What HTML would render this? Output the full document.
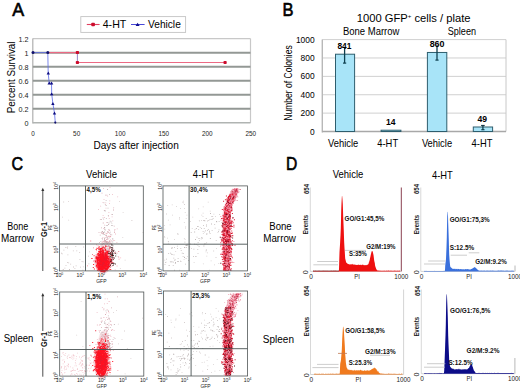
<!DOCTYPE html>
<html><head><meta charset="utf-8"><style>
html,body{margin:0;padding:0;background:#fff;}
svg{display:block;font-family:"Liberation Sans", sans-serif;}
</style></head><body>
<svg width="520" height="391" viewBox="0 0 520 391">
<rect width="520" height="391" fill="#fff"/>
<text x="12.2" y="15.8" font-size="17.8" textLength="11.9" lengthAdjust="spacingAndGlyphs" fill="#000" stroke="#000" stroke-width="0.6">A</text>
<line x1="32.8" y1="38.6" x2="250.5" y2="38.6" stroke="#c8c8c8" stroke-width="1.2"/>
<line x1="250.5" y1="38.6" x2="250.5" y2="122.8" stroke="#c8c8c8" stroke-width="1.2"/>
<line x1="32.8" y1="38.6" x2="32.8" y2="123.5" stroke="#b0b0b0" stroke-width="1.2"/>
<line x1="32.8" y1="52.63333333333334" x2="250.5" y2="52.63333333333334" stroke="#939895" stroke-width="2"/>
<line x1="32.8" y1="66.66666666666666" x2="250.5" y2="66.66666666666666" stroke="#939895" stroke-width="2"/>
<line x1="32.8" y1="80.7" x2="250.5" y2="80.7" stroke="#939895" stroke-width="2"/>
<line x1="32.8" y1="94.73333333333333" x2="250.5" y2="94.73333333333333" stroke="#939895" stroke-width="2"/>
<line x1="32.8" y1="108.76666666666667" x2="250.5" y2="108.76666666666667" stroke="#939895" stroke-width="2"/>
<line x1="32.8" y1="122.8" x2="250.5" y2="122.8" stroke="#b0b4b2" stroke-width="1.4"/>
<text x="28.6" y="41.60000000000001" font-size="7.2" text-anchor="end" fill="#222">1.2</text>
<text x="28.6" y="55.63333333333334" font-size="7.2" text-anchor="end" fill="#222">1</text>
<text x="28.6" y="69.66666666666666" font-size="7.2" text-anchor="end" fill="#222">0.8</text>
<text x="28.6" y="83.7" font-size="7.2" text-anchor="end" fill="#222">0.6</text>
<text x="28.6" y="97.73333333333333" font-size="7.2" text-anchor="end" fill="#222">0.4</text>
<text x="28.6" y="111.76666666666667" font-size="7.2" text-anchor="end" fill="#222">0.2</text>
<text x="28.6" y="125.8" font-size="7.2" text-anchor="end" fill="#222">0</text>
<text x="33.099999999999994" y="135.7" font-size="7.6" text-anchor="middle" textLength="3.55" lengthAdjust="spacingAndGlyphs" fill="#222">0</text>
<text x="76.64" y="135.7" font-size="7.6" text-anchor="middle" textLength="7.1" lengthAdjust="spacingAndGlyphs" fill="#222">50</text>
<text x="120.17999999999999" y="135.7" font-size="7.6" text-anchor="middle" textLength="10.649999999999999" lengthAdjust="spacingAndGlyphs" fill="#222">100</text>
<text x="163.72000000000003" y="135.7" font-size="7.6" text-anchor="middle" textLength="10.649999999999999" lengthAdjust="spacingAndGlyphs" fill="#222">150</text>
<text x="207.26" y="135.7" font-size="7.6" text-anchor="middle" textLength="10.649999999999999" lengthAdjust="spacingAndGlyphs" fill="#222">200</text>
<text x="250.8" y="135.7" font-size="7.6" text-anchor="middle" textLength="10.649999999999999" lengthAdjust="spacingAndGlyphs" fill="#222">250</text>
<text x="93.4" y="148.7" font-size="10.8" textLength="85.4" lengthAdjust="spacingAndGlyphs" fill="#000">Days after injection</text>
<text x="15.4" y="77.4" font-size="10.2" text-anchor="middle" textLength="71.8" lengthAdjust="spacingAndGlyphs" transform="rotate(-90 15.4 77.4)" fill="#000">Percent Survival</text>
<rect x="80.8" y="16.6" width="104.8" height="15.8" fill="#fff" stroke="#c4c4c4" stroke-width="0.9"/>
<line x1="86.8" y1="24.5" x2="99.6" y2="24.5" stroke="#e04060" stroke-width="1.1"/>
<rect x="91.3" y="22.7" width="3.6" height="3.5" rx="0.8" fill="#cc0c2c"/>
<text x="102.7" y="27.7" font-size="10.8" textLength="23.6" lengthAdjust="spacingAndGlyphs" fill="#000">4-HT</text>
<line x1="131.0" y1="24.5" x2="144.6" y2="24.5" stroke="#4848d8" stroke-width="1"/>
<path d="M135.6 26 L137.6 22.8 L139.6 26 Z" fill="#101090"/>
<text x="148" y="27.7" font-size="10.8" textLength="32.8" lengthAdjust="spacingAndGlyphs" fill="#000">Vehicle</text>
<polyline points="48,52.6 77.4,52.6" fill="none" stroke="#ec6a84" stroke-width="1.2"/>
<polyline points="77.4,62.5 225.1,62.5" fill="none" stroke="#ec6a84" stroke-width="1.2"/>
<line x1="77.4" y1="52.6" x2="77.4" y2="62.5" stroke="#8878c0" stroke-width="0.9"/>
<rect x="75.80000000000001" y="51.0" width="3.2" height="3" rx="0.8" fill="#cc0c2c"/>
<rect x="75.80000000000001" y="61.0" width="3.2" height="3" rx="0.8" fill="#cc0c2c"/>
<rect x="223.5" y="61.0" width="3.2" height="3" rx="0.8" fill="#cc0c2c"/>
<polyline points="33,52.6 47.8,52.6 48.2,73.2 49.2,83.1 51.5,83.1 51.7,94.0 52.9,103.6 54.5,113.2 55.3,122.8" fill="none" stroke="#5a6ae6" stroke-width="0.8"/>
<circle cx="33" cy="52.6" r="1.5" fill="#10106a"/>
<circle cx="47.8" cy="52.6" r="1.5" fill="#10106a"/>
<circle cx="55.3" cy="122.6" r="1.1" fill="#10106a"/>
<path d="M46.599999999999994 74.5 L48.3 71.60000000000001 L50.0 74.5 Z" fill="#0c0c80"/>
<path d="M47.5 84.39999999999999 L49.2 81.5 L50.900000000000006 84.39999999999999 Z" fill="#0c0c80"/>
<path d="M49.9 84.39999999999999 L51.6 81.5 L53.300000000000004 84.39999999999999 Z" fill="#0c0c80"/>
<path d="M50.0 95.3 L51.7 92.4 L53.400000000000006 95.3 Z" fill="#0c0c80"/>
<path d="M51.199999999999996 104.89999999999999 L52.9 102.0 L54.6 104.89999999999999 Z" fill="#0c0c80"/>
<path d="M52.8 114.5 L54.5 111.60000000000001 L56.2 114.5 Z" fill="#0c0c80"/>
<text x="282.6" y="15.7" font-size="17.8" textLength="11.0" lengthAdjust="spacingAndGlyphs" fill="#000" stroke="#000" stroke-width="0.6">B</text>
<text x="356.7" y="21.7" font-size="11" textLength="113.9" lengthAdjust="spacingAndGlyphs">1000 GFP<tspan font-size="6" dy="-4">+</tspan><tspan dy="4"> cells / plate</tspan></text>
<text x="342.9" y="34.5" font-size="10" textLength="56.5" lengthAdjust="spacingAndGlyphs" fill="#000">Bone Marrow</text>
<text x="447.7" y="34.5" font-size="10" textLength="28.3" lengthAdjust="spacingAndGlyphs" fill="#000">Spleen</text>
<line x1="322.3" y1="39.599999999999994" x2="506" y2="39.599999999999994" stroke="#d0d0d0" stroke-width="1"/>
<line x1="322.3" y1="57.980000000000004" x2="506" y2="57.980000000000004" stroke="#d0d0d0" stroke-width="1"/>
<line x1="322.3" y1="76.36" x2="506" y2="76.36" stroke="#d0d0d0" stroke-width="1"/>
<line x1="322.3" y1="94.74000000000001" x2="506" y2="94.74000000000001" stroke="#d0d0d0" stroke-width="1"/>
<line x1="322.3" y1="113.12" x2="506" y2="113.12" stroke="#d0d0d0" stroke-width="1"/>
<line x1="506" y1="39.599999999999994" x2="506" y2="131.5" stroke="#c8c8c8" stroke-width="1"/>
<line x1="322.3" y1="39.599999999999994" x2="322.3" y2="132.5" stroke="#b8b8b8" stroke-width="1.4"/>
<line x1="322.3" y1="131.5" x2="506" y2="131.5" stroke="#a8a8a8" stroke-width="1.4"/>
<text x="314.6" y="42.599999999999994" font-size="9.9" text-anchor="end" textLength="18.72" lengthAdjust="spacingAndGlyphs" fill="#000">1000</text>
<text x="314.6" y="60.980000000000004" font-size="9.9" text-anchor="end" textLength="14.04" lengthAdjust="spacingAndGlyphs" fill="#000">800</text>
<text x="314.6" y="79.36" font-size="9.9" text-anchor="end" textLength="14.04" lengthAdjust="spacingAndGlyphs" fill="#000">600</text>
<text x="314.6" y="97.74000000000001" font-size="9.9" text-anchor="end" textLength="14.04" lengthAdjust="spacingAndGlyphs" fill="#000">400</text>
<text x="314.6" y="116.12" font-size="9.9" text-anchor="end" textLength="14.04" lengthAdjust="spacingAndGlyphs" fill="#000">200</text>
<text x="314.6" y="134.5" font-size="9.9" text-anchor="end" textLength="4.68" lengthAdjust="spacingAndGlyphs" fill="#000">0</text>
<text x="291.6" y="83" font-size="10.0" text-anchor="middle" textLength="75.5" lengthAdjust="spacingAndGlyphs" transform="rotate(-90 291.6 83)" fill="#000">Number of Colonies</text>
<rect x="335.5" y="54.21209999999999" width="19.100000000000023" height="77.28790000000001" fill="#a8e4f8" stroke="#2e5e6e" stroke-width="1"/>
<line x1="344.6" y1="47.3" x2="344.6" y2="63.1" stroke="#0e4050" stroke-width="1.3"/>
<line x1="343.0" y1="63.1" x2="346.20000000000005" y2="63.1" stroke="#0e4050" stroke-width="1.2"/>
<rect x="381.1" y="130.2134" width="19.799999999999955" height="1.2865999999999929" fill="#a8e4f8" stroke="#2e5e6e" stroke-width="1"/>
<rect x="427.4" y="52.465999999999994" width="19.400000000000034" height="79.034" fill="#a8e4f8" stroke="#2e5e6e" stroke-width="1"/>
<line x1="437" y1="45.2" x2="437" y2="60.1" stroke="#0e4050" stroke-width="1.3"/>
<line x1="435.4" y1="60.1" x2="438.6" y2="60.1" stroke="#0e4050" stroke-width="1.2"/>
<rect x="473.3" y="126.9969" width="19.30000000000001" height="4.503100000000003" fill="#a8e4f8" stroke="#2e5e6e" stroke-width="1"/>
<line x1="482.9" y1="125.5" x2="482.9" y2="129.7" stroke="#0e4050" stroke-width="1.3"/>
<line x1="481.29999999999995" y1="129.7" x2="484.5" y2="129.7" stroke="#0e4050" stroke-width="1.2"/>
<line x1="481.09999999999997" y1="125.5" x2="484.7" y2="125.5" stroke="#163848" stroke-width="1.2"/>
<text x="344.4" y="48.9" font-size="9.8" text-anchor="middle" font-weight="bold" textLength="14" lengthAdjust="spacingAndGlyphs" fill="#000">841</text>
<text x="390.7" y="124.7" font-size="9.8" text-anchor="middle" font-weight="bold" textLength="9.5" lengthAdjust="spacingAndGlyphs" fill="#000">14</text>
<text x="437.1" y="46.8" font-size="9.8" text-anchor="middle" font-weight="bold" textLength="14.9" lengthAdjust="spacingAndGlyphs" fill="#000">860</text>
<text x="482.3" y="121.5" font-size="9.8" text-anchor="middle" font-weight="bold" textLength="9.6" lengthAdjust="spacingAndGlyphs" fill="#000">49</text>
<text x="343.1" y="146.6" font-size="10.4" text-anchor="middle" textLength="30.2" lengthAdjust="spacingAndGlyphs" fill="#000">Vehicle</text>
<text x="387.7" y="146.6" font-size="10.4" text-anchor="middle" textLength="20.8" lengthAdjust="spacingAndGlyphs" fill="#000">4-HT</text>
<text x="437" y="146.6" font-size="10.4" text-anchor="middle" textLength="30.2" lengthAdjust="spacingAndGlyphs" fill="#000">Vehicle</text>
<text x="482" y="146.6" font-size="10.4" text-anchor="middle" textLength="20.8" lengthAdjust="spacingAndGlyphs" fill="#000">4-HT</text>
<text x="11.4" y="169.8" font-size="17.8" textLength="11.6" lengthAdjust="spacingAndGlyphs" fill="#000" stroke="#000" stroke-width="0.6">C</text>
<text x="101.6" y="178.0" font-size="10.4" text-anchor="middle" textLength="31.0" lengthAdjust="spacingAndGlyphs" fill="#000">Vehicle</text>
<text x="203.5" y="178.0" font-size="10.4" text-anchor="middle" textLength="21.3" lengthAdjust="spacingAndGlyphs" fill="#000">4-HT</text>
<text x="17.8" y="230.2" font-size="10" text-anchor="middle" textLength="21" lengthAdjust="spacingAndGlyphs" fill="#000">Bone</text>
<text x="17.5" y="241.5" font-size="10" text-anchor="middle" textLength="33" lengthAdjust="spacingAndGlyphs" fill="#000">Marrow</text>
<text x="18.5" y="341.8" font-size="10" text-anchor="middle" textLength="29.7" lengthAdjust="spacingAndGlyphs" fill="#000">Spleen</text>
<ellipse cx="103.0" cy="262.0" rx="8.64" ry="11.6" fill="#f8b8c0" opacity="0.7"/>
<ellipse cx="105.0" cy="247.74" rx="5.4" ry="7.54" fill="#f4d0d6" opacity="0.6"/>
<ellipse cx="103.0" cy="262.5" rx="6.66" ry="9.86" fill="#ff1424"/>
<path fill="#d0c4c4" d="M68.1 200.9h0.8v0.8h-0.8zM89.0 251.5h0.8v0.8h-0.8zM131.5 220.1h0.8v0.8h-0.8zM117.7 256.1h0.8v0.8h-0.8zM119.0 201.3h0.8v0.8h-0.8zM142.6 231.9h0.8v0.8h-0.8zM63.3 201.6h0.8v0.8h-0.8zM115.8 254.0h0.8v0.8h-0.8zM122.4 237.0h0.8v0.8h-0.8zM122.7 212.0h0.8v0.8h-0.8zM119.9 268.0h0.8v0.8h-0.8zM67.3 246.4h0.8v0.8h-0.8zM68.3 219.8h0.8v0.8h-0.8zM124.7 259.8h0.8v0.8h-0.8zM111.5 223.2h0.8v0.8h-0.8zM82.9 266.5h0.8v0.8h-0.8zM62.2 216.8h0.8v0.8h-0.8zM105.1 269.7h0.8v0.8h-0.8z"/>
<path fill="#c4b4b4" d="M82.5 269.7h0.8v0.8h-0.8zM69.2 269.1h0.8v0.8h-0.8zM73.2 266.6h0.8v0.8h-0.8zM79.5 259.2h0.8v0.8h-0.8zM61.8 253.5h0.8v0.8h-0.8zM67.1 262.2h0.8v0.8h-0.8zM63.5 249.8h0.8v0.8h-0.8zM82.7 261.4h0.8v0.8h-0.8zM67.1 247.6h0.8v0.8h-0.8zM75.4 246.3h0.8v0.8h-0.8zM70.3 263.8h0.8v0.8h-0.8zM67.5 254.5h0.8v0.8h-0.8zM88.5 263.4h0.8v0.8h-0.8zM75.7 265.4h0.8v0.8h-0.8zM80.0 266.8h0.8v0.8h-0.8zM81.6 261.3h0.8v0.8h-0.8zM85.1 267.1h0.8v0.8h-0.8zM68.3 262.4h0.8v0.8h-0.8zM62.8 269.1h0.8v0.8h-0.8zM74.5 268.3h0.8v0.8h-0.8zM65.5 247.1h0.8v0.8h-0.8zM61.0 252.7h0.8v0.8h-0.8zM88.1 255.7h0.8v0.8h-0.8zM79.3 252.3h0.8v0.8h-0.8zM72.9 250.4h0.8v0.8h-0.8zM64.5 267.7h0.8v0.8h-0.8zM83.3 246.6h0.8v0.8h-0.8zM76.4 250.5h0.8v0.8h-0.8zM65.6 264.9h0.8v0.8h-0.8z"/>
<path fill="#e8a8b4" d="M104.0 240.7h0.8v0.8h-0.8zM112.9 250.8h0.8v0.8h-0.8zM102.5 252.7h0.8v0.8h-0.8zM104.6 237.3h0.8v0.8h-0.8zM105.1 240.2h0.8v0.8h-0.8zM102.1 231.4h0.8v0.8h-0.8zM110.5 242.6h0.8v0.8h-0.8zM106.7 251.7h0.8v0.8h-0.8zM109.4 236.1h0.8v0.8h-0.8zM105.7 241.1h0.8v0.8h-0.8zM107.2 236.5h0.8v0.8h-0.8zM107.0 252.8h0.8v0.8h-0.8zM109.7 235.5h0.8v0.8h-0.8zM112.2 193.9h0.8v0.8h-0.8zM107.9 235.7h0.8v0.8h-0.8zM117.3 196.4h0.8v0.8h-0.8zM104.4 240.1h0.8v0.8h-0.8zM107.4 238.6h0.8v0.8h-0.8zM106.4 251.6h0.8v0.8h-0.8zM103.6 199.2h0.8v0.8h-0.8zM104.0 217.2h0.8v0.8h-0.8zM105.6 207.8h0.8v0.8h-0.8zM107.9 252.2h0.8v0.8h-0.8zM107.9 248.8h0.8v0.8h-0.8zM100.3 205.7h0.8v0.8h-0.8zM103.0 249.8h0.8v0.8h-0.8zM111.7 216.4h0.8v0.8h-0.8zM106.3 222.2h0.8v0.8h-0.8zM107.0 241.5h0.8v0.8h-0.8zM101.2 247.0h0.8v0.8h-0.8zM110.6 240.8h0.8v0.8h-0.8zM112.0 250.7h0.8v0.8h-0.8zM102.6 202.2h0.8v0.8h-0.8zM108.3 246.1h0.8v0.8h-0.8zM98.0 209.3h0.8v0.8h-0.8zM110.1 236.4h0.8v0.8h-0.8zM105.2 235.3h0.8v0.8h-0.8zM115.0 233.6h0.8v0.8h-0.8zM108.5 212.3h0.8v0.8h-0.8zM110.1 239.4h0.8v0.8h-0.8zM114.1 231.5h0.8v0.8h-0.8zM109.0 251.3h0.8v0.8h-0.8zM105.6 237.5h0.8v0.8h-0.8zM102.5 236.9h0.8v0.8h-0.8zM107.4 240.9h0.8v0.8h-0.8zM103.2 233.1h0.8v0.8h-0.8zM101.9 242.5h0.8v0.8h-0.8zM112.9 240.0h0.8v0.8h-0.8zM105.6 245.8h0.8v0.8h-0.8zM111.0 250.5h0.8v0.8h-0.8zM103.5 228.1h0.8v0.8h-0.8zM114.6 229.0h0.8v0.8h-0.8zM104.8 240.7h0.8v0.8h-0.8zM106.5 241.8h0.8v0.8h-0.8zM114.3 239.9h0.8v0.8h-0.8zM109.3 230.1h0.8v0.8h-0.8zM113.0 248.6h0.8v0.8h-0.8zM111.0 252.2h0.8v0.8h-0.8zM109.0 246.3h0.8v0.8h-0.8zM105.9 251.1h0.8v0.8h-0.8zM110.6 250.0h0.8v0.8h-0.8zM106.6 233.0h0.8v0.8h-0.8zM108.8 218.3h0.8v0.8h-0.8zM109.8 243.6h0.8v0.8h-0.8zM107.6 242.9h0.8v0.8h-0.8zM105.4 202.4h0.8v0.8h-0.8zM109.6 187.0h0.8v0.8h-0.8zM107.2 245.9h0.8v0.8h-0.8zM116.5 242.2h0.8v0.8h-0.8zM108.3 236.2h0.8v0.8h-0.8zM109.4 200.4h0.8v0.8h-0.8zM108.1 224.2h0.8v0.8h-0.8zM104.3 238.5h0.8v0.8h-0.8zM106.8 253.2h0.8v0.8h-0.8zM109.3 243.5h0.8v0.8h-0.8zM109.1 202.9h0.8v0.8h-0.8zM108.8 244.7h0.8v0.8h-0.8zM108.9 248.5h0.8v0.8h-0.8zM110.3 236.1h0.8v0.8h-0.8zM109.1 240.2h0.8v0.8h-0.8zM105.5 232.8h0.8v0.8h-0.8zM108.9 251.3h0.8v0.8h-0.8zM112.4 220.5h0.8v0.8h-0.8zM106.1 239.1h0.8v0.8h-0.8zM104.3 224.8h0.8v0.8h-0.8zM104.0 251.9h0.8v0.8h-0.8zM106.3 233.5h0.8v0.8h-0.8zM101.6 238.3h0.8v0.8h-0.8zM105.8 242.8h0.8v0.8h-0.8zM101.6 251.3h0.8v0.8h-0.8zM107.3 195.8h0.8v0.8h-0.8zM102.7 215.2h0.8v0.8h-0.8zM101.7 240.7h0.8v0.8h-0.8zM116.8 228.5h0.8v0.8h-0.8zM103.2 188.2h0.8v0.8h-0.8zM110.6 252.2h0.8v0.8h-0.8zM108.0 215.7h0.8v0.8h-0.8zM102.8 252.1h0.8v0.8h-0.8zM105.9 235.1h0.8v0.8h-0.8zM104.4 244.0h0.8v0.8h-0.8zM110.3 246.9h0.8v0.8h-0.8zM107.6 245.8h0.8v0.8h-0.8z"/>
<path fill="#d09aa4" d="M102.4 250.1h0.8v0.8h-0.8zM104.4 252.7h0.8v0.8h-0.8zM109.5 253.0h0.8v0.8h-0.8zM102.8 222.6h0.8v0.8h-0.8zM107.6 250.4h0.8v0.8h-0.8zM107.4 242.0h0.8v0.8h-0.8zM99.0 242.0h0.8v0.8h-0.8zM105.6 242.4h0.8v0.8h-0.8zM104.9 249.7h0.8v0.8h-0.8zM101.8 233.1h0.8v0.8h-0.8zM109.5 241.0h0.8v0.8h-0.8zM108.6 229.2h0.8v0.8h-0.8zM101.8 249.2h0.8v0.8h-0.8zM107.6 251.8h0.8v0.8h-0.8zM107.5 238.5h0.8v0.8h-0.8zM104.1 238.9h0.8v0.8h-0.8zM105.3 194.8h0.8v0.8h-0.8zM113.3 207.5h0.8v0.8h-0.8zM109.0 249.3h0.8v0.8h-0.8zM108.8 241.2h0.8v0.8h-0.8zM106.0 244.7h0.8v0.8h-0.8zM101.8 252.3h0.8v0.8h-0.8zM104.2 249.5h0.8v0.8h-0.8zM107.1 231.6h0.8v0.8h-0.8zM104.5 248.4h0.8v0.8h-0.8zM114.1 232.2h0.8v0.8h-0.8zM102.6 217.5h0.8v0.8h-0.8zM113.6 252.9h0.8v0.8h-0.8zM111.0 252.2h0.8v0.8h-0.8zM108.3 229.4h0.8v0.8h-0.8zM115.0 251.5h0.8v0.8h-0.8zM98.6 232.0h0.8v0.8h-0.8zM106.5 194.8h0.8v0.8h-0.8zM107.0 248.4h0.8v0.8h-0.8zM106.8 253.3h0.8v0.8h-0.8zM107.1 231.8h0.8v0.8h-0.8zM111.6 247.8h0.8v0.8h-0.8zM101.7 246.1h0.8v0.8h-0.8zM111.5 214.2h0.8v0.8h-0.8zM104.9 251.3h0.8v0.8h-0.8zM101.0 227.5h0.8v0.8h-0.8zM111.4 234.4h0.8v0.8h-0.8zM96.3 249.9h0.8v0.8h-0.8zM101.5 232.9h0.8v0.8h-0.8zM107.3 238.6h0.8v0.8h-0.8zM111.9 249.8h0.8v0.8h-0.8zM113.0 209.6h0.8v0.8h-0.8zM103.4 241.2h0.8v0.8h-0.8zM105.2 250.1h0.8v0.8h-0.8zM111.4 249.4h0.8v0.8h-0.8zM102.1 231.3h0.8v0.8h-0.8zM108.8 246.0h0.8v0.8h-0.8zM113.8 225.8h0.8v0.8h-0.8zM99.8 234.7h0.8v0.8h-0.8zM99.9 219.3h0.8v0.8h-0.8zM101.4 248.7h0.8v0.8h-0.8zM104.9 204.2h0.8v0.8h-0.8zM107.0 252.2h0.8v0.8h-0.8zM107.6 231.2h0.8v0.8h-0.8zM109.4 233.0h0.8v0.8h-0.8zM100.8 232.1h0.8v0.8h-0.8zM100.6 251.4h0.8v0.8h-0.8zM109.8 248.2h0.8v0.8h-0.8zM104.1 252.1h0.8v0.8h-0.8zM103.9 210.2h0.8v0.8h-0.8zM103.1 232.4h0.8v0.8h-0.8zM101.6 192.7h0.8v0.8h-0.8zM106.1 252.1h0.8v0.8h-0.8zM114.3 229.7h0.8v0.8h-0.8zM108.4 232.1h0.8v0.8h-0.8zM109.6 248.2h0.8v0.8h-0.8z"/>
<path fill="#b8a8ac" d="M112.4 241.6h0.8v0.8h-0.8zM104.2 231.4h0.8v0.8h-0.8zM101.0 218.9h0.8v0.8h-0.8zM107.1 243.4h0.8v0.8h-0.8zM103.9 246.9h0.8v0.8h-0.8zM113.6 251.4h0.8v0.8h-0.8zM108.8 237.4h0.8v0.8h-0.8zM114.0 253.3h0.8v0.8h-0.8zM105.0 249.3h0.8v0.8h-0.8zM106.7 237.1h0.8v0.8h-0.8zM102.1 247.8h0.8v0.8h-0.8zM102.2 244.2h0.8v0.8h-0.8zM108.3 248.7h0.8v0.8h-0.8zM105.1 240.0h0.8v0.8h-0.8zM100.9 244.5h0.8v0.8h-0.8zM106.7 251.8h0.8v0.8h-0.8zM109.7 220.7h0.8v0.8h-0.8zM102.8 233.9h0.8v0.8h-0.8zM112.0 214.2h0.8v0.8h-0.8zM111.2 253.3h0.8v0.8h-0.8zM110.7 221.6h0.8v0.8h-0.8zM108.1 252.0h0.8v0.8h-0.8zM104.7 210.6h0.8v0.8h-0.8zM104.5 229.1h0.8v0.8h-0.8zM107.4 246.3h0.8v0.8h-0.8zM104.1 240.5h0.8v0.8h-0.8zM104.9 241.2h0.8v0.8h-0.8zM112.5 246.6h0.8v0.8h-0.8zM106.9 251.9h0.8v0.8h-0.8zM103.4 243.1h0.8v0.8h-0.8zM105.7 205.1h0.8v0.8h-0.8zM112.5 238.6h0.8v0.8h-0.8zM104.5 210.0h0.8v0.8h-0.8zM107.0 222.0h0.8v0.8h-0.8zM107.2 189.1h0.8v0.8h-0.8zM100.4 241.0h0.8v0.8h-0.8zM101.7 230.9h0.8v0.8h-0.8zM109.3 242.3h0.8v0.8h-0.8zM105.9 225.3h0.8v0.8h-0.8zM109.1 194.2h0.8v0.8h-0.8zM102.2 238.6h0.8v0.8h-0.8zM104.2 238.2h0.8v0.8h-0.8zM103.5 232.0h0.8v0.8h-0.8zM104.1 227.1h0.8v0.8h-0.8zM106.1 242.3h0.8v0.8h-0.8zM108.1 242.3h0.8v0.8h-0.8zM110.8 247.1h0.8v0.8h-0.8zM107.9 215.2h0.8v0.8h-0.8zM109.9 231.8h0.8v0.8h-0.8zM111.1 225.3h0.8v0.8h-0.8zM105.0 247.0h0.8v0.8h-0.8zM106.0 241.0h0.8v0.8h-0.8zM103.2 246.6h0.8v0.8h-0.8zM103.5 252.2h0.8v0.8h-0.8zM111.4 240.4h0.8v0.8h-0.8zM109.7 242.8h0.8v0.8h-0.8zM112.8 245.2h0.8v0.8h-0.8zM111.9 238.4h0.8v0.8h-0.8zM106.0 248.8h0.8v0.8h-0.8zM105.9 218.0h0.8v0.8h-0.8zM103.3 218.8h0.8v0.8h-0.8zM104.4 227.4h0.8v0.8h-0.8zM108.0 245.0h0.8v0.8h-0.8zM102.7 231.9h0.8v0.8h-0.8zM106.0 235.6h0.8v0.8h-0.8zM103.6 202.4h0.8v0.8h-0.8zM114.1 249.8h0.8v0.8h-0.8zM107.2 224.9h0.8v0.8h-0.8zM104.6 242.0h0.8v0.8h-0.8zM112.3 224.9h0.8v0.8h-0.8zM104.4 234.1h0.8v0.8h-0.8zM105.7 200.2h0.8v0.8h-0.8zM110.3 233.9h0.8v0.8h-0.8zM99.8 252.6h0.8v0.8h-0.8zM108.3 224.2h0.8v0.8h-0.8zM104.8 229.8h0.8v0.8h-0.8zM107.6 207.7h0.8v0.8h-0.8zM108.6 222.6h0.8v0.8h-0.8z"/>
<path fill="#f07080" d="M102.0 259.7h0.9v0.9h-0.9zM90.3 240.5h0.9v0.9h-0.9zM114.1 252.3h0.9v0.9h-0.9zM98.5 263.0h0.9v0.9h-0.9zM101.1 253.7h0.9v0.9h-0.9zM108.2 260.0h0.9v0.9h-0.9zM112.4 259.6h0.9v0.9h-0.9zM98.7 256.0h0.9v0.9h-0.9zM97.8 260.6h0.9v0.9h-0.9zM98.9 255.3h0.9v0.9h-0.9zM107.1 260.7h0.9v0.9h-0.9zM107.6 250.4h0.9v0.9h-0.9zM106.5 263.4h0.9v0.9h-0.9zM100.7 265.5h0.9v0.9h-0.9zM93.1 260.7h0.9v0.9h-0.9zM94.8 265.7h0.9v0.9h-0.9zM94.8 261.1h0.9v0.9h-0.9zM98.3 259.2h0.9v0.9h-0.9zM107.3 259.2h0.9v0.9h-0.9zM111.4 257.8h0.9v0.9h-0.9zM94.3 260.2h0.9v0.9h-0.9zM87.0 265.4h0.9v0.9h-0.9zM118.3 251.1h0.9v0.9h-0.9zM112.1 258.8h0.9v0.9h-0.9zM101.8 256.5h0.9v0.9h-0.9zM103.6 268.8h0.9v0.9h-0.9zM104.3 268.6h0.9v0.9h-0.9zM103.5 254.1h0.9v0.9h-0.9zM116.5 252.7h0.9v0.9h-0.9zM92.0 254.0h0.9v0.9h-0.9zM106.1 263.6h0.9v0.9h-0.9zM102.6 254.9h0.9v0.9h-0.9zM99.7 262.6h0.9v0.9h-0.9zM104.6 254.2h0.9v0.9h-0.9zM108.9 269.1h0.9v0.9h-0.9zM118.3 256.7h0.9v0.9h-0.9zM107.9 261.9h0.9v0.9h-0.9zM102.8 252.6h0.9v0.9h-0.9zM102.0 254.2h0.9v0.9h-0.9zM97.2 257.4h0.9v0.9h-0.9zM100.7 256.5h0.9v0.9h-0.9zM111.6 249.6h0.9v0.9h-0.9zM101.6 259.5h0.9v0.9h-0.9zM118.6 258.7h0.9v0.9h-0.9zM109.8 267.1h0.9v0.9h-0.9zM99.1 263.6h0.9v0.9h-0.9zM102.5 257.1h0.9v0.9h-0.9zM93.1 247.4h0.9v0.9h-0.9zM108.9 256.6h0.9v0.9h-0.9zM111.7 257.4h0.9v0.9h-0.9zM101.8 251.8h0.9v0.9h-0.9zM100.5 250.2h0.9v0.9h-0.9zM100.4 260.4h0.9v0.9h-0.9zM108.2 253.0h0.9v0.9h-0.9zM95.6 254.5h0.9v0.9h-0.9z"/>
<path fill="#f8a8b4" d="M96.1 265.7h0.9v0.9h-0.9zM93.2 260.5h0.9v0.9h-0.9zM103.5 252.2h0.9v0.9h-0.9zM97.3 257.1h0.9v0.9h-0.9zM102.4 251.8h0.9v0.9h-0.9zM102.7 261.4h0.9v0.9h-0.9zM101.4 267.8h0.9v0.9h-0.9zM95.4 260.5h0.9v0.9h-0.9zM103.7 260.9h0.9v0.9h-0.9zM96.4 251.7h0.9v0.9h-0.9zM95.9 256.8h0.9v0.9h-0.9zM111.4 266.1h0.9v0.9h-0.9zM116.6 265.5h0.9v0.9h-0.9zM105.8 259.4h0.9v0.9h-0.9zM101.1 247.5h0.9v0.9h-0.9zM104.7 266.7h0.9v0.9h-0.9zM104.6 256.8h0.9v0.9h-0.9zM102.2 257.8h0.9v0.9h-0.9zM97.5 266.2h0.9v0.9h-0.9zM103.6 263.7h0.9v0.9h-0.9zM105.6 253.9h0.9v0.9h-0.9zM97.6 245.3h0.9v0.9h-0.9zM112.8 258.3h0.9v0.9h-0.9zM107.9 257.1h0.9v0.9h-0.9zM101.0 247.7h0.9v0.9h-0.9zM111.6 261.3h0.9v0.9h-0.9zM99.2 251.7h0.9v0.9h-0.9zM104.0 255.1h0.9v0.9h-0.9zM94.5 257.5h0.9v0.9h-0.9zM99.1 258.2h0.9v0.9h-0.9zM105.7 262.2h0.9v0.9h-0.9zM109.9 243.4h0.9v0.9h-0.9zM98.9 252.1h0.9v0.9h-0.9zM104.5 253.9h0.9v0.9h-0.9zM95.8 262.8h0.9v0.9h-0.9zM110.7 253.6h0.9v0.9h-0.9zM97.6 261.4h0.9v0.9h-0.9zM97.0 261.5h0.9v0.9h-0.9zM100.0 263.0h0.9v0.9h-0.9zM100.2 255.6h0.9v0.9h-0.9zM107.3 260.0h0.9v0.9h-0.9zM106.8 253.4h0.9v0.9h-0.9zM97.8 267.2h0.9v0.9h-0.9zM102.4 258.9h0.9v0.9h-0.9zM98.1 256.6h0.9v0.9h-0.9zM100.5 256.3h0.9v0.9h-0.9zM107.3 259.3h0.9v0.9h-0.9zM100.7 265.4h0.9v0.9h-0.9zM101.9 261.9h0.9v0.9h-0.9zM112.5 262.1h0.9v0.9h-0.9zM113.3 262.6h0.9v0.9h-0.9zM107.6 265.1h0.9v0.9h-0.9zM107.1 260.0h0.9v0.9h-0.9zM96.0 244.3h0.9v0.9h-0.9zM112.8 257.6h0.9v0.9h-0.9zM105.4 257.2h0.9v0.9h-0.9zM107.4 258.6h0.9v0.9h-0.9zM110.4 258.8h0.9v0.9h-0.9zM105.4 250.9h0.9v0.9h-0.9zM97.9 253.5h0.9v0.9h-0.9zM99.0 262.7h0.9v0.9h-0.9zM99.4 261.6h0.9v0.9h-0.9zM102.2 257.7h0.9v0.9h-0.9zM103.9 256.2h0.9v0.9h-0.9zM105.7 254.2h0.9v0.9h-0.9zM94.6 260.1h0.9v0.9h-0.9zM114.7 269.4h0.9v0.9h-0.9zM109.8 252.5h0.9v0.9h-0.9zM100.9 266.9h0.9v0.9h-0.9zM106.2 266.4h0.9v0.9h-0.9zM105.4 249.4h0.9v0.9h-0.9zM107.4 250.8h0.9v0.9h-0.9zM120.2 257.4h0.9v0.9h-0.9zM92.1 258.0h0.9v0.9h-0.9zM105.2 261.2h0.9v0.9h-0.9zM102.3 244.4h0.9v0.9h-0.9zM111.1 264.2h0.9v0.9h-0.9zM96.0 249.8h0.9v0.9h-0.9zM104.0 255.5h0.9v0.9h-0.9zM103.7 252.9h0.9v0.9h-0.9zM112.2 264.9h0.9v0.9h-0.9zM97.6 264.8h0.9v0.9h-0.9z"/>
<path fill="#ff1020" d="M103.0 259.1h1.0v1.0h-1.0zM102.0 267.5h1.0v1.0h-1.0zM99.8 263.4h1.0v1.0h-1.0zM101.4 264.4h1.0v1.0h-1.0zM99.4 257.6h1.0v1.0h-1.0zM101.2 263.8h1.0v1.0h-1.0zM100.8 264.5h1.0v1.0h-1.0zM104.8 248.7h1.0v1.0h-1.0zM104.3 264.2h1.0v1.0h-1.0zM103.4 259.4h1.0v1.0h-1.0zM99.7 263.0h1.0v1.0h-1.0zM102.9 264.5h1.0v1.0h-1.0zM105.5 258.5h1.0v1.0h-1.0zM98.2 250.7h1.0v1.0h-1.0zM101.4 262.6h1.0v1.0h-1.0zM96.2 256.2h1.0v1.0h-1.0zM98.4 258.6h1.0v1.0h-1.0zM102.2 258.5h1.0v1.0h-1.0zM98.4 247.1h1.0v1.0h-1.0zM104.0 267.6h1.0v1.0h-1.0zM103.6 262.0h1.0v1.0h-1.0zM102.3 266.9h1.0v1.0h-1.0zM101.1 260.6h1.0v1.0h-1.0zM102.8 250.0h1.0v1.0h-1.0zM103.4 255.3h1.0v1.0h-1.0zM97.5 253.5h1.0v1.0h-1.0zM101.3 257.6h1.0v1.0h-1.0zM99.5 261.0h1.0v1.0h-1.0zM100.1 248.9h1.0v1.0h-1.0zM106.8 262.5h1.0v1.0h-1.0zM102.9 262.2h1.0v1.0h-1.0zM106.2 259.9h1.0v1.0h-1.0zM100.9 258.7h1.0v1.0h-1.0zM102.6 260.1h1.0v1.0h-1.0zM103.4 257.4h1.0v1.0h-1.0zM103.2 256.9h1.0v1.0h-1.0zM98.6 250.7h1.0v1.0h-1.0zM103.3 260.3h1.0v1.0h-1.0zM106.1 268.2h1.0v1.0h-1.0zM103.4 264.6h1.0v1.0h-1.0zM100.7 256.6h1.0v1.0h-1.0zM110.2 268.9h1.0v1.0h-1.0zM105.7 260.2h1.0v1.0h-1.0zM98.7 260.1h1.0v1.0h-1.0zM103.3 258.8h1.0v1.0h-1.0zM105.1 261.0h1.0v1.0h-1.0zM102.3 258.0h1.0v1.0h-1.0zM105.5 260.0h1.0v1.0h-1.0zM100.6 260.1h1.0v1.0h-1.0zM103.7 259.1h1.0v1.0h-1.0zM101.3 263.6h1.0v1.0h-1.0zM103.5 264.6h1.0v1.0h-1.0zM100.9 259.3h1.0v1.0h-1.0zM102.3 265.8h1.0v1.0h-1.0zM106.2 262.1h1.0v1.0h-1.0zM107.1 261.2h1.0v1.0h-1.0zM98.2 269.5h1.0v1.0h-1.0zM100.1 256.6h1.0v1.0h-1.0zM105.3 261.0h1.0v1.0h-1.0zM95.8 257.5h1.0v1.0h-1.0zM101.3 269.1h1.0v1.0h-1.0zM102.6 249.2h1.0v1.0h-1.0zM107.5 256.6h1.0v1.0h-1.0zM105.5 257.4h1.0v1.0h-1.0zM101.7 264.0h1.0v1.0h-1.0zM102.1 268.6h1.0v1.0h-1.0zM108.5 251.4h1.0v1.0h-1.0zM101.5 264.9h1.0v1.0h-1.0zM101.9 258.8h1.0v1.0h-1.0zM104.3 256.6h1.0v1.0h-1.0zM102.6 263.6h1.0v1.0h-1.0zM102.3 255.2h1.0v1.0h-1.0zM99.0 248.5h1.0v1.0h-1.0zM103.0 258.4h1.0v1.0h-1.0zM101.4 251.8h1.0v1.0h-1.0zM107.2 256.7h1.0v1.0h-1.0zM105.4 262.7h1.0v1.0h-1.0zM101.8 259.3h1.0v1.0h-1.0zM106.8 251.6h1.0v1.0h-1.0zM103.0 256.1h1.0v1.0h-1.0zM105.1 255.2h1.0v1.0h-1.0zM98.4 253.4h1.0v1.0h-1.0zM104.2 263.0h1.0v1.0h-1.0zM96.9 256.8h1.0v1.0h-1.0zM95.7 249.0h1.0v1.0h-1.0zM101.9 264.5h1.0v1.0h-1.0zM99.8 259.9h1.0v1.0h-1.0zM103.6 262.6h1.0v1.0h-1.0zM103.7 267.7h1.0v1.0h-1.0zM104.8 263.0h1.0v1.0h-1.0zM102.4 262.8h1.0v1.0h-1.0zM102.3 262.9h1.0v1.0h-1.0zM105.5 252.1h1.0v1.0h-1.0zM104.9 259.5h1.0v1.0h-1.0zM99.3 259.0h1.0v1.0h-1.0zM102.7 261.7h1.0v1.0h-1.0zM103.1 252.6h1.0v1.0h-1.0zM103.9 261.1h1.0v1.0h-1.0zM99.9 253.5h1.0v1.0h-1.0zM106.5 250.6h1.0v1.0h-1.0zM103.7 258.9h1.0v1.0h-1.0zM103.3 260.0h1.0v1.0h-1.0zM100.9 256.3h1.0v1.0h-1.0zM102.6 261.0h1.0v1.0h-1.0zM95.8 256.8h1.0v1.0h-1.0zM98.9 263.7h1.0v1.0h-1.0zM104.3 256.3h1.0v1.0h-1.0zM95.3 260.3h1.0v1.0h-1.0zM106.0 266.2h1.0v1.0h-1.0zM105.7 254.7h1.0v1.0h-1.0zM100.0 257.8h1.0v1.0h-1.0zM105.8 255.6h1.0v1.0h-1.0zM103.5 265.0h1.0v1.0h-1.0zM97.5 253.8h1.0v1.0h-1.0zM107.5 257.7h1.0v1.0h-1.0zM108.2 260.3h1.0v1.0h-1.0zM102.8 254.8h1.0v1.0h-1.0zM102.0 254.9h1.0v1.0h-1.0zM102.4 257.7h1.0v1.0h-1.0zM99.5 248.3h1.0v1.0h-1.0zM107.0 252.1h1.0v1.0h-1.0zM101.0 258.1h1.0v1.0h-1.0zM102.8 261.4h1.0v1.0h-1.0zM100.1 259.4h1.0v1.0h-1.0zM100.7 250.2h1.0v1.0h-1.0zM98.4 257.8h1.0v1.0h-1.0zM107.5 265.1h1.0v1.0h-1.0zM102.4 263.7h1.0v1.0h-1.0zM103.0 255.4h1.0v1.0h-1.0zM100.5 264.2h1.0v1.0h-1.0zM101.8 257.1h1.0v1.0h-1.0zM101.0 253.7h1.0v1.0h-1.0zM103.0 255.8h1.0v1.0h-1.0zM101.6 268.9h1.0v1.0h-1.0zM101.9 261.8h1.0v1.0h-1.0zM98.0 267.2h1.0v1.0h-1.0zM100.1 257.7h1.0v1.0h-1.0zM109.0 265.9h1.0v1.0h-1.0zM100.6 257.0h1.0v1.0h-1.0zM108.1 264.9h1.0v1.0h-1.0zM97.8 257.6h1.0v1.0h-1.0zM102.2 260.0h1.0v1.0h-1.0zM100.7 262.4h1.0v1.0h-1.0zM96.7 267.5h1.0v1.0h-1.0zM105.6 257.7h1.0v1.0h-1.0zM102.9 250.4h1.0v1.0h-1.0zM103.3 258.9h1.0v1.0h-1.0zM100.3 260.6h1.0v1.0h-1.0zM104.6 261.1h1.0v1.0h-1.0zM101.1 268.1h1.0v1.0h-1.0zM102.5 262.3h1.0v1.0h-1.0zM99.0 265.2h1.0v1.0h-1.0zM98.6 254.1h1.0v1.0h-1.0zM107.8 265.5h1.0v1.0h-1.0zM104.1 265.0h1.0v1.0h-1.0zM102.9 262.0h1.0v1.0h-1.0zM101.4 261.4h1.0v1.0h-1.0zM101.9 259.9h1.0v1.0h-1.0zM103.1 264.8h1.0v1.0h-1.0zM107.2 258.0h1.0v1.0h-1.0zM105.4 262.3h1.0v1.0h-1.0zM104.4 258.9h1.0v1.0h-1.0zM101.0 261.2h1.0v1.0h-1.0zM98.0 259.7h1.0v1.0h-1.0zM106.4 253.9h1.0v1.0h-1.0zM106.5 260.4h1.0v1.0h-1.0zM102.5 265.6h1.0v1.0h-1.0zM105.0 254.9h1.0v1.0h-1.0zM105.8 259.1h1.0v1.0h-1.0zM106.0 264.4h1.0v1.0h-1.0zM106.3 254.3h1.0v1.0h-1.0zM101.4 261.6h1.0v1.0h-1.0zM98.5 267.1h1.0v1.0h-1.0zM106.1 259.2h1.0v1.0h-1.0zM109.8 264.8h1.0v1.0h-1.0zM108.3 261.2h1.0v1.0h-1.0zM98.9 261.1h1.0v1.0h-1.0zM96.9 269.5h1.0v1.0h-1.0zM105.9 252.8h1.0v1.0h-1.0zM99.3 266.6h1.0v1.0h-1.0zM103.0 260.2h1.0v1.0h-1.0zM106.0 268.7h1.0v1.0h-1.0zM97.1 261.6h1.0v1.0h-1.0zM103.9 262.1h1.0v1.0h-1.0zM103.2 264.8h1.0v1.0h-1.0zM102.1 260.7h1.0v1.0h-1.0zM103.1 263.3h1.0v1.0h-1.0zM99.9 257.5h1.0v1.0h-1.0zM97.6 248.1h1.0v1.0h-1.0zM99.5 264.6h1.0v1.0h-1.0zM104.8 260.9h1.0v1.0h-1.0zM102.8 266.5h1.0v1.0h-1.0zM104.5 257.8h1.0v1.0h-1.0zM99.4 256.4h1.0v1.0h-1.0zM100.6 259.4h1.0v1.0h-1.0zM99.4 267.4h1.0v1.0h-1.0zM99.8 252.5h1.0v1.0h-1.0zM103.7 267.4h1.0v1.0h-1.0zM100.2 256.8h1.0v1.0h-1.0zM104.3 254.1h1.0v1.0h-1.0zM104.2 267.8h1.0v1.0h-1.0zM110.3 259.9h1.0v1.0h-1.0zM98.0 253.0h1.0v1.0h-1.0zM106.2 258.4h1.0v1.0h-1.0zM102.7 265.9h1.0v1.0h-1.0zM102.9 267.4h1.0v1.0h-1.0zM97.8 258.0h1.0v1.0h-1.0zM101.3 262.9h1.0v1.0h-1.0zM105.7 264.6h1.0v1.0h-1.0zM102.7 256.8h1.0v1.0h-1.0zM103.3 262.6h1.0v1.0h-1.0zM102.0 260.3h1.0v1.0h-1.0zM107.2 257.4h1.0v1.0h-1.0zM102.9 257.6h1.0v1.0h-1.0zM100.5 260.7h1.0v1.0h-1.0zM95.9 257.2h1.0v1.0h-1.0zM91.3 258.0h1.0v1.0h-1.0zM101.1 267.0h1.0v1.0h-1.0zM107.8 261.7h1.0v1.0h-1.0zM103.2 265.6h1.0v1.0h-1.0zM98.8 267.5h1.0v1.0h-1.0zM99.6 263.9h1.0v1.0h-1.0zM103.6 255.7h1.0v1.0h-1.0zM103.2 265.2h1.0v1.0h-1.0zM102.8 258.7h1.0v1.0h-1.0zM105.0 249.2h1.0v1.0h-1.0zM103.8 254.9h1.0v1.0h-1.0zM99.2 264.4h1.0v1.0h-1.0zM104.8 265.1h1.0v1.0h-1.0zM106.9 260.1h1.0v1.0h-1.0zM98.4 263.1h1.0v1.0h-1.0zM102.5 264.3h1.0v1.0h-1.0zM103.0 260.0h1.0v1.0h-1.0zM109.2 247.4h1.0v1.0h-1.0zM101.3 254.5h1.0v1.0h-1.0zM105.8 266.1h1.0v1.0h-1.0zM93.6 255.3h1.0v1.0h-1.0zM103.9 262.7h1.0v1.0h-1.0zM102.8 255.2h1.0v1.0h-1.0zM103.3 255.2h1.0v1.0h-1.0zM99.1 251.4h1.0v1.0h-1.0zM102.0 260.3h1.0v1.0h-1.0zM102.4 263.4h1.0v1.0h-1.0zM104.2 259.7h1.0v1.0h-1.0zM103.0 266.6h1.0v1.0h-1.0zM108.5 260.6h1.0v1.0h-1.0zM101.0 260.0h1.0v1.0h-1.0zM101.6 263.8h1.0v1.0h-1.0zM96.5 266.6h1.0v1.0h-1.0zM106.5 259.1h1.0v1.0h-1.0zM106.3 259.6h1.0v1.0h-1.0zM105.4 261.0h1.0v1.0h-1.0zM103.4 255.3h1.0v1.0h-1.0zM103.8 266.5h1.0v1.0h-1.0zM102.1 258.2h1.0v1.0h-1.0zM102.3 263.2h1.0v1.0h-1.0zM103.2 255.7h1.0v1.0h-1.0zM108.4 262.6h1.0v1.0h-1.0zM105.0 262.8h1.0v1.0h-1.0zM102.8 258.1h1.0v1.0h-1.0zM100.7 262.7h1.0v1.0h-1.0zM104.8 266.1h1.0v1.0h-1.0zM103.2 256.7h1.0v1.0h-1.0zM101.8 258.3h1.0v1.0h-1.0zM99.0 263.0h1.0v1.0h-1.0zM102.8 260.9h1.0v1.0h-1.0zM106.1 260.8h1.0v1.0h-1.0zM101.6 258.8h1.0v1.0h-1.0zM102.2 250.0h1.0v1.0h-1.0zM102.2 259.2h1.0v1.0h-1.0zM103.4 247.6h1.0v1.0h-1.0zM97.3 262.7h1.0v1.0h-1.0zM102.2 256.3h1.0v1.0h-1.0zM99.9 256.4h1.0v1.0h-1.0zM100.2 262.1h1.0v1.0h-1.0zM105.1 252.2h1.0v1.0h-1.0zM108.5 250.4h1.0v1.0h-1.0zM101.9 254.3h1.0v1.0h-1.0zM100.8 248.7h1.0v1.0h-1.0zM103.7 254.9h1.0v1.0h-1.0zM103.0 269.7h1.0v1.0h-1.0zM104.7 264.3h1.0v1.0h-1.0zM110.3 252.5h1.0v1.0h-1.0zM102.3 258.6h1.0v1.0h-1.0zM99.2 260.2h1.0v1.0h-1.0zM104.1 263.8h1.0v1.0h-1.0zM99.0 261.6h1.0v1.0h-1.0zM107.6 261.2h1.0v1.0h-1.0zM99.7 254.9h1.0v1.0h-1.0zM106.9 263.9h1.0v1.0h-1.0zM103.9 265.3h1.0v1.0h-1.0zM102.3 249.0h1.0v1.0h-1.0zM100.9 258.8h1.0v1.0h-1.0zM98.1 265.6h1.0v1.0h-1.0zM103.2 258.5h1.0v1.0h-1.0zM108.3 255.9h1.0v1.0h-1.0zM106.5 259.0h1.0v1.0h-1.0zM99.6 252.5h1.0v1.0h-1.0zM99.9 261.2h1.0v1.0h-1.0zM104.1 267.1h1.0v1.0h-1.0zM102.3 254.1h1.0v1.0h-1.0zM104.1 258.2h1.0v1.0h-1.0zM101.9 266.3h1.0v1.0h-1.0zM103.7 256.5h1.0v1.0h-1.0zM102.7 265.6h1.0v1.0h-1.0zM104.8 265.5h1.0v1.0h-1.0zM109.7 258.3h1.0v1.0h-1.0zM105.1 254.0h1.0v1.0h-1.0zM103.2 251.5h1.0v1.0h-1.0zM96.9 256.4h1.0v1.0h-1.0zM104.4 247.6h1.0v1.0h-1.0zM96.0 264.8h1.0v1.0h-1.0zM106.1 263.3h1.0v1.0h-1.0zM102.5 267.3h1.0v1.0h-1.0zM96.8 253.8h1.0v1.0h-1.0zM100.6 267.2h1.0v1.0h-1.0zM105.3 256.2h1.0v1.0h-1.0zM111.1 255.0h1.0v1.0h-1.0zM103.8 259.9h1.0v1.0h-1.0zM100.2 251.2h1.0v1.0h-1.0zM98.8 269.0h1.0v1.0h-1.0zM102.8 246.5h1.0v1.0h-1.0zM102.4 254.1h1.0v1.0h-1.0zM98.9 258.9h1.0v1.0h-1.0zM103.4 259.2h1.0v1.0h-1.0zM98.9 261.5h1.0v1.0h-1.0zM107.0 262.1h1.0v1.0h-1.0zM106.8 259.3h1.0v1.0h-1.0zM106.9 267.1h1.0v1.0h-1.0zM101.3 248.1h1.0v1.0h-1.0zM104.9 260.5h1.0v1.0h-1.0zM102.5 256.4h1.0v1.0h-1.0zM101.6 261.3h1.0v1.0h-1.0zM101.8 261.8h1.0v1.0h-1.0zM98.3 255.2h1.0v1.0h-1.0zM97.8 256.8h1.0v1.0h-1.0zM105.9 265.1h1.0v1.0h-1.0zM102.3 262.5h1.0v1.0h-1.0zM103.8 256.6h1.0v1.0h-1.0zM100.2 252.0h1.0v1.0h-1.0zM101.6 265.0h1.0v1.0h-1.0zM106.7 261.8h1.0v1.0h-1.0zM98.6 257.4h1.0v1.0h-1.0zM99.6 259.3h1.0v1.0h-1.0zM104.7 264.8h1.0v1.0h-1.0zM96.2 258.2h1.0v1.0h-1.0zM107.9 257.9h1.0v1.0h-1.0zM105.2 253.5h1.0v1.0h-1.0zM107.8 260.2h1.0v1.0h-1.0zM101.6 255.3h1.0v1.0h-1.0zM101.9 259.5h1.0v1.0h-1.0zM98.9 266.5h1.0v1.0h-1.0zM112.1 262.6h1.0v1.0h-1.0zM102.4 263.4h1.0v1.0h-1.0zM108.7 262.6h1.0v1.0h-1.0zM100.7 260.8h1.0v1.0h-1.0zM103.6 259.8h1.0v1.0h-1.0zM97.0 258.7h1.0v1.0h-1.0zM101.6 264.9h1.0v1.0h-1.0zM106.5 254.2h1.0v1.0h-1.0zM98.5 268.3h1.0v1.0h-1.0zM106.9 260.7h1.0v1.0h-1.0zM104.2 256.2h1.0v1.0h-1.0zM99.2 257.7h1.0v1.0h-1.0zM101.2 256.6h1.0v1.0h-1.0zM101.3 261.4h1.0v1.0h-1.0zM102.8 256.3h1.0v1.0h-1.0zM101.1 267.1h1.0v1.0h-1.0zM100.0 256.0h1.0v1.0h-1.0zM101.9 247.3h1.0v1.0h-1.0zM99.3 256.3h1.0v1.0h-1.0zM98.4 248.9h1.0v1.0h-1.0zM106.2 266.6h1.0v1.0h-1.0zM97.5 264.3h1.0v1.0h-1.0zM103.0 252.7h1.0v1.0h-1.0zM100.7 256.1h1.0v1.0h-1.0zM106.1 262.3h1.0v1.0h-1.0zM101.1 260.5h1.0v1.0h-1.0zM108.4 266.6h1.0v1.0h-1.0zM102.2 261.3h1.0v1.0h-1.0zM100.3 262.6h1.0v1.0h-1.0zM105.1 264.1h1.0v1.0h-1.0zM102.4 256.9h1.0v1.0h-1.0zM105.2 254.4h1.0v1.0h-1.0zM102.8 260.8h1.0v1.0h-1.0zM99.1 255.0h1.0v1.0h-1.0zM102.6 260.1h1.0v1.0h-1.0zM103.2 261.1h1.0v1.0h-1.0zM99.7 255.6h1.0v1.0h-1.0zM102.9 259.8h1.0v1.0h-1.0zM96.8 259.5h1.0v1.0h-1.0zM105.3 263.0h1.0v1.0h-1.0zM99.1 266.6h1.0v1.0h-1.0zM96.5 257.7h1.0v1.0h-1.0zM102.8 255.7h1.0v1.0h-1.0zM107.0 251.0h1.0v1.0h-1.0zM97.5 255.1h1.0v1.0h-1.0zM100.3 260.8h1.0v1.0h-1.0zM98.9 254.6h1.0v1.0h-1.0zM104.4 258.3h1.0v1.0h-1.0zM100.4 263.4h1.0v1.0h-1.0zM105.1 257.1h1.0v1.0h-1.0zM100.3 259.0h1.0v1.0h-1.0zM104.6 250.0h1.0v1.0h-1.0zM99.5 253.8h1.0v1.0h-1.0zM98.6 269.9h1.0v1.0h-1.0zM96.4 247.8h1.0v1.0h-1.0zM109.7 258.5h1.0v1.0h-1.0zM101.8 261.8h1.0v1.0h-1.0zM103.9 258.3h1.0v1.0h-1.0zM102.9 255.8h1.0v1.0h-1.0zM103.6 260.1h1.0v1.0h-1.0zM103.2 260.5h1.0v1.0h-1.0zM109.9 260.0h1.0v1.0h-1.0zM97.4 259.6h1.0v1.0h-1.0zM99.4 255.5h1.0v1.0h-1.0zM98.2 257.3h1.0v1.0h-1.0zM105.7 261.8h1.0v1.0h-1.0zM106.0 264.2h1.0v1.0h-1.0zM99.5 265.7h1.0v1.0h-1.0zM98.0 257.6h1.0v1.0h-1.0zM101.7 265.9h1.0v1.0h-1.0zM108.0 267.3h1.0v1.0h-1.0zM104.9 268.6h1.0v1.0h-1.0zM99.1 259.7h1.0v1.0h-1.0zM106.7 259.5h1.0v1.0h-1.0zM99.1 265.3h1.0v1.0h-1.0zM102.0 252.6h1.0v1.0h-1.0zM97.6 261.7h1.0v1.0h-1.0zM99.5 257.4h1.0v1.0h-1.0zM108.0 258.4h1.0v1.0h-1.0zM106.0 250.4h1.0v1.0h-1.0zM101.6 255.3h1.0v1.0h-1.0zM99.9 260.4h1.0v1.0h-1.0zM96.2 265.7h1.0v1.0h-1.0zM101.6 266.2h1.0v1.0h-1.0zM102.9 260.0h1.0v1.0h-1.0zM102.7 259.4h1.0v1.0h-1.0zM102.7 255.7h1.0v1.0h-1.0zM99.0 262.8h1.0v1.0h-1.0zM102.8 259.1h1.0v1.0h-1.0zM102.9 264.0h1.0v1.0h-1.0zM102.5 251.8h1.0v1.0h-1.0zM100.2 255.5h1.0v1.0h-1.0zM102.8 252.0h1.0v1.0h-1.0zM100.8 253.6h1.0v1.0h-1.0zM100.3 268.1h1.0v1.0h-1.0zM102.8 261.8h1.0v1.0h-1.0zM99.2 251.7h1.0v1.0h-1.0zM105.2 264.3h1.0v1.0h-1.0zM102.6 267.8h1.0v1.0h-1.0zM103.9 258.4h1.0v1.0h-1.0zM102.3 256.6h1.0v1.0h-1.0zM100.4 258.5h1.0v1.0h-1.0zM99.6 262.2h1.0v1.0h-1.0zM101.0 267.4h1.0v1.0h-1.0zM103.8 267.5h1.0v1.0h-1.0zM103.0 267.4h1.0v1.0h-1.0zM98.1 268.4h1.0v1.0h-1.0zM103.2 264.3h1.0v1.0h-1.0zM98.2 251.6h1.0v1.0h-1.0zM100.8 259.7h1.0v1.0h-1.0zM101.9 262.3h1.0v1.0h-1.0zM95.5 258.3h1.0v1.0h-1.0zM103.3 265.8h1.0v1.0h-1.0zM103.5 258.4h1.0v1.0h-1.0zM102.4 255.1h1.0v1.0h-1.0zM101.5 268.9h1.0v1.0h-1.0zM101.7 264.4h1.0v1.0h-1.0zM102.0 265.9h1.0v1.0h-1.0zM101.0 266.7h1.0v1.0h-1.0zM103.3 262.5h1.0v1.0h-1.0zM98.7 246.2h1.0v1.0h-1.0zM103.8 256.6h1.0v1.0h-1.0zM103.5 257.9h1.0v1.0h-1.0zM102.5 254.8h1.0v1.0h-1.0zM101.4 261.7h1.0v1.0h-1.0zM97.0 257.7h1.0v1.0h-1.0zM104.7 253.9h1.0v1.0h-1.0zM104.0 257.9h1.0v1.0h-1.0zM104.4 253.3h1.0v1.0h-1.0zM100.6 261.9h1.0v1.0h-1.0zM102.1 263.0h1.0v1.0h-1.0zM105.3 256.4h1.0v1.0h-1.0zM97.5 255.1h1.0v1.0h-1.0zM104.9 261.5h1.0v1.0h-1.0zM107.2 265.0h1.0v1.0h-1.0zM106.6 256.8h1.0v1.0h-1.0zM103.8 262.4h1.0v1.0h-1.0zM97.4 260.0h1.0v1.0h-1.0zM102.5 256.4h1.0v1.0h-1.0zM93.9 268.5h1.0v1.0h-1.0zM104.4 260.2h1.0v1.0h-1.0zM97.6 259.8h1.0v1.0h-1.0zM98.3 264.7h1.0v1.0h-1.0zM100.7 265.7h1.0v1.0h-1.0zM107.6 267.8h1.0v1.0h-1.0zM101.7 262.4h1.0v1.0h-1.0zM104.0 257.0h1.0v1.0h-1.0zM109.3 257.4h1.0v1.0h-1.0zM108.7 263.5h1.0v1.0h-1.0zM102.6 263.9h1.0v1.0h-1.0zM102.1 268.6h1.0v1.0h-1.0zM98.5 262.9h1.0v1.0h-1.0zM100.5 266.6h1.0v1.0h-1.0zM104.4 261.5h1.0v1.0h-1.0zM103.4 251.9h1.0v1.0h-1.0zM100.2 252.2h1.0v1.0h-1.0zM102.8 269.7h1.0v1.0h-1.0zM105.6 255.6h1.0v1.0h-1.0zM105.1 267.6h1.0v1.0h-1.0zM106.9 263.9h1.0v1.0h-1.0zM101.9 266.3h1.0v1.0h-1.0zM104.3 259.9h1.0v1.0h-1.0zM99.4 259.3h1.0v1.0h-1.0zM97.1 261.0h1.0v1.0h-1.0zM105.1 261.5h1.0v1.0h-1.0zM102.8 257.4h1.0v1.0h-1.0zM104.1 260.3h1.0v1.0h-1.0zM96.9 269.8h1.0v1.0h-1.0zM101.7 250.6h1.0v1.0h-1.0zM100.8 262.0h1.0v1.0h-1.0zM99.9 255.2h1.0v1.0h-1.0zM94.9 261.6h1.0v1.0h-1.0zM101.8 265.4h1.0v1.0h-1.0zM106.2 260.2h1.0v1.0h-1.0zM104.4 265.0h1.0v1.0h-1.0zM100.8 251.3h1.0v1.0h-1.0zM102.9 266.9h1.0v1.0h-1.0zM105.7 257.0h1.0v1.0h-1.0zM93.1 264.1h1.0v1.0h-1.0zM102.6 261.6h1.0v1.0h-1.0zM105.5 256.1h1.0v1.0h-1.0zM109.1 261.8h1.0v1.0h-1.0zM107.1 269.5h1.0v1.0h-1.0zM104.1 262.2h1.0v1.0h-1.0zM104.1 262.0h1.0v1.0h-1.0zM105.8 252.3h1.0v1.0h-1.0zM101.1 268.8h1.0v1.0h-1.0zM106.3 260.7h1.0v1.0h-1.0zM110.0 259.2h1.0v1.0h-1.0zM102.4 251.1h1.0v1.0h-1.0zM102.8 265.6h1.0v1.0h-1.0zM102.9 267.8h1.0v1.0h-1.0zM99.5 254.8h1.0v1.0h-1.0zM102.3 268.3h1.0v1.0h-1.0zM105.8 259.3h1.0v1.0h-1.0zM106.8 262.1h1.0v1.0h-1.0zM97.6 265.6h1.0v1.0h-1.0zM99.7 262.9h1.0v1.0h-1.0zM104.2 262.7h1.0v1.0h-1.0zM100.6 256.1h1.0v1.0h-1.0zM97.5 253.0h1.0v1.0h-1.0zM106.7 260.9h1.0v1.0h-1.0zM104.8 256.4h1.0v1.0h-1.0zM101.3 253.2h1.0v1.0h-1.0zM106.7 257.7h1.0v1.0h-1.0zM102.1 249.8h1.0v1.0h-1.0zM106.9 252.7h1.0v1.0h-1.0zM99.7 251.0h1.0v1.0h-1.0zM99.9 261.6h1.0v1.0h-1.0zM105.4 251.8h1.0v1.0h-1.0zM103.9 256.6h1.0v1.0h-1.0zM99.7 265.8h1.0v1.0h-1.0zM103.3 259.2h1.0v1.0h-1.0zM101.7 258.6h1.0v1.0h-1.0zM100.7 258.5h1.0v1.0h-1.0zM101.4 253.8h1.0v1.0h-1.0zM107.4 252.9h1.0v1.0h-1.0zM110.2 262.3h1.0v1.0h-1.0zM103.2 252.5h1.0v1.0h-1.0zM103.8 254.8h1.0v1.0h-1.0zM99.5 256.8h1.0v1.0h-1.0zM103.4 264.1h1.0v1.0h-1.0zM104.6 263.8h1.0v1.0h-1.0zM97.1 258.7h1.0v1.0h-1.0zM97.8 262.9h1.0v1.0h-1.0zM105.4 257.2h1.0v1.0h-1.0zM100.3 248.1h1.0v1.0h-1.0zM102.5 258.9h1.0v1.0h-1.0zM103.8 264.9h1.0v1.0h-1.0zM105.2 269.7h1.0v1.0h-1.0zM101.8 247.8h1.0v1.0h-1.0zM99.8 254.0h1.0v1.0h-1.0zM101.7 266.1h1.0v1.0h-1.0zM99.3 267.7h1.0v1.0h-1.0zM107.1 266.2h1.0v1.0h-1.0zM102.9 261.4h1.0v1.0h-1.0zM100.3 253.8h1.0v1.0h-1.0zM101.7 264.1h1.0v1.0h-1.0zM102.2 256.4h1.0v1.0h-1.0zM105.5 245.9h1.0v1.0h-1.0zM99.3 264.6h1.0v1.0h-1.0zM112.1 255.2h1.0v1.0h-1.0zM106.4 269.0h1.0v1.0h-1.0z"/>
<path fill="#e8182c" d="M104.1 258.4h1.0v1.0h-1.0zM96.4 257.0h1.0v1.0h-1.0zM100.1 251.7h1.0v1.0h-1.0zM102.8 254.2h1.0v1.0h-1.0zM105.4 258.3h1.0v1.0h-1.0zM98.7 254.0h1.0v1.0h-1.0zM101.8 264.3h1.0v1.0h-1.0zM102.9 262.3h1.0v1.0h-1.0zM105.4 269.7h1.0v1.0h-1.0zM111.1 261.1h1.0v1.0h-1.0zM100.0 264.2h1.0v1.0h-1.0zM100.8 260.7h1.0v1.0h-1.0zM106.5 260.0h1.0v1.0h-1.0zM99.2 259.6h1.0v1.0h-1.0zM105.3 255.1h1.0v1.0h-1.0zM102.5 263.2h1.0v1.0h-1.0zM108.5 254.4h1.0v1.0h-1.0zM95.4 256.6h1.0v1.0h-1.0zM102.4 265.7h1.0v1.0h-1.0zM97.1 261.4h1.0v1.0h-1.0zM95.1 260.9h1.0v1.0h-1.0zM100.5 264.8h1.0v1.0h-1.0zM98.2 266.5h1.0v1.0h-1.0zM108.3 264.2h1.0v1.0h-1.0zM104.4 259.2h1.0v1.0h-1.0zM107.3 266.4h1.0v1.0h-1.0zM108.6 258.5h1.0v1.0h-1.0zM106.2 259.2h1.0v1.0h-1.0zM99.4 254.4h1.0v1.0h-1.0zM102.1 262.2h1.0v1.0h-1.0zM108.5 259.1h1.0v1.0h-1.0zM105.0 260.2h1.0v1.0h-1.0zM103.8 255.4h1.0v1.0h-1.0zM102.9 255.7h1.0v1.0h-1.0zM97.9 256.8h1.0v1.0h-1.0zM101.7 265.5h1.0v1.0h-1.0zM103.6 262.3h1.0v1.0h-1.0zM103.8 259.3h1.0v1.0h-1.0zM105.9 257.3h1.0v1.0h-1.0zM102.8 260.3h1.0v1.0h-1.0zM104.4 268.0h1.0v1.0h-1.0zM99.1 263.6h1.0v1.0h-1.0zM100.1 260.7h1.0v1.0h-1.0zM99.3 249.6h1.0v1.0h-1.0zM92.8 267.1h1.0v1.0h-1.0zM109.7 260.3h1.0v1.0h-1.0zM102.1 264.2h1.0v1.0h-1.0zM99.5 261.8h1.0v1.0h-1.0zM105.0 267.4h1.0v1.0h-1.0zM104.6 265.1h1.0v1.0h-1.0zM103.7 257.7h1.0v1.0h-1.0zM104.5 269.3h1.0v1.0h-1.0zM106.6 253.7h1.0v1.0h-1.0zM105.0 245.5h1.0v1.0h-1.0zM107.8 264.7h1.0v1.0h-1.0zM108.3 263.6h1.0v1.0h-1.0zM102.3 253.3h1.0v1.0h-1.0zM104.8 252.9h1.0v1.0h-1.0zM103.7 262.9h1.0v1.0h-1.0zM111.1 262.4h1.0v1.0h-1.0zM108.5 263.6h1.0v1.0h-1.0zM102.6 263.8h1.0v1.0h-1.0zM100.0 250.2h1.0v1.0h-1.0zM102.6 269.7h1.0v1.0h-1.0zM105.6 269.5h1.0v1.0h-1.0zM110.4 260.4h1.0v1.0h-1.0z"/>
<path fill="#3a1414" d="M111.6 250.5h0.9v0.9h-0.9zM111.3 247.1h0.9v0.9h-0.9zM113.2 263.7h0.9v0.9h-0.9zM111.6 249.1h0.9v0.9h-0.9zM110.5 256.1h0.9v0.9h-0.9zM115.0 252.8h0.9v0.9h-0.9zM109.8 246.5h0.9v0.9h-0.9zM111.3 253.8h0.9v0.9h-0.9zM112.9 258.8h0.9v0.9h-0.9zM109.8 254.6h0.9v0.9h-0.9zM111.3 260.2h0.9v0.9h-0.9zM112.1 253.7h0.9v0.9h-0.9zM115.3 255.5h0.9v0.9h-0.9zM110.1 253.6h0.9v0.9h-0.9zM111.4 257.2h0.9v0.9h-0.9zM112.6 265.0h0.9v0.9h-0.9zM111.6 257.3h0.9v0.9h-0.9zM109.6 256.5h0.9v0.9h-0.9zM112.2 252.4h0.9v0.9h-0.9zM111.7 251.7h0.9v0.9h-0.9zM112.2 262.8h0.9v0.9h-0.9zM113.3 249.9h0.9v0.9h-0.9zM113.1 250.9h0.9v0.9h-0.9zM112.2 255.0h0.9v0.9h-0.9zM112.0 253.4h0.9v0.9h-0.9zM109.7 265.3h0.9v0.9h-0.9zM111.3 243.7h0.9v0.9h-0.9zM111.9 257.3h0.9v0.9h-0.9zM110.9 259.1h0.9v0.9h-0.9zM111.7 249.9h0.9v0.9h-0.9zM110.2 252.3h0.9v0.9h-0.9zM114.0 257.7h0.9v0.9h-0.9zM114.9 263.6h0.9v0.9h-0.9zM110.9 250.9h0.9v0.9h-0.9zM112.1 247.6h0.9v0.9h-0.9zM111.1 260.4h0.9v0.9h-0.9zM113.5 263.1h0.9v0.9h-0.9zM112.2 253.8h0.9v0.9h-0.9zM111.6 244.4h0.9v0.9h-0.9zM111.1 262.8h0.9v0.9h-0.9zM111.7 254.5h0.9v0.9h-0.9zM109.9 261.1h0.9v0.9h-0.9zM112.6 255.3h0.9v0.9h-0.9zM110.4 253.6h0.9v0.9h-0.9zM112.4 253.2h0.9v0.9h-0.9zM111.7 262.9h0.9v0.9h-0.9zM113.3 262.7h0.9v0.9h-0.9zM111.5 244.8h0.9v0.9h-0.9zM113.1 250.8h0.9v0.9h-0.9zM110.0 264.4h0.9v0.9h-0.9zM112.5 253.7h0.9v0.9h-0.9zM111.1 248.7h0.9v0.9h-0.9zM111.8 255.5h0.9v0.9h-0.9zM111.6 255.0h0.9v0.9h-0.9zM113.0 255.0h0.9v0.9h-0.9zM108.3 253.1h0.9v0.9h-0.9zM112.0 253.9h0.9v0.9h-0.9zM109.1 253.2h0.9v0.9h-0.9zM113.4 257.2h0.9v0.9h-0.9zM108.3 251.4h0.9v0.9h-0.9z"/>
<ellipse cx="101.5" cy="362.0" rx="8.16" ry="17.2" fill="#f8b8c0" opacity="0.7"/>
<ellipse cx="103.5" cy="341.58" rx="5.1" ry="11.18" fill="#f4d0d6" opacity="0.6"/>
<ellipse cx="101.5" cy="362.5" rx="6.29" ry="14.62" fill="#ff1424"/>
<path fill="#d0c4c4" d="M124.0 330.6h0.8v0.8h-0.8zM126.9 348.2h0.8v0.8h-0.8zM116.1 310.0h0.8v0.8h-0.8zM118.2 343.5h0.8v0.8h-0.8zM82.5 346.3h0.8v0.8h-0.8zM130.5 358.0h0.8v0.8h-0.8zM109.7 373.7h0.8v0.8h-0.8zM76.3 334.7h0.8v0.8h-0.8zM117.9 323.8h0.8v0.8h-0.8zM113.2 312.2h0.8v0.8h-0.8zM108.4 325.4h0.8v0.8h-0.8zM100.4 333.7h0.8v0.8h-0.8zM124.7 373.4h0.8v0.8h-0.8zM121.6 338.9h0.8v0.8h-0.8zM110.1 351.4h0.8v0.8h-0.8zM67.2 355.8h0.8v0.8h-0.8zM80.7 301.0h0.8v0.8h-0.8zM142.1 317.7h0.8v0.8h-0.8z"/>
<path fill="#f0c0c8" d="M77.1 352.8h0.8v0.8h-0.8zM62.4 352.7h0.8v0.8h-0.8zM65.3 353.2h0.8v0.8h-0.8zM83.5 355.5h0.8v0.8h-0.8zM81.1 370.5h0.8v0.8h-0.8zM64.9 366.2h0.8v0.8h-0.8zM64.3 369.5h0.8v0.8h-0.8zM86.3 365.2h0.8v0.8h-0.8zM75.0 360.2h0.8v0.8h-0.8zM70.3 370.8h0.8v0.8h-0.8zM82.5 355.7h0.8v0.8h-0.8zM81.0 360.4h0.8v0.8h-0.8zM90.8 361.7h0.8v0.8h-0.8zM63.8 368.2h0.8v0.8h-0.8zM84.0 370.2h0.8v0.8h-0.8zM74.6 365.4h0.8v0.8h-0.8zM68.2 366.5h0.8v0.8h-0.8zM75.8 358.4h0.8v0.8h-0.8zM61.3 366.1h0.8v0.8h-0.8zM64.5 372.2h0.8v0.8h-0.8zM64.0 362.3h0.8v0.8h-0.8zM81.7 370.0h0.8v0.8h-0.8zM82.2 364.0h0.8v0.8h-0.8zM68.1 364.1h0.8v0.8h-0.8zM70.0 366.5h0.8v0.8h-0.8zM84.1 354.9h0.8v0.8h-0.8zM72.4 356.8h0.8v0.8h-0.8zM71.3 355.8h0.8v0.8h-0.8zM89.3 364.7h0.8v0.8h-0.8zM77.2 368.0h0.8v0.8h-0.8zM77.0 368.9h0.8v0.8h-0.8zM79.2 356.6h0.8v0.8h-0.8zM61.9 359.7h0.8v0.8h-0.8zM72.8 355.1h0.8v0.8h-0.8zM84.6 367.6h0.8v0.8h-0.8zM80.4 361.8h0.8v0.8h-0.8zM87.7 358.2h0.8v0.8h-0.8zM70.1 357.0h0.8v0.8h-0.8zM75.1 374.8h0.8v0.8h-0.8zM67.8 363.4h0.8v0.8h-0.8zM63.5 359.4h0.8v0.8h-0.8zM66.7 356.8h0.8v0.8h-0.8zM65.7 369.1h0.8v0.8h-0.8zM74.0 373.9h0.8v0.8h-0.8zM73.2 355.5h0.8v0.8h-0.8zM83.9 372.7h0.8v0.8h-0.8zM84.3 366.0h0.8v0.8h-0.8zM77.1 373.7h0.8v0.8h-0.8zM80.6 374.8h0.8v0.8h-0.8zM74.9 362.0h0.8v0.8h-0.8zM70.1 374.7h0.8v0.8h-0.8zM76.0 355.9h0.8v0.8h-0.8zM79.8 362.4h0.8v0.8h-0.8zM89.6 362.4h0.8v0.8h-0.8zM85.4 357.5h0.8v0.8h-0.8zM62.7 363.4h0.8v0.8h-0.8zM80.1 370.0h0.8v0.8h-0.8zM63.5 354.2h0.8v0.8h-0.8zM79.6 363.3h0.8v0.8h-0.8zM86.4 364.4h0.8v0.8h-0.8zM81.9 356.3h0.8v0.8h-0.8zM64.3 367.3h0.8v0.8h-0.8zM73.5 357.7h0.8v0.8h-0.8zM66.6 365.5h0.8v0.8h-0.8zM80.7 365.6h0.8v0.8h-0.8zM82.2 369.9h0.8v0.8h-0.8zM83.0 374.5h0.8v0.8h-0.8zM71.5 374.3h0.8v0.8h-0.8zM78.8 363.9h0.8v0.8h-0.8zM67.0 358.0h0.8v0.8h-0.8zM88.9 357.5h0.8v0.8h-0.8zM89.1 370.8h0.8v0.8h-0.8zM61.6 370.2h0.8v0.8h-0.8zM77.8 371.0h0.8v0.8h-0.8zM82.5 372.0h0.8v0.8h-0.8zM67.7 365.4h0.8v0.8h-0.8zM61.7 373.6h0.8v0.8h-0.8zM60.8 367.7h0.8v0.8h-0.8zM82.1 367.0h0.8v0.8h-0.8zM61.1 372.1h0.8v0.8h-0.8zM72.4 367.5h0.8v0.8h-0.8zM84.9 370.4h0.8v0.8h-0.8zM62.3 374.4h0.8v0.8h-0.8zM82.1 361.2h0.8v0.8h-0.8zM73.8 370.0h0.8v0.8h-0.8zM72.5 358.8h0.8v0.8h-0.8zM75.4 363.5h0.8v0.8h-0.8zM71.4 373.0h0.8v0.8h-0.8zM81.0 374.8h0.8v0.8h-0.8zM72.4 370.1h0.8v0.8h-0.8zM64.3 372.4h0.8v0.8h-0.8zM76.0 373.3h0.8v0.8h-0.8zM91.0 366.5h0.8v0.8h-0.8zM87.7 357.5h0.8v0.8h-0.8zM62.8 351.9h0.8v0.8h-0.8zM71.5 370.2h0.8v0.8h-0.8zM74.9 370.2h0.8v0.8h-0.8zM73.0 369.5h0.8v0.8h-0.8zM64.1 365.8h0.8v0.8h-0.8zM66.3 367.7h0.8v0.8h-0.8zM76.9 369.2h0.8v0.8h-0.8zM82.5 364.6h0.8v0.8h-0.8zM82.4 367.7h0.8v0.8h-0.8zM81.1 357.0h0.8v0.8h-0.8zM81.1 364.6h0.8v0.8h-0.8zM61.0 367.0h0.8v0.8h-0.8zM67.3 365.5h0.8v0.8h-0.8zM70.9 357.8h0.8v0.8h-0.8zM68.5 354.6h0.8v0.8h-0.8zM72.5 367.6h0.8v0.8h-0.8zM72.8 354.3h0.8v0.8h-0.8zM71.0 371.0h0.8v0.8h-0.8zM61.0 356.0h0.8v0.8h-0.8zM86.9 370.5h0.8v0.8h-0.8zM89.7 360.2h0.8v0.8h-0.8zM79.4 373.7h0.8v0.8h-0.8zM69.0 357.1h0.8v0.8h-0.8zM74.3 355.4h0.8v0.8h-0.8zM88.3 368.1h0.8v0.8h-0.8zM78.9 370.5h0.8v0.8h-0.8zM81.8 360.1h0.8v0.8h-0.8zM81.9 363.1h0.8v0.8h-0.8zM90.4 367.8h0.8v0.8h-0.8zM80.5 358.8h0.8v0.8h-0.8zM64.0 361.1h0.8v0.8h-0.8zM76.0 365.4h0.8v0.8h-0.8zM88.6 359.0h0.8v0.8h-0.8zM64.6 355.1h0.8v0.8h-0.8z"/>
<path fill="#e8a8b4" d="M106.3 317.2h0.8v0.8h-0.8zM107.8 347.6h0.8v0.8h-0.8zM110.2 324.2h0.8v0.8h-0.8zM102.2 344.0h0.8v0.8h-0.8zM110.4 321.2h0.8v0.8h-0.8zM107.6 345.7h0.8v0.8h-0.8zM96.9 339.0h0.8v0.8h-0.8zM100.4 343.4h0.8v0.8h-0.8zM106.7 335.6h0.8v0.8h-0.8zM107.1 344.6h0.8v0.8h-0.8zM108.9 343.6h0.8v0.8h-0.8zM104.1 303.5h0.8v0.8h-0.8zM108.7 301.1h0.8v0.8h-0.8zM108.1 311.1h0.8v0.8h-0.8zM99.0 331.6h0.8v0.8h-0.8zM101.1 335.9h0.8v0.8h-0.8zM106.7 338.1h0.8v0.8h-0.8zM104.9 337.1h0.8v0.8h-0.8zM100.2 336.7h0.8v0.8h-0.8zM105.5 330.5h0.8v0.8h-0.8zM107.7 337.3h0.8v0.8h-0.8zM105.2 319.7h0.8v0.8h-0.8zM108.3 335.2h0.8v0.8h-0.8zM96.7 312.3h0.8v0.8h-0.8zM101.6 344.0h0.8v0.8h-0.8zM99.8 342.3h0.8v0.8h-0.8zM102.0 339.0h0.8v0.8h-0.8zM106.2 330.8h0.8v0.8h-0.8zM105.1 337.9h0.8v0.8h-0.8zM104.1 336.7h0.8v0.8h-0.8zM113.7 329.9h0.8v0.8h-0.8zM101.8 337.4h0.8v0.8h-0.8zM112.3 329.3h0.8v0.8h-0.8zM101.9 307.3h0.8v0.8h-0.8zM106.4 341.0h0.8v0.8h-0.8zM94.1 347.4h0.8v0.8h-0.8zM98.7 330.0h0.8v0.8h-0.8zM106.6 336.8h0.8v0.8h-0.8zM105.7 335.6h0.8v0.8h-0.8zM110.5 336.3h0.8v0.8h-0.8zM104.3 338.1h0.8v0.8h-0.8zM104.7 298.5h0.8v0.8h-0.8zM101.8 336.6h0.8v0.8h-0.8zM106.4 347.3h0.8v0.8h-0.8zM104.3 329.6h0.8v0.8h-0.8zM105.2 337.5h0.8v0.8h-0.8zM108.4 337.8h0.8v0.8h-0.8zM100.9 317.7h0.8v0.8h-0.8zM105.0 349.8h0.8v0.8h-0.8zM103.7 341.8h0.8v0.8h-0.8zM106.7 331.3h0.8v0.8h-0.8zM113.0 350.0h0.8v0.8h-0.8zM107.6 346.9h0.8v0.8h-0.8zM107.5 339.9h0.8v0.8h-0.8zM105.4 340.6h0.8v0.8h-0.8zM103.6 338.7h0.8v0.8h-0.8zM105.3 326.9h0.8v0.8h-0.8zM98.8 338.7h0.8v0.8h-0.8zM111.0 330.2h0.8v0.8h-0.8zM106.9 298.4h0.8v0.8h-0.8zM107.6 337.4h0.8v0.8h-0.8zM107.4 346.7h0.8v0.8h-0.8zM107.6 335.7h0.8v0.8h-0.8zM110.6 349.2h0.8v0.8h-0.8zM109.9 334.8h0.8v0.8h-0.8zM103.0 343.3h0.8v0.8h-0.8zM101.7 348.2h0.8v0.8h-0.8zM106.7 309.2h0.8v0.8h-0.8zM96.9 324.6h0.8v0.8h-0.8zM101.4 338.3h0.8v0.8h-0.8zM101.3 345.3h0.8v0.8h-0.8zM103.8 347.3h0.8v0.8h-0.8zM100.8 321.0h0.8v0.8h-0.8zM111.5 343.8h0.8v0.8h-0.8zM100.5 339.5h0.8v0.8h-0.8zM104.3 340.5h0.8v0.8h-0.8zM105.5 333.2h0.8v0.8h-0.8zM108.5 342.4h0.8v0.8h-0.8zM108.6 324.8h0.8v0.8h-0.8zM104.3 342.7h0.8v0.8h-0.8zM104.0 344.4h0.8v0.8h-0.8zM108.6 312.5h0.8v0.8h-0.8zM103.5 317.1h0.8v0.8h-0.8zM97.7 342.8h0.8v0.8h-0.8zM113.6 337.0h0.8v0.8h-0.8zM106.8 302.9h0.8v0.8h-0.8zM103.5 342.8h0.8v0.8h-0.8zM104.2 337.6h0.8v0.8h-0.8zM104.7 343.7h0.8v0.8h-0.8zM103.1 347.9h0.8v0.8h-0.8zM104.3 349.9h0.8v0.8h-0.8zM103.6 347.9h0.8v0.8h-0.8zM100.8 345.6h0.8v0.8h-0.8zM98.9 324.7h0.8v0.8h-0.8zM102.4 345.4h0.8v0.8h-0.8zM104.2 342.9h0.8v0.8h-0.8zM99.8 324.1h0.8v0.8h-0.8zM108.4 349.4h0.8v0.8h-0.8zM107.2 349.8h0.8v0.8h-0.8zM108.8 347.4h0.8v0.8h-0.8zM106.0 332.2h0.8v0.8h-0.8zM104.6 293.7h0.8v0.8h-0.8zM98.0 342.9h0.8v0.8h-0.8zM106.6 334.8h0.8v0.8h-0.8zM106.0 339.5h0.8v0.8h-0.8zM111.8 349.5h0.8v0.8h-0.8zM103.4 309.5h0.8v0.8h-0.8zM105.7 350.0h0.8v0.8h-0.8zM105.5 349.4h0.8v0.8h-0.8zM105.9 349.6h0.8v0.8h-0.8zM102.7 344.6h0.8v0.8h-0.8zM103.7 349.2h0.8v0.8h-0.8zM111.4 329.6h0.8v0.8h-0.8zM106.9 336.0h0.8v0.8h-0.8zM102.6 348.9h0.8v0.8h-0.8zM106.2 312.5h0.8v0.8h-0.8z"/>
<path fill="#d09aa4" d="M103.6 345.5h0.8v0.8h-0.8zM107.6 333.4h0.8v0.8h-0.8zM109.6 339.2h0.8v0.8h-0.8zM105.9 347.6h0.8v0.8h-0.8zM100.9 340.5h0.8v0.8h-0.8zM107.6 335.4h0.8v0.8h-0.8zM104.0 344.9h0.8v0.8h-0.8zM103.2 345.5h0.8v0.8h-0.8zM108.2 317.7h0.8v0.8h-0.8zM108.3 345.7h0.8v0.8h-0.8zM111.0 324.6h0.8v0.8h-0.8zM107.4 341.2h0.8v0.8h-0.8zM103.8 342.7h0.8v0.8h-0.8zM105.5 329.0h0.8v0.8h-0.8zM109.0 318.6h0.8v0.8h-0.8zM110.1 348.1h0.8v0.8h-0.8zM109.5 343.4h0.8v0.8h-0.8zM109.8 320.6h0.8v0.8h-0.8zM112.3 346.5h0.8v0.8h-0.8zM103.5 308.5h0.8v0.8h-0.8zM107.7 327.6h0.8v0.8h-0.8zM111.7 341.3h0.8v0.8h-0.8zM98.8 342.0h0.8v0.8h-0.8zM95.6 343.9h0.8v0.8h-0.8zM105.0 340.5h0.8v0.8h-0.8zM107.0 324.1h0.8v0.8h-0.8zM117.2 296.5h0.8v0.8h-0.8zM107.3 341.5h0.8v0.8h-0.8zM109.9 349.9h0.8v0.8h-0.8zM101.7 320.6h0.8v0.8h-0.8zM111.4 341.3h0.8v0.8h-0.8zM108.9 346.1h0.8v0.8h-0.8zM102.9 344.4h0.8v0.8h-0.8zM100.0 348.2h0.8v0.8h-0.8zM106.4 326.7h0.8v0.8h-0.8zM107.3 347.6h0.8v0.8h-0.8zM108.7 342.2h0.8v0.8h-0.8zM112.2 343.6h0.8v0.8h-0.8zM100.7 348.9h0.8v0.8h-0.8zM108.5 322.8h0.8v0.8h-0.8zM99.9 343.9h0.8v0.8h-0.8zM101.2 327.3h0.8v0.8h-0.8zM99.8 337.9h0.8v0.8h-0.8zM111.2 307.4h0.8v0.8h-0.8zM101.1 346.9h0.8v0.8h-0.8zM109.3 348.0h0.8v0.8h-0.8zM106.8 330.1h0.8v0.8h-0.8zM101.8 339.3h0.8v0.8h-0.8zM102.6 346.2h0.8v0.8h-0.8zM105.6 336.0h0.8v0.8h-0.8zM108.2 329.2h0.8v0.8h-0.8zM105.6 333.4h0.8v0.8h-0.8zM104.7 326.9h0.8v0.8h-0.8zM105.0 314.1h0.8v0.8h-0.8zM107.4 319.1h0.8v0.8h-0.8zM103.9 348.0h0.8v0.8h-0.8zM104.3 347.7h0.8v0.8h-0.8zM108.0 345.9h0.8v0.8h-0.8zM103.8 347.0h0.8v0.8h-0.8zM109.9 347.4h0.8v0.8h-0.8zM105.7 344.7h0.8v0.8h-0.8zM105.6 324.5h0.8v0.8h-0.8zM105.4 333.7h0.8v0.8h-0.8zM106.4 344.9h0.8v0.8h-0.8zM101.0 342.4h0.8v0.8h-0.8zM102.5 348.1h0.8v0.8h-0.8zM97.6 347.0h0.8v0.8h-0.8zM105.8 349.2h0.8v0.8h-0.8zM106.0 326.9h0.8v0.8h-0.8zM101.8 333.9h0.8v0.8h-0.8zM105.9 332.9h0.8v0.8h-0.8zM109.4 345.7h0.8v0.8h-0.8zM107.2 346.5h0.8v0.8h-0.8z"/>
<path fill="#b8a8ac" d="M107.2 348.1h0.8v0.8h-0.8zM103.9 329.7h0.8v0.8h-0.8zM104.0 321.6h0.8v0.8h-0.8zM102.8 335.7h0.8v0.8h-0.8zM105.0 347.9h0.8v0.8h-0.8zM103.9 329.9h0.8v0.8h-0.8zM99.6 345.2h0.8v0.8h-0.8zM98.4 346.4h0.8v0.8h-0.8zM99.9 346.1h0.8v0.8h-0.8zM103.7 348.7h0.8v0.8h-0.8zM102.5 332.1h0.8v0.8h-0.8zM103.1 348.5h0.8v0.8h-0.8zM98.2 342.6h0.8v0.8h-0.8zM103.5 336.4h0.8v0.8h-0.8zM103.9 342.3h0.8v0.8h-0.8zM100.9 332.5h0.8v0.8h-0.8zM105.9 327.4h0.8v0.8h-0.8zM108.6 334.9h0.8v0.8h-0.8zM105.5 344.5h0.8v0.8h-0.8zM103.3 350.2h0.8v0.8h-0.8zM108.8 345.7h0.8v0.8h-0.8zM100.5 317.8h0.8v0.8h-0.8zM105.3 350.0h0.8v0.8h-0.8zM112.7 338.9h0.8v0.8h-0.8zM107.6 337.7h0.8v0.8h-0.8zM105.3 322.8h0.8v0.8h-0.8zM104.3 343.6h0.8v0.8h-0.8zM106.4 347.9h0.8v0.8h-0.8zM108.5 346.0h0.8v0.8h-0.8zM105.3 335.0h0.8v0.8h-0.8zM106.7 346.3h0.8v0.8h-0.8zM108.6 347.3h0.8v0.8h-0.8zM102.5 350.0h0.8v0.8h-0.8zM106.5 331.4h0.8v0.8h-0.8zM105.1 347.9h0.8v0.8h-0.8zM107.2 339.9h0.8v0.8h-0.8zM106.0 342.9h0.8v0.8h-0.8zM113.9 324.1h0.8v0.8h-0.8zM110.0 342.9h0.8v0.8h-0.8zM105.3 344.9h0.8v0.8h-0.8zM105.4 347.1h0.8v0.8h-0.8zM109.1 341.7h0.8v0.8h-0.8zM101.7 335.0h0.8v0.8h-0.8zM100.0 330.3h0.8v0.8h-0.8zM107.7 310.2h0.8v0.8h-0.8zM97.6 349.6h0.8v0.8h-0.8zM107.1 344.2h0.8v0.8h-0.8zM107.9 315.4h0.8v0.8h-0.8zM105.2 338.0h0.8v0.8h-0.8zM104.0 333.6h0.8v0.8h-0.8zM108.8 317.7h0.8v0.8h-0.8zM109.4 345.1h0.8v0.8h-0.8zM108.4 334.9h0.8v0.8h-0.8zM107.0 326.9h0.8v0.8h-0.8zM114.6 338.3h0.8v0.8h-0.8zM104.1 322.9h0.8v0.8h-0.8zM101.2 321.9h0.8v0.8h-0.8zM99.4 343.0h0.8v0.8h-0.8zM109.9 327.3h0.8v0.8h-0.8zM106.9 348.6h0.8v0.8h-0.8zM107.9 341.3h0.8v0.8h-0.8zM104.2 341.5h0.8v0.8h-0.8zM98.8 343.8h0.8v0.8h-0.8zM106.1 346.1h0.8v0.8h-0.8zM110.9 346.9h0.8v0.8h-0.8zM105.6 310.5h0.8v0.8h-0.8z"/>
<path fill="#f07080" d="M104.9 361.3h0.9v0.9h-0.9zM107.6 342.5h0.9v0.9h-0.9zM108.4 352.0h0.9v0.9h-0.9zM109.2 358.4h0.9v0.9h-0.9zM111.0 357.6h0.9v0.9h-0.9zM104.0 357.8h0.9v0.9h-0.9zM100.6 363.8h0.9v0.9h-0.9zM102.1 360.8h0.9v0.9h-0.9zM105.7 355.6h0.9v0.9h-0.9zM97.2 358.4h0.9v0.9h-0.9zM100.2 373.3h0.9v0.9h-0.9zM106.0 365.3h0.9v0.9h-0.9zM84.7 370.9h0.9v0.9h-0.9zM96.7 373.3h0.9v0.9h-0.9zM97.3 367.2h0.9v0.9h-0.9zM101.6 361.8h0.9v0.9h-0.9zM98.2 368.0h0.9v0.9h-0.9zM110.0 357.4h0.9v0.9h-0.9zM103.4 372.2h0.9v0.9h-0.9zM90.4 354.8h0.9v0.9h-0.9zM103.5 359.6h0.9v0.9h-0.9zM100.1 367.1h0.9v0.9h-0.9zM99.7 362.2h0.9v0.9h-0.9zM96.3 352.7h0.9v0.9h-0.9zM94.7 353.4h0.9v0.9h-0.9zM101.9 361.6h0.9v0.9h-0.9zM97.1 351.1h0.9v0.9h-0.9zM91.1 355.7h0.9v0.9h-0.9zM95.7 358.4h0.9v0.9h-0.9zM103.5 334.5h0.9v0.9h-0.9zM101.9 367.0h0.9v0.9h-0.9zM89.4 345.1h0.9v0.9h-0.9zM110.3 366.4h0.9v0.9h-0.9zM98.3 361.7h0.9v0.9h-0.9zM98.0 367.8h0.9v0.9h-0.9zM97.4 347.3h0.9v0.9h-0.9zM100.4 361.5h0.9v0.9h-0.9zM100.2 364.1h0.9v0.9h-0.9zM107.8 337.0h0.9v0.9h-0.9zM104.3 336.3h0.9v0.9h-0.9zM101.8 350.5h0.9v0.9h-0.9zM99.2 342.9h0.9v0.9h-0.9zM97.6 343.9h0.9v0.9h-0.9zM109.8 349.9h0.9v0.9h-0.9zM107.6 360.7h0.9v0.9h-0.9zM104.9 358.1h0.9v0.9h-0.9zM98.8 370.1h0.9v0.9h-0.9zM101.9 358.3h0.9v0.9h-0.9z"/>
<path fill="#f8a8b4" d="M101.6 357.2h0.9v0.9h-0.9zM98.3 365.0h0.9v0.9h-0.9zM99.2 351.7h0.9v0.9h-0.9zM96.1 350.9h0.9v0.9h-0.9zM109.5 368.2h0.9v0.9h-0.9zM99.4 342.3h0.9v0.9h-0.9zM98.6 348.1h0.9v0.9h-0.9zM108.1 356.3h0.9v0.9h-0.9zM104.7 361.6h0.9v0.9h-0.9zM100.6 360.0h0.9v0.9h-0.9zM99.3 363.2h0.9v0.9h-0.9zM117.4 370.0h0.9v0.9h-0.9zM98.3 349.8h0.9v0.9h-0.9zM105.6 368.4h0.9v0.9h-0.9zM101.3 371.4h0.9v0.9h-0.9zM100.2 351.0h0.9v0.9h-0.9zM103.8 369.8h0.9v0.9h-0.9zM105.6 354.7h0.9v0.9h-0.9zM103.8 367.0h0.9v0.9h-0.9zM106.1 358.0h0.9v0.9h-0.9zM105.7 362.9h0.9v0.9h-0.9zM100.2 374.3h0.9v0.9h-0.9zM106.5 346.9h0.9v0.9h-0.9zM104.9 355.3h0.9v0.9h-0.9zM100.8 350.2h0.9v0.9h-0.9zM103.2 349.0h0.9v0.9h-0.9zM99.4 364.1h0.9v0.9h-0.9zM100.9 340.4h0.9v0.9h-0.9zM107.2 369.4h0.9v0.9h-0.9zM104.1 364.6h0.9v0.9h-0.9zM106.4 349.8h0.9v0.9h-0.9zM103.9 352.1h0.9v0.9h-0.9zM102.1 354.1h0.9v0.9h-0.9zM103.1 363.5h0.9v0.9h-0.9zM102.9 361.5h0.9v0.9h-0.9zM100.2 357.2h0.9v0.9h-0.9zM101.6 354.7h0.9v0.9h-0.9zM101.6 357.7h0.9v0.9h-0.9zM106.6 349.8h0.9v0.9h-0.9zM97.7 356.2h0.9v0.9h-0.9zM107.1 370.3h0.9v0.9h-0.9zM106.9 355.5h0.9v0.9h-0.9zM100.7 345.5h0.9v0.9h-0.9zM95.8 353.4h0.9v0.9h-0.9zM99.0 367.5h0.9v0.9h-0.9zM98.0 374.7h0.9v0.9h-0.9zM104.4 351.1h0.9v0.9h-0.9zM106.3 363.1h0.9v0.9h-0.9zM96.9 348.3h0.9v0.9h-0.9zM90.3 363.1h0.9v0.9h-0.9zM109.9 366.0h0.9v0.9h-0.9zM95.6 363.6h0.9v0.9h-0.9zM108.9 366.2h0.9v0.9h-0.9zM101.0 344.6h0.9v0.9h-0.9zM88.7 364.8h0.9v0.9h-0.9zM106.1 350.7h0.9v0.9h-0.9zM99.5 361.5h0.9v0.9h-0.9zM110.0 357.1h0.9v0.9h-0.9zM100.1 361.6h0.9v0.9h-0.9zM97.4 348.3h0.9v0.9h-0.9zM98.2 350.0h0.9v0.9h-0.9zM108.2 351.4h0.9v0.9h-0.9zM106.7 366.8h0.9v0.9h-0.9zM104.8 363.9h0.9v0.9h-0.9zM104.6 350.0h0.9v0.9h-0.9zM106.4 366.8h0.9v0.9h-0.9zM104.9 349.4h0.9v0.9h-0.9zM96.3 368.1h0.9v0.9h-0.9zM102.1 350.0h0.9v0.9h-0.9zM103.8 367.2h0.9v0.9h-0.9zM97.2 368.3h0.9v0.9h-0.9zM98.6 348.0h0.9v0.9h-0.9zM105.5 347.7h0.9v0.9h-0.9zM103.9 352.5h0.9v0.9h-0.9zM103.5 344.5h0.9v0.9h-0.9zM92.8 361.8h0.9v0.9h-0.9zM102.2 366.8h0.9v0.9h-0.9zM107.2 346.0h0.9v0.9h-0.9zM100.0 354.4h0.9v0.9h-0.9zM103.8 352.8h0.9v0.9h-0.9zM100.1 369.7h0.9v0.9h-0.9zM100.2 368.2h0.9v0.9h-0.9z"/>
<path fill="#ff1020" d="M100.5 356.3h1.0v1.0h-1.0zM101.0 360.7h1.0v1.0h-1.0zM105.9 359.8h1.0v1.0h-1.0zM102.8 359.9h1.0v1.0h-1.0zM101.1 366.7h1.0v1.0h-1.0zM103.3 356.4h1.0v1.0h-1.0zM102.9 349.6h1.0v1.0h-1.0zM105.2 349.8h1.0v1.0h-1.0zM107.6 340.3h1.0v1.0h-1.0zM101.4 373.0h1.0v1.0h-1.0zM104.5 353.4h1.0v1.0h-1.0zM103.3 360.5h1.0v1.0h-1.0zM101.2 367.9h1.0v1.0h-1.0zM96.5 370.9h1.0v1.0h-1.0zM95.3 352.8h1.0v1.0h-1.0zM102.7 367.0h1.0v1.0h-1.0zM104.1 362.7h1.0v1.0h-1.0zM104.2 370.0h1.0v1.0h-1.0zM97.1 372.5h1.0v1.0h-1.0zM105.0 357.5h1.0v1.0h-1.0zM99.7 348.0h1.0v1.0h-1.0zM102.8 363.9h1.0v1.0h-1.0zM98.8 366.4h1.0v1.0h-1.0zM99.5 362.5h1.0v1.0h-1.0zM98.4 351.6h1.0v1.0h-1.0zM103.0 355.6h1.0v1.0h-1.0zM101.7 360.9h1.0v1.0h-1.0zM102.7 373.5h1.0v1.0h-1.0zM99.3 352.5h1.0v1.0h-1.0zM102.7 355.9h1.0v1.0h-1.0zM100.2 346.8h1.0v1.0h-1.0zM103.6 364.7h1.0v1.0h-1.0zM102.6 356.6h1.0v1.0h-1.0zM98.1 364.1h1.0v1.0h-1.0zM101.5 351.3h1.0v1.0h-1.0zM101.7 357.4h1.0v1.0h-1.0zM100.5 369.4h1.0v1.0h-1.0zM104.5 359.0h1.0v1.0h-1.0zM107.3 365.9h1.0v1.0h-1.0zM100.2 365.0h1.0v1.0h-1.0zM100.3 357.5h1.0v1.0h-1.0zM93.9 347.1h1.0v1.0h-1.0zM101.1 369.0h1.0v1.0h-1.0zM100.0 362.0h1.0v1.0h-1.0zM94.2 369.0h1.0v1.0h-1.0zM102.5 343.2h1.0v1.0h-1.0zM103.5 346.3h1.0v1.0h-1.0zM98.2 369.5h1.0v1.0h-1.0zM104.1 365.4h1.0v1.0h-1.0zM100.4 361.6h1.0v1.0h-1.0zM108.1 367.0h1.0v1.0h-1.0zM101.7 357.9h1.0v1.0h-1.0zM103.1 363.9h1.0v1.0h-1.0zM101.0 361.7h1.0v1.0h-1.0zM97.5 341.7h1.0v1.0h-1.0zM101.4 357.2h1.0v1.0h-1.0zM102.7 359.3h1.0v1.0h-1.0zM105.1 356.3h1.0v1.0h-1.0zM96.1 370.2h1.0v1.0h-1.0zM98.2 358.2h1.0v1.0h-1.0zM96.0 351.7h1.0v1.0h-1.0zM103.9 343.6h1.0v1.0h-1.0zM98.5 344.8h1.0v1.0h-1.0zM97.5 367.3h1.0v1.0h-1.0zM101.8 366.6h1.0v1.0h-1.0zM101.8 344.0h1.0v1.0h-1.0zM98.6 367.8h1.0v1.0h-1.0zM102.0 364.5h1.0v1.0h-1.0zM103.7 353.8h1.0v1.0h-1.0zM102.3 366.8h1.0v1.0h-1.0zM98.0 346.5h1.0v1.0h-1.0zM94.3 350.1h1.0v1.0h-1.0zM100.6 348.1h1.0v1.0h-1.0zM102.1 350.9h1.0v1.0h-1.0zM100.0 349.0h1.0v1.0h-1.0zM103.9 352.3h1.0v1.0h-1.0zM101.3 362.2h1.0v1.0h-1.0zM101.9 357.6h1.0v1.0h-1.0zM98.2 367.9h1.0v1.0h-1.0zM99.4 354.4h1.0v1.0h-1.0zM102.1 349.4h1.0v1.0h-1.0zM98.1 356.2h1.0v1.0h-1.0zM97.2 360.8h1.0v1.0h-1.0zM100.4 352.5h1.0v1.0h-1.0zM105.6 362.9h1.0v1.0h-1.0zM106.5 355.4h1.0v1.0h-1.0zM101.1 360.8h1.0v1.0h-1.0zM100.4 372.1h1.0v1.0h-1.0zM99.5 353.1h1.0v1.0h-1.0zM106.4 351.0h1.0v1.0h-1.0zM102.6 363.8h1.0v1.0h-1.0zM103.9 359.1h1.0v1.0h-1.0zM101.5 360.7h1.0v1.0h-1.0zM100.8 371.3h1.0v1.0h-1.0zM101.9 367.8h1.0v1.0h-1.0zM103.8 348.3h1.0v1.0h-1.0zM103.1 360.2h1.0v1.0h-1.0zM103.2 361.2h1.0v1.0h-1.0zM98.9 358.4h1.0v1.0h-1.0zM100.6 354.7h1.0v1.0h-1.0zM98.3 356.3h1.0v1.0h-1.0zM104.9 345.0h1.0v1.0h-1.0zM100.8 355.1h1.0v1.0h-1.0zM109.6 364.3h1.0v1.0h-1.0zM100.3 351.4h1.0v1.0h-1.0zM97.6 356.5h1.0v1.0h-1.0zM101.4 351.8h1.0v1.0h-1.0zM105.9 351.1h1.0v1.0h-1.0zM101.0 366.2h1.0v1.0h-1.0zM103.6 356.2h1.0v1.0h-1.0zM101.8 364.0h1.0v1.0h-1.0zM100.2 350.6h1.0v1.0h-1.0zM112.2 361.0h1.0v1.0h-1.0zM101.7 345.7h1.0v1.0h-1.0zM99.7 356.1h1.0v1.0h-1.0zM102.9 361.7h1.0v1.0h-1.0zM102.0 367.4h1.0v1.0h-1.0zM103.3 364.8h1.0v1.0h-1.0zM100.4 366.7h1.0v1.0h-1.0zM100.5 359.6h1.0v1.0h-1.0zM96.5 357.6h1.0v1.0h-1.0zM99.0 356.5h1.0v1.0h-1.0zM101.4 363.5h1.0v1.0h-1.0zM96.6 369.6h1.0v1.0h-1.0zM101.7 367.5h1.0v1.0h-1.0zM101.9 356.8h1.0v1.0h-1.0zM97.7 349.1h1.0v1.0h-1.0zM99.4 359.6h1.0v1.0h-1.0zM98.6 359.0h1.0v1.0h-1.0zM92.9 356.8h1.0v1.0h-1.0zM100.3 358.3h1.0v1.0h-1.0zM95.9 366.4h1.0v1.0h-1.0zM100.0 356.0h1.0v1.0h-1.0zM104.4 358.7h1.0v1.0h-1.0zM99.4 374.8h1.0v1.0h-1.0zM102.0 372.9h1.0v1.0h-1.0zM98.6 365.5h1.0v1.0h-1.0zM108.1 362.4h1.0v1.0h-1.0zM105.3 364.9h1.0v1.0h-1.0zM97.0 360.6h1.0v1.0h-1.0zM97.8 362.0h1.0v1.0h-1.0zM100.6 358.5h1.0v1.0h-1.0zM102.6 362.8h1.0v1.0h-1.0zM97.2 372.4h1.0v1.0h-1.0zM104.1 363.2h1.0v1.0h-1.0zM101.6 345.9h1.0v1.0h-1.0zM103.1 351.8h1.0v1.0h-1.0zM103.2 353.3h1.0v1.0h-1.0zM99.1 364.9h1.0v1.0h-1.0zM105.3 354.9h1.0v1.0h-1.0zM104.6 362.4h1.0v1.0h-1.0zM103.3 353.6h1.0v1.0h-1.0zM103.7 347.9h1.0v1.0h-1.0zM92.3 348.0h1.0v1.0h-1.0zM104.3 352.7h1.0v1.0h-1.0zM100.6 372.3h1.0v1.0h-1.0zM101.8 348.6h1.0v1.0h-1.0zM100.5 370.8h1.0v1.0h-1.0zM96.8 371.5h1.0v1.0h-1.0zM103.7 359.7h1.0v1.0h-1.0zM106.3 354.8h1.0v1.0h-1.0zM99.4 359.9h1.0v1.0h-1.0zM98.4 365.7h1.0v1.0h-1.0zM106.4 360.1h1.0v1.0h-1.0zM98.5 368.6h1.0v1.0h-1.0zM108.6 370.3h1.0v1.0h-1.0zM101.7 363.0h1.0v1.0h-1.0zM98.5 362.9h1.0v1.0h-1.0zM107.3 363.0h1.0v1.0h-1.0zM96.6 350.5h1.0v1.0h-1.0zM106.8 363.5h1.0v1.0h-1.0zM100.5 361.8h1.0v1.0h-1.0zM106.6 352.7h1.0v1.0h-1.0zM96.1 351.7h1.0v1.0h-1.0zM103.2 352.6h1.0v1.0h-1.0zM108.6 343.4h1.0v1.0h-1.0zM107.4 353.3h1.0v1.0h-1.0zM103.9 347.0h1.0v1.0h-1.0zM100.7 351.8h1.0v1.0h-1.0zM99.7 358.9h1.0v1.0h-1.0zM100.5 362.8h1.0v1.0h-1.0zM98.7 369.5h1.0v1.0h-1.0zM92.8 370.2h1.0v1.0h-1.0zM101.4 356.0h1.0v1.0h-1.0zM110.2 369.6h1.0v1.0h-1.0zM104.1 355.8h1.0v1.0h-1.0zM99.9 354.8h1.0v1.0h-1.0zM103.4 373.2h1.0v1.0h-1.0zM97.3 366.8h1.0v1.0h-1.0zM99.5 361.9h1.0v1.0h-1.0zM95.2 366.5h1.0v1.0h-1.0zM106.4 367.6h1.0v1.0h-1.0zM103.5 348.3h1.0v1.0h-1.0zM97.5 359.2h1.0v1.0h-1.0zM101.3 349.9h1.0v1.0h-1.0zM104.7 361.1h1.0v1.0h-1.0zM103.2 354.3h1.0v1.0h-1.0zM102.8 371.7h1.0v1.0h-1.0zM98.6 364.5h1.0v1.0h-1.0zM99.3 353.1h1.0v1.0h-1.0zM104.6 349.6h1.0v1.0h-1.0zM97.7 364.7h1.0v1.0h-1.0zM105.4 362.3h1.0v1.0h-1.0zM98.3 343.4h1.0v1.0h-1.0zM105.2 357.1h1.0v1.0h-1.0zM102.3 364.4h1.0v1.0h-1.0zM104.5 362.6h1.0v1.0h-1.0zM107.4 370.0h1.0v1.0h-1.0zM103.8 349.0h1.0v1.0h-1.0zM98.4 354.4h1.0v1.0h-1.0zM99.1 361.7h1.0v1.0h-1.0zM103.7 363.5h1.0v1.0h-1.0zM106.7 365.9h1.0v1.0h-1.0zM106.2 355.1h1.0v1.0h-1.0zM109.4 361.6h1.0v1.0h-1.0zM102.6 350.0h1.0v1.0h-1.0zM102.2 347.9h1.0v1.0h-1.0zM104.9 364.8h1.0v1.0h-1.0zM101.6 359.5h1.0v1.0h-1.0zM101.3 346.1h1.0v1.0h-1.0zM97.9 352.7h1.0v1.0h-1.0zM104.9 360.2h1.0v1.0h-1.0zM97.9 373.4h1.0v1.0h-1.0zM103.2 369.0h1.0v1.0h-1.0zM96.7 366.9h1.0v1.0h-1.0zM105.2 344.7h1.0v1.0h-1.0zM98.0 359.2h1.0v1.0h-1.0zM104.4 364.1h1.0v1.0h-1.0zM96.1 363.4h1.0v1.0h-1.0zM100.0 363.6h1.0v1.0h-1.0zM105.5 358.0h1.0v1.0h-1.0zM101.7 372.7h1.0v1.0h-1.0zM99.9 359.2h1.0v1.0h-1.0zM93.6 351.6h1.0v1.0h-1.0zM103.0 355.2h1.0v1.0h-1.0zM97.7 370.3h1.0v1.0h-1.0zM98.8 351.9h1.0v1.0h-1.0zM98.1 362.5h1.0v1.0h-1.0zM101.5 357.0h1.0v1.0h-1.0zM99.2 364.4h1.0v1.0h-1.0zM109.3 362.8h1.0v1.0h-1.0zM104.0 365.1h1.0v1.0h-1.0zM104.9 359.9h1.0v1.0h-1.0zM94.8 369.7h1.0v1.0h-1.0zM95.6 357.7h1.0v1.0h-1.0zM103.4 356.9h1.0v1.0h-1.0zM102.8 352.9h1.0v1.0h-1.0zM105.4 355.8h1.0v1.0h-1.0zM100.2 360.4h1.0v1.0h-1.0zM97.9 350.9h1.0v1.0h-1.0zM92.2 341.9h1.0v1.0h-1.0zM102.2 369.1h1.0v1.0h-1.0zM98.3 353.2h1.0v1.0h-1.0zM102.6 355.3h1.0v1.0h-1.0zM102.3 356.8h1.0v1.0h-1.0zM96.8 351.6h1.0v1.0h-1.0zM107.4 350.8h1.0v1.0h-1.0zM105.2 361.4h1.0v1.0h-1.0zM97.5 366.3h1.0v1.0h-1.0zM100.1 366.4h1.0v1.0h-1.0zM99.6 347.0h1.0v1.0h-1.0zM100.1 359.8h1.0v1.0h-1.0zM97.7 349.8h1.0v1.0h-1.0zM103.0 366.6h1.0v1.0h-1.0zM102.3 358.0h1.0v1.0h-1.0zM102.7 360.3h1.0v1.0h-1.0zM105.9 355.0h1.0v1.0h-1.0zM102.1 346.9h1.0v1.0h-1.0zM92.2 365.0h1.0v1.0h-1.0zM99.3 348.1h1.0v1.0h-1.0zM101.3 349.8h1.0v1.0h-1.0zM104.8 357.4h1.0v1.0h-1.0zM100.5 353.9h1.0v1.0h-1.0zM100.6 362.2h1.0v1.0h-1.0zM99.2 368.7h1.0v1.0h-1.0zM103.8 362.1h1.0v1.0h-1.0zM100.0 361.7h1.0v1.0h-1.0zM99.0 367.4h1.0v1.0h-1.0zM103.4 344.1h1.0v1.0h-1.0zM99.7 363.2h1.0v1.0h-1.0zM99.1 360.0h1.0v1.0h-1.0zM102.7 356.7h1.0v1.0h-1.0zM102.8 365.0h1.0v1.0h-1.0zM105.6 369.5h1.0v1.0h-1.0zM105.1 340.0h1.0v1.0h-1.0zM99.5 359.4h1.0v1.0h-1.0zM97.1 367.5h1.0v1.0h-1.0zM103.0 360.9h1.0v1.0h-1.0zM100.4 350.3h1.0v1.0h-1.0zM94.5 366.1h1.0v1.0h-1.0zM106.7 368.2h1.0v1.0h-1.0zM101.8 353.7h1.0v1.0h-1.0zM102.0 357.7h1.0v1.0h-1.0zM101.7 362.2h1.0v1.0h-1.0zM103.7 344.9h1.0v1.0h-1.0zM103.3 357.0h1.0v1.0h-1.0zM96.1 373.9h1.0v1.0h-1.0zM99.7 359.1h1.0v1.0h-1.0zM107.4 355.5h1.0v1.0h-1.0zM100.4 340.7h1.0v1.0h-1.0zM95.2 368.2h1.0v1.0h-1.0zM102.0 356.8h1.0v1.0h-1.0zM101.2 362.8h1.0v1.0h-1.0zM97.3 361.6h1.0v1.0h-1.0zM98.8 344.5h1.0v1.0h-1.0zM97.2 372.9h1.0v1.0h-1.0zM102.2 356.9h1.0v1.0h-1.0zM104.3 358.6h1.0v1.0h-1.0zM105.0 341.0h1.0v1.0h-1.0zM102.3 368.5h1.0v1.0h-1.0zM103.4 354.8h1.0v1.0h-1.0zM99.8 360.8h1.0v1.0h-1.0zM101.0 363.4h1.0v1.0h-1.0zM108.7 368.3h1.0v1.0h-1.0zM102.2 360.9h1.0v1.0h-1.0zM100.0 357.9h1.0v1.0h-1.0zM101.6 354.8h1.0v1.0h-1.0zM95.7 356.0h1.0v1.0h-1.0zM101.4 338.2h1.0v1.0h-1.0zM105.6 353.1h1.0v1.0h-1.0zM108.6 368.7h1.0v1.0h-1.0zM105.6 362.3h1.0v1.0h-1.0zM103.8 353.0h1.0v1.0h-1.0zM101.7 363.0h1.0v1.0h-1.0zM99.5 342.7h1.0v1.0h-1.0zM103.6 364.5h1.0v1.0h-1.0zM98.8 366.0h1.0v1.0h-1.0zM104.7 353.4h1.0v1.0h-1.0zM98.2 367.9h1.0v1.0h-1.0zM98.1 356.4h1.0v1.0h-1.0zM95.8 366.4h1.0v1.0h-1.0zM96.8 346.6h1.0v1.0h-1.0zM105.3 343.2h1.0v1.0h-1.0zM100.8 365.3h1.0v1.0h-1.0zM102.2 360.4h1.0v1.0h-1.0zM105.4 361.8h1.0v1.0h-1.0zM105.8 355.0h1.0v1.0h-1.0zM99.8 357.5h1.0v1.0h-1.0zM106.0 367.0h1.0v1.0h-1.0zM102.8 374.8h1.0v1.0h-1.0zM101.5 358.2h1.0v1.0h-1.0zM96.7 371.0h1.0v1.0h-1.0zM98.8 365.2h1.0v1.0h-1.0zM101.1 365.9h1.0v1.0h-1.0zM101.1 360.7h1.0v1.0h-1.0zM104.8 364.5h1.0v1.0h-1.0zM106.3 344.1h1.0v1.0h-1.0zM104.1 355.1h1.0v1.0h-1.0zM105.8 354.1h1.0v1.0h-1.0zM100.1 359.8h1.0v1.0h-1.0zM100.5 363.1h1.0v1.0h-1.0zM102.6 353.6h1.0v1.0h-1.0zM100.5 375.0h1.0v1.0h-1.0zM99.8 350.9h1.0v1.0h-1.0zM107.1 356.2h1.0v1.0h-1.0zM100.8 362.1h1.0v1.0h-1.0zM98.2 349.3h1.0v1.0h-1.0zM103.2 365.0h1.0v1.0h-1.0zM107.7 365.5h1.0v1.0h-1.0zM101.8 357.5h1.0v1.0h-1.0zM100.0 360.8h1.0v1.0h-1.0zM99.2 351.8h1.0v1.0h-1.0zM101.0 345.7h1.0v1.0h-1.0zM107.7 354.6h1.0v1.0h-1.0zM97.6 357.3h1.0v1.0h-1.0zM100.7 339.5h1.0v1.0h-1.0zM104.3 350.3h1.0v1.0h-1.0zM103.6 344.3h1.0v1.0h-1.0zM102.5 371.6h1.0v1.0h-1.0zM95.9 355.2h1.0v1.0h-1.0zM102.7 355.6h1.0v1.0h-1.0zM98.0 350.6h1.0v1.0h-1.0zM110.2 367.8h1.0v1.0h-1.0zM102.1 362.0h1.0v1.0h-1.0zM97.6 342.6h1.0v1.0h-1.0zM99.9 370.1h1.0v1.0h-1.0zM97.1 363.5h1.0v1.0h-1.0zM104.8 364.8h1.0v1.0h-1.0zM100.6 370.7h1.0v1.0h-1.0zM99.2 358.6h1.0v1.0h-1.0zM99.8 366.3h1.0v1.0h-1.0zM105.9 363.7h1.0v1.0h-1.0zM98.2 358.0h1.0v1.0h-1.0zM95.4 360.5h1.0v1.0h-1.0zM102.9 355.7h1.0v1.0h-1.0zM97.6 366.2h1.0v1.0h-1.0zM100.0 368.1h1.0v1.0h-1.0zM104.6 360.1h1.0v1.0h-1.0zM104.5 346.8h1.0v1.0h-1.0zM99.2 358.1h1.0v1.0h-1.0zM106.6 374.8h1.0v1.0h-1.0zM106.0 356.5h1.0v1.0h-1.0zM100.8 372.1h1.0v1.0h-1.0zM98.7 364.8h1.0v1.0h-1.0zM102.2 349.8h1.0v1.0h-1.0zM105.4 366.8h1.0v1.0h-1.0zM96.6 351.3h1.0v1.0h-1.0zM104.6 348.5h1.0v1.0h-1.0zM97.0 358.8h1.0v1.0h-1.0zM98.6 355.9h1.0v1.0h-1.0zM95.4 350.6h1.0v1.0h-1.0zM108.7 356.9h1.0v1.0h-1.0zM101.7 351.4h1.0v1.0h-1.0zM102.3 360.6h1.0v1.0h-1.0zM99.2 359.9h1.0v1.0h-1.0zM105.1 366.5h1.0v1.0h-1.0zM94.3 356.2h1.0v1.0h-1.0zM101.6 348.6h1.0v1.0h-1.0zM100.2 358.0h1.0v1.0h-1.0zM101.6 373.3h1.0v1.0h-1.0zM103.8 367.4h1.0v1.0h-1.0zM98.7 354.6h1.0v1.0h-1.0zM101.6 368.2h1.0v1.0h-1.0zM104.8 350.1h1.0v1.0h-1.0zM102.2 368.8h1.0v1.0h-1.0zM102.8 356.8h1.0v1.0h-1.0zM100.3 366.7h1.0v1.0h-1.0zM102.6 365.5h1.0v1.0h-1.0zM101.7 357.7h1.0v1.0h-1.0zM104.0 350.9h1.0v1.0h-1.0zM93.2 369.4h1.0v1.0h-1.0zM98.4 360.9h1.0v1.0h-1.0zM97.6 369.2h1.0v1.0h-1.0zM104.6 345.8h1.0v1.0h-1.0zM97.9 353.2h1.0v1.0h-1.0zM99.9 363.2h1.0v1.0h-1.0zM102.2 349.7h1.0v1.0h-1.0zM105.7 373.4h1.0v1.0h-1.0zM101.2 355.2h1.0v1.0h-1.0zM99.6 355.3h1.0v1.0h-1.0zM107.0 348.7h1.0v1.0h-1.0zM105.1 348.0h1.0v1.0h-1.0zM101.2 363.9h1.0v1.0h-1.0zM96.8 365.5h1.0v1.0h-1.0zM98.8 363.1h1.0v1.0h-1.0zM103.5 362.4h1.0v1.0h-1.0zM99.0 355.3h1.0v1.0h-1.0zM104.5 363.2h1.0v1.0h-1.0zM102.7 347.4h1.0v1.0h-1.0zM102.5 360.2h1.0v1.0h-1.0zM103.7 372.8h1.0v1.0h-1.0zM103.2 371.5h1.0v1.0h-1.0zM98.6 356.1h1.0v1.0h-1.0zM100.4 357.2h1.0v1.0h-1.0zM109.5 372.0h1.0v1.0h-1.0zM99.9 347.2h1.0v1.0h-1.0zM105.1 356.4h1.0v1.0h-1.0zM101.0 362.1h1.0v1.0h-1.0zM98.7 370.6h1.0v1.0h-1.0zM97.0 352.9h1.0v1.0h-1.0zM103.3 365.7h1.0v1.0h-1.0zM105.0 357.5h1.0v1.0h-1.0zM101.7 363.8h1.0v1.0h-1.0zM105.1 358.9h1.0v1.0h-1.0zM98.0 357.2h1.0v1.0h-1.0zM102.1 369.2h1.0v1.0h-1.0zM99.2 366.0h1.0v1.0h-1.0zM102.1 350.8h1.0v1.0h-1.0zM104.1 362.0h1.0v1.0h-1.0zM105.1 348.6h1.0v1.0h-1.0zM98.1 353.6h1.0v1.0h-1.0zM105.8 348.9h1.0v1.0h-1.0zM99.9 348.7h1.0v1.0h-1.0zM98.0 354.2h1.0v1.0h-1.0zM100.9 351.6h1.0v1.0h-1.0zM96.5 364.7h1.0v1.0h-1.0zM101.5 367.0h1.0v1.0h-1.0zM100.8 350.4h1.0v1.0h-1.0zM103.3 367.1h1.0v1.0h-1.0zM100.4 342.6h1.0v1.0h-1.0zM101.5 343.4h1.0v1.0h-1.0zM101.6 365.8h1.0v1.0h-1.0zM98.6 368.5h1.0v1.0h-1.0zM100.0 358.3h1.0v1.0h-1.0zM101.2 349.2h1.0v1.0h-1.0zM102.1 355.7h1.0v1.0h-1.0zM95.9 365.0h1.0v1.0h-1.0zM100.5 354.1h1.0v1.0h-1.0zM103.1 348.1h1.0v1.0h-1.0zM102.7 350.1h1.0v1.0h-1.0zM104.5 367.4h1.0v1.0h-1.0zM105.9 364.0h1.0v1.0h-1.0zM103.2 350.1h1.0v1.0h-1.0zM101.4 350.8h1.0v1.0h-1.0zM98.0 355.3h1.0v1.0h-1.0zM99.9 350.0h1.0v1.0h-1.0zM102.4 358.7h1.0v1.0h-1.0zM102.3 341.6h1.0v1.0h-1.0zM101.5 349.3h1.0v1.0h-1.0zM101.0 363.7h1.0v1.0h-1.0zM103.6 367.9h1.0v1.0h-1.0zM102.2 350.1h1.0v1.0h-1.0zM102.5 353.4h1.0v1.0h-1.0zM102.5 367.0h1.0v1.0h-1.0zM99.6 356.7h1.0v1.0h-1.0zM98.0 355.4h1.0v1.0h-1.0zM103.2 364.6h1.0v1.0h-1.0zM102.9 361.8h1.0v1.0h-1.0zM100.8 369.7h1.0v1.0h-1.0zM100.1 367.0h1.0v1.0h-1.0zM109.2 355.1h1.0v1.0h-1.0zM98.9 359.1h1.0v1.0h-1.0zM100.8 359.6h1.0v1.0h-1.0zM102.4 348.4h1.0v1.0h-1.0zM97.6 351.7h1.0v1.0h-1.0zM101.9 368.5h1.0v1.0h-1.0zM104.7 368.7h1.0v1.0h-1.0zM103.6 362.6h1.0v1.0h-1.0zM103.5 358.9h1.0v1.0h-1.0zM101.9 364.8h1.0v1.0h-1.0zM101.0 370.6h1.0v1.0h-1.0zM100.1 356.7h1.0v1.0h-1.0zM101.8 358.2h1.0v1.0h-1.0zM104.6 358.0h1.0v1.0h-1.0zM103.8 368.3h1.0v1.0h-1.0zM94.6 352.2h1.0v1.0h-1.0zM105.6 357.3h1.0v1.0h-1.0zM109.5 354.0h1.0v1.0h-1.0zM106.0 360.3h1.0v1.0h-1.0zM102.4 344.4h1.0v1.0h-1.0zM98.1 369.0h1.0v1.0h-1.0zM104.0 363.9h1.0v1.0h-1.0zM99.7 354.1h1.0v1.0h-1.0zM104.8 358.9h1.0v1.0h-1.0zM106.1 355.9h1.0v1.0h-1.0zM94.6 360.6h1.0v1.0h-1.0zM102.5 368.8h1.0v1.0h-1.0zM99.1 347.1h1.0v1.0h-1.0zM96.7 371.5h1.0v1.0h-1.0zM99.4 356.9h1.0v1.0h-1.0zM100.8 373.1h1.0v1.0h-1.0zM105.0 363.7h1.0v1.0h-1.0zM105.1 365.1h1.0v1.0h-1.0zM108.4 369.5h1.0v1.0h-1.0zM103.5 360.7h1.0v1.0h-1.0zM103.4 353.0h1.0v1.0h-1.0zM101.5 366.0h1.0v1.0h-1.0zM102.8 342.9h1.0v1.0h-1.0zM104.0 358.5h1.0v1.0h-1.0zM110.2 369.4h1.0v1.0h-1.0zM102.9 358.2h1.0v1.0h-1.0zM96.9 372.4h1.0v1.0h-1.0zM97.6 352.6h1.0v1.0h-1.0zM100.2 372.5h1.0v1.0h-1.0zM103.9 366.9h1.0v1.0h-1.0zM100.4 363.5h1.0v1.0h-1.0zM106.7 352.7h1.0v1.0h-1.0zM104.1 355.8h1.0v1.0h-1.0zM103.6 361.4h1.0v1.0h-1.0zM97.9 357.4h1.0v1.0h-1.0zM102.7 339.6h1.0v1.0h-1.0zM103.9 357.4h1.0v1.0h-1.0zM102.2 362.6h1.0v1.0h-1.0zM106.8 363.5h1.0v1.0h-1.0zM105.6 360.8h1.0v1.0h-1.0zM98.7 353.2h1.0v1.0h-1.0zM101.9 373.1h1.0v1.0h-1.0zM98.7 354.5h1.0v1.0h-1.0zM103.5 366.4h1.0v1.0h-1.0zM98.6 357.8h1.0v1.0h-1.0zM104.6 349.9h1.0v1.0h-1.0zM102.8 372.4h1.0v1.0h-1.0zM104.8 338.7h1.0v1.0h-1.0zM101.0 352.9h1.0v1.0h-1.0zM96.5 364.0h1.0v1.0h-1.0zM107.5 357.2h1.0v1.0h-1.0zM100.9 366.7h1.0v1.0h-1.0zM106.2 359.4h1.0v1.0h-1.0zM103.0 356.4h1.0v1.0h-1.0zM107.7 358.4h1.0v1.0h-1.0zM102.7 358.9h1.0v1.0h-1.0zM96.5 353.9h1.0v1.0h-1.0zM104.5 365.9h1.0v1.0h-1.0zM100.7 365.2h1.0v1.0h-1.0zM101.0 360.3h1.0v1.0h-1.0zM101.5 354.3h1.0v1.0h-1.0zM102.7 366.2h1.0v1.0h-1.0zM107.1 345.7h1.0v1.0h-1.0zM95.2 357.4h1.0v1.0h-1.0zM101.6 358.2h1.0v1.0h-1.0zM99.1 353.1h1.0v1.0h-1.0zM105.5 361.6h1.0v1.0h-1.0zM100.1 354.6h1.0v1.0h-1.0zM103.1 353.4h1.0v1.0h-1.0zM103.8 366.7h1.0v1.0h-1.0zM105.0 370.7h1.0v1.0h-1.0zM96.7 367.1h1.0v1.0h-1.0zM102.5 370.8h1.0v1.0h-1.0zM99.6 358.4h1.0v1.0h-1.0zM105.3 362.6h1.0v1.0h-1.0zM94.5 360.0h1.0v1.0h-1.0zM96.8 348.4h1.0v1.0h-1.0z"/>
<path fill="#e8182c" d="M106.1 359.0h1.0v1.0h-1.0zM100.1 364.7h1.0v1.0h-1.0zM95.4 368.3h1.0v1.0h-1.0zM104.6 361.3h1.0v1.0h-1.0zM99.0 342.1h1.0v1.0h-1.0zM100.2 353.0h1.0v1.0h-1.0zM96.3 360.2h1.0v1.0h-1.0zM102.9 372.2h1.0v1.0h-1.0zM98.0 357.1h1.0v1.0h-1.0zM105.7 355.3h1.0v1.0h-1.0zM105.1 333.7h1.0v1.0h-1.0zM103.6 355.6h1.0v1.0h-1.0zM100.6 368.1h1.0v1.0h-1.0zM99.1 350.6h1.0v1.0h-1.0zM96.8 354.8h1.0v1.0h-1.0zM104.0 364.8h1.0v1.0h-1.0zM102.0 366.5h1.0v1.0h-1.0zM94.4 360.1h1.0v1.0h-1.0zM99.8 355.9h1.0v1.0h-1.0zM102.8 365.2h1.0v1.0h-1.0zM104.1 358.7h1.0v1.0h-1.0zM96.6 361.8h1.0v1.0h-1.0zM99.6 362.9h1.0v1.0h-1.0zM104.6 369.6h1.0v1.0h-1.0zM104.6 351.8h1.0v1.0h-1.0zM105.2 355.6h1.0v1.0h-1.0zM100.8 360.0h1.0v1.0h-1.0zM99.2 346.5h1.0v1.0h-1.0zM104.7 363.5h1.0v1.0h-1.0zM99.7 358.5h1.0v1.0h-1.0zM104.8 359.5h1.0v1.0h-1.0zM104.7 362.4h1.0v1.0h-1.0zM100.6 367.0h1.0v1.0h-1.0zM102.1 365.1h1.0v1.0h-1.0zM101.8 359.9h1.0v1.0h-1.0zM98.7 360.4h1.0v1.0h-1.0zM104.1 364.5h1.0v1.0h-1.0zM99.8 359.2h1.0v1.0h-1.0zM99.4 360.2h1.0v1.0h-1.0zM95.8 352.0h1.0v1.0h-1.0zM103.6 349.4h1.0v1.0h-1.0zM107.2 372.4h1.0v1.0h-1.0zM106.2 347.6h1.0v1.0h-1.0zM104.6 353.0h1.0v1.0h-1.0zM99.0 368.0h1.0v1.0h-1.0zM104.5 374.8h1.0v1.0h-1.0zM101.0 357.6h1.0v1.0h-1.0zM103.0 345.9h1.0v1.0h-1.0zM103.6 361.6h1.0v1.0h-1.0zM99.8 362.5h1.0v1.0h-1.0zM107.1 356.1h1.0v1.0h-1.0zM98.1 366.7h1.0v1.0h-1.0zM100.8 356.5h1.0v1.0h-1.0zM103.4 358.4h1.0v1.0h-1.0zM99.9 346.3h1.0v1.0h-1.0zM109.0 348.7h1.0v1.0h-1.0zM106.4 362.9h1.0v1.0h-1.0zM100.7 359.5h1.0v1.0h-1.0zM104.1 366.2h1.0v1.0h-1.0zM94.7 351.4h1.0v1.0h-1.0zM101.4 369.5h1.0v1.0h-1.0zM102.5 358.1h1.0v1.0h-1.0zM96.6 366.4h1.0v1.0h-1.0zM96.2 353.5h1.0v1.0h-1.0zM98.3 364.8h1.0v1.0h-1.0zM107.6 346.4h1.0v1.0h-1.0zM104.8 364.2h1.0v1.0h-1.0zM100.4 362.0h1.0v1.0h-1.0zM96.3 370.8h1.0v1.0h-1.0zM97.5 366.3h1.0v1.0h-1.0zM104.0 349.4h1.0v1.0h-1.0zM99.3 370.4h1.0v1.0h-1.0zM107.4 362.3h1.0v1.0h-1.0zM100.2 366.5h1.0v1.0h-1.0zM106.3 351.0h1.0v1.0h-1.0zM100.1 360.8h1.0v1.0h-1.0zM101.7 368.7h1.0v1.0h-1.0zM95.2 330.2h1.0v1.0h-1.0z"/>
<polygon points="232.1,188.5 230.9,190.6 229.8,192.7 228.7,194.8 227.7,196.9 226.8,199.0 225.9,201.1 225.1,203.2 224.4,205.3 223.8,207.4 223.3,209.5 222.9,211.6 222.6,213.7 222.3,215.8 222.2,217.9 222.1,220.0 222.0,222.1 222.0,224.2 222.0,226.3 222.0,228.4 221.9,230.5 221.9,232.6 222.0,234.7 222.0,236.8 222.0,238.9 222.0,241.0 222.1,243.1 222.2,245.2 222.2,247.3 222.3,249.4 222.4,251.5 222.5,253.6 222.6,255.7 222.7,257.8 222.8,259.9 222.9,262.0 223.1,264.1 223.2,266.2 223.3,268.3 223.4,270.4 229.6,270.4 229.7,268.3 229.8,266.2 229.9,264.1 230.1,262.0 230.2,259.9 230.3,257.8 230.4,255.7 230.5,253.6 230.6,251.5 230.7,249.4 230.8,247.3 230.8,245.2 230.9,243.1 231.0,241.0 231.0,238.9 231.0,236.8 231.0,234.7 231.1,232.6 231.1,230.5 231.0,228.4 231.0,226.3 231.0,224.2 231.0,222.1 230.9,220.0 230.8,217.9 230.9,215.8 230.9,213.7 231.1,211.6 231.3,209.5 231.6,207.4 232.0,205.3 232.5,203.2 233.0,201.1 233.6,199.0 234.3,196.9 235.1,194.8 237.2,192.7 238.2,190.6 239.4,188.5" fill="#f6bcc6" opacity="0.6"/>
<polygon points="230.3,193.7 229.0,196.4 227.8,199.0 226.8,201.6 225.9,204.3 225.2,206.9 224.6,209.6 224.1,212.2 223.8,214.9 223.6,217.5 223.5,220.2 223.4,222.8 223.4,225.4 223.4,228.1 223.4,230.7 223.4,233.4 223.4,236.0 223.4,238.7 223.5,241.3 223.5,244.0 223.6,246.6 223.6,249.2 223.7,251.9 223.8,254.5 223.9,257.2 224.0,259.8 224.1,262.5 224.2,265.1 224.3,267.8 224.4,270.4 228.6,270.4 228.7,267.8 228.8,265.1 228.9,262.5 229.0,259.8 229.1,257.2 229.2,254.5 229.3,251.9 229.4,249.2 229.4,246.6 229.5,244.0 229.5,241.3 229.6,238.7 229.6,236.0 229.6,233.4 229.6,230.7 229.6,228.1 229.6,225.4 229.6,222.8 229.5,220.2 229.5,217.5 229.5,214.9 229.7,212.2 230.0,209.6 230.5,206.9 231.0,204.3 231.7,201.6 232.5,199.0 233.5,196.4 234.6,193.7" fill="#d8202e" opacity="0.92"/>
<path fill="#f4a0b4" d="M231.9 201.4h0.8v0.8h-0.8zM233.4 193.5h0.8v0.8h-0.8zM233.5 194.4h0.8v0.8h-0.8zM234.4 189.9h0.8v0.8h-0.8zM229.9 198.7h0.8v0.8h-0.8zM234.0 191.6h0.8v0.8h-0.8zM232.3 198.9h0.8v0.8h-0.8zM231.6 195.2h0.8v0.8h-0.8zM234.0 194.1h0.8v0.8h-0.8zM230.1 202.4h0.8v0.8h-0.8zM232.3 194.1h0.8v0.8h-0.8zM231.7 197.5h0.8v0.8h-0.8zM227.7 203.2h0.8v0.8h-0.8zM230.1 202.7h0.8v0.8h-0.8zM233.5 193.4h0.8v0.8h-0.8zM230.6 200.1h0.8v0.8h-0.8zM234.2 198.2h0.8v0.8h-0.8zM235.1 191.2h0.8v0.8h-0.8zM228.6 203.8h0.8v0.8h-0.8zM236.8 195.8h0.8v0.8h-0.8zM232.7 189.2h0.8v0.8h-0.8zM231.1 199.3h0.8v0.8h-0.8zM234.5 191.2h0.8v0.8h-0.8zM233.8 190.1h0.8v0.8h-0.8zM232.5 202.5h0.8v0.8h-0.8zM233.9 193.1h0.8v0.8h-0.8zM233.7 189.5h0.8v0.8h-0.8zM233.3 199.5h0.8v0.8h-0.8zM230.4 199.5h0.8v0.8h-0.8zM228.6 201.5h0.8v0.8h-0.8zM232.1 199.2h0.8v0.8h-0.8zM233.4 200.2h0.8v0.8h-0.8zM229.0 203.7h0.8v0.8h-0.8zM232.2 193.9h0.8v0.8h-0.8zM233.2 190.5h0.8v0.8h-0.8zM231.7 199.7h0.8v0.8h-0.8zM230.3 202.4h0.8v0.8h-0.8zM233.4 193.0h0.8v0.8h-0.8zM233.0 193.7h0.8v0.8h-0.8zM236.2 191.3h0.8v0.8h-0.8zM231.7 191.2h0.8v0.8h-0.8zM234.9 192.5h0.8v0.8h-0.8zM230.3 202.5h0.8v0.8h-0.8zM234.4 188.1h0.8v0.8h-0.8zM230.3 200.5h0.8v0.8h-0.8zM230.5 201.3h0.8v0.8h-0.8zM230.2 198.0h0.8v0.8h-0.8zM237.6 191.3h0.8v0.8h-0.8zM236.6 188.4h0.8v0.8h-0.8zM229.5 203.0h0.8v0.8h-0.8zM233.0 194.1h0.8v0.8h-0.8zM237.0 189.7h0.8v0.8h-0.8zM234.9 199.9h0.8v0.8h-0.8zM236.9 191.2h0.8v0.8h-0.8zM229.8 199.7h0.8v0.8h-0.8zM234.7 189.9h0.8v0.8h-0.8zM232.1 200.2h0.8v0.8h-0.8zM228.9 200.3h0.8v0.8h-0.8zM230.8 197.0h0.8v0.8h-0.8zM236.3 192.8h0.8v0.8h-0.8zM232.2 200.4h0.8v0.8h-0.8zM234.3 198.0h0.8v0.8h-0.8zM236.9 191.0h0.8v0.8h-0.8zM227.8 203.4h0.8v0.8h-0.8zM233.0 198.7h0.8v0.8h-0.8zM235.5 197.1h0.8v0.8h-0.8zM229.0 199.1h0.8v0.8h-0.8zM228.7 203.6h0.8v0.8h-0.8zM231.8 202.5h0.8v0.8h-0.8zM229.0 199.6h0.8v0.8h-0.8zM231.3 197.2h0.8v0.8h-0.8zM235.3 195.7h0.8v0.8h-0.8zM229.3 203.7h0.8v0.8h-0.8zM233.0 199.0h0.8v0.8h-0.8zM234.1 188.3h0.8v0.8h-0.8zM236.9 190.2h0.8v0.8h-0.8zM233.5 196.1h0.8v0.8h-0.8zM233.6 193.8h0.8v0.8h-0.8zM234.7 193.0h0.8v0.8h-0.8zM236.3 188.4h0.8v0.8h-0.8zM229.2 202.6h0.8v0.8h-0.8zM234.6 194.2h0.8v0.8h-0.8zM232.9 193.6h0.8v0.8h-0.8zM233.5 191.5h0.8v0.8h-0.8zM234.3 188.8h0.8v0.8h-0.8zM232.7 199.6h0.8v0.8h-0.8zM233.1 195.3h0.8v0.8h-0.8zM233.9 197.3h0.8v0.8h-0.8zM238.6 191.0h0.8v0.8h-0.8zM236.1 192.5h0.8v0.8h-0.8zM230.8 192.7h0.8v0.8h-0.8zM229.2 203.1h0.8v0.8h-0.8zM235.0 192.7h0.8v0.8h-0.8zM233.7 192.0h0.8v0.8h-0.8zM233.5 193.0h0.8v0.8h-0.8zM234.9 189.7h0.8v0.8h-0.8zM233.5 195.6h0.8v0.8h-0.8zM238.3 189.4h0.8v0.8h-0.8zM229.9 203.8h0.8v0.8h-0.8zM232.1 194.3h0.8v0.8h-0.8zM230.1 202.5h0.8v0.8h-0.8zM231.3 203.4h0.8v0.8h-0.8zM230.6 198.8h0.8v0.8h-0.8zM233.1 192.2h0.8v0.8h-0.8zM232.0 191.5h0.8v0.8h-0.8zM236.8 190.3h0.8v0.8h-0.8zM230.0 202.0h0.8v0.8h-0.8zM228.5 203.0h0.8v0.8h-0.8zM231.0 198.3h0.8v0.8h-0.8zM232.0 196.1h0.8v0.8h-0.8zM232.0 200.8h0.8v0.8h-0.8zM228.6 202.1h0.8v0.8h-0.8zM233.2 196.4h0.8v0.8h-0.8zM237.2 190.7h0.8v0.8h-0.8zM230.7 196.4h0.8v0.8h-0.8zM233.6 193.9h0.8v0.8h-0.8zM231.5 194.2h0.8v0.8h-0.8zM233.1 201.9h0.8v0.8h-0.8zM227.3 199.4h0.8v0.8h-0.8zM236.9 193.6h0.8v0.8h-0.8zM236.1 196.7h0.8v0.8h-0.8zM228.5 203.1h0.8v0.8h-0.8zM237.9 189.4h0.8v0.8h-0.8zM232.9 197.7h0.8v0.8h-0.8zM230.2 193.2h0.8v0.8h-0.8zM230.4 198.5h0.8v0.8h-0.8zM234.9 192.0h0.8v0.8h-0.8zM232.1 195.8h0.8v0.8h-0.8zM229.3 201.3h0.8v0.8h-0.8zM232.5 195.5h0.8v0.8h-0.8zM228.5 202.1h0.8v0.8h-0.8zM230.6 193.6h0.8v0.8h-0.8zM234.8 195.7h0.8v0.8h-0.8zM234.8 191.8h0.8v0.8h-0.8zM230.5 201.0h0.8v0.8h-0.8zM230.8 195.9h0.8v0.8h-0.8zM235.3 192.4h0.8v0.8h-0.8zM234.9 191.7h0.8v0.8h-0.8zM230.3 198.8h0.8v0.8h-0.8zM231.4 202.2h0.8v0.8h-0.8zM233.2 190.8h0.8v0.8h-0.8zM231.5 198.3h0.8v0.8h-0.8zM236.4 190.3h0.8v0.8h-0.8zM233.9 191.3h0.8v0.8h-0.8zM233.2 197.0h0.8v0.8h-0.8zM229.0 203.3h0.8v0.8h-0.8zM233.5 193.9h0.8v0.8h-0.8zM230.4 200.4h0.8v0.8h-0.8zM237.1 189.8h0.8v0.8h-0.8zM232.5 200.0h0.8v0.8h-0.8zM229.7 193.7h0.8v0.8h-0.8zM234.5 188.8h0.8v0.8h-0.8zM232.1 196.3h0.8v0.8h-0.8zM231.5 197.5h0.8v0.8h-0.8zM234.5 190.7h0.8v0.8h-0.8zM232.5 189.2h0.8v0.8h-0.8zM229.5 199.3h0.8v0.8h-0.8zM233.4 199.4h0.8v0.8h-0.8zM236.8 189.1h0.8v0.8h-0.8zM231.1 199.6h0.8v0.8h-0.8zM237.2 190.6h0.8v0.8h-0.8zM231.1 194.7h0.8v0.8h-0.8zM233.2 200.3h0.8v0.8h-0.8zM231.1 202.6h0.8v0.8h-0.8zM227.8 202.4h0.8v0.8h-0.8zM235.9 194.0h0.8v0.8h-0.8zM229.4 199.6h0.8v0.8h-0.8zM237.2 191.5h0.8v0.8h-0.8zM232.6 197.5h0.8v0.8h-0.8zM227.9 196.1h0.8v0.8h-0.8zM229.6 202.7h0.8v0.8h-0.8zM234.4 197.5h0.8v0.8h-0.8zM235.4 197.1h0.8v0.8h-0.8zM233.4 196.0h0.8v0.8h-0.8zM230.9 202.1h0.8v0.8h-0.8zM232.1 198.3h0.8v0.8h-0.8zM229.0 198.7h0.8v0.8h-0.8zM235.7 188.2h0.8v0.8h-0.8zM227.8 202.7h0.8v0.8h-0.8zM233.1 194.5h0.8v0.8h-0.8zM230.1 195.6h0.8v0.8h-0.8zM232.7 192.4h0.8v0.8h-0.8zM230.3 200.2h0.8v0.8h-0.8zM237.0 188.3h0.8v0.8h-0.8zM230.0 198.4h0.8v0.8h-0.8zM234.0 194.4h0.8v0.8h-0.8zM234.9 191.9h0.8v0.8h-0.8zM230.3 202.2h0.8v0.8h-0.8zM235.6 189.2h0.8v0.8h-0.8zM235.4 192.2h0.8v0.8h-0.8zM230.8 199.3h0.8v0.8h-0.8zM234.2 194.6h0.8v0.8h-0.8zM232.5 201.1h0.8v0.8h-0.8zM231.5 198.7h0.8v0.8h-0.8zM232.4 194.9h0.8v0.8h-0.8zM237.4 193.2h0.8v0.8h-0.8zM234.9 192.9h0.8v0.8h-0.8zM235.0 192.1h0.8v0.8h-0.8zM237.5 196.6h0.8v0.8h-0.8zM231.2 193.2h0.8v0.8h-0.8zM233.6 190.4h0.8v0.8h-0.8z"/>
<path fill="#e86880" d="M231.8 201.8h0.8v0.8h-0.8zM234.9 190.3h0.8v0.8h-0.8zM228.5 199.5h0.8v0.8h-0.8zM234.5 193.6h0.8v0.8h-0.8zM237.4 188.4h0.8v0.8h-0.8zM233.6 192.1h0.8v0.8h-0.8zM235.7 190.5h0.8v0.8h-0.8zM232.1 195.1h0.8v0.8h-0.8zM233.4 191.0h0.8v0.8h-0.8zM230.4 203.0h0.8v0.8h-0.8zM234.9 195.1h0.8v0.8h-0.8zM235.9 193.2h0.8v0.8h-0.8zM232.9 200.3h0.8v0.8h-0.8zM237.0 189.8h0.8v0.8h-0.8zM232.9 192.2h0.8v0.8h-0.8zM233.2 194.2h0.8v0.8h-0.8zM234.8 188.7h0.8v0.8h-0.8zM233.1 192.3h0.8v0.8h-0.8zM230.1 194.9h0.8v0.8h-0.8zM230.2 201.7h0.8v0.8h-0.8zM231.8 200.6h0.8v0.8h-0.8zM232.8 192.7h0.8v0.8h-0.8zM234.2 194.1h0.8v0.8h-0.8zM231.5 197.6h0.8v0.8h-0.8zM234.1 188.6h0.8v0.8h-0.8zM235.9 188.4h0.8v0.8h-0.8zM234.6 190.2h0.8v0.8h-0.8zM240.0 189.0h0.8v0.8h-0.8zM231.8 199.0h0.8v0.8h-0.8zM232.6 196.9h0.8v0.8h-0.8zM232.0 194.2h0.8v0.8h-0.8zM233.6 191.8h0.8v0.8h-0.8zM231.9 197.2h0.8v0.8h-0.8zM235.7 190.2h0.8v0.8h-0.8zM227.2 203.6h0.8v0.8h-0.8zM233.7 195.8h0.8v0.8h-0.8zM238.5 191.7h0.8v0.8h-0.8zM233.9 188.9h0.8v0.8h-0.8zM234.7 188.7h0.8v0.8h-0.8zM237.5 190.5h0.8v0.8h-0.8zM234.7 193.0h0.8v0.8h-0.8zM231.4 197.5h0.8v0.8h-0.8zM234.1 193.4h0.8v0.8h-0.8zM229.4 203.4h0.8v0.8h-0.8zM235.1 190.6h0.8v0.8h-0.8zM231.8 198.4h0.8v0.8h-0.8zM232.1 194.1h0.8v0.8h-0.8zM233.1 193.0h0.8v0.8h-0.8zM230.1 198.3h0.8v0.8h-0.8zM230.3 200.8h0.8v0.8h-0.8zM232.2 194.0h0.8v0.8h-0.8zM236.8 188.6h0.8v0.8h-0.8zM230.3 197.3h0.8v0.8h-0.8zM234.5 189.3h0.8v0.8h-0.8zM234.1 189.6h0.8v0.8h-0.8zM235.7 190.6h0.8v0.8h-0.8zM232.7 197.8h0.8v0.8h-0.8zM231.9 194.5h0.8v0.8h-0.8zM237.6 192.1h0.8v0.8h-0.8zM236.0 192.7h0.8v0.8h-0.8zM234.3 194.2h0.8v0.8h-0.8zM229.8 201.7h0.8v0.8h-0.8zM231.4 195.9h0.8v0.8h-0.8zM236.2 191.3h0.8v0.8h-0.8zM234.3 195.2h0.8v0.8h-0.8zM231.4 199.6h0.8v0.8h-0.8zM231.9 202.8h0.8v0.8h-0.8zM237.1 191.2h0.8v0.8h-0.8zM233.1 197.8h0.8v0.8h-0.8zM229.3 197.7h0.8v0.8h-0.8zM235.6 195.0h0.8v0.8h-0.8zM231.0 200.7h0.8v0.8h-0.8zM235.2 193.2h0.8v0.8h-0.8zM235.5 193.4h0.8v0.8h-0.8zM233.5 195.0h0.8v0.8h-0.8zM235.0 190.0h0.8v0.8h-0.8zM234.1 190.3h0.8v0.8h-0.8zM233.6 196.7h0.8v0.8h-0.8zM235.8 189.8h0.8v0.8h-0.8zM234.8 195.2h0.8v0.8h-0.8zM228.6 202.7h0.8v0.8h-0.8zM234.5 188.7h0.8v0.8h-0.8zM231.5 193.5h0.8v0.8h-0.8zM231.1 195.1h0.8v0.8h-0.8zM233.1 189.2h0.8v0.8h-0.8zM233.9 193.5h0.8v0.8h-0.8zM231.5 194.2h0.8v0.8h-0.8zM230.2 201.7h0.8v0.8h-0.8zM234.0 192.7h0.8v0.8h-0.8zM228.8 202.4h0.8v0.8h-0.8zM236.0 194.6h0.8v0.8h-0.8zM230.8 195.8h0.8v0.8h-0.8zM236.6 191.2h0.8v0.8h-0.8zM232.8 193.7h0.8v0.8h-0.8zM230.4 200.1h0.8v0.8h-0.8zM234.6 189.2h0.8v0.8h-0.8zM229.4 198.1h0.8v0.8h-0.8zM233.4 196.9h0.8v0.8h-0.8zM236.3 190.1h0.8v0.8h-0.8zM232.4 189.6h0.8v0.8h-0.8zM230.2 201.1h0.8v0.8h-0.8zM230.2 200.7h0.8v0.8h-0.8zM232.8 188.9h0.8v0.8h-0.8zM229.7 201.2h0.8v0.8h-0.8zM235.6 190.0h0.8v0.8h-0.8zM231.8 203.6h0.8v0.8h-0.8zM230.2 195.3h0.8v0.8h-0.8zM231.3 198.6h0.8v0.8h-0.8zM231.5 192.8h0.8v0.8h-0.8zM236.0 194.0h0.8v0.8h-0.8zM231.1 198.8h0.8v0.8h-0.8zM234.2 192.4h0.8v0.8h-0.8zM231.2 201.7h0.8v0.8h-0.8zM232.0 195.2h0.8v0.8h-0.8zM230.4 196.2h0.8v0.8h-0.8zM232.2 192.8h0.8v0.8h-0.8zM228.8 203.6h0.8v0.8h-0.8zM233.3 195.9h0.8v0.8h-0.8zM234.4 189.2h0.8v0.8h-0.8zM233.2 203.3h0.8v0.8h-0.8zM235.0 191.1h0.8v0.8h-0.8zM229.3 199.5h0.8v0.8h-0.8zM228.8 198.4h0.8v0.8h-0.8zM232.2 194.4h0.8v0.8h-0.8zM230.9 192.4h0.8v0.8h-0.8zM232.2 191.1h0.8v0.8h-0.8zM234.8 193.5h0.8v0.8h-0.8zM232.0 198.7h0.8v0.8h-0.8zM231.8 200.2h0.8v0.8h-0.8zM233.0 194.6h0.8v0.8h-0.8zM231.1 200.5h0.8v0.8h-0.8zM233.2 194.6h0.8v0.8h-0.8zM236.0 193.6h0.8v0.8h-0.8zM229.7 202.7h0.8v0.8h-0.8zM233.5 191.2h0.8v0.8h-0.8zM227.1 203.5h0.8v0.8h-0.8zM237.0 191.2h0.8v0.8h-0.8zM236.0 189.4h0.8v0.8h-0.8zM229.3 203.1h0.8v0.8h-0.8zM234.3 192.6h0.8v0.8h-0.8zM230.8 202.2h0.8v0.8h-0.8zM229.4 200.7h0.8v0.8h-0.8zM232.1 191.0h0.8v0.8h-0.8zM229.2 201.9h0.8v0.8h-0.8zM235.1 198.8h0.8v0.8h-0.8zM230.5 201.9h0.8v0.8h-0.8zM236.2 188.2h0.8v0.8h-0.8zM233.1 193.1h0.8v0.8h-0.8z"/>
<path fill="#c03048" d="M229.7 203.0h0.8v0.8h-0.8zM232.1 198.1h0.8v0.8h-0.8zM232.2 192.4h0.8v0.8h-0.8zM239.5 189.2h0.8v0.8h-0.8zM231.0 198.8h0.8v0.8h-0.8zM232.6 198.2h0.8v0.8h-0.8zM232.8 198.4h0.8v0.8h-0.8zM232.2 199.8h0.8v0.8h-0.8zM229.7 197.9h0.8v0.8h-0.8zM228.4 201.2h0.8v0.8h-0.8zM232.9 195.7h0.8v0.8h-0.8zM230.6 191.5h0.8v0.8h-0.8zM229.5 200.6h0.8v0.8h-0.8zM230.1 199.9h0.8v0.8h-0.8zM236.3 189.9h0.8v0.8h-0.8zM230.2 201.9h0.8v0.8h-0.8zM234.6 190.9h0.8v0.8h-0.8zM230.6 201.5h0.8v0.8h-0.8zM236.1 188.9h0.8v0.8h-0.8zM231.6 196.4h0.8v0.8h-0.8zM230.9 201.0h0.8v0.8h-0.8zM232.1 198.2h0.8v0.8h-0.8zM234.3 200.4h0.8v0.8h-0.8zM230.4 203.0h0.8v0.8h-0.8zM235.8 190.5h0.8v0.8h-0.8zM236.6 190.7h0.8v0.8h-0.8zM226.9 202.5h0.8v0.8h-0.8zM231.6 196.8h0.8v0.8h-0.8zM232.6 201.4h0.8v0.8h-0.8zM231.5 190.5h0.8v0.8h-0.8zM230.2 201.3h0.8v0.8h-0.8zM231.0 196.4h0.8v0.8h-0.8zM234.2 195.9h0.8v0.8h-0.8zM229.4 201.1h0.8v0.8h-0.8zM229.4 203.5h0.8v0.8h-0.8zM229.1 201.0h0.8v0.8h-0.8zM229.5 202.9h0.8v0.8h-0.8zM231.9 195.3h0.8v0.8h-0.8zM231.8 200.4h0.8v0.8h-0.8zM228.3 202.9h0.8v0.8h-0.8zM229.8 203.0h0.8v0.8h-0.8zM229.4 194.8h0.8v0.8h-0.8zM231.9 190.9h0.8v0.8h-0.8zM231.3 195.2h0.8v0.8h-0.8zM237.0 191.7h0.8v0.8h-0.8zM229.6 200.0h0.8v0.8h-0.8zM236.3 189.4h0.8v0.8h-0.8zM234.7 192.0h0.8v0.8h-0.8zM233.9 194.9h0.8v0.8h-0.8zM234.6 192.0h0.8v0.8h-0.8zM232.5 195.5h0.8v0.8h-0.8zM234.8 196.9h0.8v0.8h-0.8zM234.8 190.3h0.8v0.8h-0.8zM230.6 201.3h0.8v0.8h-0.8zM234.9 191.3h0.8v0.8h-0.8zM236.5 195.6h0.8v0.8h-0.8zM232.7 197.2h0.8v0.8h-0.8zM230.9 197.9h0.8v0.8h-0.8zM235.6 192.6h0.8v0.8h-0.8zM230.6 201.6h0.8v0.8h-0.8zM235.2 191.2h0.8v0.8h-0.8zM236.7 200.3h0.8v0.8h-0.8zM235.8 189.1h0.8v0.8h-0.8zM227.5 198.7h0.8v0.8h-0.8zM231.5 199.4h0.8v0.8h-0.8zM232.9 198.2h0.8v0.8h-0.8zM230.0 199.8h0.8v0.8h-0.8zM232.4 193.7h0.8v0.8h-0.8zM232.0 199.0h0.8v0.8h-0.8zM235.8 190.8h0.8v0.8h-0.8zM235.7 189.2h0.8v0.8h-0.8z"/>
<path fill="#ccc4c4" d="M201.1 220.3h0.8v0.8h-0.8zM167.3 204.9h0.8v0.8h-0.8zM195.2 255.9h0.8v0.8h-0.8zM199.2 240.0h0.8v0.8h-0.8zM179.1 218.6h0.8v0.8h-0.8zM199.8 226.9h0.8v0.8h-0.8zM180.7 261.3h0.8v0.8h-0.8zM205.8 250.1h0.8v0.8h-0.8zM167.9 219.7h0.8v0.8h-0.8zM192.4 216.7h0.8v0.8h-0.8zM215.8 240.1h0.8v0.8h-0.8zM198.3 208.5h0.8v0.8h-0.8zM215.2 216.2h0.8v0.8h-0.8zM215.6 257.1h0.8v0.8h-0.8zM205.6 251.4h0.8v0.8h-0.8zM207.8 201.7h0.8v0.8h-0.8zM204.0 231.7h0.8v0.8h-0.8zM191.8 228.2h0.8v0.8h-0.8zM207.0 252.4h0.8v0.8h-0.8zM207.0 230.1h0.8v0.8h-0.8zM211.0 216.0h0.8v0.8h-0.8zM164.4 259.7h0.8v0.8h-0.8zM166.0 213.6h0.8v0.8h-0.8zM189.3 245.9h0.8v0.8h-0.8zM203.1 220.0h0.8v0.8h-0.8zM186.8 243.8h0.8v0.8h-0.8zM184.8 212.2h0.8v0.8h-0.8zM165.1 262.1h0.8v0.8h-0.8zM197.1 226.1h0.8v0.8h-0.8zM216.1 248.2h0.8v0.8h-0.8zM197.6 253.1h0.8v0.8h-0.8zM177.4 233.1h0.8v0.8h-0.8zM198.6 238.2h0.8v0.8h-0.8zM184.2 208.3h0.8v0.8h-0.8zM183.9 238.3h0.8v0.8h-0.8zM167.1 237.7h0.8v0.8h-0.8zM202.9 263.5h0.8v0.8h-0.8zM164.0 224.9h0.8v0.8h-0.8zM209.8 210.8h0.8v0.8h-0.8zM164.4 228.7h0.8v0.8h-0.8zM206.4 255.7h0.8v0.8h-0.8zM183.1 200.7h0.8v0.8h-0.8zM183.0 202.5h0.8v0.8h-0.8zM174.1 239.3h0.8v0.8h-0.8zM175.3 250.9h0.8v0.8h-0.8zM202.9 233.0h0.8v0.8h-0.8zM213.5 213.8h0.8v0.8h-0.8zM171.7 247.3h0.8v0.8h-0.8zM179.0 217.0h0.8v0.8h-0.8zM217.5 232.0h0.8v0.8h-0.8zM201.4 214.8h0.8v0.8h-0.8zM214.0 264.4h0.8v0.8h-0.8zM185.0 227.8h0.8v0.8h-0.8zM205.9 249.2h0.8v0.8h-0.8zM202.7 212.8h0.8v0.8h-0.8zM204.6 243.1h0.8v0.8h-0.8zM190.0 220.9h0.8v0.8h-0.8zM180.0 208.3h0.8v0.8h-0.8zM183.9 222.3h0.8v0.8h-0.8zM171.8 204.4h0.8v0.8h-0.8zM168.3 242.7h0.8v0.8h-0.8zM184.7 239.3h0.8v0.8h-0.8zM210.7 260.5h0.8v0.8h-0.8zM182.0 201.8h0.8v0.8h-0.8zM194.6 228.9h0.8v0.8h-0.8zM208.9 269.8h0.8v0.8h-0.8zM169.7 224.5h0.8v0.8h-0.8zM184.2 204.1h0.8v0.8h-0.8zM184.2 256.7h0.8v0.8h-0.8zM202.8 206.5h0.8v0.8h-0.8zM213.3 250.6h0.8v0.8h-0.8zM164.4 237.2h0.8v0.8h-0.8zM193.7 262.2h0.8v0.8h-0.8zM164.2 236.3h0.8v0.8h-0.8zM180.4 248.1h0.8v0.8h-0.8zM185.8 218.2h0.8v0.8h-0.8zM179.3 269.7h0.8v0.8h-0.8zM186.5 214.7h0.8v0.8h-0.8zM183.7 259.3h0.8v0.8h-0.8zM191.2 248.3h0.8v0.8h-0.8zM177.6 234.1h0.8v0.8h-0.8zM185.3 226.4h0.8v0.8h-0.8zM176.0 206.0h0.8v0.8h-0.8zM186.9 256.2h0.8v0.8h-0.8zM202.6 216.0h0.8v0.8h-0.8zM165.7 261.8h0.8v0.8h-0.8zM218.4 262.9h0.8v0.8h-0.8zM172.1 214.8h0.8v0.8h-0.8zM207.2 220.6h0.8v0.8h-0.8z"/>
<path fill="#b4aaaa" d="M206.3 242.5h0.8v0.8h-0.8zM218.2 231.3h0.8v0.8h-0.8zM168.3 253.2h0.8v0.8h-0.8zM208.4 219.9h0.8v0.8h-0.8zM209.6 218.9h0.8v0.8h-0.8zM198.6 238.2h0.8v0.8h-0.8zM211.7 229.9h0.8v0.8h-0.8zM210.0 213.1h0.8v0.8h-0.8zM169.9 261.4h0.8v0.8h-0.8zM211.6 219.1h0.8v0.8h-0.8zM209.0 231.8h0.8v0.8h-0.8zM189.3 246.8h0.8v0.8h-0.8zM164.6 264.3h0.8v0.8h-0.8zM214.3 224.2h0.8v0.8h-0.8zM209.2 230.7h0.8v0.8h-0.8zM184.1 247.1h0.8v0.8h-0.8zM186.9 244.7h0.8v0.8h-0.8zM221.4 222.3h0.8v0.8h-0.8zM182.7 255.9h0.8v0.8h-0.8zM206.1 224.5h0.8v0.8h-0.8zM186.6 245.3h0.8v0.8h-0.8zM190.8 231.9h0.8v0.8h-0.8zM204.5 220.5h0.8v0.8h-0.8zM174.0 259.7h0.8v0.8h-0.8zM172.9 261.8h0.8v0.8h-0.8zM180.2 260.8h0.8v0.8h-0.8zM195.7 256.3h0.8v0.8h-0.8zM171.1 253.8h0.8v0.8h-0.8zM219.3 213.9h0.8v0.8h-0.8zM198.3 229.3h0.8v0.8h-0.8zM189.8 243.6h0.8v0.8h-0.8zM173.6 254.4h0.8v0.8h-0.8zM177.0 261.2h0.8v0.8h-0.8zM195.7 244.0h0.8v0.8h-0.8zM207.9 229.0h0.8v0.8h-0.8zM226.5 220.6h0.8v0.8h-0.8zM216.1 221.1h0.8v0.8h-0.8zM184.5 241.7h0.8v0.8h-0.8zM206.5 233.2h0.8v0.8h-0.8zM194.0 243.7h0.8v0.8h-0.8zM193.5 248.7h0.8v0.8h-0.8zM197.8 226.3h0.8v0.8h-0.8zM171.3 248.0h0.8v0.8h-0.8zM189.1 248.4h0.8v0.8h-0.8zM181.8 252.7h0.8v0.8h-0.8zM167.9 240.9h0.8v0.8h-0.8zM205.8 218.3h0.8v0.8h-0.8zM175.2 262.1h0.8v0.8h-0.8zM201.2 228.2h0.8v0.8h-0.8zM225.9 218.2h0.8v0.8h-0.8zM203.5 245.6h0.8v0.8h-0.8zM184.2 257.1h0.8v0.8h-0.8zM216.4 221.4h0.8v0.8h-0.8zM194.3 231.6h0.8v0.8h-0.8zM197.7 242.0h0.8v0.8h-0.8zM186.2 244.8h0.8v0.8h-0.8zM206.4 234.2h0.8v0.8h-0.8zM196.6 236.8h0.8v0.8h-0.8zM202.2 237.8h0.8v0.8h-0.8zM188.1 259.9h0.8v0.8h-0.8zM206.1 225.7h0.8v0.8h-0.8zM203.1 225.0h0.8v0.8h-0.8zM174.9 259.5h0.8v0.8h-0.8zM172.8 265.2h0.8v0.8h-0.8zM170.8 261.4h0.8v0.8h-0.8zM203.7 220.2h0.8v0.8h-0.8zM200.8 238.5h0.8v0.8h-0.8zM193.1 256.0h0.8v0.8h-0.8zM205.0 230.4h0.8v0.8h-0.8zM218.6 229.4h0.8v0.8h-0.8zM176.9 245.7h0.8v0.8h-0.8zM185.7 258.2h0.8v0.8h-0.8zM204.4 243.8h0.8v0.8h-0.8zM197.4 249.2h0.8v0.8h-0.8zM212.7 218.2h0.8v0.8h-0.8zM209.7 233.0h0.8v0.8h-0.8zM180.8 250.0h0.8v0.8h-0.8zM224.8 232.2h0.8v0.8h-0.8zM178.2 261.2h0.8v0.8h-0.8zM174.9 263.0h0.8v0.8h-0.8zM185.5 245.2h0.8v0.8h-0.8zM170.1 252.7h0.8v0.8h-0.8zM197.5 244.7h0.8v0.8h-0.8zM168.7 265.1h0.8v0.8h-0.8zM214.7 227.8h0.8v0.8h-0.8zM198.9 220.5h0.8v0.8h-0.8zM171.7 247.6h0.8v0.8h-0.8zM201.3 237.3h0.8v0.8h-0.8zM185.8 247.1h0.8v0.8h-0.8zM203.8 228.3h0.8v0.8h-0.8zM177.0 248.2h0.8v0.8h-0.8zM174.2 246.9h0.8v0.8h-0.8zM202.7 230.9h0.8v0.8h-0.8zM195.9 228.1h0.8v0.8h-0.8zM209.9 238.1h0.8v0.8h-0.8zM171.7 261.5h0.8v0.8h-0.8zM174.1 269.7h0.8v0.8h-0.8zM212.3 216.0h0.8v0.8h-0.8zM218.7 220.9h0.8v0.8h-0.8zM177.7 258.2h0.8v0.8h-0.8zM198.7 246.0h0.8v0.8h-0.8zM195.1 239.1h0.8v0.8h-0.8zM182.9 253.0h0.8v0.8h-0.8zM166.1 258.8h0.8v0.8h-0.8zM171.8 254.3h0.8v0.8h-0.8zM211.1 223.6h0.8v0.8h-0.8zM185.2 263.8h0.8v0.8h-0.8zM173.4 257.8h0.8v0.8h-0.8z"/>
<path fill="#d81028" d="M226.2 254.3h1.0v1.0h-1.0zM226.6 267.6h1.0v1.0h-1.0zM225.4 226.3h1.0v1.0h-1.0zM226.6 268.2h1.0v1.0h-1.0zM223.6 223.7h1.0v1.0h-1.0zM232.2 202.0h1.0v1.0h-1.0zM224.6 268.4h1.0v1.0h-1.0zM221.5 237.4h1.0v1.0h-1.0zM224.9 199.2h1.0v1.0h-1.0zM231.5 198.6h1.0v1.0h-1.0zM226.5 260.3h1.0v1.0h-1.0zM231.3 193.9h1.0v1.0h-1.0zM221.8 248.6h1.0v1.0h-1.0zM226.0 242.2h1.0v1.0h-1.0zM229.5 210.4h1.0v1.0h-1.0zM224.9 225.4h1.0v1.0h-1.0zM225.9 267.2h1.0v1.0h-1.0zM229.2 210.0h1.0v1.0h-1.0zM223.7 243.6h1.0v1.0h-1.0zM227.9 213.4h1.0v1.0h-1.0zM228.3 196.2h1.0v1.0h-1.0zM228.7 244.5h1.0v1.0h-1.0zM226.6 218.0h1.0v1.0h-1.0zM229.0 212.6h1.0v1.0h-1.0zM229.2 212.7h1.0v1.0h-1.0zM229.5 222.0h1.0v1.0h-1.0zM226.7 212.2h1.0v1.0h-1.0zM227.0 212.7h1.0v1.0h-1.0zM225.7 258.1h1.0v1.0h-1.0zM229.1 235.0h1.0v1.0h-1.0zM231.7 196.4h1.0v1.0h-1.0zM230.4 205.4h1.0v1.0h-1.0zM228.1 236.9h1.0v1.0h-1.0zM225.6 216.2h1.0v1.0h-1.0zM226.0 244.8h1.0v1.0h-1.0zM227.9 265.0h1.0v1.0h-1.0zM224.2 211.6h1.0v1.0h-1.0zM233.9 219.2h1.0v1.0h-1.0zM229.4 227.7h1.0v1.0h-1.0zM228.9 228.2h1.0v1.0h-1.0zM221.3 256.2h1.0v1.0h-1.0zM224.4 248.2h1.0v1.0h-1.0zM226.0 211.1h1.0v1.0h-1.0zM227.2 213.3h1.0v1.0h-1.0zM223.3 209.5h1.0v1.0h-1.0zM226.9 246.3h1.0v1.0h-1.0zM234.5 244.7h1.0v1.0h-1.0zM227.2 220.8h1.0v1.0h-1.0zM226.3 231.2h1.0v1.0h-1.0zM225.2 213.0h1.0v1.0h-1.0zM232.5 200.3h1.0v1.0h-1.0zM228.5 219.9h1.0v1.0h-1.0zM223.5 265.4h1.0v1.0h-1.0zM227.6 256.8h1.0v1.0h-1.0zM227.1 221.6h1.0v1.0h-1.0zM225.5 206.9h1.0v1.0h-1.0zM229.8 198.6h1.0v1.0h-1.0zM230.8 197.8h1.0v1.0h-1.0zM228.8 245.4h1.0v1.0h-1.0zM225.2 266.0h1.0v1.0h-1.0zM227.1 203.9h1.0v1.0h-1.0zM232.1 217.6h1.0v1.0h-1.0zM231.8 240.2h1.0v1.0h-1.0zM228.5 264.7h1.0v1.0h-1.0zM226.2 248.1h1.0v1.0h-1.0zM225.5 247.0h1.0v1.0h-1.0zM225.6 221.5h1.0v1.0h-1.0zM223.5 235.1h1.0v1.0h-1.0zM225.7 265.9h1.0v1.0h-1.0zM223.8 229.8h1.0v1.0h-1.0zM226.5 237.3h1.0v1.0h-1.0zM228.8 196.2h1.0v1.0h-1.0zM222.9 256.2h1.0v1.0h-1.0zM226.3 256.9h1.0v1.0h-1.0zM225.6 240.3h1.0v1.0h-1.0zM223.6 246.1h1.0v1.0h-1.0zM225.0 253.5h1.0v1.0h-1.0zM226.2 261.4h1.0v1.0h-1.0zM226.8 253.2h1.0v1.0h-1.0zM229.6 198.5h1.0v1.0h-1.0zM226.4 253.2h1.0v1.0h-1.0zM228.3 248.0h1.0v1.0h-1.0zM229.6 214.1h1.0v1.0h-1.0zM223.3 264.9h1.0v1.0h-1.0zM224.9 248.1h1.0v1.0h-1.0zM226.3 218.6h1.0v1.0h-1.0zM225.4 210.3h1.0v1.0h-1.0zM228.7 200.3h1.0v1.0h-1.0zM227.3 215.0h1.0v1.0h-1.0zM226.4 215.8h1.0v1.0h-1.0zM228.6 204.4h1.0v1.0h-1.0zM229.3 195.7h1.0v1.0h-1.0zM226.2 218.1h1.0v1.0h-1.0zM228.5 263.1h1.0v1.0h-1.0zM227.2 251.4h1.0v1.0h-1.0zM226.7 231.5h1.0v1.0h-1.0zM222.9 229.5h1.0v1.0h-1.0zM225.6 239.7h1.0v1.0h-1.0zM223.5 255.0h1.0v1.0h-1.0zM226.9 246.3h1.0v1.0h-1.0zM224.8 211.9h1.0v1.0h-1.0zM228.6 210.3h1.0v1.0h-1.0zM224.5 269.4h1.0v1.0h-1.0zM224.7 251.5h1.0v1.0h-1.0zM229.5 254.3h1.0v1.0h-1.0zM227.0 247.0h1.0v1.0h-1.0zM230.1 199.9h1.0v1.0h-1.0zM227.5 224.2h1.0v1.0h-1.0zM226.0 266.5h1.0v1.0h-1.0zM228.8 209.2h1.0v1.0h-1.0zM225.8 228.4h1.0v1.0h-1.0zM226.3 211.9h1.0v1.0h-1.0zM231.5 197.5h1.0v1.0h-1.0zM230.0 240.8h1.0v1.0h-1.0zM225.8 207.9h1.0v1.0h-1.0zM227.9 238.7h1.0v1.0h-1.0zM223.9 237.0h1.0v1.0h-1.0zM228.0 225.7h1.0v1.0h-1.0zM226.2 260.6h1.0v1.0h-1.0zM228.4 209.0h1.0v1.0h-1.0zM225.6 246.2h1.0v1.0h-1.0zM227.4 233.8h1.0v1.0h-1.0zM230.0 236.2h1.0v1.0h-1.0zM227.4 209.9h1.0v1.0h-1.0zM226.0 209.7h1.0v1.0h-1.0zM226.1 266.5h1.0v1.0h-1.0zM229.6 214.6h1.0v1.0h-1.0zM223.4 248.4h1.0v1.0h-1.0zM225.7 260.0h1.0v1.0h-1.0zM230.5 194.2h1.0v1.0h-1.0zM228.5 197.5h1.0v1.0h-1.0zM229.5 228.9h1.0v1.0h-1.0zM233.4 194.1h1.0v1.0h-1.0zM222.9 253.4h1.0v1.0h-1.0zM231.7 198.2h1.0v1.0h-1.0zM223.8 229.7h1.0v1.0h-1.0zM226.0 218.5h1.0v1.0h-1.0zM225.3 217.6h1.0v1.0h-1.0zM224.2 246.1h1.0v1.0h-1.0zM227.5 234.2h1.0v1.0h-1.0zM227.2 217.8h1.0v1.0h-1.0zM226.1 257.3h1.0v1.0h-1.0zM230.8 251.8h1.0v1.0h-1.0zM229.5 211.5h1.0v1.0h-1.0zM227.2 248.2h1.0v1.0h-1.0zM227.3 204.7h1.0v1.0h-1.0zM225.9 232.6h1.0v1.0h-1.0zM225.3 207.0h1.0v1.0h-1.0zM226.2 239.4h1.0v1.0h-1.0zM232.0 198.0h1.0v1.0h-1.0zM223.1 200.7h1.0v1.0h-1.0zM222.7 235.3h1.0v1.0h-1.0zM227.1 238.1h1.0v1.0h-1.0zM231.2 196.7h1.0v1.0h-1.0zM227.4 247.8h1.0v1.0h-1.0zM228.5 238.0h1.0v1.0h-1.0zM230.5 245.3h1.0v1.0h-1.0zM226.5 263.6h1.0v1.0h-1.0zM228.5 227.3h1.0v1.0h-1.0zM227.4 207.3h1.0v1.0h-1.0zM223.5 228.7h1.0v1.0h-1.0zM230.5 207.4h1.0v1.0h-1.0zM227.4 263.4h1.0v1.0h-1.0zM226.2 230.2h1.0v1.0h-1.0zM226.6 215.1h1.0v1.0h-1.0zM228.5 263.3h1.0v1.0h-1.0zM228.7 227.6h1.0v1.0h-1.0zM221.8 209.0h1.0v1.0h-1.0zM229.1 263.4h1.0v1.0h-1.0zM225.9 251.3h1.0v1.0h-1.0zM224.2 268.3h1.0v1.0h-1.0zM226.6 228.8h1.0v1.0h-1.0zM229.2 264.0h1.0v1.0h-1.0zM225.4 246.6h1.0v1.0h-1.0zM226.5 208.7h1.0v1.0h-1.0zM232.2 195.1h1.0v1.0h-1.0zM225.7 269.3h1.0v1.0h-1.0zM226.1 223.0h1.0v1.0h-1.0zM225.1 255.4h1.0v1.0h-1.0zM227.1 255.0h1.0v1.0h-1.0zM226.6 247.8h1.0v1.0h-1.0zM226.3 211.9h1.0v1.0h-1.0zM229.1 200.9h1.0v1.0h-1.0zM226.0 259.8h1.0v1.0h-1.0zM229.7 262.3h1.0v1.0h-1.0zM226.4 220.4h1.0v1.0h-1.0zM228.1 215.1h1.0v1.0h-1.0zM226.1 266.1h1.0v1.0h-1.0zM226.1 234.7h1.0v1.0h-1.0zM225.9 248.5h1.0v1.0h-1.0zM226.8 240.4h1.0v1.0h-1.0zM230.3 200.6h1.0v1.0h-1.0zM226.8 223.3h1.0v1.0h-1.0zM229.1 220.3h1.0v1.0h-1.0zM226.4 247.5h1.0v1.0h-1.0zM226.2 220.4h1.0v1.0h-1.0zM227.7 203.0h1.0v1.0h-1.0zM228.3 255.8h1.0v1.0h-1.0zM232.6 200.9h1.0v1.0h-1.0zM227.1 244.0h1.0v1.0h-1.0zM223.5 255.1h1.0v1.0h-1.0zM225.7 222.4h1.0v1.0h-1.0zM230.0 198.7h1.0v1.0h-1.0zM228.8 202.0h1.0v1.0h-1.0zM228.3 203.5h1.0v1.0h-1.0zM224.3 243.2h1.0v1.0h-1.0zM228.2 259.1h1.0v1.0h-1.0zM226.6 252.6h1.0v1.0h-1.0zM227.5 214.3h1.0v1.0h-1.0zM222.8 244.3h1.0v1.0h-1.0zM227.9 224.0h1.0v1.0h-1.0zM228.5 212.0h1.0v1.0h-1.0zM226.4 261.6h1.0v1.0h-1.0zM229.9 206.3h1.0v1.0h-1.0zM224.2 233.1h1.0v1.0h-1.0zM227.7 222.3h1.0v1.0h-1.0zM226.9 253.2h1.0v1.0h-1.0zM226.8 253.0h1.0v1.0h-1.0zM226.2 217.1h1.0v1.0h-1.0zM223.2 246.6h1.0v1.0h-1.0zM230.7 203.9h1.0v1.0h-1.0zM225.4 269.8h1.0v1.0h-1.0zM229.3 202.7h1.0v1.0h-1.0zM222.9 234.5h1.0v1.0h-1.0zM225.0 266.9h1.0v1.0h-1.0zM224.1 234.7h1.0v1.0h-1.0zM229.1 210.8h1.0v1.0h-1.0zM229.1 226.2h1.0v1.0h-1.0zM227.0 234.7h1.0v1.0h-1.0zM223.5 235.4h1.0v1.0h-1.0zM228.0 223.3h1.0v1.0h-1.0zM224.1 233.8h1.0v1.0h-1.0zM231.4 194.5h1.0v1.0h-1.0zM225.4 219.0h1.0v1.0h-1.0zM223.2 237.9h1.0v1.0h-1.0zM231.4 248.7h1.0v1.0h-1.0zM227.1 264.9h1.0v1.0h-1.0zM227.4 210.7h1.0v1.0h-1.0zM226.0 248.2h1.0v1.0h-1.0zM226.2 232.7h1.0v1.0h-1.0zM225.3 253.4h1.0v1.0h-1.0zM227.4 240.5h1.0v1.0h-1.0zM233.6 194.3h1.0v1.0h-1.0zM223.4 247.1h1.0v1.0h-1.0zM226.5 212.2h1.0v1.0h-1.0zM228.2 203.1h1.0v1.0h-1.0zM221.8 237.0h1.0v1.0h-1.0zM227.1 230.6h1.0v1.0h-1.0zM232.0 195.0h1.0v1.0h-1.0zM225.4 205.1h1.0v1.0h-1.0zM226.2 246.3h1.0v1.0h-1.0zM225.6 251.0h1.0v1.0h-1.0zM226.2 213.5h1.0v1.0h-1.0zM224.8 255.3h1.0v1.0h-1.0zM229.7 198.4h1.0v1.0h-1.0zM229.5 222.2h1.0v1.0h-1.0zM228.4 228.5h1.0v1.0h-1.0zM226.7 211.6h1.0v1.0h-1.0zM227.4 244.8h1.0v1.0h-1.0zM223.1 215.3h1.0v1.0h-1.0zM222.6 214.9h1.0v1.0h-1.0zM225.4 204.5h1.0v1.0h-1.0zM226.4 243.4h1.0v1.0h-1.0zM228.5 202.7h1.0v1.0h-1.0zM222.9 269.3h1.0v1.0h-1.0zM226.4 266.8h1.0v1.0h-1.0zM228.7 222.3h1.0v1.0h-1.0zM223.8 245.0h1.0v1.0h-1.0zM232.1 220.8h1.0v1.0h-1.0zM228.5 218.6h1.0v1.0h-1.0zM229.8 235.4h1.0v1.0h-1.0zM224.8 267.2h1.0v1.0h-1.0zM229.0 235.4h1.0v1.0h-1.0zM225.0 233.9h1.0v1.0h-1.0zM231.7 200.1h1.0v1.0h-1.0zM227.0 239.0h1.0v1.0h-1.0zM225.8 219.1h1.0v1.0h-1.0zM228.1 196.1h1.0v1.0h-1.0zM227.0 215.9h1.0v1.0h-1.0zM224.1 233.3h1.0v1.0h-1.0zM226.2 249.0h1.0v1.0h-1.0zM231.6 197.4h1.0v1.0h-1.0zM226.5 246.7h1.0v1.0h-1.0zM227.0 248.2h1.0v1.0h-1.0zM228.1 244.3h1.0v1.0h-1.0zM228.3 254.0h1.0v1.0h-1.0zM224.1 257.7h1.0v1.0h-1.0zM226.4 239.5h1.0v1.0h-1.0zM225.0 241.0h1.0v1.0h-1.0zM223.6 240.0h1.0v1.0h-1.0zM227.5 267.8h1.0v1.0h-1.0zM226.8 240.0h1.0v1.0h-1.0zM229.7 196.6h1.0v1.0h-1.0zM226.0 242.0h1.0v1.0h-1.0zM229.0 223.4h1.0v1.0h-1.0zM228.4 226.9h1.0v1.0h-1.0zM225.8 239.6h1.0v1.0h-1.0zM227.1 262.6h1.0v1.0h-1.0zM228.2 269.4h1.0v1.0h-1.0zM229.8 269.0h1.0v1.0h-1.0zM228.7 215.4h1.0v1.0h-1.0zM223.9 235.4h1.0v1.0h-1.0zM228.1 235.1h1.0v1.0h-1.0zM225.3 261.3h1.0v1.0h-1.0zM225.5 210.6h1.0v1.0h-1.0zM229.1 196.7h1.0v1.0h-1.0zM227.5 230.7h1.0v1.0h-1.0zM227.0 213.9h1.0v1.0h-1.0zM231.0 199.9h1.0v1.0h-1.0zM227.8 257.3h1.0v1.0h-1.0zM225.2 212.7h1.0v1.0h-1.0zM229.1 240.7h1.0v1.0h-1.0zM225.7 221.1h1.0v1.0h-1.0zM229.9 198.4h1.0v1.0h-1.0zM224.4 259.7h1.0v1.0h-1.0zM230.7 202.1h1.0v1.0h-1.0zM230.5 253.6h1.0v1.0h-1.0zM223.3 234.5h1.0v1.0h-1.0zM228.3 228.9h1.0v1.0h-1.0zM225.2 226.2h1.0v1.0h-1.0zM224.4 252.6h1.0v1.0h-1.0zM228.9 204.2h1.0v1.0h-1.0zM228.0 207.5h1.0v1.0h-1.0zM228.4 248.7h1.0v1.0h-1.0zM228.0 208.3h1.0v1.0h-1.0zM225.5 207.0h1.0v1.0h-1.0zM229.8 215.7h1.0v1.0h-1.0zM226.8 221.6h1.0v1.0h-1.0zM228.5 196.5h1.0v1.0h-1.0zM228.0 254.9h1.0v1.0h-1.0zM228.1 200.2h1.0v1.0h-1.0zM227.5 253.9h1.0v1.0h-1.0zM225.0 228.0h1.0v1.0h-1.0zM228.6 213.8h1.0v1.0h-1.0zM226.3 216.1h1.0v1.0h-1.0zM223.0 243.8h1.0v1.0h-1.0zM230.0 251.6h1.0v1.0h-1.0zM228.0 262.7h1.0v1.0h-1.0zM224.1 249.8h1.0v1.0h-1.0zM225.7 237.1h1.0v1.0h-1.0zM224.9 233.2h1.0v1.0h-1.0zM224.7 224.2h1.0v1.0h-1.0zM232.9 194.9h1.0v1.0h-1.0zM225.4 267.9h1.0v1.0h-1.0zM233.4 226.4h1.0v1.0h-1.0zM233.4 224.7h1.0v1.0h-1.0zM228.9 252.3h1.0v1.0h-1.0zM229.3 203.9h1.0v1.0h-1.0zM227.2 228.9h1.0v1.0h-1.0zM227.2 221.4h1.0v1.0h-1.0zM231.8 195.1h1.0v1.0h-1.0zM229.3 199.2h1.0v1.0h-1.0zM226.6 243.4h1.0v1.0h-1.0zM227.2 217.9h1.0v1.0h-1.0zM221.1 238.9h1.0v1.0h-1.0zM231.3 206.7h1.0v1.0h-1.0zM223.5 264.5h1.0v1.0h-1.0zM224.6 232.4h1.0v1.0h-1.0zM228.0 247.7h1.0v1.0h-1.0zM226.5 207.8h1.0v1.0h-1.0zM225.6 230.3h1.0v1.0h-1.0zM221.7 248.8h1.0v1.0h-1.0zM230.7 198.7h1.0v1.0h-1.0zM228.2 229.9h1.0v1.0h-1.0zM226.0 257.3h1.0v1.0h-1.0zM227.1 229.4h1.0v1.0h-1.0zM227.3 269.3h1.0v1.0h-1.0zM225.0 236.9h1.0v1.0h-1.0zM225.2 261.8h1.0v1.0h-1.0zM224.7 242.4h1.0v1.0h-1.0zM229.2 263.3h1.0v1.0h-1.0zM227.8 231.2h1.0v1.0h-1.0zM227.4 217.4h1.0v1.0h-1.0zM227.2 254.0h1.0v1.0h-1.0zM229.3 207.6h1.0v1.0h-1.0zM226.4 265.4h1.0v1.0h-1.0zM224.0 261.1h1.0v1.0h-1.0zM224.5 230.9h1.0v1.0h-1.0zM227.4 256.3h1.0v1.0h-1.0zM226.2 207.7h1.0v1.0h-1.0zM225.7 238.6h1.0v1.0h-1.0zM231.6 197.2h1.0v1.0h-1.0zM226.2 210.3h1.0v1.0h-1.0zM227.8 208.7h1.0v1.0h-1.0zM223.6 230.5h1.0v1.0h-1.0zM225.3 262.4h1.0v1.0h-1.0zM223.2 269.7h1.0v1.0h-1.0zM224.8 230.3h1.0v1.0h-1.0zM225.9 195.4h1.0v1.0h-1.0zM226.5 223.3h1.0v1.0h-1.0zM229.5 203.3h1.0v1.0h-1.0zM229.9 203.8h1.0v1.0h-1.0zM227.2 202.6h1.0v1.0h-1.0zM229.8 252.0h1.0v1.0h-1.0zM227.0 234.1h1.0v1.0h-1.0zM225.0 247.0h1.0v1.0h-1.0zM227.2 265.4h1.0v1.0h-1.0zM225.4 207.9h1.0v1.0h-1.0zM226.8 266.6h1.0v1.0h-1.0zM231.8 257.3h1.0v1.0h-1.0zM227.1 219.2h1.0v1.0h-1.0zM228.5 250.7h1.0v1.0h-1.0zM227.0 261.5h1.0v1.0h-1.0zM222.2 254.0h1.0v1.0h-1.0zM227.5 209.8h1.0v1.0h-1.0zM228.1 203.0h1.0v1.0h-1.0zM229.4 265.1h1.0v1.0h-1.0zM226.2 269.5h1.0v1.0h-1.0zM228.2 196.6h1.0v1.0h-1.0zM229.0 260.3h1.0v1.0h-1.0zM227.7 201.7h1.0v1.0h-1.0zM235.4 194.1h1.0v1.0h-1.0zM230.7 209.6h1.0v1.0h-1.0zM224.9 249.3h1.0v1.0h-1.0zM228.3 267.0h1.0v1.0h-1.0zM226.4 249.4h1.0v1.0h-1.0zM227.7 259.9h1.0v1.0h-1.0zM227.1 256.3h1.0v1.0h-1.0zM225.6 239.8h1.0v1.0h-1.0zM228.2 256.1h1.0v1.0h-1.0zM225.4 229.8h1.0v1.0h-1.0zM227.3 229.6h1.0v1.0h-1.0zM224.9 217.7h1.0v1.0h-1.0zM226.1 214.1h1.0v1.0h-1.0zM224.2 254.2h1.0v1.0h-1.0zM226.9 258.9h1.0v1.0h-1.0zM227.9 221.7h1.0v1.0h-1.0zM226.0 258.4h1.0v1.0h-1.0zM223.7 207.6h1.0v1.0h-1.0zM226.3 247.9h1.0v1.0h-1.0zM227.9 245.3h1.0v1.0h-1.0zM225.7 211.9h1.0v1.0h-1.0zM230.6 195.5h1.0v1.0h-1.0zM223.4 263.0h1.0v1.0h-1.0zM227.8 232.7h1.0v1.0h-1.0zM233.1 200.7h1.0v1.0h-1.0zM224.1 229.1h1.0v1.0h-1.0zM229.0 239.1h1.0v1.0h-1.0zM225.1 247.7h1.0v1.0h-1.0zM229.4 210.6h1.0v1.0h-1.0zM227.8 200.9h1.0v1.0h-1.0zM227.8 267.9h1.0v1.0h-1.0zM226.3 257.2h1.0v1.0h-1.0zM227.6 256.4h1.0v1.0h-1.0zM229.8 255.8h1.0v1.0h-1.0zM228.6 223.2h1.0v1.0h-1.0zM227.3 206.1h1.0v1.0h-1.0zM221.9 239.4h1.0v1.0h-1.0zM225.7 241.0h1.0v1.0h-1.0zM227.0 218.2h1.0v1.0h-1.0zM228.4 208.0h1.0v1.0h-1.0zM227.6 264.0h1.0v1.0h-1.0zM225.6 254.6h1.0v1.0h-1.0zM226.6 220.0h1.0v1.0h-1.0zM224.3 226.8h1.0v1.0h-1.0zM227.5 213.1h1.0v1.0h-1.0zM229.9 225.7h1.0v1.0h-1.0zM226.5 254.5h1.0v1.0h-1.0zM225.1 258.0h1.0v1.0h-1.0zM226.6 198.6h1.0v1.0h-1.0zM223.0 245.7h1.0v1.0h-1.0zM227.9 269.4h1.0v1.0h-1.0zM228.8 212.1h1.0v1.0h-1.0zM228.5 243.9h1.0v1.0h-1.0zM230.9 241.4h1.0v1.0h-1.0zM228.5 267.5h1.0v1.0h-1.0zM224.8 217.8h1.0v1.0h-1.0zM226.1 251.4h1.0v1.0h-1.0zM226.1 228.4h1.0v1.0h-1.0zM225.2 230.6h1.0v1.0h-1.0zM227.6 215.1h1.0v1.0h-1.0zM228.1 240.9h1.0v1.0h-1.0zM224.1 251.2h1.0v1.0h-1.0zM230.1 250.7h1.0v1.0h-1.0zM227.3 263.6h1.0v1.0h-1.0zM227.5 258.0h1.0v1.0h-1.0zM228.1 243.5h1.0v1.0h-1.0zM226.2 219.7h1.0v1.0h-1.0zM226.0 216.1h1.0v1.0h-1.0zM226.0 217.2h1.0v1.0h-1.0zM230.5 206.9h1.0v1.0h-1.0zM223.8 248.3h1.0v1.0h-1.0zM224.6 215.3h1.0v1.0h-1.0zM226.1 257.1h1.0v1.0h-1.0zM226.0 236.9h1.0v1.0h-1.0zM225.5 269.1h1.0v1.0h-1.0zM225.8 264.2h1.0v1.0h-1.0zM223.7 252.7h1.0v1.0h-1.0zM227.2 235.1h1.0v1.0h-1.0zM224.4 225.6h1.0v1.0h-1.0zM227.2 208.6h1.0v1.0h-1.0zM225.9 206.9h1.0v1.0h-1.0zM224.0 268.6h1.0v1.0h-1.0zM230.8 226.0h1.0v1.0h-1.0zM224.9 249.6h1.0v1.0h-1.0zM227.6 247.6h1.0v1.0h-1.0zM226.1 231.8h1.0v1.0h-1.0zM225.8 230.8h1.0v1.0h-1.0zM226.1 251.3h1.0v1.0h-1.0zM231.7 232.7h1.0v1.0h-1.0zM230.7 207.7h1.0v1.0h-1.0zM226.9 269.0h1.0v1.0h-1.0zM227.3 249.0h1.0v1.0h-1.0zM225.0 269.1h1.0v1.0h-1.0zM231.4 196.5h1.0v1.0h-1.0zM225.1 214.8h1.0v1.0h-1.0zM230.9 243.3h1.0v1.0h-1.0zM229.4 260.1h1.0v1.0h-1.0zM224.5 237.0h1.0v1.0h-1.0zM227.8 246.9h1.0v1.0h-1.0zM226.2 234.4h1.0v1.0h-1.0zM232.7 194.2h1.0v1.0h-1.0zM222.7 217.7h1.0v1.0h-1.0zM227.5 228.1h1.0v1.0h-1.0zM226.7 244.0h1.0v1.0h-1.0zM227.3 221.6h1.0v1.0h-1.0zM223.4 227.3h1.0v1.0h-1.0zM227.0 227.2h1.0v1.0h-1.0zM226.1 263.4h1.0v1.0h-1.0zM230.0 240.4h1.0v1.0h-1.0zM230.7 268.2h1.0v1.0h-1.0zM230.6 194.1h1.0v1.0h-1.0zM225.0 267.5h1.0v1.0h-1.0zM225.9 208.8h1.0v1.0h-1.0zM225.5 263.0h1.0v1.0h-1.0zM229.9 197.1h1.0v1.0h-1.0zM230.5 205.8h1.0v1.0h-1.0zM223.1 241.9h1.0v1.0h-1.0zM222.9 220.1h1.0v1.0h-1.0zM231.8 195.9h1.0v1.0h-1.0zM230.1 206.8h1.0v1.0h-1.0zM225.4 238.6h1.0v1.0h-1.0zM224.2 247.2h1.0v1.0h-1.0zM229.3 240.6h1.0v1.0h-1.0zM224.5 268.0h1.0v1.0h-1.0zM227.5 249.2h1.0v1.0h-1.0zM224.7 221.1h1.0v1.0h-1.0zM229.4 199.9h1.0v1.0h-1.0zM226.0 204.6h1.0v1.0h-1.0zM226.1 217.8h1.0v1.0h-1.0zM226.4 267.0h1.0v1.0h-1.0zM230.2 203.1h1.0v1.0h-1.0zM229.2 216.4h1.0v1.0h-1.0zM225.2 221.0h1.0v1.0h-1.0zM230.8 222.1h1.0v1.0h-1.0zM231.2 210.6h1.0v1.0h-1.0zM228.4 268.7h1.0v1.0h-1.0zM224.6 226.2h1.0v1.0h-1.0zM225.7 241.8h1.0v1.0h-1.0zM230.9 247.9h1.0v1.0h-1.0zM229.0 219.3h1.0v1.0h-1.0zM227.2 216.4h1.0v1.0h-1.0zM229.7 197.1h1.0v1.0h-1.0zM226.5 214.0h1.0v1.0h-1.0zM225.7 242.2h1.0v1.0h-1.0zM227.8 238.1h1.0v1.0h-1.0zM227.9 267.0h1.0v1.0h-1.0zM228.5 236.2h1.0v1.0h-1.0zM229.7 234.6h1.0v1.0h-1.0zM231.6 198.3h1.0v1.0h-1.0zM224.6 232.6h1.0v1.0h-1.0zM228.1 263.5h1.0v1.0h-1.0zM225.3 209.6h1.0v1.0h-1.0zM229.9 243.2h1.0v1.0h-1.0zM230.8 197.8h1.0v1.0h-1.0zM229.0 231.0h1.0v1.0h-1.0zM227.8 205.1h1.0v1.0h-1.0zM224.6 265.9h1.0v1.0h-1.0zM228.0 237.0h1.0v1.0h-1.0zM221.4 231.2h1.0v1.0h-1.0zM228.5 198.0h1.0v1.0h-1.0zM228.0 210.4h1.0v1.0h-1.0zM229.6 242.1h1.0v1.0h-1.0zM227.4 247.3h1.0v1.0h-1.0zM227.5 241.2h1.0v1.0h-1.0zM227.6 269.3h1.0v1.0h-1.0zM228.2 229.7h1.0v1.0h-1.0zM226.0 212.9h1.0v1.0h-1.0zM227.1 260.5h1.0v1.0h-1.0zM225.3 212.5h1.0v1.0h-1.0zM231.2 194.8h1.0v1.0h-1.0zM225.3 258.0h1.0v1.0h-1.0zM231.6 243.0h1.0v1.0h-1.0zM227.1 267.1h1.0v1.0h-1.0zM221.6 234.0h1.0v1.0h-1.0zM227.6 248.3h1.0v1.0h-1.0zM223.5 224.0h1.0v1.0h-1.0zM224.1 234.4h1.0v1.0h-1.0zM222.8 246.9h1.0v1.0h-1.0zM226.5 224.2h1.0v1.0h-1.0zM226.3 254.9h1.0v1.0h-1.0zM228.3 251.8h1.0v1.0h-1.0zM229.6 258.5h1.0v1.0h-1.0zM222.8 253.6h1.0v1.0h-1.0zM225.9 258.1h1.0v1.0h-1.0zM225.2 241.9h1.0v1.0h-1.0zM227.1 223.8h1.0v1.0h-1.0zM225.2 225.4h1.0v1.0h-1.0zM228.5 245.7h1.0v1.0h-1.0zM225.8 222.0h1.0v1.0h-1.0zM227.2 244.4h1.0v1.0h-1.0zM228.4 251.3h1.0v1.0h-1.0zM225.3 206.6h1.0v1.0h-1.0zM228.7 244.1h1.0v1.0h-1.0zM231.8 226.0h1.0v1.0h-1.0zM227.8 261.6h1.0v1.0h-1.0zM223.3 241.4h1.0v1.0h-1.0zM226.8 256.3h1.0v1.0h-1.0zM227.9 210.1h1.0v1.0h-1.0zM229.7 199.7h1.0v1.0h-1.0zM226.9 226.4h1.0v1.0h-1.0zM229.0 245.4h1.0v1.0h-1.0zM227.8 203.9h1.0v1.0h-1.0zM228.3 243.0h1.0v1.0h-1.0zM225.1 264.7h1.0v1.0h-1.0zM231.9 193.7h1.0v1.0h-1.0zM229.6 217.7h1.0v1.0h-1.0zM224.9 224.4h1.0v1.0h-1.0zM228.8 266.2h1.0v1.0h-1.0zM223.6 255.2h1.0v1.0h-1.0zM228.2 269.3h1.0v1.0h-1.0zM224.4 244.7h1.0v1.0h-1.0zM228.0 218.5h1.0v1.0h-1.0zM230.2 199.4h1.0v1.0h-1.0zM228.2 263.7h1.0v1.0h-1.0zM225.8 204.8h1.0v1.0h-1.0zM227.5 232.8h1.0v1.0h-1.0zM226.7 269.7h1.0v1.0h-1.0zM222.9 215.8h1.0v1.0h-1.0zM227.2 263.8h1.0v1.0h-1.0zM227.0 240.7h1.0v1.0h-1.0zM225.2 262.9h1.0v1.0h-1.0zM223.7 240.5h1.0v1.0h-1.0zM226.8 226.1h1.0v1.0h-1.0zM221.4 225.3h1.0v1.0h-1.0zM224.4 238.6h1.0v1.0h-1.0zM228.6 239.6h1.0v1.0h-1.0zM228.9 215.3h1.0v1.0h-1.0zM228.1 233.0h1.0v1.0h-1.0zM227.3 228.2h1.0v1.0h-1.0zM222.6 264.0h1.0v1.0h-1.0zM227.1 261.5h1.0v1.0h-1.0zM225.5 227.5h1.0v1.0h-1.0zM229.5 232.6h1.0v1.0h-1.0zM229.8 216.3h1.0v1.0h-1.0zM228.0 268.3h1.0v1.0h-1.0zM224.2 225.7h1.0v1.0h-1.0zM228.2 267.0h1.0v1.0h-1.0zM223.9 217.7h1.0v1.0h-1.0zM226.2 223.5h1.0v1.0h-1.0zM224.3 222.5h1.0v1.0h-1.0zM225.1 235.3h1.0v1.0h-1.0zM228.5 265.1h1.0v1.0h-1.0zM224.3 225.1h1.0v1.0h-1.0zM229.5 236.0h1.0v1.0h-1.0zM227.4 259.2h1.0v1.0h-1.0zM225.2 256.8h1.0v1.0h-1.0zM224.0 250.5h1.0v1.0h-1.0zM228.7 222.7h1.0v1.0h-1.0zM220.3 253.7h1.0v1.0h-1.0zM228.9 194.7h1.0v1.0h-1.0zM230.3 259.2h1.0v1.0h-1.0zM226.6 205.0h1.0v1.0h-1.0zM231.9 213.0h1.0v1.0h-1.0zM229.1 217.7h1.0v1.0h-1.0zM229.4 233.4h1.0v1.0h-1.0zM225.8 263.6h1.0v1.0h-1.0zM227.7 268.6h1.0v1.0h-1.0zM227.9 240.2h1.0v1.0h-1.0zM227.6 269.2h1.0v1.0h-1.0zM226.3 267.9h1.0v1.0h-1.0zM232.2 200.5h1.0v1.0h-1.0zM233.5 194.1h1.0v1.0h-1.0zM228.1 243.8h1.0v1.0h-1.0zM230.4 201.1h1.0v1.0h-1.0zM229.4 215.0h1.0v1.0h-1.0zM222.4 230.2h1.0v1.0h-1.0zM225.9 230.9h1.0v1.0h-1.0zM226.1 202.3h1.0v1.0h-1.0zM227.4 205.9h1.0v1.0h-1.0zM224.5 222.9h1.0v1.0h-1.0zM226.2 245.8h1.0v1.0h-1.0zM232.3 194.9h1.0v1.0h-1.0zM232.6 222.3h1.0v1.0h-1.0zM232.0 199.4h1.0v1.0h-1.0zM230.6 195.8h1.0v1.0h-1.0zM224.1 225.3h1.0v1.0h-1.0zM221.5 239.8h1.0v1.0h-1.0zM225.4 261.4h1.0v1.0h-1.0zM229.8 200.8h1.0v1.0h-1.0zM225.4 228.6h1.0v1.0h-1.0zM226.7 261.9h1.0v1.0h-1.0zM226.8 223.5h1.0v1.0h-1.0zM226.3 203.5h1.0v1.0h-1.0zM226.9 260.4h1.0v1.0h-1.0zM229.6 260.0h1.0v1.0h-1.0zM226.8 265.0h1.0v1.0h-1.0zM229.4 213.4h1.0v1.0h-1.0zM227.9 208.7h1.0v1.0h-1.0zM226.6 265.6h1.0v1.0h-1.0zM231.6 209.6h1.0v1.0h-1.0zM223.8 242.3h1.0v1.0h-1.0zM225.2 235.4h1.0v1.0h-1.0zM226.8 209.2h1.0v1.0h-1.0zM228.1 218.8h1.0v1.0h-1.0zM223.1 258.1h1.0v1.0h-1.0zM226.2 268.1h1.0v1.0h-1.0zM231.9 194.9h1.0v1.0h-1.0zM221.9 258.9h1.0v1.0h-1.0zM230.8 199.8h1.0v1.0h-1.0zM227.8 235.4h1.0v1.0h-1.0zM224.9 269.7h1.0v1.0h-1.0zM230.3 232.7h1.0v1.0h-1.0zM229.5 203.8h1.0v1.0h-1.0zM221.3 240.5h1.0v1.0h-1.0zM225.5 256.9h1.0v1.0h-1.0zM223.4 268.1h1.0v1.0h-1.0zM227.1 243.4h1.0v1.0h-1.0zM225.3 208.8h1.0v1.0h-1.0zM229.0 268.1h1.0v1.0h-1.0zM229.5 250.4h1.0v1.0h-1.0zM229.5 196.1h1.0v1.0h-1.0zM228.6 214.7h1.0v1.0h-1.0zM228.4 238.8h1.0v1.0h-1.0zM233.2 195.1h1.0v1.0h-1.0zM227.5 226.7h1.0v1.0h-1.0zM230.0 203.1h1.0v1.0h-1.0zM226.4 223.7h1.0v1.0h-1.0zM221.9 226.5h1.0v1.0h-1.0zM221.1 218.1h1.0v1.0h-1.0zM221.6 254.0h1.0v1.0h-1.0zM226.0 221.1h1.0v1.0h-1.0zM224.6 261.0h1.0v1.0h-1.0zM222.6 257.1h1.0v1.0h-1.0zM229.4 247.2h1.0v1.0h-1.0zM228.6 202.4h1.0v1.0h-1.0zM227.7 228.4h1.0v1.0h-1.0zM230.3 247.3h1.0v1.0h-1.0zM225.2 216.4h1.0v1.0h-1.0zM226.9 267.4h1.0v1.0h-1.0zM222.8 254.3h1.0v1.0h-1.0zM230.5 264.8h1.0v1.0h-1.0zM228.7 224.7h1.0v1.0h-1.0zM225.6 265.9h1.0v1.0h-1.0zM227.1 199.9h1.0v1.0h-1.0zM226.4 237.1h1.0v1.0h-1.0zM231.3 201.7h1.0v1.0h-1.0zM227.7 242.6h1.0v1.0h-1.0zM224.9 256.0h1.0v1.0h-1.0zM227.7 253.3h1.0v1.0h-1.0zM228.6 237.5h1.0v1.0h-1.0zM228.3 233.3h1.0v1.0h-1.0zM227.6 237.3h1.0v1.0h-1.0zM229.8 262.5h1.0v1.0h-1.0zM224.9 227.7h1.0v1.0h-1.0zM227.4 227.5h1.0v1.0h-1.0zM225.8 227.6h1.0v1.0h-1.0zM226.8 224.0h1.0v1.0h-1.0zM228.7 259.7h1.0v1.0h-1.0zM232.3 235.2h1.0v1.0h-1.0zM224.5 222.0h1.0v1.0h-1.0zM229.3 205.0h1.0v1.0h-1.0zM226.9 221.8h1.0v1.0h-1.0zM227.7 257.7h1.0v1.0h-1.0zM226.7 263.0h1.0v1.0h-1.0zM226.0 252.8h1.0v1.0h-1.0zM225.0 263.0h1.0v1.0h-1.0zM225.3 235.4h1.0v1.0h-1.0zM231.5 235.2h1.0v1.0h-1.0zM228.7 239.0h1.0v1.0h-1.0zM223.9 236.4h1.0v1.0h-1.0zM230.7 198.9h1.0v1.0h-1.0zM226.5 209.3h1.0v1.0h-1.0zM225.8 217.9h1.0v1.0h-1.0zM227.2 224.2h1.0v1.0h-1.0zM233.4 199.4h1.0v1.0h-1.0zM224.2 223.9h1.0v1.0h-1.0zM227.7 209.3h1.0v1.0h-1.0zM230.5 195.5h1.0v1.0h-1.0zM229.0 262.1h1.0v1.0h-1.0zM226.4 220.2h1.0v1.0h-1.0zM231.3 194.6h1.0v1.0h-1.0zM228.5 246.9h1.0v1.0h-1.0zM225.9 224.5h1.0v1.0h-1.0zM226.8 218.9h1.0v1.0h-1.0zM226.4 208.1h1.0v1.0h-1.0zM225.4 213.5h1.0v1.0h-1.0zM227.4 268.5h1.0v1.0h-1.0zM227.8 219.6h1.0v1.0h-1.0zM228.1 231.0h1.0v1.0h-1.0zM226.8 267.8h1.0v1.0h-1.0zM225.9 266.8h1.0v1.0h-1.0zM224.1 235.3h1.0v1.0h-1.0zM227.3 218.2h1.0v1.0h-1.0zM225.7 246.6h1.0v1.0h-1.0zM231.4 196.9h1.0v1.0h-1.0zM228.4 202.0h1.0v1.0h-1.0zM226.8 257.2h1.0v1.0h-1.0zM228.4 268.9h1.0v1.0h-1.0zM225.0 216.9h1.0v1.0h-1.0zM234.3 198.2h1.0v1.0h-1.0zM222.8 260.9h1.0v1.0h-1.0zM228.9 209.0h1.0v1.0h-1.0zM229.6 236.2h1.0v1.0h-1.0zM230.3 222.9h1.0v1.0h-1.0zM230.9 233.0h1.0v1.0h-1.0zM225.4 212.5h1.0v1.0h-1.0zM225.3 229.8h1.0v1.0h-1.0zM223.6 217.8h1.0v1.0h-1.0zM232.4 196.3h1.0v1.0h-1.0zM222.8 248.4h1.0v1.0h-1.0zM223.6 265.4h1.0v1.0h-1.0zM226.1 219.8h1.0v1.0h-1.0zM228.4 208.9h1.0v1.0h-1.0zM231.5 198.8h1.0v1.0h-1.0zM225.7 210.4h1.0v1.0h-1.0zM226.5 263.0h1.0v1.0h-1.0zM227.9 228.9h1.0v1.0h-1.0zM226.0 265.7h1.0v1.0h-1.0zM229.8 200.4h1.0v1.0h-1.0zM230.5 194.9h1.0v1.0h-1.0zM225.4 239.4h1.0v1.0h-1.0zM223.7 224.9h1.0v1.0h-1.0zM229.6 200.3h1.0v1.0h-1.0zM227.5 231.8h1.0v1.0h-1.0zM231.5 261.7h1.0v1.0h-1.0zM229.5 243.0h1.0v1.0h-1.0zM227.9 215.0h1.0v1.0h-1.0zM232.7 194.7h1.0v1.0h-1.0zM226.5 227.9h1.0v1.0h-1.0zM224.0 269.6h1.0v1.0h-1.0zM224.8 208.8h1.0v1.0h-1.0zM224.2 243.2h1.0v1.0h-1.0zM229.2 213.8h1.0v1.0h-1.0zM231.8 232.4h1.0v1.0h-1.0zM229.5 252.1h1.0v1.0h-1.0zM224.2 260.4h1.0v1.0h-1.0zM226.7 218.2h1.0v1.0h-1.0zM228.9 262.5h1.0v1.0h-1.0zM227.9 245.6h1.0v1.0h-1.0zM226.9 210.0h1.0v1.0h-1.0zM227.7 258.6h1.0v1.0h-1.0zM229.4 248.3h1.0v1.0h-1.0zM228.1 206.3h1.0v1.0h-1.0zM228.1 205.3h1.0v1.0h-1.0zM228.7 259.9h1.0v1.0h-1.0zM227.5 224.5h1.0v1.0h-1.0zM226.5 246.6h1.0v1.0h-1.0zM225.9 243.9h1.0v1.0h-1.0zM225.7 262.7h1.0v1.0h-1.0zM226.5 215.6h1.0v1.0h-1.0zM230.8 221.0h1.0v1.0h-1.0zM225.1 222.5h1.0v1.0h-1.0zM228.3 221.4h1.0v1.0h-1.0zM223.8 214.5h1.0v1.0h-1.0zM226.8 254.9h1.0v1.0h-1.0zM225.9 215.6h1.0v1.0h-1.0zM226.0 225.9h1.0v1.0h-1.0zM227.9 230.2h1.0v1.0h-1.0zM226.8 219.1h1.0v1.0h-1.0zM224.6 247.0h1.0v1.0h-1.0zM226.8 219.0h1.0v1.0h-1.0zM231.0 195.4h1.0v1.0h-1.0zM223.7 234.1h1.0v1.0h-1.0zM225.2 214.1h1.0v1.0h-1.0zM229.9 193.9h1.0v1.0h-1.0zM224.0 236.0h1.0v1.0h-1.0zM229.3 242.8h1.0v1.0h-1.0zM225.4 237.7h1.0v1.0h-1.0zM227.8 223.1h1.0v1.0h-1.0zM226.1 229.1h1.0v1.0h-1.0zM230.5 219.7h1.0v1.0h-1.0zM229.7 238.7h1.0v1.0h-1.0zM223.0 244.6h1.0v1.0h-1.0zM228.1 202.4h1.0v1.0h-1.0zM226.6 239.1h1.0v1.0h-1.0zM227.5 197.0h1.0v1.0h-1.0zM227.7 234.6h1.0v1.0h-1.0zM230.6 236.8h1.0v1.0h-1.0zM230.3 198.8h1.0v1.0h-1.0zM222.6 233.5h1.0v1.0h-1.0zM227.7 209.7h1.0v1.0h-1.0zM225.8 224.9h1.0v1.0h-1.0zM224.3 265.4h1.0v1.0h-1.0zM225.2 263.5h1.0v1.0h-1.0zM228.9 199.3h1.0v1.0h-1.0zM226.4 253.6h1.0v1.0h-1.0zM223.5 221.4h1.0v1.0h-1.0zM225.6 260.5h1.0v1.0h-1.0zM231.2 196.0h1.0v1.0h-1.0zM229.7 199.1h1.0v1.0h-1.0zM229.4 216.5h1.0v1.0h-1.0zM227.6 237.3h1.0v1.0h-1.0zM225.7 204.4h1.0v1.0h-1.0zM228.3 233.3h1.0v1.0h-1.0zM226.7 235.2h1.0v1.0h-1.0zM226.4 228.1h1.0v1.0h-1.0zM232.2 196.3h1.0v1.0h-1.0zM226.1 248.5h1.0v1.0h-1.0zM226.2 248.9h1.0v1.0h-1.0zM226.7 226.5h1.0v1.0h-1.0zM226.4 241.6h1.0v1.0h-1.0zM224.5 215.3h1.0v1.0h-1.0zM225.1 261.1h1.0v1.0h-1.0zM231.7 201.0h1.0v1.0h-1.0zM225.0 240.2h1.0v1.0h-1.0zM225.7 265.1h1.0v1.0h-1.0zM227.8 266.0h1.0v1.0h-1.0zM231.0 248.8h1.0v1.0h-1.0zM227.7 252.9h1.0v1.0h-1.0zM225.8 251.4h1.0v1.0h-1.0zM227.4 264.0h1.0v1.0h-1.0zM228.4 250.0h1.0v1.0h-1.0zM224.1 229.3h1.0v1.0h-1.0zM230.3 219.9h1.0v1.0h-1.0zM229.3 243.0h1.0v1.0h-1.0zM229.3 198.7h1.0v1.0h-1.0zM229.1 207.1h1.0v1.0h-1.0zM222.2 248.5h1.0v1.0h-1.0zM226.5 220.4h1.0v1.0h-1.0zM226.3 269.0h1.0v1.0h-1.0zM226.4 267.5h1.0v1.0h-1.0zM223.7 252.1h1.0v1.0h-1.0zM224.0 240.6h1.0v1.0h-1.0zM227.0 261.7h1.0v1.0h-1.0zM222.9 240.5h1.0v1.0h-1.0zM231.9 244.8h1.0v1.0h-1.0zM228.3 231.6h1.0v1.0h-1.0zM223.4 239.0h1.0v1.0h-1.0zM229.6 221.9h1.0v1.0h-1.0zM229.4 239.3h1.0v1.0h-1.0zM229.2 249.6h1.0v1.0h-1.0z"/>
<path fill="#e83850" d="M224.5 219.8h1.0v1.0h-1.0zM226.5 237.2h1.0v1.0h-1.0zM226.5 245.1h1.0v1.0h-1.0zM230.4 201.4h1.0v1.0h-1.0zM224.4 225.0h1.0v1.0h-1.0zM227.7 214.4h1.0v1.0h-1.0zM228.9 205.4h1.0v1.0h-1.0zM222.3 247.5h1.0v1.0h-1.0zM228.2 208.1h1.0v1.0h-1.0zM231.2 201.2h1.0v1.0h-1.0zM222.9 251.7h1.0v1.0h-1.0zM225.9 269.1h1.0v1.0h-1.0zM226.9 265.1h1.0v1.0h-1.0zM230.9 200.0h1.0v1.0h-1.0zM227.5 244.3h1.0v1.0h-1.0zM225.2 212.4h1.0v1.0h-1.0zM224.2 265.3h1.0v1.0h-1.0zM225.8 250.6h1.0v1.0h-1.0zM226.2 258.4h1.0v1.0h-1.0zM225.3 266.9h1.0v1.0h-1.0zM224.8 252.0h1.0v1.0h-1.0zM227.6 257.3h1.0v1.0h-1.0zM227.7 238.0h1.0v1.0h-1.0zM223.7 239.3h1.0v1.0h-1.0zM226.3 268.2h1.0v1.0h-1.0zM227.5 204.6h1.0v1.0h-1.0zM228.1 233.3h1.0v1.0h-1.0zM226.4 215.5h1.0v1.0h-1.0zM226.9 247.7h1.0v1.0h-1.0zM227.2 261.9h1.0v1.0h-1.0zM228.7 253.5h1.0v1.0h-1.0zM226.1 209.2h1.0v1.0h-1.0zM233.2 194.7h1.0v1.0h-1.0zM229.4 250.6h1.0v1.0h-1.0zM226.4 198.8h1.0v1.0h-1.0zM233.0 197.6h1.0v1.0h-1.0zM225.6 268.1h1.0v1.0h-1.0zM227.3 207.9h1.0v1.0h-1.0zM223.8 251.7h1.0v1.0h-1.0zM230.6 198.0h1.0v1.0h-1.0zM224.3 250.8h1.0v1.0h-1.0zM230.1 202.1h1.0v1.0h-1.0zM223.3 266.9h1.0v1.0h-1.0zM224.3 229.1h1.0v1.0h-1.0zM226.4 261.4h1.0v1.0h-1.0zM224.1 227.5h1.0v1.0h-1.0zM228.9 246.3h1.0v1.0h-1.0zM223.1 258.8h1.0v1.0h-1.0zM229.8 246.3h1.0v1.0h-1.0zM228.1 200.7h1.0v1.0h-1.0zM225.8 224.2h1.0v1.0h-1.0zM228.3 214.4h1.0v1.0h-1.0zM232.3 199.2h1.0v1.0h-1.0zM227.7 229.9h1.0v1.0h-1.0zM227.3 242.9h1.0v1.0h-1.0zM222.2 244.7h1.0v1.0h-1.0zM227.9 207.2h1.0v1.0h-1.0zM225.9 203.5h1.0v1.0h-1.0zM223.7 269.0h1.0v1.0h-1.0zM229.1 228.0h1.0v1.0h-1.0zM224.3 269.0h1.0v1.0h-1.0zM225.1 226.7h1.0v1.0h-1.0zM229.6 194.8h1.0v1.0h-1.0zM227.0 237.2h1.0v1.0h-1.0zM225.9 235.1h1.0v1.0h-1.0zM225.0 223.5h1.0v1.0h-1.0zM230.9 199.3h1.0v1.0h-1.0zM225.0 205.1h1.0v1.0h-1.0zM220.3 242.2h1.0v1.0h-1.0zM223.2 252.8h1.0v1.0h-1.0zM225.4 218.2h1.0v1.0h-1.0zM225.0 259.8h1.0v1.0h-1.0zM223.4 265.2h1.0v1.0h-1.0zM225.0 214.1h1.0v1.0h-1.0zM228.2 218.1h1.0v1.0h-1.0zM226.4 261.1h1.0v1.0h-1.0zM224.6 214.4h1.0v1.0h-1.0zM226.8 248.0h1.0v1.0h-1.0zM224.5 259.7h1.0v1.0h-1.0zM221.5 240.6h1.0v1.0h-1.0zM228.3 254.1h1.0v1.0h-1.0zM225.4 226.7h1.0v1.0h-1.0zM224.8 251.3h1.0v1.0h-1.0zM228.5 232.6h1.0v1.0h-1.0zM226.3 222.2h1.0v1.0h-1.0zM229.7 212.4h1.0v1.0h-1.0zM225.9 255.3h1.0v1.0h-1.0zM226.6 250.0h1.0v1.0h-1.0zM229.4 265.1h1.0v1.0h-1.0zM231.0 194.2h1.0v1.0h-1.0zM225.6 229.7h1.0v1.0h-1.0zM227.5 259.8h1.0v1.0h-1.0zM225.1 210.6h1.0v1.0h-1.0zM225.7 209.9h1.0v1.0h-1.0zM226.5 204.8h1.0v1.0h-1.0zM225.4 238.5h1.0v1.0h-1.0zM224.9 253.6h1.0v1.0h-1.0zM227.3 218.6h1.0v1.0h-1.0zM227.6 264.5h1.0v1.0h-1.0zM227.6 214.7h1.0v1.0h-1.0zM229.5 239.6h1.0v1.0h-1.0zM223.1 239.7h1.0v1.0h-1.0zM227.1 216.8h1.0v1.0h-1.0zM224.5 247.8h1.0v1.0h-1.0zM225.7 228.0h1.0v1.0h-1.0zM230.9 197.3h1.0v1.0h-1.0zM225.9 214.6h1.0v1.0h-1.0zM228.6 217.1h1.0v1.0h-1.0zM225.4 261.4h1.0v1.0h-1.0zM225.9 238.9h1.0v1.0h-1.0zM227.9 208.0h1.0v1.0h-1.0zM227.3 247.8h1.0v1.0h-1.0zM228.5 237.4h1.0v1.0h-1.0zM229.6 217.3h1.0v1.0h-1.0zM233.0 198.4h1.0v1.0h-1.0zM229.0 231.5h1.0v1.0h-1.0zM231.5 199.9h1.0v1.0h-1.0zM231.2 195.0h1.0v1.0h-1.0zM228.1 233.0h1.0v1.0h-1.0zM228.5 268.7h1.0v1.0h-1.0zM231.5 208.2h1.0v1.0h-1.0zM226.1 267.8h1.0v1.0h-1.0zM228.8 197.0h1.0v1.0h-1.0zM230.7 223.4h1.0v1.0h-1.0zM227.1 224.2h1.0v1.0h-1.0zM231.5 194.5h1.0v1.0h-1.0zM227.7 242.9h1.0v1.0h-1.0zM227.4 217.9h1.0v1.0h-1.0zM229.7 206.3h1.0v1.0h-1.0zM230.0 217.6h1.0v1.0h-1.0zM225.4 256.0h1.0v1.0h-1.0zM227.7 254.2h1.0v1.0h-1.0zM228.4 220.3h1.0v1.0h-1.0zM231.5 200.7h1.0v1.0h-1.0zM226.7 255.9h1.0v1.0h-1.0zM227.9 268.5h1.0v1.0h-1.0zM234.7 196.2h1.0v1.0h-1.0zM228.5 200.8h1.0v1.0h-1.0zM225.9 209.2h1.0v1.0h-1.0zM231.0 195.5h1.0v1.0h-1.0zM226.4 224.6h1.0v1.0h-1.0zM224.6 269.3h1.0v1.0h-1.0zM229.1 263.0h1.0v1.0h-1.0zM228.7 221.0h1.0v1.0h-1.0zM227.8 234.8h1.0v1.0h-1.0zM230.1 261.8h1.0v1.0h-1.0zM224.8 255.9h1.0v1.0h-1.0zM231.2 198.8h1.0v1.0h-1.0zM229.7 246.4h1.0v1.0h-1.0zM231.5 204.8h1.0v1.0h-1.0zM232.4 196.1h1.0v1.0h-1.0zM228.7 218.7h1.0v1.0h-1.0zM223.1 230.0h1.0v1.0h-1.0zM226.7 262.1h1.0v1.0h-1.0zM231.8 194.4h1.0v1.0h-1.0zM227.5 264.1h1.0v1.0h-1.0zM226.5 252.3h1.0v1.0h-1.0zM230.5 225.2h1.0v1.0h-1.0zM226.6 248.0h1.0v1.0h-1.0zM227.0 227.5h1.0v1.0h-1.0zM226.7 223.2h1.0v1.0h-1.0zM226.7 255.3h1.0v1.0h-1.0zM229.5 222.2h1.0v1.0h-1.0zM222.2 234.2h1.0v1.0h-1.0zM228.9 247.5h1.0v1.0h-1.0zM225.8 259.2h1.0v1.0h-1.0zM228.6 207.7h1.0v1.0h-1.0zM226.9 201.4h1.0v1.0h-1.0zM230.3 243.2h1.0v1.0h-1.0zM229.2 213.1h1.0v1.0h-1.0zM226.5 202.3h1.0v1.0h-1.0zM233.6 196.5h1.0v1.0h-1.0zM222.3 264.2h1.0v1.0h-1.0zM230.0 235.5h1.0v1.0h-1.0zM228.1 209.5h1.0v1.0h-1.0zM224.5 269.4h1.0v1.0h-1.0zM228.9 204.5h1.0v1.0h-1.0zM226.8 233.4h1.0v1.0h-1.0zM228.0 240.4h1.0v1.0h-1.0zM225.2 253.0h1.0v1.0h-1.0zM226.6 257.1h1.0v1.0h-1.0zM229.1 218.9h1.0v1.0h-1.0zM228.4 231.8h1.0v1.0h-1.0zM227.2 226.4h1.0v1.0h-1.0zM223.8 208.5h1.0v1.0h-1.0zM226.8 238.7h1.0v1.0h-1.0zM231.9 200.9h1.0v1.0h-1.0zM230.7 201.4h1.0v1.0h-1.0zM227.1 218.5h1.0v1.0h-1.0zM227.7 220.5h1.0v1.0h-1.0zM228.7 204.0h1.0v1.0h-1.0zM227.5 262.6h1.0v1.0h-1.0zM228.9 236.4h1.0v1.0h-1.0zM228.6 220.5h1.0v1.0h-1.0zM229.5 220.3h1.0v1.0h-1.0zM229.7 219.8h1.0v1.0h-1.0zM227.9 248.6h1.0v1.0h-1.0zM230.1 220.6h1.0v1.0h-1.0zM231.1 223.0h1.0v1.0h-1.0zM226.2 219.6h1.0v1.0h-1.0zM227.5 259.4h1.0v1.0h-1.0zM229.2 242.5h1.0v1.0h-1.0zM223.8 246.6h1.0v1.0h-1.0zM223.1 223.9h1.0v1.0h-1.0zM222.4 223.7h1.0v1.0h-1.0zM231.2 204.6h1.0v1.0h-1.0zM230.9 250.9h1.0v1.0h-1.0zM229.4 201.9h1.0v1.0h-1.0zM225.8 260.5h1.0v1.0h-1.0zM231.0 203.7h1.0v1.0h-1.0zM224.3 256.6h1.0v1.0h-1.0zM231.2 230.6h1.0v1.0h-1.0zM228.9 213.4h1.0v1.0h-1.0zM226.4 265.9h1.0v1.0h-1.0zM229.4 198.5h1.0v1.0h-1.0zM230.2 195.5h1.0v1.0h-1.0zM228.2 266.6h1.0v1.0h-1.0zM226.4 267.4h1.0v1.0h-1.0zM226.7 211.2h1.0v1.0h-1.0zM229.5 201.1h1.0v1.0h-1.0zM228.2 203.4h1.0v1.0h-1.0zM227.5 269.7h1.0v1.0h-1.0zM230.0 258.1h1.0v1.0h-1.0zM224.0 252.2h1.0v1.0h-1.0zM224.1 233.9h1.0v1.0h-1.0zM227.6 265.2h1.0v1.0h-1.0zM222.9 231.4h1.0v1.0h-1.0zM229.1 200.0h1.0v1.0h-1.0zM225.4 223.1h1.0v1.0h-1.0zM224.2 214.0h1.0v1.0h-1.0zM227.3 242.2h1.0v1.0h-1.0zM227.8 252.3h1.0v1.0h-1.0zM229.9 198.0h1.0v1.0h-1.0zM227.1 266.9h1.0v1.0h-1.0zM226.2 266.1h1.0v1.0h-1.0zM226.3 223.4h1.0v1.0h-1.0zM232.7 196.2h1.0v1.0h-1.0zM223.7 233.0h1.0v1.0h-1.0zM229.8 195.2h1.0v1.0h-1.0zM225.4 230.6h1.0v1.0h-1.0zM232.1 243.5h1.0v1.0h-1.0zM229.7 259.1h1.0v1.0h-1.0zM229.7 248.1h1.0v1.0h-1.0zM230.2 203.8h1.0v1.0h-1.0zM232.4 194.4h1.0v1.0h-1.0zM223.9 216.6h1.0v1.0h-1.0zM225.2 269.0h1.0v1.0h-1.0zM225.7 254.3h1.0v1.0h-1.0zM227.8 221.5h1.0v1.0h-1.0zM226.2 223.9h1.0v1.0h-1.0zM229.7 245.1h1.0v1.0h-1.0zM225.2 245.2h1.0v1.0h-1.0zM225.3 244.7h1.0v1.0h-1.0zM227.1 249.7h1.0v1.0h-1.0zM225.7 217.5h1.0v1.0h-1.0zM226.4 219.8h1.0v1.0h-1.0zM228.4 207.2h1.0v1.0h-1.0zM229.2 209.5h1.0v1.0h-1.0zM226.7 209.6h1.0v1.0h-1.0zM225.8 253.2h1.0v1.0h-1.0zM220.6 244.5h1.0v1.0h-1.0zM231.1 223.2h1.0v1.0h-1.0zM227.8 228.8h1.0v1.0h-1.0zM229.6 206.5h1.0v1.0h-1.0zM226.0 224.7h1.0v1.0h-1.0zM224.2 254.6h1.0v1.0h-1.0zM227.4 245.9h1.0v1.0h-1.0zM227.2 202.3h1.0v1.0h-1.0zM227.9 212.4h1.0v1.0h-1.0zM231.4 195.1h1.0v1.0h-1.0zM230.8 249.4h1.0v1.0h-1.0zM229.8 204.4h1.0v1.0h-1.0zM228.1 250.4h1.0v1.0h-1.0zM228.6 206.1h1.0v1.0h-1.0zM224.5 260.5h1.0v1.0h-1.0zM225.4 263.8h1.0v1.0h-1.0zM230.8 228.1h1.0v1.0h-1.0zM226.8 263.1h1.0v1.0h-1.0zM225.8 245.3h1.0v1.0h-1.0zM233.8 196.8h1.0v1.0h-1.0zM222.9 217.7h1.0v1.0h-1.0zM227.8 223.6h1.0v1.0h-1.0zM226.5 229.5h1.0v1.0h-1.0zM226.1 263.8h1.0v1.0h-1.0zM224.7 208.5h1.0v1.0h-1.0zM226.4 206.8h1.0v1.0h-1.0zM228.0 201.3h1.0v1.0h-1.0zM227.1 215.8h1.0v1.0h-1.0zM230.6 206.0h1.0v1.0h-1.0zM228.8 264.5h1.0v1.0h-1.0zM230.5 206.1h1.0v1.0h-1.0zM226.8 254.8h1.0v1.0h-1.0zM226.6 265.6h1.0v1.0h-1.0zM229.0 242.8h1.0v1.0h-1.0zM225.4 238.6h1.0v1.0h-1.0zM225.2 267.5h1.0v1.0h-1.0zM233.6 194.2h1.0v1.0h-1.0zM229.0 208.6h1.0v1.0h-1.0zM225.9 210.2h1.0v1.0h-1.0zM225.9 230.6h1.0v1.0h-1.0zM224.5 261.4h1.0v1.0h-1.0zM222.4 222.4h1.0v1.0h-1.0zM226.2 209.5h1.0v1.0h-1.0zM228.7 266.3h1.0v1.0h-1.0zM229.3 254.0h1.0v1.0h-1.0zM226.7 208.2h1.0v1.0h-1.0zM227.6 204.5h1.0v1.0h-1.0zM226.1 259.1h1.0v1.0h-1.0zM226.2 260.9h1.0v1.0h-1.0zM229.6 206.0h1.0v1.0h-1.0zM223.3 218.9h1.0v1.0h-1.0zM225.9 259.7h1.0v1.0h-1.0zM225.6 269.3h1.0v1.0h-1.0zM226.6 248.6h1.0v1.0h-1.0zM224.2 268.6h1.0v1.0h-1.0zM226.7 206.7h1.0v1.0h-1.0zM227.2 233.1h1.0v1.0h-1.0zM228.6 220.2h1.0v1.0h-1.0zM226.0 238.4h1.0v1.0h-1.0zM223.8 244.5h1.0v1.0h-1.0zM228.1 263.4h1.0v1.0h-1.0zM221.6 232.0h1.0v1.0h-1.0zM225.8 254.5h1.0v1.0h-1.0zM227.1 253.7h1.0v1.0h-1.0zM229.1 237.5h1.0v1.0h-1.0zM225.0 204.2h1.0v1.0h-1.0zM223.8 206.2h1.0v1.0h-1.0zM227.8 245.6h1.0v1.0h-1.0zM229.1 266.7h1.0v1.0h-1.0zM227.8 219.8h1.0v1.0h-1.0zM229.5 220.6h1.0v1.0h-1.0zM229.6 205.5h1.0v1.0h-1.0zM231.1 200.2h1.0v1.0h-1.0zM230.7 200.1h1.0v1.0h-1.0zM226.0 223.8h1.0v1.0h-1.0zM230.6 222.3h1.0v1.0h-1.0zM226.9 202.9h1.0v1.0h-1.0zM228.2 245.2h1.0v1.0h-1.0zM226.2 264.5h1.0v1.0h-1.0zM224.6 259.6h1.0v1.0h-1.0zM230.8 225.4h1.0v1.0h-1.0zM227.1 266.4h1.0v1.0h-1.0zM226.5 214.7h1.0v1.0h-1.0zM224.7 232.6h1.0v1.0h-1.0zM226.1 252.5h1.0v1.0h-1.0zM225.0 262.0h1.0v1.0h-1.0zM227.1 211.8h1.0v1.0h-1.0zM229.8 211.4h1.0v1.0h-1.0zM221.5 218.1h1.0v1.0h-1.0zM229.4 197.0h1.0v1.0h-1.0zM226.1 267.0h1.0v1.0h-1.0zM231.2 255.9h1.0v1.0h-1.0zM225.2 234.8h1.0v1.0h-1.0zM228.1 201.5h1.0v1.0h-1.0zM223.7 238.6h1.0v1.0h-1.0zM226.3 265.5h1.0v1.0h-1.0zM228.6 257.3h1.0v1.0h-1.0z"/>
<path fill="#6a1020" d="M225.0 219.6h1.0v1.0h-1.0zM222.6 237.7h1.0v1.0h-1.0zM225.4 254.9h1.0v1.0h-1.0zM229.7 198.9h1.0v1.0h-1.0zM227.8 202.0h1.0v1.0h-1.0zM228.3 228.2h1.0v1.0h-1.0zM232.2 244.5h1.0v1.0h-1.0zM225.7 206.4h1.0v1.0h-1.0zM227.5 259.2h1.0v1.0h-1.0zM227.6 232.9h1.0v1.0h-1.0zM229.8 197.7h1.0v1.0h-1.0zM227.5 269.3h1.0v1.0h-1.0zM220.3 262.8h1.0v1.0h-1.0zM225.2 241.2h1.0v1.0h-1.0zM232.6 217.2h1.0v1.0h-1.0zM226.2 214.3h1.0v1.0h-1.0zM227.1 247.1h1.0v1.0h-1.0zM227.2 217.3h1.0v1.0h-1.0zM231.7 202.3h1.0v1.0h-1.0zM231.9 200.1h1.0v1.0h-1.0zM222.2 230.7h1.0v1.0h-1.0zM219.8 236.7h1.0v1.0h-1.0zM228.0 262.3h1.0v1.0h-1.0zM228.1 205.4h1.0v1.0h-1.0zM228.2 256.1h1.0v1.0h-1.0zM225.6 251.5h1.0v1.0h-1.0zM226.9 231.6h1.0v1.0h-1.0zM226.9 218.6h1.0v1.0h-1.0zM229.2 258.2h1.0v1.0h-1.0zM226.0 226.1h1.0v1.0h-1.0zM228.5 263.2h1.0v1.0h-1.0zM226.8 224.5h1.0v1.0h-1.0zM230.1 235.8h1.0v1.0h-1.0zM229.5 225.6h1.0v1.0h-1.0zM226.2 254.5h1.0v1.0h-1.0zM225.5 214.3h1.0v1.0h-1.0zM227.1 259.5h1.0v1.0h-1.0zM226.7 239.1h1.0v1.0h-1.0zM227.5 251.6h1.0v1.0h-1.0zM227.1 266.1h1.0v1.0h-1.0zM225.1 256.9h1.0v1.0h-1.0zM230.6 224.8h1.0v1.0h-1.0zM222.0 223.2h1.0v1.0h-1.0zM232.8 196.8h1.0v1.0h-1.0zM225.8 266.6h1.0v1.0h-1.0zM229.7 215.5h1.0v1.0h-1.0zM228.5 222.7h1.0v1.0h-1.0zM226.1 202.5h1.0v1.0h-1.0zM225.6 223.6h1.0v1.0h-1.0zM228.6 203.6h1.0v1.0h-1.0zM230.0 258.0h1.0v1.0h-1.0zM222.0 225.6h1.0v1.0h-1.0zM223.6 222.9h1.0v1.0h-1.0zM224.7 260.0h1.0v1.0h-1.0zM228.2 229.7h1.0v1.0h-1.0zM228.5 244.8h1.0v1.0h-1.0zM225.8 244.8h1.0v1.0h-1.0zM226.1 207.5h1.0v1.0h-1.0zM228.1 233.2h1.0v1.0h-1.0zM226.2 214.1h1.0v1.0h-1.0zM226.7 264.5h1.0v1.0h-1.0zM230.5 199.1h1.0v1.0h-1.0zM227.3 244.6h1.0v1.0h-1.0zM230.3 206.8h1.0v1.0h-1.0zM226.7 248.7h1.0v1.0h-1.0zM228.1 208.5h1.0v1.0h-1.0zM225.2 255.2h1.0v1.0h-1.0zM226.8 248.4h1.0v1.0h-1.0zM223.5 229.7h1.0v1.0h-1.0zM226.8 230.2h1.0v1.0h-1.0zM223.5 251.0h1.0v1.0h-1.0zM232.1 237.5h1.0v1.0h-1.0zM230.2 269.8h1.0v1.0h-1.0zM229.4 197.4h1.0v1.0h-1.0zM226.0 254.8h1.0v1.0h-1.0zM224.9 247.6h1.0v1.0h-1.0zM224.9 264.9h1.0v1.0h-1.0zM227.3 265.5h1.0v1.0h-1.0zM231.5 195.7h1.0v1.0h-1.0zM226.7 215.7h1.0v1.0h-1.0zM229.6 202.3h1.0v1.0h-1.0zM225.3 260.9h1.0v1.0h-1.0zM228.9 204.8h1.0v1.0h-1.0zM228.9 213.7h1.0v1.0h-1.0zM232.9 196.2h1.0v1.0h-1.0zM228.0 241.3h1.0v1.0h-1.0zM228.6 234.4h1.0v1.0h-1.0zM226.9 220.6h1.0v1.0h-1.0zM228.7 251.7h1.0v1.0h-1.0zM225.3 214.7h1.0v1.0h-1.0zM228.8 211.8h1.0v1.0h-1.0zM223.4 222.3h1.0v1.0h-1.0zM225.8 210.9h1.0v1.0h-1.0zM228.8 266.8h1.0v1.0h-1.0zM228.3 221.4h1.0v1.0h-1.0zM228.0 220.8h1.0v1.0h-1.0zM224.2 263.2h1.0v1.0h-1.0zM226.9 200.8h1.0v1.0h-1.0zM231.4 195.7h1.0v1.0h-1.0zM225.6 223.6h1.0v1.0h-1.0zM227.6 216.3h1.0v1.0h-1.0zM225.5 247.3h1.0v1.0h-1.0zM224.3 222.3h1.0v1.0h-1.0zM230.6 243.4h1.0v1.0h-1.0zM226.5 240.6h1.0v1.0h-1.0zM230.3 197.8h1.0v1.0h-1.0zM223.8 263.4h1.0v1.0h-1.0zM233.3 197.2h1.0v1.0h-1.0z"/>
<path fill="#f490a4" d="M227.2 227.9h1.0v1.0h-1.0zM229.2 208.2h1.0v1.0h-1.0zM224.4 220.6h1.0v1.0h-1.0zM225.8 261.9h1.0v1.0h-1.0zM231.0 201.9h1.0v1.0h-1.0zM223.3 236.7h1.0v1.0h-1.0zM225.1 205.9h1.0v1.0h-1.0zM229.2 262.2h1.0v1.0h-1.0zM221.3 253.2h1.0v1.0h-1.0zM228.2 214.3h1.0v1.0h-1.0zM227.1 216.1h1.0v1.0h-1.0zM226.9 221.6h1.0v1.0h-1.0zM225.9 229.1h1.0v1.0h-1.0zM223.6 243.3h1.0v1.0h-1.0zM225.1 234.2h1.0v1.0h-1.0zM231.7 199.8h1.0v1.0h-1.0zM225.4 204.9h1.0v1.0h-1.0zM227.2 228.9h1.0v1.0h-1.0zM227.3 268.6h1.0v1.0h-1.0zM224.7 217.3h1.0v1.0h-1.0zM228.3 265.1h1.0v1.0h-1.0zM224.1 223.0h1.0v1.0h-1.0zM228.9 253.1h1.0v1.0h-1.0zM227.9 237.8h1.0v1.0h-1.0zM229.3 242.6h1.0v1.0h-1.0zM223.4 253.7h1.0v1.0h-1.0zM226.0 237.0h1.0v1.0h-1.0zM225.8 226.9h1.0v1.0h-1.0zM225.6 225.0h1.0v1.0h-1.0zM225.9 222.9h1.0v1.0h-1.0zM231.1 269.8h1.0v1.0h-1.0zM229.1 197.8h1.0v1.0h-1.0zM225.2 219.5h1.0v1.0h-1.0zM226.6 215.8h1.0v1.0h-1.0zM226.5 269.6h1.0v1.0h-1.0zM227.2 261.4h1.0v1.0h-1.0zM224.8 231.4h1.0v1.0h-1.0zM224.5 215.0h1.0v1.0h-1.0zM228.2 232.9h1.0v1.0h-1.0zM223.5 264.2h1.0v1.0h-1.0zM231.9 222.5h1.0v1.0h-1.0zM225.2 233.1h1.0v1.0h-1.0zM229.5 207.6h1.0v1.0h-1.0zM229.9 251.7h1.0v1.0h-1.0zM228.9 269.6h1.0v1.0h-1.0zM230.9 198.1h1.0v1.0h-1.0zM224.9 245.1h1.0v1.0h-1.0zM225.7 224.8h1.0v1.0h-1.0zM223.9 232.1h1.0v1.0h-1.0zM229.3 250.8h1.0v1.0h-1.0zM224.7 249.9h1.0v1.0h-1.0zM227.1 269.0h1.0v1.0h-1.0zM227.6 242.4h1.0v1.0h-1.0zM222.7 216.5h1.0v1.0h-1.0zM224.6 217.9h1.0v1.0h-1.0zM227.3 219.8h1.0v1.0h-1.0zM230.5 198.8h1.0v1.0h-1.0zM227.9 205.2h1.0v1.0h-1.0zM233.4 241.1h1.0v1.0h-1.0zM225.2 233.5h1.0v1.0h-1.0zM227.0 234.9h1.0v1.0h-1.0zM227.8 225.7h1.0v1.0h-1.0zM228.1 267.5h1.0v1.0h-1.0zM227.4 203.1h1.0v1.0h-1.0zM227.7 244.2h1.0v1.0h-1.0zM224.3 235.9h1.0v1.0h-1.0zM227.9 205.9h1.0v1.0h-1.0zM229.0 203.9h1.0v1.0h-1.0zM225.3 250.9h1.0v1.0h-1.0zM229.8 206.2h1.0v1.0h-1.0zM224.1 264.1h1.0v1.0h-1.0zM229.8 233.5h1.0v1.0h-1.0zM229.3 209.8h1.0v1.0h-1.0zM222.9 245.7h1.0v1.0h-1.0zM227.4 258.7h1.0v1.0h-1.0zM232.0 200.2h1.0v1.0h-1.0zM232.2 196.6h1.0v1.0h-1.0zM224.8 248.3h1.0v1.0h-1.0zM227.5 255.0h1.0v1.0h-1.0zM222.0 263.0h1.0v1.0h-1.0zM229.4 260.0h1.0v1.0h-1.0zM222.9 214.6h1.0v1.0h-1.0zM225.4 247.4h1.0v1.0h-1.0zM228.0 236.6h1.0v1.0h-1.0zM229.3 240.4h1.0v1.0h-1.0zM230.4 199.9h1.0v1.0h-1.0zM230.7 200.9h1.0v1.0h-1.0zM231.6 196.1h1.0v1.0h-1.0zM224.9 234.2h1.0v1.0h-1.0zM225.5 261.0h1.0v1.0h-1.0zM229.5 233.1h1.0v1.0h-1.0zM226.8 221.3h1.0v1.0h-1.0zM226.2 267.8h1.0v1.0h-1.0zM225.8 255.5h1.0v1.0h-1.0zM229.7 238.1h1.0v1.0h-1.0zM233.7 194.0h1.0v1.0h-1.0zM230.4 204.6h1.0v1.0h-1.0zM224.1 266.1h1.0v1.0h-1.0zM226.7 268.9h1.0v1.0h-1.0zM224.1 226.5h1.0v1.0h-1.0zM227.1 242.9h1.0v1.0h-1.0zM228.8 221.5h1.0v1.0h-1.0zM226.4 215.3h1.0v1.0h-1.0zM231.9 195.6h1.0v1.0h-1.0zM226.0 268.1h1.0v1.0h-1.0zM228.4 230.4h1.0v1.0h-1.0zM227.6 267.3h1.0v1.0h-1.0zM228.7 251.1h1.0v1.0h-1.0zM222.7 258.4h1.0v1.0h-1.0zM233.4 199.7h1.0v1.0h-1.0zM223.8 236.2h1.0v1.0h-1.0zM228.8 230.0h1.0v1.0h-1.0zM225.0 217.9h1.0v1.0h-1.0zM227.6 248.8h1.0v1.0h-1.0zM226.5 216.7h1.0v1.0h-1.0zM231.1 197.2h1.0v1.0h-1.0zM225.3 251.9h1.0v1.0h-1.0zM223.7 245.2h1.0v1.0h-1.0zM226.4 267.2h1.0v1.0h-1.0zM220.6 219.5h1.0v1.0h-1.0zM224.2 255.1h1.0v1.0h-1.0zM230.7 243.7h1.0v1.0h-1.0zM224.9 232.5h1.0v1.0h-1.0zM227.0 216.0h1.0v1.0h-1.0zM226.7 269.0h1.0v1.0h-1.0zM233.2 194.6h1.0v1.0h-1.0zM227.3 215.2h1.0v1.0h-1.0zM222.7 229.3h1.0v1.0h-1.0zM232.2 217.8h1.0v1.0h-1.0zM229.1 212.9h1.0v1.0h-1.0zM230.8 227.5h1.0v1.0h-1.0zM227.1 255.8h1.0v1.0h-1.0zM224.3 209.9h1.0v1.0h-1.0zM230.6 260.3h1.0v1.0h-1.0zM224.5 226.0h1.0v1.0h-1.0zM229.6 199.7h1.0v1.0h-1.0zM226.9 244.7h1.0v1.0h-1.0zM226.5 239.3h1.0v1.0h-1.0zM231.4 195.2h1.0v1.0h-1.0zM229.2 224.7h1.0v1.0h-1.0zM226.6 219.7h1.0v1.0h-1.0zM226.8 259.8h1.0v1.0h-1.0zM228.1 208.6h1.0v1.0h-1.0zM228.4 228.8h1.0v1.0h-1.0zM227.3 264.0h1.0v1.0h-1.0zM231.0 254.9h1.0v1.0h-1.0zM224.2 249.8h1.0v1.0h-1.0zM223.9 246.0h1.0v1.0h-1.0zM226.5 211.2h1.0v1.0h-1.0zM227.0 250.0h1.0v1.0h-1.0zM229.2 207.3h1.0v1.0h-1.0zM228.2 253.9h1.0v1.0h-1.0zM227.6 256.0h1.0v1.0h-1.0zM225.4 247.1h1.0v1.0h-1.0zM227.6 252.4h1.0v1.0h-1.0zM227.0 203.5h1.0v1.0h-1.0zM224.4 206.2h1.0v1.0h-1.0zM230.2 213.3h1.0v1.0h-1.0zM228.4 232.4h1.0v1.0h-1.0zM225.9 256.7h1.0v1.0h-1.0zM232.0 202.8h1.0v1.0h-1.0zM224.8 245.3h1.0v1.0h-1.0zM229.7 268.8h1.0v1.0h-1.0zM225.5 264.5h1.0v1.0h-1.0zM234.2 194.4h1.0v1.0h-1.0zM228.3 238.0h1.0v1.0h-1.0zM229.0 201.2h1.0v1.0h-1.0zM227.6 256.9h1.0v1.0h-1.0zM226.8 242.3h1.0v1.0h-1.0zM223.8 225.1h1.0v1.0h-1.0zM229.2 243.6h1.0v1.0h-1.0zM226.6 256.3h1.0v1.0h-1.0zM225.1 247.0h1.0v1.0h-1.0zM228.3 262.2h1.0v1.0h-1.0zM230.1 199.2h1.0v1.0h-1.0zM234.0 197.6h1.0v1.0h-1.0zM229.5 202.0h1.0v1.0h-1.0zM226.9 206.4h1.0v1.0h-1.0zM227.2 223.9h1.0v1.0h-1.0zM229.3 262.8h1.0v1.0h-1.0zM221.9 260.8h1.0v1.0h-1.0zM225.6 246.1h1.0v1.0h-1.0zM228.0 217.9h1.0v1.0h-1.0zM227.1 247.6h1.0v1.0h-1.0zM226.0 202.1h1.0v1.0h-1.0zM229.2 200.9h1.0v1.0h-1.0zM225.9 258.9h1.0v1.0h-1.0zM231.4 196.5h1.0v1.0h-1.0zM222.4 253.0h1.0v1.0h-1.0zM228.8 212.6h1.0v1.0h-1.0zM233.3 262.0h1.0v1.0h-1.0zM226.5 261.9h1.0v1.0h-1.0zM223.6 226.2h1.0v1.0h-1.0zM229.1 254.2h1.0v1.0h-1.0zM225.3 211.4h1.0v1.0h-1.0zM229.9 219.7h1.0v1.0h-1.0zM227.2 266.4h1.0v1.0h-1.0zM228.7 253.5h1.0v1.0h-1.0zM229.0 227.3h1.0v1.0h-1.0zM220.3 216.0h1.0v1.0h-1.0zM226.0 208.7h1.0v1.0h-1.0zM230.5 199.2h1.0v1.0h-1.0zM220.6 238.7h1.0v1.0h-1.0zM224.4 247.3h1.0v1.0h-1.0zM228.5 258.7h1.0v1.0h-1.0zM226.5 220.2h1.0v1.0h-1.0zM221.3 231.7h1.0v1.0h-1.0zM225.0 242.0h1.0v1.0h-1.0zM226.3 220.3h1.0v1.0h-1.0zM222.9 221.4h1.0v1.0h-1.0zM234.0 194.8h1.0v1.0h-1.0zM229.3 196.9h1.0v1.0h-1.0zM229.1 210.6h1.0v1.0h-1.0zM228.1 223.3h1.0v1.0h-1.0zM225.8 268.4h1.0v1.0h-1.0zM225.4 263.2h1.0v1.0h-1.0zM225.7 263.5h1.0v1.0h-1.0zM226.8 237.8h1.0v1.0h-1.0zM225.3 225.6h1.0v1.0h-1.0zM224.1 260.6h1.0v1.0h-1.0zM227.4 212.6h1.0v1.0h-1.0zM229.0 201.3h1.0v1.0h-1.0zM226.3 227.6h1.0v1.0h-1.0zM225.1 219.9h1.0v1.0h-1.0zM221.7 252.0h1.0v1.0h-1.0zM227.2 262.6h1.0v1.0h-1.0zM226.6 207.2h1.0v1.0h-1.0zM229.4 204.8h1.0v1.0h-1.0zM227.8 268.2h1.0v1.0h-1.0zM230.6 193.7h1.0v1.0h-1.0zM225.7 265.1h1.0v1.0h-1.0zM226.0 246.2h1.0v1.0h-1.0zM226.2 200.1h1.0v1.0h-1.0zM226.9 263.3h1.0v1.0h-1.0zM228.1 218.0h1.0v1.0h-1.0zM224.0 240.1h1.0v1.0h-1.0zM223.7 241.3h1.0v1.0h-1.0zM228.2 221.5h1.0v1.0h-1.0zM225.7 204.5h1.0v1.0h-1.0zM230.3 243.1h1.0v1.0h-1.0zM226.8 212.1h1.0v1.0h-1.0zM225.3 234.0h1.0v1.0h-1.0zM220.1 245.8h1.0v1.0h-1.0zM228.1 249.4h1.0v1.0h-1.0zM227.6 257.3h1.0v1.0h-1.0zM226.2 207.0h1.0v1.0h-1.0zM223.0 236.1h1.0v1.0h-1.0zM226.5 263.2h1.0v1.0h-1.0zM226.3 204.0h1.0v1.0h-1.0zM223.2 255.6h1.0v1.0h-1.0zM228.3 209.9h1.0v1.0h-1.0zM232.6 200.4h1.0v1.0h-1.0zM230.4 203.7h1.0v1.0h-1.0zM226.9 247.1h1.0v1.0h-1.0zM230.2 208.0h1.0v1.0h-1.0zM230.9 195.2h1.0v1.0h-1.0zM226.9 204.1h1.0v1.0h-1.0zM232.4 195.5h1.0v1.0h-1.0zM222.1 251.1h1.0v1.0h-1.0zM226.4 203.9h1.0v1.0h-1.0zM227.5 214.7h1.0v1.0h-1.0zM223.4 222.1h1.0v1.0h-1.0zM227.3 255.5h1.0v1.0h-1.0zM229.6 250.1h1.0v1.0h-1.0zM228.2 230.5h1.0v1.0h-1.0zM226.5 264.5h1.0v1.0h-1.0zM224.8 237.9h1.0v1.0h-1.0zM226.7 249.9h1.0v1.0h-1.0zM227.0 253.5h1.0v1.0h-1.0zM229.5 253.6h1.0v1.0h-1.0zM227.3 212.3h1.0v1.0h-1.0zM225.3 238.1h1.0v1.0h-1.0zM225.7 211.0h1.0v1.0h-1.0zM224.9 264.0h1.0v1.0h-1.0zM228.3 249.6h1.0v1.0h-1.0zM226.8 208.0h1.0v1.0h-1.0zM224.7 262.0h1.0v1.0h-1.0zM226.8 244.2h1.0v1.0h-1.0zM224.4 210.5h1.0v1.0h-1.0zM228.2 207.6h1.0v1.0h-1.0zM228.5 242.6h1.0v1.0h-1.0zM225.9 258.5h1.0v1.0h-1.0zM229.4 210.3h1.0v1.0h-1.0zM225.6 260.8h1.0v1.0h-1.0zM228.6 267.7h1.0v1.0h-1.0zM226.5 236.8h1.0v1.0h-1.0zM227.2 255.7h1.0v1.0h-1.0z"/>
<polygon points="232.0,293.5 230.8,295.6 229.7,297.7 228.6,299.8 227.7,301.9 226.8,304.0 225.9,306.1 225.2,308.2 224.5,310.3 224.0,312.4 223.8,314.5 223.7,316.6 223.6,318.7 223.4,320.8 223.3,322.9 223.3,325.0 223.2,327.1 223.1,329.2 223.0,331.3 223.0,333.4 223.0,335.6 222.9,337.7 222.9,339.8 222.9,341.9 223.0,344.0 223.0,346.1 223.0,348.2 223.1,350.3 223.2,352.4 223.2,354.5 223.3,356.6 223.4,358.7 223.5,360.8 223.6,362.9 223.8,365.0 223.9,367.1 224.0,369.2 224.1,371.3 224.3,373.4 224.4,375.5 230.6,375.5 230.7,373.4 230.9,371.3 231.0,369.2 231.1,367.1 231.2,365.0 231.4,362.9 231.5,360.8 231.6,358.7 231.7,356.6 231.8,354.5 231.8,352.4 231.9,350.3 232.0,348.2 232.0,346.1 232.0,344.0 232.1,341.9 232.1,339.8 232.1,337.7 232.0,335.6 232.0,333.4 232.0,331.3 231.9,329.2 231.8,327.1 231.7,325.0 231.7,322.9 231.6,320.8 231.4,318.7 231.3,316.6 231.2,314.5 231.2,312.4 231.4,310.3 231.8,308.2 234.3,306.1 234.9,304.0 235.8,301.9 236.7,299.8 237.8,297.7 238.9,295.6 240.1,293.5" fill="#f6bcc6" opacity="0.6"/>
<polygon points="226.6,307.1 225.8,309.5 225.3,311.8 225.0,314.2 224.9,316.6 224.8,318.9 224.7,321.3 224.6,323.6 224.6,326.0 224.5,328.3 224.5,330.7 224.4,333.1 224.4,335.4 224.4,337.8 224.4,340.1 224.4,342.5 224.4,344.8 224.4,347.2 224.5,349.6 224.5,351.9 224.6,354.3 224.6,356.6 224.7,359.0 224.8,361.4 224.9,363.7 225.0,366.1 225.1,368.4 225.2,370.8 225.3,373.1 225.4,375.5 229.6,375.5 229.7,373.1 229.8,370.8 229.9,368.4 230.0,366.1 230.1,363.7 230.2,361.4 230.3,359.0 230.4,356.6 230.4,354.3 230.5,351.9 230.5,349.6 230.6,347.2 230.6,344.8 230.6,342.5 230.6,340.1 230.6,337.8 230.6,335.4 230.6,333.1 230.5,330.7 230.5,328.3 230.4,326.0 230.4,323.6 230.3,321.3 230.2,318.9 230.1,316.6 230.0,314.2 230.1,311.8 230.5,309.5 231.0,307.1" fill="#d8202e" opacity="0.92"/>
<path fill="#f4a0b4" d="M234.4 307.0h0.8v0.8h-0.8zM235.6 297.2h0.8v0.8h-0.8zM231.6 305.3h0.8v0.8h-0.8zM240.3 293.3h0.8v0.8h-0.8zM231.8 309.3h0.8v0.8h-0.8zM233.2 294.5h0.8v0.8h-0.8zM227.6 317.2h0.8v0.8h-0.8zM230.4 304.6h0.8v0.8h-0.8zM229.5 312.1h0.8v0.8h-0.8zM226.8 313.2h0.8v0.8h-0.8zM239.2 300.8h0.8v0.8h-0.8zM229.2 312.0h0.8v0.8h-0.8zM229.2 313.2h0.8v0.8h-0.8zM233.0 299.4h0.8v0.8h-0.8zM233.4 297.4h0.8v0.8h-0.8zM236.2 294.7h0.8v0.8h-0.8zM236.3 294.9h0.8v0.8h-0.8zM235.7 296.4h0.8v0.8h-0.8zM227.9 311.5h0.8v0.8h-0.8zM229.2 301.9h0.8v0.8h-0.8zM230.8 294.0h0.8v0.8h-0.8zM227.7 304.5h0.8v0.8h-0.8zM230.3 307.7h0.8v0.8h-0.8zM229.4 315.9h0.8v0.8h-0.8zM225.6 315.9h0.8v0.8h-0.8zM229.6 309.6h0.8v0.8h-0.8zM232.8 301.9h0.8v0.8h-0.8zM235.8 293.4h0.8v0.8h-0.8zM235.8 303.6h0.8v0.8h-0.8zM231.3 308.0h0.8v0.8h-0.8zM240.2 299.4h0.8v0.8h-0.8zM237.2 297.1h0.8v0.8h-0.8zM230.0 304.6h0.8v0.8h-0.8zM231.6 296.0h0.8v0.8h-0.8zM235.1 297.7h0.8v0.8h-0.8zM230.0 299.6h0.8v0.8h-0.8zM238.8 296.0h0.8v0.8h-0.8zM230.4 303.2h0.8v0.8h-0.8zM232.3 307.6h0.8v0.8h-0.8zM228.0 313.5h0.8v0.8h-0.8zM238.6 300.6h0.8v0.8h-0.8zM237.3 293.1h0.8v0.8h-0.8zM233.6 303.9h0.8v0.8h-0.8zM229.9 313.7h0.8v0.8h-0.8zM230.7 307.8h0.8v0.8h-0.8zM231.0 309.2h0.8v0.8h-0.8zM228.1 316.1h0.8v0.8h-0.8zM237.5 296.8h0.8v0.8h-0.8zM228.5 315.4h0.8v0.8h-0.8zM226.6 309.7h0.8v0.8h-0.8zM235.4 296.3h0.8v0.8h-0.8zM228.8 309.7h0.8v0.8h-0.8zM230.7 316.0h0.8v0.8h-0.8zM230.6 303.6h0.8v0.8h-0.8zM232.1 298.2h0.8v0.8h-0.8zM229.3 300.4h0.8v0.8h-0.8zM234.1 296.5h0.8v0.8h-0.8zM226.9 315.9h0.8v0.8h-0.8zM228.7 316.1h0.8v0.8h-0.8zM233.9 296.4h0.8v0.8h-0.8zM231.7 308.2h0.8v0.8h-0.8zM230.5 303.8h0.8v0.8h-0.8zM236.7 293.4h0.8v0.8h-0.8zM235.3 307.7h0.8v0.8h-0.8zM230.8 304.5h0.8v0.8h-0.8zM233.9 300.1h0.8v0.8h-0.8zM228.5 313.0h0.8v0.8h-0.8zM234.4 297.7h0.8v0.8h-0.8zM240.0 296.4h0.8v0.8h-0.8zM233.5 304.7h0.8v0.8h-0.8zM235.0 296.4h0.8v0.8h-0.8zM231.0 306.8h0.8v0.8h-0.8zM229.6 313.6h0.8v0.8h-0.8zM226.4 306.4h0.8v0.8h-0.8zM227.7 303.2h0.8v0.8h-0.8zM232.5 302.9h0.8v0.8h-0.8zM229.9 311.6h0.8v0.8h-0.8zM224.8 317.0h0.8v0.8h-0.8zM233.1 300.9h0.8v0.8h-0.8zM226.6 312.7h0.8v0.8h-0.8zM234.2 300.0h0.8v0.8h-0.8zM239.0 296.8h0.8v0.8h-0.8zM230.9 306.6h0.8v0.8h-0.8zM229.6 302.5h0.8v0.8h-0.8zM238.0 295.5h0.8v0.8h-0.8zM235.4 296.5h0.8v0.8h-0.8zM229.9 315.2h0.8v0.8h-0.8zM234.5 296.0h0.8v0.8h-0.8zM241.4 294.9h0.8v0.8h-0.8zM235.8 304.6h0.8v0.8h-0.8zM229.0 312.1h0.8v0.8h-0.8zM237.5 310.2h0.8v0.8h-0.8zM227.9 316.6h0.8v0.8h-0.8zM232.8 297.5h0.8v0.8h-0.8zM225.1 316.6h0.8v0.8h-0.8zM228.7 314.8h0.8v0.8h-0.8zM230.9 309.3h0.8v0.8h-0.8zM229.9 307.2h0.8v0.8h-0.8zM232.9 311.3h0.8v0.8h-0.8zM234.8 298.7h0.8v0.8h-0.8zM228.7 316.0h0.8v0.8h-0.8zM234.8 298.0h0.8v0.8h-0.8zM231.7 304.3h0.8v0.8h-0.8zM226.6 307.8h0.8v0.8h-0.8zM235.5 295.6h0.8v0.8h-0.8zM235.9 307.7h0.8v0.8h-0.8zM227.3 305.1h0.8v0.8h-0.8zM239.6 294.6h0.8v0.8h-0.8zM231.9 307.9h0.8v0.8h-0.8zM234.0 308.4h0.8v0.8h-0.8zM228.1 310.3h0.8v0.8h-0.8zM232.2 304.7h0.8v0.8h-0.8zM234.0 299.1h0.8v0.8h-0.8zM230.4 312.5h0.8v0.8h-0.8zM228.4 316.1h0.8v0.8h-0.8zM232.1 301.1h0.8v0.8h-0.8zM228.9 299.9h0.8v0.8h-0.8zM232.1 307.9h0.8v0.8h-0.8zM232.7 295.5h0.8v0.8h-0.8zM238.0 295.8h0.8v0.8h-0.8zM228.2 306.1h0.8v0.8h-0.8zM223.3 315.1h0.8v0.8h-0.8zM232.4 303.6h0.8v0.8h-0.8zM230.7 310.2h0.8v0.8h-0.8zM235.5 297.9h0.8v0.8h-0.8zM229.9 306.9h0.8v0.8h-0.8zM234.2 296.0h0.8v0.8h-0.8zM230.9 307.3h0.8v0.8h-0.8zM224.3 301.9h0.8v0.8h-0.8zM234.7 302.3h0.8v0.8h-0.8zM229.3 316.8h0.8v0.8h-0.8zM225.0 317.1h0.8v0.8h-0.8zM228.9 302.7h0.8v0.8h-0.8zM232.2 302.8h0.8v0.8h-0.8zM233.5 309.1h0.8v0.8h-0.8zM232.2 300.5h0.8v0.8h-0.8zM227.3 312.2h0.8v0.8h-0.8zM235.8 300.8h0.8v0.8h-0.8zM235.3 301.2h0.8v0.8h-0.8zM233.4 306.1h0.8v0.8h-0.8zM228.4 312.0h0.8v0.8h-0.8zM231.2 307.7h0.8v0.8h-0.8zM230.9 308.9h0.8v0.8h-0.8zM227.6 305.5h0.8v0.8h-0.8zM230.6 308.9h0.8v0.8h-0.8zM230.0 303.7h0.8v0.8h-0.8zM233.8 314.2h0.8v0.8h-0.8zM234.2 297.7h0.8v0.8h-0.8zM226.7 315.6h0.8v0.8h-0.8zM231.1 304.4h0.8v0.8h-0.8zM233.6 313.9h0.8v0.8h-0.8zM234.0 316.6h0.8v0.8h-0.8zM233.1 316.6h0.8v0.8h-0.8zM235.1 296.9h0.8v0.8h-0.8zM227.9 314.4h0.8v0.8h-0.8zM233.1 293.0h0.8v0.8h-0.8zM226.6 305.2h0.8v0.8h-0.8zM237.1 304.5h0.8v0.8h-0.8zM227.3 310.3h0.8v0.8h-0.8zM230.0 296.9h0.8v0.8h-0.8zM230.5 310.4h0.8v0.8h-0.8zM227.6 312.6h0.8v0.8h-0.8zM227.2 309.3h0.8v0.8h-0.8zM235.5 298.7h0.8v0.8h-0.8zM232.3 302.5h0.8v0.8h-0.8zM236.2 298.1h0.8v0.8h-0.8zM228.2 312.5h0.8v0.8h-0.8zM235.5 297.3h0.8v0.8h-0.8zM230.2 301.0h0.8v0.8h-0.8zM231.4 307.1h0.8v0.8h-0.8zM237.9 295.6h0.8v0.8h-0.8zM229.4 311.8h0.8v0.8h-0.8zM233.8 303.1h0.8v0.8h-0.8zM229.0 317.2h0.8v0.8h-0.8zM231.3 305.3h0.8v0.8h-0.8zM229.3 313.9h0.8v0.8h-0.8zM229.8 305.0h0.8v0.8h-0.8zM232.8 303.6h0.8v0.8h-0.8zM227.1 310.0h0.8v0.8h-0.8zM229.3 308.3h0.8v0.8h-0.8zM228.2 304.7h0.8v0.8h-0.8zM230.6 309.8h0.8v0.8h-0.8zM230.8 300.3h0.8v0.8h-0.8zM231.0 306.5h0.8v0.8h-0.8zM229.8 313.5h0.8v0.8h-0.8zM234.9 298.6h0.8v0.8h-0.8zM231.2 313.9h0.8v0.8h-0.8zM228.9 302.0h0.8v0.8h-0.8zM228.7 306.2h0.8v0.8h-0.8zM239.7 293.7h0.8v0.8h-0.8zM238.6 296.7h0.8v0.8h-0.8zM231.2 305.0h0.8v0.8h-0.8zM227.6 314.6h0.8v0.8h-0.8zM233.1 306.9h0.8v0.8h-0.8zM232.4 298.4h0.8v0.8h-0.8zM227.9 311.0h0.8v0.8h-0.8zM234.7 294.5h0.8v0.8h-0.8zM237.9 297.4h0.8v0.8h-0.8zM226.6 311.8h0.8v0.8h-0.8zM230.9 309.4h0.8v0.8h-0.8zM230.0 314.3h0.8v0.8h-0.8zM231.3 316.6h0.8v0.8h-0.8zM228.2 301.5h0.8v0.8h-0.8zM234.3 293.9h0.8v0.8h-0.8zM229.7 311.3h0.8v0.8h-0.8zM239.7 293.5h0.8v0.8h-0.8zM226.7 316.5h0.8v0.8h-0.8zM225.0 313.2h0.8v0.8h-0.8zM229.5 308.0h0.8v0.8h-0.8zM231.2 303.3h0.8v0.8h-0.8zM239.0 293.5h0.8v0.8h-0.8zM234.9 302.1h0.8v0.8h-0.8zM230.8 315.4h0.8v0.8h-0.8z"/>
<path fill="#e86880" d="M230.7 314.3h0.8v0.8h-0.8zM240.5 295.8h0.8v0.8h-0.8zM227.2 313.8h0.8v0.8h-0.8zM232.3 302.5h0.8v0.8h-0.8zM230.6 300.6h0.8v0.8h-0.8zM232.5 305.5h0.8v0.8h-0.8zM232.9 303.0h0.8v0.8h-0.8zM236.2 302.1h0.8v0.8h-0.8zM229.1 303.2h0.8v0.8h-0.8zM228.6 299.0h0.8v0.8h-0.8zM232.6 301.2h0.8v0.8h-0.8zM232.1 299.7h0.8v0.8h-0.8zM237.4 294.3h0.8v0.8h-0.8zM236.5 293.3h0.8v0.8h-0.8zM232.6 309.3h0.8v0.8h-0.8zM227.1 309.8h0.8v0.8h-0.8zM230.4 306.8h0.8v0.8h-0.8zM237.4 294.9h0.8v0.8h-0.8zM227.6 314.0h0.8v0.8h-0.8zM231.8 305.6h0.8v0.8h-0.8zM238.7 294.1h0.8v0.8h-0.8zM236.5 295.1h0.8v0.8h-0.8zM235.1 300.2h0.8v0.8h-0.8zM231.1 313.5h0.8v0.8h-0.8zM234.7 315.5h0.8v0.8h-0.8zM230.1 302.4h0.8v0.8h-0.8zM233.7 308.1h0.8v0.8h-0.8zM225.3 315.1h0.8v0.8h-0.8zM232.5 300.0h0.8v0.8h-0.8zM228.4 294.0h0.8v0.8h-0.8zM235.4 314.2h0.8v0.8h-0.8zM231.0 316.3h0.8v0.8h-0.8zM235.8 299.3h0.8v0.8h-0.8zM228.1 310.8h0.8v0.8h-0.8zM232.2 316.9h0.8v0.8h-0.8zM231.7 295.6h0.8v0.8h-0.8zM227.0 308.0h0.8v0.8h-0.8zM234.8 300.5h0.8v0.8h-0.8zM231.9 303.1h0.8v0.8h-0.8zM230.3 303.2h0.8v0.8h-0.8zM231.2 300.6h0.8v0.8h-0.8zM231.6 300.9h0.8v0.8h-0.8zM229.5 316.2h0.8v0.8h-0.8zM227.0 314.1h0.8v0.8h-0.8zM237.3 294.0h0.8v0.8h-0.8zM229.3 315.6h0.8v0.8h-0.8zM228.4 305.4h0.8v0.8h-0.8zM232.5 307.0h0.8v0.8h-0.8zM236.5 293.6h0.8v0.8h-0.8zM228.0 311.1h0.8v0.8h-0.8zM229.4 304.6h0.8v0.8h-0.8zM236.1 294.9h0.8v0.8h-0.8zM233.2 299.5h0.8v0.8h-0.8zM227.2 307.7h0.8v0.8h-0.8zM226.3 306.8h0.8v0.8h-0.8zM237.7 294.3h0.8v0.8h-0.8zM228.5 309.9h0.8v0.8h-0.8zM234.5 316.3h0.8v0.8h-0.8zM228.2 309.5h0.8v0.8h-0.8zM230.1 309.6h0.8v0.8h-0.8zM233.3 305.1h0.8v0.8h-0.8zM228.8 306.0h0.8v0.8h-0.8zM235.0 299.8h0.8v0.8h-0.8zM227.1 313.2h0.8v0.8h-0.8zM231.2 314.0h0.8v0.8h-0.8zM239.9 293.1h0.8v0.8h-0.8zM229.2 315.0h0.8v0.8h-0.8zM239.8 293.5h0.8v0.8h-0.8zM232.2 299.1h0.8v0.8h-0.8zM236.5 294.4h0.8v0.8h-0.8zM230.3 299.2h0.8v0.8h-0.8zM235.7 312.8h0.8v0.8h-0.8zM232.1 295.3h0.8v0.8h-0.8zM235.7 293.7h0.8v0.8h-0.8zM225.7 315.7h0.8v0.8h-0.8zM229.4 313.1h0.8v0.8h-0.8zM237.7 293.8h0.8v0.8h-0.8zM229.9 308.0h0.8v0.8h-0.8zM226.9 300.2h0.8v0.8h-0.8zM228.9 309.5h0.8v0.8h-0.8zM237.9 293.0h0.8v0.8h-0.8zM227.0 303.7h0.8v0.8h-0.8zM233.3 313.0h0.8v0.8h-0.8zM240.0 299.5h0.8v0.8h-0.8zM230.7 299.6h0.8v0.8h-0.8zM233.4 306.3h0.8v0.8h-0.8zM233.2 306.8h0.8v0.8h-0.8zM238.0 295.5h0.8v0.8h-0.8zM235.8 295.2h0.8v0.8h-0.8zM237.6 295.9h0.8v0.8h-0.8zM231.8 303.9h0.8v0.8h-0.8zM233.4 300.6h0.8v0.8h-0.8zM232.6 315.4h0.8v0.8h-0.8zM229.0 315.6h0.8v0.8h-0.8zM234.1 311.9h0.8v0.8h-0.8zM231.6 309.5h0.8v0.8h-0.8zM230.2 302.8h0.8v0.8h-0.8zM231.7 311.1h0.8v0.8h-0.8zM225.5 310.0h0.8v0.8h-0.8zM236.0 297.0h0.8v0.8h-0.8zM233.3 299.4h0.8v0.8h-0.8zM227.9 299.7h0.8v0.8h-0.8zM235.3 305.7h0.8v0.8h-0.8zM235.3 296.7h0.8v0.8h-0.8zM225.0 312.8h0.8v0.8h-0.8zM228.6 314.7h0.8v0.8h-0.8zM237.5 295.6h0.8v0.8h-0.8zM231.6 308.9h0.8v0.8h-0.8zM231.5 309.1h0.8v0.8h-0.8zM233.2 313.8h0.8v0.8h-0.8zM231.8 297.3h0.8v0.8h-0.8zM229.1 301.4h0.8v0.8h-0.8zM225.9 310.6h0.8v0.8h-0.8zM232.6 304.2h0.8v0.8h-0.8zM228.1 312.4h0.8v0.8h-0.8zM229.3 313.5h0.8v0.8h-0.8zM225.8 316.1h0.8v0.8h-0.8zM233.1 309.6h0.8v0.8h-0.8zM234.7 302.9h0.8v0.8h-0.8zM240.1 295.0h0.8v0.8h-0.8zM234.4 298.3h0.8v0.8h-0.8zM232.4 305.1h0.8v0.8h-0.8zM228.7 307.8h0.8v0.8h-0.8zM235.1 306.1h0.8v0.8h-0.8zM234.9 314.7h0.8v0.8h-0.8zM231.2 314.7h0.8v0.8h-0.8zM224.9 315.1h0.8v0.8h-0.8zM229.2 305.5h0.8v0.8h-0.8zM234.1 302.7h0.8v0.8h-0.8zM233.0 309.6h0.8v0.8h-0.8zM232.7 305.5h0.8v0.8h-0.8zM234.1 295.8h0.8v0.8h-0.8zM241.7 293.7h0.8v0.8h-0.8zM233.2 294.5h0.8v0.8h-0.8zM236.3 300.5h0.8v0.8h-0.8zM234.9 316.3h0.8v0.8h-0.8zM237.7 296.1h0.8v0.8h-0.8zM226.9 312.7h0.8v0.8h-0.8zM229.7 302.8h0.8v0.8h-0.8zM227.4 312.4h0.8v0.8h-0.8z"/>
<path fill="#c03048" d="M231.6 312.7h0.8v0.8h-0.8zM231.1 314.7h0.8v0.8h-0.8zM230.5 303.7h0.8v0.8h-0.8zM234.1 307.5h0.8v0.8h-0.8zM229.9 313.1h0.8v0.8h-0.8zM229.4 303.0h0.8v0.8h-0.8zM232.3 303.3h0.8v0.8h-0.8zM232.7 305.5h0.8v0.8h-0.8zM236.2 298.1h0.8v0.8h-0.8zM228.7 307.6h0.8v0.8h-0.8zM237.4 296.8h0.8v0.8h-0.8zM229.4 310.6h0.8v0.8h-0.8zM231.3 313.8h0.8v0.8h-0.8zM232.5 311.9h0.8v0.8h-0.8zM231.8 300.9h0.8v0.8h-0.8zM230.7 305.7h0.8v0.8h-0.8zM238.0 294.3h0.8v0.8h-0.8zM229.4 315.0h0.8v0.8h-0.8zM230.3 313.8h0.8v0.8h-0.8zM234.9 299.0h0.8v0.8h-0.8zM229.3 300.1h0.8v0.8h-0.8zM229.4 309.8h0.8v0.8h-0.8zM235.5 294.2h0.8v0.8h-0.8zM235.0 295.7h0.8v0.8h-0.8zM227.1 312.9h0.8v0.8h-0.8zM230.2 304.3h0.8v0.8h-0.8zM232.5 304.2h0.8v0.8h-0.8zM236.2 302.0h0.8v0.8h-0.8zM229.5 306.3h0.8v0.8h-0.8zM232.0 303.6h0.8v0.8h-0.8zM231.7 301.3h0.8v0.8h-0.8zM236.2 294.0h0.8v0.8h-0.8zM233.8 295.9h0.8v0.8h-0.8zM225.9 312.2h0.8v0.8h-0.8zM225.0 316.8h0.8v0.8h-0.8zM238.3 299.5h0.8v0.8h-0.8zM232.0 314.6h0.8v0.8h-0.8zM230.2 293.8h0.8v0.8h-0.8zM234.2 299.8h0.8v0.8h-0.8zM230.7 312.6h0.8v0.8h-0.8zM233.7 297.2h0.8v0.8h-0.8zM229.0 313.8h0.8v0.8h-0.8zM236.3 296.1h0.8v0.8h-0.8zM229.2 310.3h0.8v0.8h-0.8zM231.5 311.8h0.8v0.8h-0.8zM232.7 302.0h0.8v0.8h-0.8zM230.6 312.6h0.8v0.8h-0.8zM235.5 297.5h0.8v0.8h-0.8zM229.8 305.5h0.8v0.8h-0.8zM237.5 298.0h0.8v0.8h-0.8zM230.3 313.3h0.8v0.8h-0.8zM232.0 295.9h0.8v0.8h-0.8zM232.8 295.5h0.8v0.8h-0.8zM228.0 306.2h0.8v0.8h-0.8zM236.5 300.0h0.8v0.8h-0.8zM231.1 298.3h0.8v0.8h-0.8zM232.1 313.5h0.8v0.8h-0.8zM237.2 296.1h0.8v0.8h-0.8zM230.6 307.2h0.8v0.8h-0.8zM234.1 297.3h0.8v0.8h-0.8zM230.7 300.0h0.8v0.8h-0.8zM227.4 301.6h0.8v0.8h-0.8zM232.3 307.1h0.8v0.8h-0.8zM231.6 310.6h0.8v0.8h-0.8zM230.8 305.9h0.8v0.8h-0.8zM229.6 312.2h0.8v0.8h-0.8zM227.9 313.4h0.8v0.8h-0.8z"/>
<path fill="#ccc4c4" d="M171.0 337.6h0.8v0.8h-0.8zM191.1 312.2h0.8v0.8h-0.8zM201.3 336.7h0.8v0.8h-0.8zM219.1 342.3h0.8v0.8h-0.8zM216.8 358.9h0.8v0.8h-0.8zM213.2 364.0h0.8v0.8h-0.8zM215.7 308.2h0.8v0.8h-0.8zM170.9 321.9h0.8v0.8h-0.8zM167.2 316.1h0.8v0.8h-0.8zM170.6 369.5h0.8v0.8h-0.8zM202.0 312.2h0.8v0.8h-0.8zM166.9 366.6h0.8v0.8h-0.8zM175.6 318.6h0.8v0.8h-0.8zM167.2 366.6h0.8v0.8h-0.8zM199.0 341.1h0.8v0.8h-0.8zM201.7 361.9h0.8v0.8h-0.8zM177.2 372.6h0.8v0.8h-0.8zM218.2 310.8h0.8v0.8h-0.8zM188.3 367.7h0.8v0.8h-0.8zM179.3 357.9h0.8v0.8h-0.8zM201.6 330.2h0.8v0.8h-0.8zM204.1 319.8h0.8v0.8h-0.8zM193.2 351.2h0.8v0.8h-0.8zM169.3 354.5h0.8v0.8h-0.8zM178.8 314.7h0.8v0.8h-0.8zM208.5 356.8h0.8v0.8h-0.8zM179.8 344.2h0.8v0.8h-0.8zM173.3 353.4h0.8v0.8h-0.8zM179.9 364.0h0.8v0.8h-0.8zM205.7 337.8h0.8v0.8h-0.8zM214.5 370.7h0.8v0.8h-0.8zM212.6 345.7h0.8v0.8h-0.8zM213.4 324.2h0.8v0.8h-0.8zM213.7 331.3h0.8v0.8h-0.8zM217.8 326.0h0.8v0.8h-0.8zM211.2 371.9h0.8v0.8h-0.8zM199.0 351.6h0.8v0.8h-0.8zM181.0 343.4h0.8v0.8h-0.8zM219.4 370.0h0.8v0.8h-0.8zM176.6 348.0h0.8v0.8h-0.8zM182.0 341.1h0.8v0.8h-0.8zM206.6 336.7h0.8v0.8h-0.8zM188.7 366.6h0.8v0.8h-0.8zM166.8 341.7h0.8v0.8h-0.8zM194.7 331.2h0.8v0.8h-0.8zM212.8 319.3h0.8v0.8h-0.8zM193.3 325.9h0.8v0.8h-0.8zM206.7 360.2h0.8v0.8h-0.8zM175.4 319.7h0.8v0.8h-0.8zM207.5 365.5h0.8v0.8h-0.8zM182.6 362.4h0.8v0.8h-0.8zM184.1 322.1h0.8v0.8h-0.8zM205.2 313.1h0.8v0.8h-0.8zM195.3 365.0h0.8v0.8h-0.8zM188.3 346.4h0.8v0.8h-0.8zM184.0 365.1h0.8v0.8h-0.8zM181.6 371.9h0.8v0.8h-0.8zM212.8 317.9h0.8v0.8h-0.8zM196.3 351.3h0.8v0.8h-0.8zM206.9 323.0h0.8v0.8h-0.8zM217.0 340.2h0.8v0.8h-0.8zM189.5 313.6h0.8v0.8h-0.8zM203.9 361.7h0.8v0.8h-0.8zM168.5 332.7h0.8v0.8h-0.8zM191.8 315.4h0.8v0.8h-0.8zM201.9 313.5h0.8v0.8h-0.8zM206.2 334.6h0.8v0.8h-0.8zM198.5 326.7h0.8v0.8h-0.8zM190.6 355.0h0.8v0.8h-0.8zM215.7 317.3h0.8v0.8h-0.8zM174.3 326.8h0.8v0.8h-0.8zM202.4 370.8h0.8v0.8h-0.8zM186.0 329.7h0.8v0.8h-0.8zM165.3 314.0h0.8v0.8h-0.8zM219.3 318.5h0.8v0.8h-0.8zM207.0 369.1h0.8v0.8h-0.8zM211.2 316.4h0.8v0.8h-0.8zM170.6 319.8h0.8v0.8h-0.8zM209.7 346.2h0.8v0.8h-0.8zM189.0 331.0h0.8v0.8h-0.8zM180.0 308.2h0.8v0.8h-0.8zM195.1 334.5h0.8v0.8h-0.8zM211.2 320.2h0.8v0.8h-0.8zM216.3 334.1h0.8v0.8h-0.8zM192.4 345.7h0.8v0.8h-0.8zM205.9 340.0h0.8v0.8h-0.8zM210.3 313.8h0.8v0.8h-0.8zM200.0 352.7h0.8v0.8h-0.8z"/>
<path fill="#b4aaaa" d="M184.2 358.8h0.8v0.8h-0.8zM210.8 338.2h0.8v0.8h-0.8zM196.6 347.7h0.8v0.8h-0.8zM175.8 371.9h0.8v0.8h-0.8zM219.2 329.0h0.8v0.8h-0.8zM183.7 346.0h0.8v0.8h-0.8zM175.7 374.3h0.8v0.8h-0.8zM214.0 338.2h0.8v0.8h-0.8zM185.1 362.3h0.8v0.8h-0.8zM190.5 358.6h0.8v0.8h-0.8zM218.3 330.8h0.8v0.8h-0.8zM216.6 328.9h0.8v0.8h-0.8zM210.5 329.6h0.8v0.8h-0.8zM222.9 319.8h0.8v0.8h-0.8zM212.8 325.5h0.8v0.8h-0.8zM182.4 355.4h0.8v0.8h-0.8zM180.9 358.6h0.8v0.8h-0.8zM197.1 333.9h0.8v0.8h-0.8zM195.1 334.4h0.8v0.8h-0.8zM183.6 357.6h0.8v0.8h-0.8zM198.0 345.9h0.8v0.8h-0.8zM177.4 368.5h0.8v0.8h-0.8zM201.6 331.3h0.8v0.8h-0.8zM185.6 363.5h0.8v0.8h-0.8zM173.1 364.8h0.8v0.8h-0.8zM208.5 322.8h0.8v0.8h-0.8zM179.4 369.4h0.8v0.8h-0.8zM180.2 360.3h0.8v0.8h-0.8zM182.4 358.2h0.8v0.8h-0.8zM191.0 357.1h0.8v0.8h-0.8zM168.0 368.4h0.8v0.8h-0.8zM173.4 354.1h0.8v0.8h-0.8zM218.2 326.7h0.8v0.8h-0.8zM194.0 344.7h0.8v0.8h-0.8zM180.3 366.6h0.8v0.8h-0.8zM217.2 336.6h0.8v0.8h-0.8zM189.5 359.6h0.8v0.8h-0.8zM197.0 343.6h0.8v0.8h-0.8zM202.2 338.4h0.8v0.8h-0.8zM224.5 319.9h0.8v0.8h-0.8zM204.6 330.8h0.8v0.8h-0.8zM201.0 322.7h0.8v0.8h-0.8zM183.6 349.7h0.8v0.8h-0.8zM190.9 358.5h0.8v0.8h-0.8zM212.4 330.6h0.8v0.8h-0.8zM196.9 342.8h0.8v0.8h-0.8zM180.1 349.4h0.8v0.8h-0.8zM167.7 366.6h0.8v0.8h-0.8zM202.4 348.0h0.8v0.8h-0.8zM177.7 371.0h0.8v0.8h-0.8zM211.7 336.8h0.8v0.8h-0.8zM168.9 346.1h0.8v0.8h-0.8zM186.0 348.3h0.8v0.8h-0.8zM187.8 350.0h0.8v0.8h-0.8zM217.4 325.9h0.8v0.8h-0.8zM170.6 359.0h0.8v0.8h-0.8zM207.7 337.0h0.8v0.8h-0.8zM213.3 321.7h0.8v0.8h-0.8zM188.0 353.4h0.8v0.8h-0.8zM187.4 358.8h0.8v0.8h-0.8zM173.6 360.4h0.8v0.8h-0.8zM182.9 354.0h0.8v0.8h-0.8zM188.1 354.5h0.8v0.8h-0.8zM187.0 355.6h0.8v0.8h-0.8zM166.5 363.0h0.8v0.8h-0.8zM187.0 335.6h0.8v0.8h-0.8zM203.0 330.2h0.8v0.8h-0.8zM187.9 354.4h0.8v0.8h-0.8zM189.1 363.2h0.8v0.8h-0.8zM184.5 358.1h0.8v0.8h-0.8zM171.0 358.3h0.8v0.8h-0.8zM213.7 323.7h0.8v0.8h-0.8zM204.0 327.0h0.8v0.8h-0.8zM170.4 362.3h0.8v0.8h-0.8zM172.5 360.4h0.8v0.8h-0.8zM209.1 327.3h0.8v0.8h-0.8zM193.4 340.0h0.8v0.8h-0.8zM189.2 360.0h0.8v0.8h-0.8zM218.8 331.2h0.8v0.8h-0.8zM180.9 358.0h0.8v0.8h-0.8zM193.8 347.1h0.8v0.8h-0.8zM205.7 325.2h0.8v0.8h-0.8zM207.2 337.6h0.8v0.8h-0.8zM195.2 343.4h0.8v0.8h-0.8zM177.7 370.0h0.8v0.8h-0.8zM192.5 345.7h0.8v0.8h-0.8zM209.1 322.2h0.8v0.8h-0.8zM192.4 354.1h0.8v0.8h-0.8zM180.4 356.3h0.8v0.8h-0.8zM200.6 332.8h0.8v0.8h-0.8zM205.3 339.0h0.8v0.8h-0.8zM198.4 340.7h0.8v0.8h-0.8zM204.8 354.6h0.8v0.8h-0.8zM217.4 335.5h0.8v0.8h-0.8zM192.9 358.3h0.8v0.8h-0.8zM178.5 356.3h0.8v0.8h-0.8zM187.1 344.5h0.8v0.8h-0.8zM185.6 348.7h0.8v0.8h-0.8zM191.2 340.3h0.8v0.8h-0.8zM216.3 334.4h0.8v0.8h-0.8zM184.8 340.3h0.8v0.8h-0.8zM217.1 320.0h0.8v0.8h-0.8zM204.2 324.8h0.8v0.8h-0.8zM211.8 329.9h0.8v0.8h-0.8zM209.6 339.0h0.8v0.8h-0.8zM219.0 330.9h0.8v0.8h-0.8zM176.6 356.4h0.8v0.8h-0.8z"/>
<path fill="#c80c24" d="M229.8 316.6h1.0v1.0h-1.0zM229.4 374.8h1.0v1.0h-1.0zM227.5 369.2h1.0v1.0h-1.0zM225.9 337.7h1.0v1.0h-1.0zM227.0 317.2h1.0v1.0h-1.0zM228.8 341.6h1.0v1.0h-1.0zM227.5 355.2h1.0v1.0h-1.0zM223.9 341.1h1.0v1.0h-1.0zM225.0 357.4h1.0v1.0h-1.0zM230.2 326.6h1.0v1.0h-1.0zM229.2 373.1h1.0v1.0h-1.0zM228.6 341.2h1.0v1.0h-1.0zM226.9 351.1h1.0v1.0h-1.0zM228.5 352.9h1.0v1.0h-1.0zM226.3 347.2h1.0v1.0h-1.0zM225.5 365.0h1.0v1.0h-1.0zM228.6 311.0h1.0v1.0h-1.0zM226.6 369.2h1.0v1.0h-1.0zM223.9 359.1h1.0v1.0h-1.0zM230.7 315.8h1.0v1.0h-1.0zM228.6 367.0h1.0v1.0h-1.0zM224.2 348.9h1.0v1.0h-1.0zM227.2 359.0h1.0v1.0h-1.0zM228.0 371.1h1.0v1.0h-1.0zM225.8 327.9h1.0v1.0h-1.0zM230.8 311.0h1.0v1.0h-1.0zM222.9 353.8h1.0v1.0h-1.0zM223.9 354.2h1.0v1.0h-1.0zM224.6 353.6h1.0v1.0h-1.0zM228.6 363.1h1.0v1.0h-1.0zM226.0 318.0h1.0v1.0h-1.0zM225.3 342.9h1.0v1.0h-1.0zM224.4 318.6h1.0v1.0h-1.0zM222.4 361.5h1.0v1.0h-1.0zM226.2 366.9h1.0v1.0h-1.0zM230.1 324.0h1.0v1.0h-1.0zM227.2 349.5h1.0v1.0h-1.0zM227.1 369.5h1.0v1.0h-1.0zM228.1 341.6h1.0v1.0h-1.0zM228.6 365.9h1.0v1.0h-1.0zM223.8 322.4h1.0v1.0h-1.0zM226.5 318.5h1.0v1.0h-1.0zM229.8 360.6h1.0v1.0h-1.0zM226.0 332.4h1.0v1.0h-1.0zM226.6 347.9h1.0v1.0h-1.0zM226.6 331.0h1.0v1.0h-1.0zM222.6 342.6h1.0v1.0h-1.0zM227.5 372.1h1.0v1.0h-1.0zM226.3 363.2h1.0v1.0h-1.0zM226.0 361.6h1.0v1.0h-1.0zM223.1 323.0h1.0v1.0h-1.0zM225.9 337.9h1.0v1.0h-1.0zM226.9 316.0h1.0v1.0h-1.0zM226.2 337.6h1.0v1.0h-1.0zM232.1 319.2h1.0v1.0h-1.0zM223.7 317.3h1.0v1.0h-1.0zM225.8 354.8h1.0v1.0h-1.0zM229.3 336.9h1.0v1.0h-1.0zM227.9 344.6h1.0v1.0h-1.0zM229.1 340.7h1.0v1.0h-1.0zM231.7 359.4h1.0v1.0h-1.0zM225.8 338.6h1.0v1.0h-1.0zM229.2 339.1h1.0v1.0h-1.0zM227.7 363.8h1.0v1.0h-1.0zM228.8 371.4h1.0v1.0h-1.0zM228.6 364.9h1.0v1.0h-1.0zM227.1 330.5h1.0v1.0h-1.0zM226.4 319.2h1.0v1.0h-1.0zM227.9 358.9h1.0v1.0h-1.0zM222.3 330.6h1.0v1.0h-1.0zM230.4 365.1h1.0v1.0h-1.0zM227.9 359.1h1.0v1.0h-1.0zM226.4 309.4h1.0v1.0h-1.0zM227.4 355.6h1.0v1.0h-1.0zM225.5 356.0h1.0v1.0h-1.0zM225.4 317.5h1.0v1.0h-1.0zM226.0 359.9h1.0v1.0h-1.0zM227.1 338.1h1.0v1.0h-1.0zM226.7 308.5h1.0v1.0h-1.0zM227.0 317.6h1.0v1.0h-1.0zM226.7 326.8h1.0v1.0h-1.0zM225.2 361.7h1.0v1.0h-1.0zM226.9 341.4h1.0v1.0h-1.0zM229.6 359.8h1.0v1.0h-1.0zM230.8 340.1h1.0v1.0h-1.0zM228.6 374.1h1.0v1.0h-1.0zM228.6 339.4h1.0v1.0h-1.0zM230.0 312.0h1.0v1.0h-1.0zM228.1 315.0h1.0v1.0h-1.0zM226.7 315.3h1.0v1.0h-1.0zM226.0 346.1h1.0v1.0h-1.0zM225.8 320.0h1.0v1.0h-1.0zM226.0 327.1h1.0v1.0h-1.0zM228.5 315.8h1.0v1.0h-1.0zM224.7 317.9h1.0v1.0h-1.0zM227.1 312.2h1.0v1.0h-1.0zM232.4 342.0h1.0v1.0h-1.0zM225.3 345.7h1.0v1.0h-1.0zM228.1 358.8h1.0v1.0h-1.0zM226.1 328.2h1.0v1.0h-1.0zM222.7 317.0h1.0v1.0h-1.0zM229.0 367.6h1.0v1.0h-1.0zM226.8 333.4h1.0v1.0h-1.0zM225.4 365.6h1.0v1.0h-1.0zM230.5 365.8h1.0v1.0h-1.0zM225.8 348.2h1.0v1.0h-1.0zM225.7 369.0h1.0v1.0h-1.0zM228.0 324.3h1.0v1.0h-1.0zM227.2 321.4h1.0v1.0h-1.0zM225.1 307.3h1.0v1.0h-1.0zM225.2 347.5h1.0v1.0h-1.0zM226.4 368.1h1.0v1.0h-1.0zM224.5 320.5h1.0v1.0h-1.0zM228.6 341.1h1.0v1.0h-1.0zM225.0 329.0h1.0v1.0h-1.0zM224.1 345.3h1.0v1.0h-1.0zM227.0 337.8h1.0v1.0h-1.0zM229.6 334.6h1.0v1.0h-1.0zM227.9 371.5h1.0v1.0h-1.0zM226.8 334.8h1.0v1.0h-1.0zM228.1 341.5h1.0v1.0h-1.0zM226.0 324.1h1.0v1.0h-1.0zM227.2 368.2h1.0v1.0h-1.0zM230.7 310.9h1.0v1.0h-1.0zM225.9 333.4h1.0v1.0h-1.0zM228.9 313.3h1.0v1.0h-1.0zM227.2 348.4h1.0v1.0h-1.0zM226.6 371.1h1.0v1.0h-1.0zM228.9 327.9h1.0v1.0h-1.0zM227.7 338.3h1.0v1.0h-1.0zM230.4 348.4h1.0v1.0h-1.0zM230.2 335.6h1.0v1.0h-1.0zM226.1 317.5h1.0v1.0h-1.0zM226.2 324.1h1.0v1.0h-1.0zM226.9 375.0h1.0v1.0h-1.0zM228.7 358.8h1.0v1.0h-1.0zM227.5 344.5h1.0v1.0h-1.0zM226.2 368.0h1.0v1.0h-1.0zM227.0 347.1h1.0v1.0h-1.0zM224.0 364.1h1.0v1.0h-1.0zM231.8 350.4h1.0v1.0h-1.0zM226.7 362.2h1.0v1.0h-1.0zM228.8 366.7h1.0v1.0h-1.0zM225.2 340.9h1.0v1.0h-1.0zM228.8 337.7h1.0v1.0h-1.0zM223.3 363.9h1.0v1.0h-1.0zM230.0 312.6h1.0v1.0h-1.0zM228.0 308.0h1.0v1.0h-1.0zM227.2 316.3h1.0v1.0h-1.0zM226.7 323.1h1.0v1.0h-1.0zM227.2 316.6h1.0v1.0h-1.0zM228.8 308.4h1.0v1.0h-1.0zM229.2 325.7h1.0v1.0h-1.0zM224.9 358.3h1.0v1.0h-1.0zM225.5 367.7h1.0v1.0h-1.0zM227.6 348.4h1.0v1.0h-1.0zM226.7 363.2h1.0v1.0h-1.0zM229.1 327.4h1.0v1.0h-1.0zM232.8 354.4h1.0v1.0h-1.0zM224.3 336.9h1.0v1.0h-1.0zM226.9 341.7h1.0v1.0h-1.0zM228.9 372.9h1.0v1.0h-1.0zM231.9 366.2h1.0v1.0h-1.0zM229.1 314.1h1.0v1.0h-1.0zM231.7 358.3h1.0v1.0h-1.0zM225.8 324.2h1.0v1.0h-1.0zM230.8 330.8h1.0v1.0h-1.0zM225.6 336.6h1.0v1.0h-1.0zM228.5 369.7h1.0v1.0h-1.0zM225.9 371.1h1.0v1.0h-1.0zM225.7 332.4h1.0v1.0h-1.0zM228.3 341.3h1.0v1.0h-1.0zM231.5 357.9h1.0v1.0h-1.0zM226.1 338.3h1.0v1.0h-1.0zM225.8 368.8h1.0v1.0h-1.0zM225.0 371.4h1.0v1.0h-1.0zM223.1 343.9h1.0v1.0h-1.0zM227.6 350.5h1.0v1.0h-1.0zM227.4 329.3h1.0v1.0h-1.0zM231.7 319.8h1.0v1.0h-1.0zM224.9 331.1h1.0v1.0h-1.0zM226.9 360.9h1.0v1.0h-1.0zM227.4 362.4h1.0v1.0h-1.0zM225.5 371.9h1.0v1.0h-1.0zM232.2 360.2h1.0v1.0h-1.0zM225.3 338.0h1.0v1.0h-1.0zM227.4 321.3h1.0v1.0h-1.0zM228.7 324.1h1.0v1.0h-1.0zM224.5 353.9h1.0v1.0h-1.0zM228.4 365.7h1.0v1.0h-1.0zM229.1 328.0h1.0v1.0h-1.0zM223.0 315.5h1.0v1.0h-1.0zM225.8 343.6h1.0v1.0h-1.0zM224.7 342.8h1.0v1.0h-1.0zM228.2 359.0h1.0v1.0h-1.0zM227.6 358.0h1.0v1.0h-1.0zM228.7 340.7h1.0v1.0h-1.0zM227.9 322.5h1.0v1.0h-1.0zM228.9 369.1h1.0v1.0h-1.0zM229.9 374.2h1.0v1.0h-1.0zM224.9 361.0h1.0v1.0h-1.0zM227.5 347.5h1.0v1.0h-1.0zM228.4 356.7h1.0v1.0h-1.0zM224.9 361.0h1.0v1.0h-1.0zM225.6 360.2h1.0v1.0h-1.0zM229.3 338.9h1.0v1.0h-1.0zM223.9 358.9h1.0v1.0h-1.0zM228.1 326.5h1.0v1.0h-1.0zM228.8 315.3h1.0v1.0h-1.0zM230.2 310.1h1.0v1.0h-1.0zM226.5 327.3h1.0v1.0h-1.0zM225.9 316.1h1.0v1.0h-1.0zM224.5 318.8h1.0v1.0h-1.0zM229.6 334.9h1.0v1.0h-1.0zM228.1 349.2h1.0v1.0h-1.0zM227.3 333.5h1.0v1.0h-1.0zM226.8 321.4h1.0v1.0h-1.0zM227.3 357.1h1.0v1.0h-1.0zM227.9 369.8h1.0v1.0h-1.0zM227.4 312.6h1.0v1.0h-1.0zM229.2 307.9h1.0v1.0h-1.0zM227.3 361.2h1.0v1.0h-1.0zM229.5 366.5h1.0v1.0h-1.0zM226.1 345.2h1.0v1.0h-1.0zM229.6 374.2h1.0v1.0h-1.0zM230.7 355.9h1.0v1.0h-1.0zM227.6 345.9h1.0v1.0h-1.0zM230.8 362.1h1.0v1.0h-1.0zM226.4 357.9h1.0v1.0h-1.0zM223.5 339.4h1.0v1.0h-1.0zM226.1 362.1h1.0v1.0h-1.0zM226.5 314.6h1.0v1.0h-1.0zM225.2 329.0h1.0v1.0h-1.0zM222.9 340.4h1.0v1.0h-1.0zM231.1 360.1h1.0v1.0h-1.0zM227.2 364.9h1.0v1.0h-1.0zM224.4 358.4h1.0v1.0h-1.0zM227.6 359.3h1.0v1.0h-1.0zM231.3 351.7h1.0v1.0h-1.0zM229.1 342.0h1.0v1.0h-1.0zM229.3 312.1h1.0v1.0h-1.0zM227.0 321.3h1.0v1.0h-1.0zM231.1 338.4h1.0v1.0h-1.0zM226.2 359.7h1.0v1.0h-1.0zM225.9 371.0h1.0v1.0h-1.0zM226.8 349.6h1.0v1.0h-1.0zM227.7 312.3h1.0v1.0h-1.0zM228.4 319.1h1.0v1.0h-1.0zM227.6 342.6h1.0v1.0h-1.0zM228.4 317.9h1.0v1.0h-1.0zM228.2 355.7h1.0v1.0h-1.0zM229.5 371.6h1.0v1.0h-1.0zM230.7 368.2h1.0v1.0h-1.0zM225.4 332.3h1.0v1.0h-1.0zM226.6 363.4h1.0v1.0h-1.0zM226.5 356.0h1.0v1.0h-1.0zM228.1 336.0h1.0v1.0h-1.0zM228.7 321.1h1.0v1.0h-1.0zM226.4 353.4h1.0v1.0h-1.0zM228.7 349.7h1.0v1.0h-1.0zM229.3 320.9h1.0v1.0h-1.0zM227.0 310.2h1.0v1.0h-1.0zM224.4 327.1h1.0v1.0h-1.0zM228.9 345.1h1.0v1.0h-1.0zM230.6 332.4h1.0v1.0h-1.0zM228.4 370.1h1.0v1.0h-1.0zM225.9 337.2h1.0v1.0h-1.0zM233.2 333.7h1.0v1.0h-1.0zM223.3 319.5h1.0v1.0h-1.0zM231.5 346.6h1.0v1.0h-1.0zM227.5 327.7h1.0v1.0h-1.0zM226.6 315.2h1.0v1.0h-1.0zM225.5 330.5h1.0v1.0h-1.0zM224.4 318.7h1.0v1.0h-1.0zM229.4 309.9h1.0v1.0h-1.0zM223.5 357.0h1.0v1.0h-1.0zM230.5 335.7h1.0v1.0h-1.0zM225.4 346.3h1.0v1.0h-1.0zM225.9 331.5h1.0v1.0h-1.0zM228.3 372.8h1.0v1.0h-1.0zM227.9 331.8h1.0v1.0h-1.0zM223.3 335.3h1.0v1.0h-1.0zM230.6 349.0h1.0v1.0h-1.0zM232.7 307.2h1.0v1.0h-1.0zM230.4 352.4h1.0v1.0h-1.0zM226.5 351.6h1.0v1.0h-1.0zM231.8 353.0h1.0v1.0h-1.0zM231.4 337.7h1.0v1.0h-1.0zM228.4 321.6h1.0v1.0h-1.0zM231.2 333.8h1.0v1.0h-1.0zM229.3 328.0h1.0v1.0h-1.0zM229.9 353.9h1.0v1.0h-1.0zM226.5 328.9h1.0v1.0h-1.0zM229.8 336.7h1.0v1.0h-1.0zM226.1 334.1h1.0v1.0h-1.0zM226.0 370.7h1.0v1.0h-1.0zM225.6 367.0h1.0v1.0h-1.0zM224.7 341.0h1.0v1.0h-1.0zM226.4 329.0h1.0v1.0h-1.0zM225.0 356.7h1.0v1.0h-1.0zM226.0 354.4h1.0v1.0h-1.0zM227.3 344.4h1.0v1.0h-1.0zM230.5 352.5h1.0v1.0h-1.0zM227.3 331.0h1.0v1.0h-1.0zM228.3 367.8h1.0v1.0h-1.0zM225.8 372.5h1.0v1.0h-1.0zM228.3 326.9h1.0v1.0h-1.0zM226.0 314.1h1.0v1.0h-1.0zM228.6 309.1h1.0v1.0h-1.0zM229.1 317.7h1.0v1.0h-1.0zM225.7 356.5h1.0v1.0h-1.0zM227.4 359.9h1.0v1.0h-1.0zM225.7 335.2h1.0v1.0h-1.0zM227.1 348.1h1.0v1.0h-1.0zM229.4 359.1h1.0v1.0h-1.0zM230.0 313.7h1.0v1.0h-1.0zM227.1 336.7h1.0v1.0h-1.0zM227.5 371.7h1.0v1.0h-1.0zM224.1 334.9h1.0v1.0h-1.0zM227.8 336.2h1.0v1.0h-1.0zM225.2 364.7h1.0v1.0h-1.0zM228.0 357.9h1.0v1.0h-1.0zM222.5 354.0h1.0v1.0h-1.0zM230.7 362.5h1.0v1.0h-1.0zM225.8 346.3h1.0v1.0h-1.0zM227.1 325.3h1.0v1.0h-1.0zM229.7 308.6h1.0v1.0h-1.0zM226.1 334.7h1.0v1.0h-1.0zM229.2 312.6h1.0v1.0h-1.0zM229.0 330.0h1.0v1.0h-1.0zM226.3 360.0h1.0v1.0h-1.0zM228.2 331.4h1.0v1.0h-1.0zM228.5 359.0h1.0v1.0h-1.0zM225.3 372.6h1.0v1.0h-1.0zM226.7 313.5h1.0v1.0h-1.0zM226.5 361.7h1.0v1.0h-1.0zM228.1 360.1h1.0v1.0h-1.0zM226.4 313.9h1.0v1.0h-1.0zM228.4 316.7h1.0v1.0h-1.0zM227.4 316.1h1.0v1.0h-1.0zM229.3 346.7h1.0v1.0h-1.0zM230.9 350.8h1.0v1.0h-1.0zM227.6 323.6h1.0v1.0h-1.0zM222.9 353.9h1.0v1.0h-1.0zM228.1 349.8h1.0v1.0h-1.0zM227.4 373.3h1.0v1.0h-1.0zM228.3 314.6h1.0v1.0h-1.0zM224.2 343.4h1.0v1.0h-1.0zM227.3 310.7h1.0v1.0h-1.0zM225.8 366.9h1.0v1.0h-1.0zM226.6 365.2h1.0v1.0h-1.0zM226.4 358.2h1.0v1.0h-1.0zM223.2 325.4h1.0v1.0h-1.0zM228.6 358.4h1.0v1.0h-1.0zM228.7 340.6h1.0v1.0h-1.0zM228.2 344.5h1.0v1.0h-1.0zM228.3 335.2h1.0v1.0h-1.0zM225.6 349.2h1.0v1.0h-1.0zM227.5 369.9h1.0v1.0h-1.0zM225.7 337.0h1.0v1.0h-1.0zM226.9 321.5h1.0v1.0h-1.0zM227.1 350.3h1.0v1.0h-1.0zM225.9 359.7h1.0v1.0h-1.0zM229.8 317.7h1.0v1.0h-1.0zM226.6 346.0h1.0v1.0h-1.0zM230.9 358.4h1.0v1.0h-1.0zM229.8 325.5h1.0v1.0h-1.0zM225.2 364.0h1.0v1.0h-1.0zM229.7 344.7h1.0v1.0h-1.0zM230.4 364.5h1.0v1.0h-1.0zM228.8 309.4h1.0v1.0h-1.0zM228.0 307.5h1.0v1.0h-1.0zM224.8 317.5h1.0v1.0h-1.0zM227.1 359.9h1.0v1.0h-1.0zM228.7 332.2h1.0v1.0h-1.0zM227.6 351.5h1.0v1.0h-1.0zM228.1 345.8h1.0v1.0h-1.0zM228.9 335.3h1.0v1.0h-1.0zM225.2 363.4h1.0v1.0h-1.0zM230.4 337.9h1.0v1.0h-1.0zM224.0 364.3h1.0v1.0h-1.0zM225.7 339.2h1.0v1.0h-1.0zM224.6 316.3h1.0v1.0h-1.0zM227.7 322.8h1.0v1.0h-1.0zM225.2 318.7h1.0v1.0h-1.0zM229.1 365.6h1.0v1.0h-1.0zM232.0 362.1h1.0v1.0h-1.0zM228.2 331.0h1.0v1.0h-1.0zM224.8 316.7h1.0v1.0h-1.0zM227.2 314.1h1.0v1.0h-1.0zM228.9 327.7h1.0v1.0h-1.0zM225.7 325.5h1.0v1.0h-1.0zM225.7 367.1h1.0v1.0h-1.0zM227.6 342.6h1.0v1.0h-1.0zM228.3 343.7h1.0v1.0h-1.0zM230.0 325.4h1.0v1.0h-1.0zM227.4 372.3h1.0v1.0h-1.0zM227.4 372.0h1.0v1.0h-1.0zM226.6 368.2h1.0v1.0h-1.0zM229.4 336.5h1.0v1.0h-1.0zM226.1 356.9h1.0v1.0h-1.0zM227.3 313.7h1.0v1.0h-1.0zM227.5 311.4h1.0v1.0h-1.0zM229.1 309.1h1.0v1.0h-1.0zM225.4 346.2h1.0v1.0h-1.0zM223.9 351.7h1.0v1.0h-1.0zM229.5 371.0h1.0v1.0h-1.0zM225.0 355.5h1.0v1.0h-1.0zM229.4 356.8h1.0v1.0h-1.0zM229.9 316.5h1.0v1.0h-1.0zM228.1 323.8h1.0v1.0h-1.0zM228.8 373.1h1.0v1.0h-1.0zM229.5 360.5h1.0v1.0h-1.0zM225.3 370.0h1.0v1.0h-1.0zM226.6 346.8h1.0v1.0h-1.0zM227.6 311.1h1.0v1.0h-1.0zM229.1 332.1h1.0v1.0h-1.0zM224.2 346.3h1.0v1.0h-1.0zM227.9 318.2h1.0v1.0h-1.0zM228.3 369.0h1.0v1.0h-1.0zM226.5 366.4h1.0v1.0h-1.0zM232.1 346.5h1.0v1.0h-1.0zM226.5 334.8h1.0v1.0h-1.0zM226.9 312.3h1.0v1.0h-1.0zM230.2 372.7h1.0v1.0h-1.0zM227.0 342.4h1.0v1.0h-1.0zM228.8 343.0h1.0v1.0h-1.0zM227.3 370.2h1.0v1.0h-1.0zM227.5 321.1h1.0v1.0h-1.0zM228.9 316.2h1.0v1.0h-1.0zM224.0 368.1h1.0v1.0h-1.0zM227.5 349.8h1.0v1.0h-1.0zM227.2 347.5h1.0v1.0h-1.0zM228.8 358.3h1.0v1.0h-1.0zM225.6 341.8h1.0v1.0h-1.0zM230.0 318.8h1.0v1.0h-1.0zM229.8 362.3h1.0v1.0h-1.0zM226.7 338.1h1.0v1.0h-1.0zM227.2 344.2h1.0v1.0h-1.0zM227.5 313.6h1.0v1.0h-1.0zM230.0 318.8h1.0v1.0h-1.0zM230.9 345.2h1.0v1.0h-1.0zM231.1 345.9h1.0v1.0h-1.0zM224.7 323.9h1.0v1.0h-1.0zM228.2 328.1h1.0v1.0h-1.0zM225.0 334.6h1.0v1.0h-1.0zM226.5 365.5h1.0v1.0h-1.0zM231.2 354.2h1.0v1.0h-1.0zM227.7 346.9h1.0v1.0h-1.0zM227.1 317.9h1.0v1.0h-1.0zM227.9 346.2h1.0v1.0h-1.0zM226.5 363.4h1.0v1.0h-1.0zM234.6 359.2h1.0v1.0h-1.0zM228.9 323.1h1.0v1.0h-1.0zM227.3 335.0h1.0v1.0h-1.0zM228.8 365.2h1.0v1.0h-1.0zM225.3 326.6h1.0v1.0h-1.0zM227.7 373.5h1.0v1.0h-1.0zM223.7 341.9h1.0v1.0h-1.0zM226.0 359.9h1.0v1.0h-1.0zM226.9 349.9h1.0v1.0h-1.0zM226.3 348.6h1.0v1.0h-1.0zM228.1 318.7h1.0v1.0h-1.0zM229.6 318.8h1.0v1.0h-1.0zM229.9 332.5h1.0v1.0h-1.0zM229.9 351.3h1.0v1.0h-1.0zM226.6 312.2h1.0v1.0h-1.0zM228.2 342.7h1.0v1.0h-1.0zM228.8 363.7h1.0v1.0h-1.0zM227.0 312.0h1.0v1.0h-1.0zM224.7 369.8h1.0v1.0h-1.0zM227.8 333.9h1.0v1.0h-1.0zM228.1 361.6h1.0v1.0h-1.0zM227.9 309.4h1.0v1.0h-1.0zM226.1 363.0h1.0v1.0h-1.0zM225.8 314.2h1.0v1.0h-1.0zM231.8 342.6h1.0v1.0h-1.0zM223.9 356.5h1.0v1.0h-1.0zM224.5 342.9h1.0v1.0h-1.0zM229.5 366.6h1.0v1.0h-1.0zM228.7 360.0h1.0v1.0h-1.0zM228.2 344.9h1.0v1.0h-1.0zM229.6 374.8h1.0v1.0h-1.0zM224.7 310.5h1.0v1.0h-1.0zM230.0 370.8h1.0v1.0h-1.0zM225.1 347.2h1.0v1.0h-1.0zM228.2 321.7h1.0v1.0h-1.0zM230.2 355.5h1.0v1.0h-1.0zM230.5 341.1h1.0v1.0h-1.0zM227.2 346.5h1.0v1.0h-1.0zM229.4 369.5h1.0v1.0h-1.0zM225.2 352.9h1.0v1.0h-1.0zM226.3 373.9h1.0v1.0h-1.0zM225.8 341.4h1.0v1.0h-1.0zM223.3 345.5h1.0v1.0h-1.0zM229.2 360.8h1.0v1.0h-1.0zM227.8 370.9h1.0v1.0h-1.0zM220.7 333.2h1.0v1.0h-1.0zM226.9 323.5h1.0v1.0h-1.0zM229.6 371.6h1.0v1.0h-1.0zM223.3 353.8h1.0v1.0h-1.0zM226.3 343.8h1.0v1.0h-1.0zM229.1 358.5h1.0v1.0h-1.0zM225.4 343.9h1.0v1.0h-1.0zM226.9 360.3h1.0v1.0h-1.0zM230.4 358.9h1.0v1.0h-1.0zM226.6 330.2h1.0v1.0h-1.0zM229.1 318.3h1.0v1.0h-1.0zM226.5 310.2h1.0v1.0h-1.0zM227.2 341.6h1.0v1.0h-1.0zM228.9 359.7h1.0v1.0h-1.0zM228.5 322.5h1.0v1.0h-1.0zM230.2 339.3h1.0v1.0h-1.0zM228.3 352.9h1.0v1.0h-1.0zM228.8 367.0h1.0v1.0h-1.0zM226.1 362.1h1.0v1.0h-1.0zM228.9 326.3h1.0v1.0h-1.0zM226.3 334.5h1.0v1.0h-1.0zM225.9 370.9h1.0v1.0h-1.0zM228.8 354.7h1.0v1.0h-1.0zM228.5 308.8h1.0v1.0h-1.0zM226.3 349.7h1.0v1.0h-1.0zM229.5 350.6h1.0v1.0h-1.0zM231.8 329.6h1.0v1.0h-1.0zM227.8 365.4h1.0v1.0h-1.0zM231.0 345.0h1.0v1.0h-1.0zM227.8 363.7h1.0v1.0h-1.0zM224.2 347.2h1.0v1.0h-1.0zM227.7 318.1h1.0v1.0h-1.0zM225.6 328.7h1.0v1.0h-1.0zM231.9 311.0h1.0v1.0h-1.0zM226.1 360.2h1.0v1.0h-1.0zM225.9 345.9h1.0v1.0h-1.0zM230.7 356.3h1.0v1.0h-1.0zM227.5 362.8h1.0v1.0h-1.0zM227.3 345.3h1.0v1.0h-1.0zM229.1 351.6h1.0v1.0h-1.0zM226.5 345.7h1.0v1.0h-1.0zM230.2 327.0h1.0v1.0h-1.0zM224.5 351.8h1.0v1.0h-1.0zM224.0 326.5h1.0v1.0h-1.0zM225.8 333.7h1.0v1.0h-1.0zM227.3 314.8h1.0v1.0h-1.0zM224.4 354.8h1.0v1.0h-1.0zM226.3 336.5h1.0v1.0h-1.0zM228.0 315.6h1.0v1.0h-1.0zM227.6 308.3h1.0v1.0h-1.0zM229.6 362.2h1.0v1.0h-1.0zM230.5 317.9h1.0v1.0h-1.0zM224.1 337.1h1.0v1.0h-1.0zM228.3 369.6h1.0v1.0h-1.0zM225.4 340.6h1.0v1.0h-1.0zM227.3 357.0h1.0v1.0h-1.0zM227.1 344.0h1.0v1.0h-1.0zM228.4 333.7h1.0v1.0h-1.0zM227.5 356.6h1.0v1.0h-1.0zM228.1 314.1h1.0v1.0h-1.0zM226.8 333.2h1.0v1.0h-1.0zM226.8 372.0h1.0v1.0h-1.0zM226.4 368.6h1.0v1.0h-1.0zM224.2 371.6h1.0v1.0h-1.0zM228.3 373.7h1.0v1.0h-1.0zM228.9 352.1h1.0v1.0h-1.0zM228.2 350.3h1.0v1.0h-1.0zM229.5 315.6h1.0v1.0h-1.0zM227.9 313.1h1.0v1.0h-1.0zM222.5 341.9h1.0v1.0h-1.0zM228.9 356.6h1.0v1.0h-1.0zM229.4 336.7h1.0v1.0h-1.0zM228.9 322.1h1.0v1.0h-1.0zM231.4 331.6h1.0v1.0h-1.0zM227.2 350.4h1.0v1.0h-1.0zM229.6 370.3h1.0v1.0h-1.0zM229.6 311.4h1.0v1.0h-1.0zM230.6 363.0h1.0v1.0h-1.0zM231.3 368.8h1.0v1.0h-1.0zM225.3 311.8h1.0v1.0h-1.0zM229.6 321.4h1.0v1.0h-1.0zM224.7 339.0h1.0v1.0h-1.0zM229.9 310.4h1.0v1.0h-1.0zM227.2 357.5h1.0v1.0h-1.0zM226.4 318.1h1.0v1.0h-1.0zM225.6 335.9h1.0v1.0h-1.0zM225.9 364.5h1.0v1.0h-1.0zM231.9 353.4h1.0v1.0h-1.0zM231.5 330.1h1.0v1.0h-1.0zM227.2 331.5h1.0v1.0h-1.0zM230.4 307.4h1.0v1.0h-1.0zM231.1 353.2h1.0v1.0h-1.0zM225.4 342.8h1.0v1.0h-1.0zM223.7 349.2h1.0v1.0h-1.0zM227.4 329.0h1.0v1.0h-1.0zM229.8 329.8h1.0v1.0h-1.0zM227.1 349.1h1.0v1.0h-1.0zM229.3 358.7h1.0v1.0h-1.0zM230.3 345.2h1.0v1.0h-1.0zM227.4 374.5h1.0v1.0h-1.0zM230.4 371.2h1.0v1.0h-1.0zM228.8 358.2h1.0v1.0h-1.0zM227.8 314.6h1.0v1.0h-1.0zM225.6 311.9h1.0v1.0h-1.0zM228.2 315.9h1.0v1.0h-1.0zM227.1 332.7h1.0v1.0h-1.0zM231.8 337.9h1.0v1.0h-1.0zM227.9 361.0h1.0v1.0h-1.0zM228.1 359.2h1.0v1.0h-1.0zM225.2 333.2h1.0v1.0h-1.0zM229.1 352.5h1.0v1.0h-1.0zM228.9 313.7h1.0v1.0h-1.0zM227.9 353.7h1.0v1.0h-1.0zM227.0 360.0h1.0v1.0h-1.0zM228.1 324.1h1.0v1.0h-1.0zM230.1 323.8h1.0v1.0h-1.0zM228.7 337.4h1.0v1.0h-1.0zM229.8 351.0h1.0v1.0h-1.0zM231.5 338.5h1.0v1.0h-1.0zM229.9 347.4h1.0v1.0h-1.0zM226.8 361.9h1.0v1.0h-1.0zM228.4 373.4h1.0v1.0h-1.0zM225.5 322.0h1.0v1.0h-1.0zM225.6 330.6h1.0v1.0h-1.0zM228.8 310.4h1.0v1.0h-1.0zM232.5 333.1h1.0v1.0h-1.0zM227.1 321.1h1.0v1.0h-1.0zM231.6 363.7h1.0v1.0h-1.0zM230.2 337.8h1.0v1.0h-1.0zM230.3 335.7h1.0v1.0h-1.0zM228.9 349.4h1.0v1.0h-1.0zM229.3 373.0h1.0v1.0h-1.0zM225.0 330.3h1.0v1.0h-1.0zM227.4 309.8h1.0v1.0h-1.0zM226.5 359.2h1.0v1.0h-1.0zM224.6 366.0h1.0v1.0h-1.0zM228.2 368.4h1.0v1.0h-1.0zM231.3 369.8h1.0v1.0h-1.0zM224.9 320.8h1.0v1.0h-1.0zM226.4 357.2h1.0v1.0h-1.0zM230.3 327.5h1.0v1.0h-1.0zM229.1 317.1h1.0v1.0h-1.0zM227.5 313.8h1.0v1.0h-1.0zM230.6 340.6h1.0v1.0h-1.0zM224.2 342.1h1.0v1.0h-1.0zM228.2 346.3h1.0v1.0h-1.0zM225.1 333.0h1.0v1.0h-1.0zM224.6 340.7h1.0v1.0h-1.0zM229.7 328.6h1.0v1.0h-1.0zM228.5 365.9h1.0v1.0h-1.0zM229.7 310.0h1.0v1.0h-1.0zM227.2 315.6h1.0v1.0h-1.0zM227.1 373.7h1.0v1.0h-1.0zM226.2 342.8h1.0v1.0h-1.0zM230.5 308.0h1.0v1.0h-1.0zM227.5 346.2h1.0v1.0h-1.0zM225.5 354.2h1.0v1.0h-1.0zM227.4 361.8h1.0v1.0h-1.0zM222.8 340.2h1.0v1.0h-1.0zM225.9 331.8h1.0v1.0h-1.0zM226.5 331.8h1.0v1.0h-1.0zM226.8 343.9h1.0v1.0h-1.0zM224.7 330.3h1.0v1.0h-1.0zM228.4 349.7h1.0v1.0h-1.0zM231.0 355.5h1.0v1.0h-1.0zM227.1 371.0h1.0v1.0h-1.0zM230.3 312.3h1.0v1.0h-1.0zM229.0 351.1h1.0v1.0h-1.0zM229.1 329.5h1.0v1.0h-1.0zM226.8 321.6h1.0v1.0h-1.0zM227.1 355.4h1.0v1.0h-1.0zM227.4 365.9h1.0v1.0h-1.0zM226.3 337.8h1.0v1.0h-1.0zM228.3 330.1h1.0v1.0h-1.0zM224.3 326.8h1.0v1.0h-1.0zM226.3 334.2h1.0v1.0h-1.0zM226.6 335.6h1.0v1.0h-1.0zM224.9 318.6h1.0v1.0h-1.0zM226.6 331.9h1.0v1.0h-1.0zM228.0 311.3h1.0v1.0h-1.0zM226.1 326.5h1.0v1.0h-1.0zM227.2 352.3h1.0v1.0h-1.0zM227.3 369.6h1.0v1.0h-1.0zM225.6 355.3h1.0v1.0h-1.0zM227.2 323.0h1.0v1.0h-1.0zM227.9 372.5h1.0v1.0h-1.0zM225.2 324.2h1.0v1.0h-1.0zM224.3 310.5h1.0v1.0h-1.0zM225.9 372.5h1.0v1.0h-1.0zM228.6 331.0h1.0v1.0h-1.0zM224.1 321.4h1.0v1.0h-1.0zM226.4 365.3h1.0v1.0h-1.0zM227.7 334.2h1.0v1.0h-1.0zM225.7 338.7h1.0v1.0h-1.0zM228.7 352.0h1.0v1.0h-1.0zM228.1 369.6h1.0v1.0h-1.0zM229.1 347.8h1.0v1.0h-1.0zM223.7 331.7h1.0v1.0h-1.0zM228.5 312.2h1.0v1.0h-1.0zM228.3 307.5h1.0v1.0h-1.0zM227.8 353.7h1.0v1.0h-1.0zM225.9 365.3h1.0v1.0h-1.0zM229.7 337.2h1.0v1.0h-1.0zM229.9 330.2h1.0v1.0h-1.0zM225.4 335.2h1.0v1.0h-1.0zM227.8 318.3h1.0v1.0h-1.0zM225.7 336.7h1.0v1.0h-1.0zM228.2 309.8h1.0v1.0h-1.0zM228.9 347.4h1.0v1.0h-1.0zM230.2 312.7h1.0v1.0h-1.0zM225.0 340.3h1.0v1.0h-1.0zM226.6 309.6h1.0v1.0h-1.0zM226.6 343.0h1.0v1.0h-1.0zM225.4 351.2h1.0v1.0h-1.0zM226.4 317.0h1.0v1.0h-1.0zM228.4 367.0h1.0v1.0h-1.0zM223.7 324.3h1.0v1.0h-1.0zM228.1 367.2h1.0v1.0h-1.0zM228.0 369.8h1.0v1.0h-1.0zM227.2 350.9h1.0v1.0h-1.0zM230.7 343.5h1.0v1.0h-1.0zM227.6 314.2h1.0v1.0h-1.0zM228.6 330.8h1.0v1.0h-1.0zM225.4 327.6h1.0v1.0h-1.0zM226.4 325.5h1.0v1.0h-1.0zM229.1 345.5h1.0v1.0h-1.0zM227.9 328.4h1.0v1.0h-1.0zM227.3 351.3h1.0v1.0h-1.0zM224.6 363.4h1.0v1.0h-1.0zM226.0 309.9h1.0v1.0h-1.0zM230.4 329.5h1.0v1.0h-1.0zM227.5 356.7h1.0v1.0h-1.0zM230.0 356.2h1.0v1.0h-1.0zM226.3 317.9h1.0v1.0h-1.0zM228.0 317.3h1.0v1.0h-1.0zM227.9 355.1h1.0v1.0h-1.0zM230.1 308.3h1.0v1.0h-1.0zM229.7 348.2h1.0v1.0h-1.0zM225.9 354.5h1.0v1.0h-1.0zM225.3 350.0h1.0v1.0h-1.0zM229.3 339.7h1.0v1.0h-1.0zM227.1 337.3h1.0v1.0h-1.0zM224.4 351.1h1.0v1.0h-1.0zM228.4 308.0h1.0v1.0h-1.0zM230.2 351.3h1.0v1.0h-1.0zM226.8 319.1h1.0v1.0h-1.0zM226.4 362.8h1.0v1.0h-1.0zM225.5 327.1h1.0v1.0h-1.0zM226.6 342.8h1.0v1.0h-1.0zM225.9 316.9h1.0v1.0h-1.0zM229.0 351.6h1.0v1.0h-1.0zM227.2 318.8h1.0v1.0h-1.0zM227.0 374.5h1.0v1.0h-1.0zM224.8 348.8h1.0v1.0h-1.0zM225.9 326.4h1.0v1.0h-1.0zM231.6 354.1h1.0v1.0h-1.0zM227.9 371.5h1.0v1.0h-1.0zM225.4 316.2h1.0v1.0h-1.0zM226.4 374.8h1.0v1.0h-1.0zM223.9 318.0h1.0v1.0h-1.0zM227.0 328.1h1.0v1.0h-1.0zM224.6 308.5h1.0v1.0h-1.0zM229.1 311.1h1.0v1.0h-1.0zM221.7 337.6h1.0v1.0h-1.0zM226.5 311.1h1.0v1.0h-1.0zM226.2 359.0h1.0v1.0h-1.0zM225.7 362.4h1.0v1.0h-1.0zM226.4 372.4h1.0v1.0h-1.0zM228.5 343.6h1.0v1.0h-1.0zM228.1 330.1h1.0v1.0h-1.0zM228.0 308.2h1.0v1.0h-1.0zM229.9 372.0h1.0v1.0h-1.0zM225.1 342.1h1.0v1.0h-1.0zM227.1 323.6h1.0v1.0h-1.0zM232.2 348.2h1.0v1.0h-1.0zM230.7 348.7h1.0v1.0h-1.0zM227.4 342.0h1.0v1.0h-1.0zM229.1 310.8h1.0v1.0h-1.0zM230.2 351.6h1.0v1.0h-1.0zM221.2 362.5h1.0v1.0h-1.0zM225.2 336.2h1.0v1.0h-1.0zM225.3 336.4h1.0v1.0h-1.0zM229.3 318.2h1.0v1.0h-1.0zM227.5 368.4h1.0v1.0h-1.0zM225.7 349.5h1.0v1.0h-1.0zM228.4 333.9h1.0v1.0h-1.0zM229.9 312.3h1.0v1.0h-1.0zM225.3 326.4h1.0v1.0h-1.0zM229.0 333.9h1.0v1.0h-1.0zM227.6 327.7h1.0v1.0h-1.0zM226.9 335.6h1.0v1.0h-1.0zM225.7 327.0h1.0v1.0h-1.0zM225.9 324.7h1.0v1.0h-1.0zM228.4 374.6h1.0v1.0h-1.0zM224.4 316.6h1.0v1.0h-1.0zM226.4 312.6h1.0v1.0h-1.0zM227.9 308.3h1.0v1.0h-1.0zM228.2 308.0h1.0v1.0h-1.0zM228.4 311.6h1.0v1.0h-1.0zM229.5 351.6h1.0v1.0h-1.0zM229.2 351.8h1.0v1.0h-1.0zM228.7 349.9h1.0v1.0h-1.0zM225.6 336.6h1.0v1.0h-1.0zM228.7 343.3h1.0v1.0h-1.0zM226.9 326.2h1.0v1.0h-1.0zM228.0 360.4h1.0v1.0h-1.0zM226.5 357.0h1.0v1.0h-1.0zM226.4 310.0h1.0v1.0h-1.0zM230.7 308.0h1.0v1.0h-1.0zM231.6 326.3h1.0v1.0h-1.0zM228.7 308.6h1.0v1.0h-1.0zM227.3 370.6h1.0v1.0h-1.0zM224.8 316.8h1.0v1.0h-1.0zM228.1 366.5h1.0v1.0h-1.0zM230.3 334.5h1.0v1.0h-1.0zM227.0 310.2h1.0v1.0h-1.0zM227.4 335.8h1.0v1.0h-1.0zM227.2 357.4h1.0v1.0h-1.0zM224.0 318.1h1.0v1.0h-1.0zM226.7 354.5h1.0v1.0h-1.0zM224.6 313.5h1.0v1.0h-1.0zM228.3 322.0h1.0v1.0h-1.0zM227.6 359.4h1.0v1.0h-1.0zM228.3 319.4h1.0v1.0h-1.0zM229.3 344.2h1.0v1.0h-1.0zM227.0 313.4h1.0v1.0h-1.0zM226.8 372.9h1.0v1.0h-1.0zM228.0 367.4h1.0v1.0h-1.0zM226.6 349.5h1.0v1.0h-1.0zM226.7 358.6h1.0v1.0h-1.0zM224.6 314.7h1.0v1.0h-1.0zM230.0 307.5h1.0v1.0h-1.0zM229.4 314.4h1.0v1.0h-1.0zM227.9 374.9h1.0v1.0h-1.0zM228.8 344.3h1.0v1.0h-1.0zM229.4 340.7h1.0v1.0h-1.0zM230.4 315.9h1.0v1.0h-1.0zM228.6 331.2h1.0v1.0h-1.0zM230.9 355.1h1.0v1.0h-1.0zM229.7 374.8h1.0v1.0h-1.0zM225.2 329.4h1.0v1.0h-1.0zM227.9 373.6h1.0v1.0h-1.0zM222.3 335.4h1.0v1.0h-1.0zM223.9 351.3h1.0v1.0h-1.0zM227.3 362.1h1.0v1.0h-1.0zM227.8 349.0h1.0v1.0h-1.0zM228.3 350.2h1.0v1.0h-1.0zM228.7 370.1h1.0v1.0h-1.0zM230.5 347.2h1.0v1.0h-1.0zM228.5 339.9h1.0v1.0h-1.0zM230.7 330.6h1.0v1.0h-1.0zM224.7 362.7h1.0v1.0h-1.0zM231.4 368.9h1.0v1.0h-1.0zM228.1 346.4h1.0v1.0h-1.0zM226.1 335.2h1.0v1.0h-1.0zM225.5 357.2h1.0v1.0h-1.0zM228.2 326.1h1.0v1.0h-1.0zM225.2 322.2h1.0v1.0h-1.0zM226.7 312.1h1.0v1.0h-1.0zM226.2 325.9h1.0v1.0h-1.0zM226.8 340.2h1.0v1.0h-1.0zM221.1 328.5h1.0v1.0h-1.0zM230.6 362.4h1.0v1.0h-1.0zM226.8 311.6h1.0v1.0h-1.0zM228.1 354.2h1.0v1.0h-1.0zM225.2 335.0h1.0v1.0h-1.0zM226.1 312.5h1.0v1.0h-1.0zM226.8 371.7h1.0v1.0h-1.0zM225.8 364.4h1.0v1.0h-1.0zM225.2 326.2h1.0v1.0h-1.0zM225.3 365.9h1.0v1.0h-1.0zM227.0 359.5h1.0v1.0h-1.0zM224.3 321.8h1.0v1.0h-1.0zM226.9 361.2h1.0v1.0h-1.0zM227.2 338.5h1.0v1.0h-1.0zM230.5 339.3h1.0v1.0h-1.0zM225.9 321.1h1.0v1.0h-1.0zM225.3 330.1h1.0v1.0h-1.0zM227.1 362.0h1.0v1.0h-1.0zM228.1 325.6h1.0v1.0h-1.0zM226.4 363.9h1.0v1.0h-1.0zM226.4 336.1h1.0v1.0h-1.0zM228.1 317.1h1.0v1.0h-1.0zM226.0 345.8h1.0v1.0h-1.0zM230.2 324.6h1.0v1.0h-1.0zM226.6 344.2h1.0v1.0h-1.0zM227.3 372.9h1.0v1.0h-1.0zM226.5 345.1h1.0v1.0h-1.0zM225.2 342.5h1.0v1.0h-1.0zM223.5 349.1h1.0v1.0h-1.0zM227.3 324.0h1.0v1.0h-1.0zM229.3 317.0h1.0v1.0h-1.0zM232.3 343.4h1.0v1.0h-1.0zM227.4 316.5h1.0v1.0h-1.0zM230.8 358.7h1.0v1.0h-1.0zM224.5 340.6h1.0v1.0h-1.0zM225.6 361.6h1.0v1.0h-1.0zM224.5 361.0h1.0v1.0h-1.0zM230.8 344.3h1.0v1.0h-1.0zM225.1 369.4h1.0v1.0h-1.0zM226.6 315.8h1.0v1.0h-1.0zM230.6 314.4h1.0v1.0h-1.0zM227.5 334.9h1.0v1.0h-1.0zM227.3 343.7h1.0v1.0h-1.0zM223.6 343.8h1.0v1.0h-1.0zM228.9 324.6h1.0v1.0h-1.0zM228.5 307.8h1.0v1.0h-1.0zM230.1 311.5h1.0v1.0h-1.0zM227.1 343.7h1.0v1.0h-1.0zM229.0 320.9h1.0v1.0h-1.0zM227.4 320.9h1.0v1.0h-1.0zM222.5 314.2h1.0v1.0h-1.0zM224.0 327.4h1.0v1.0h-1.0zM222.9 352.8h1.0v1.0h-1.0zM227.7 351.5h1.0v1.0h-1.0zM230.3 336.5h1.0v1.0h-1.0zM225.6 309.8h1.0v1.0h-1.0zM231.0 311.5h1.0v1.0h-1.0zM226.2 350.2h1.0v1.0h-1.0zM229.9 367.3h1.0v1.0h-1.0zM230.2 320.3h1.0v1.0h-1.0zM226.7 339.0h1.0v1.0h-1.0zM227.3 341.4h1.0v1.0h-1.0zM230.0 319.9h1.0v1.0h-1.0zM229.8 356.8h1.0v1.0h-1.0zM226.3 356.8h1.0v1.0h-1.0zM227.7 361.2h1.0v1.0h-1.0zM228.1 340.7h1.0v1.0h-1.0zM226.1 367.3h1.0v1.0h-1.0zM226.1 357.4h1.0v1.0h-1.0zM227.8 313.9h1.0v1.0h-1.0zM225.8 348.2h1.0v1.0h-1.0zM226.7 374.6h1.0v1.0h-1.0zM230.8 335.0h1.0v1.0h-1.0zM227.4 355.5h1.0v1.0h-1.0zM227.4 354.1h1.0v1.0h-1.0zM226.3 335.2h1.0v1.0h-1.0z"/>
<path fill="#e83850" d="M228.9 347.7h1.0v1.0h-1.0zM226.2 372.6h1.0v1.0h-1.0zM228.7 318.8h1.0v1.0h-1.0zM229.6 370.9h1.0v1.0h-1.0zM229.1 339.1h1.0v1.0h-1.0zM229.3 359.9h1.0v1.0h-1.0zM230.2 345.4h1.0v1.0h-1.0zM228.2 348.3h1.0v1.0h-1.0zM221.1 361.3h1.0v1.0h-1.0zM231.1 349.5h1.0v1.0h-1.0zM229.5 369.6h1.0v1.0h-1.0zM227.9 373.5h1.0v1.0h-1.0zM227.0 336.3h1.0v1.0h-1.0zM229.7 351.5h1.0v1.0h-1.0zM228.6 352.1h1.0v1.0h-1.0zM223.7 332.4h1.0v1.0h-1.0zM225.6 329.4h1.0v1.0h-1.0zM226.0 331.6h1.0v1.0h-1.0zM227.8 350.9h1.0v1.0h-1.0zM226.8 350.6h1.0v1.0h-1.0zM227.0 333.8h1.0v1.0h-1.0zM226.6 335.1h1.0v1.0h-1.0zM233.3 326.0h1.0v1.0h-1.0zM224.4 325.4h1.0v1.0h-1.0zM224.5 353.0h1.0v1.0h-1.0zM229.0 367.9h1.0v1.0h-1.0zM228.2 354.5h1.0v1.0h-1.0zM226.6 372.9h1.0v1.0h-1.0zM229.2 355.5h1.0v1.0h-1.0zM227.6 370.0h1.0v1.0h-1.0zM228.7 338.8h1.0v1.0h-1.0zM227.7 327.4h1.0v1.0h-1.0zM230.5 310.4h1.0v1.0h-1.0zM230.2 356.5h1.0v1.0h-1.0zM226.5 358.6h1.0v1.0h-1.0zM228.6 338.4h1.0v1.0h-1.0zM227.8 315.8h1.0v1.0h-1.0zM229.3 348.1h1.0v1.0h-1.0zM227.0 368.1h1.0v1.0h-1.0zM230.5 348.3h1.0v1.0h-1.0zM225.8 332.8h1.0v1.0h-1.0zM227.6 367.0h1.0v1.0h-1.0zM229.1 325.3h1.0v1.0h-1.0zM226.9 352.1h1.0v1.0h-1.0zM225.6 361.9h1.0v1.0h-1.0zM230.4 349.1h1.0v1.0h-1.0zM229.2 328.7h1.0v1.0h-1.0zM227.5 356.4h1.0v1.0h-1.0zM224.6 344.2h1.0v1.0h-1.0zM227.5 344.3h1.0v1.0h-1.0zM226.4 314.1h1.0v1.0h-1.0zM224.2 353.0h1.0v1.0h-1.0zM231.6 367.5h1.0v1.0h-1.0zM225.2 354.5h1.0v1.0h-1.0zM229.3 331.5h1.0v1.0h-1.0zM228.5 323.1h1.0v1.0h-1.0zM231.3 360.6h1.0v1.0h-1.0zM227.0 315.1h1.0v1.0h-1.0zM227.4 340.8h1.0v1.0h-1.0zM228.6 374.8h1.0v1.0h-1.0zM224.9 356.8h1.0v1.0h-1.0zM230.9 325.8h1.0v1.0h-1.0zM227.4 335.5h1.0v1.0h-1.0zM227.0 312.3h1.0v1.0h-1.0zM228.9 362.8h1.0v1.0h-1.0zM226.3 353.0h1.0v1.0h-1.0zM227.7 332.1h1.0v1.0h-1.0zM233.2 362.4h1.0v1.0h-1.0zM229.6 348.8h1.0v1.0h-1.0zM228.9 323.4h1.0v1.0h-1.0zM229.5 343.5h1.0v1.0h-1.0zM229.3 308.1h1.0v1.0h-1.0zM227.1 322.5h1.0v1.0h-1.0zM228.6 308.7h1.0v1.0h-1.0zM225.9 369.7h1.0v1.0h-1.0zM230.1 328.1h1.0v1.0h-1.0zM231.4 317.4h1.0v1.0h-1.0zM227.1 374.3h1.0v1.0h-1.0zM228.9 354.5h1.0v1.0h-1.0zM223.5 335.6h1.0v1.0h-1.0zM229.2 322.3h1.0v1.0h-1.0zM228.1 314.9h1.0v1.0h-1.0zM229.6 338.1h1.0v1.0h-1.0zM229.7 328.5h1.0v1.0h-1.0zM228.9 340.5h1.0v1.0h-1.0zM230.7 347.2h1.0v1.0h-1.0zM224.1 320.1h1.0v1.0h-1.0zM226.4 311.1h1.0v1.0h-1.0zM229.3 339.4h1.0v1.0h-1.0zM229.0 348.3h1.0v1.0h-1.0zM228.5 363.5h1.0v1.0h-1.0zM231.1 371.2h1.0v1.0h-1.0zM229.3 370.4h1.0v1.0h-1.0zM227.0 333.4h1.0v1.0h-1.0zM227.8 370.0h1.0v1.0h-1.0zM228.5 327.6h1.0v1.0h-1.0zM230.0 370.7h1.0v1.0h-1.0zM228.0 341.3h1.0v1.0h-1.0zM226.3 373.4h1.0v1.0h-1.0zM231.6 370.5h1.0v1.0h-1.0zM228.0 336.2h1.0v1.0h-1.0zM229.1 334.3h1.0v1.0h-1.0zM227.3 347.7h1.0v1.0h-1.0zM230.4 351.8h1.0v1.0h-1.0zM227.7 355.1h1.0v1.0h-1.0zM225.6 363.9h1.0v1.0h-1.0zM229.7 315.9h1.0v1.0h-1.0zM225.7 315.8h1.0v1.0h-1.0zM225.2 364.6h1.0v1.0h-1.0zM227.9 324.8h1.0v1.0h-1.0zM225.2 343.4h1.0v1.0h-1.0zM226.3 333.9h1.0v1.0h-1.0zM228.9 315.2h1.0v1.0h-1.0zM225.1 331.5h1.0v1.0h-1.0zM230.2 307.8h1.0v1.0h-1.0zM224.3 370.0h1.0v1.0h-1.0zM227.9 357.5h1.0v1.0h-1.0zM227.4 362.6h1.0v1.0h-1.0zM230.2 334.9h1.0v1.0h-1.0zM228.9 367.7h1.0v1.0h-1.0zM226.1 342.5h1.0v1.0h-1.0zM223.6 358.5h1.0v1.0h-1.0zM228.7 369.6h1.0v1.0h-1.0zM226.7 342.1h1.0v1.0h-1.0zM224.1 327.1h1.0v1.0h-1.0zM229.8 314.1h1.0v1.0h-1.0zM226.8 319.6h1.0v1.0h-1.0zM229.3 325.3h1.0v1.0h-1.0zM226.8 316.7h1.0v1.0h-1.0zM226.8 373.7h1.0v1.0h-1.0zM225.4 309.0h1.0v1.0h-1.0zM227.4 324.6h1.0v1.0h-1.0zM224.7 371.1h1.0v1.0h-1.0zM226.8 313.9h1.0v1.0h-1.0zM228.8 309.1h1.0v1.0h-1.0zM226.7 319.1h1.0v1.0h-1.0zM228.4 307.5h1.0v1.0h-1.0zM227.1 331.5h1.0v1.0h-1.0zM226.3 340.1h1.0v1.0h-1.0zM229.9 333.9h1.0v1.0h-1.0zM228.3 352.6h1.0v1.0h-1.0zM224.3 343.3h1.0v1.0h-1.0zM228.1 327.5h1.0v1.0h-1.0zM231.3 319.1h1.0v1.0h-1.0zM229.1 309.2h1.0v1.0h-1.0zM231.4 325.8h1.0v1.0h-1.0zM229.4 370.5h1.0v1.0h-1.0zM230.3 355.6h1.0v1.0h-1.0zM228.2 319.3h1.0v1.0h-1.0zM225.0 346.5h1.0v1.0h-1.0zM230.2 319.3h1.0v1.0h-1.0zM226.1 353.8h1.0v1.0h-1.0zM227.6 312.3h1.0v1.0h-1.0zM228.5 339.6h1.0v1.0h-1.0zM229.4 312.2h1.0v1.0h-1.0zM227.3 325.4h1.0v1.0h-1.0zM229.8 322.3h1.0v1.0h-1.0zM227.2 325.2h1.0v1.0h-1.0zM228.6 308.6h1.0v1.0h-1.0zM231.4 348.0h1.0v1.0h-1.0zM232.5 323.2h1.0v1.0h-1.0zM227.5 363.6h1.0v1.0h-1.0zM226.3 367.6h1.0v1.0h-1.0zM228.9 359.6h1.0v1.0h-1.0zM227.8 370.5h1.0v1.0h-1.0zM228.3 339.8h1.0v1.0h-1.0zM227.8 373.0h1.0v1.0h-1.0zM229.2 355.8h1.0v1.0h-1.0zM227.7 319.9h1.0v1.0h-1.0zM226.3 334.5h1.0v1.0h-1.0zM226.1 358.0h1.0v1.0h-1.0zM227.6 327.5h1.0v1.0h-1.0zM228.7 351.7h1.0v1.0h-1.0zM228.5 354.1h1.0v1.0h-1.0zM225.0 331.2h1.0v1.0h-1.0zM229.0 330.7h1.0v1.0h-1.0zM228.0 362.0h1.0v1.0h-1.0zM227.2 334.9h1.0v1.0h-1.0zM226.8 329.4h1.0v1.0h-1.0zM225.7 319.6h1.0v1.0h-1.0zM228.5 355.4h1.0v1.0h-1.0zM230.4 360.9h1.0v1.0h-1.0zM223.7 348.0h1.0v1.0h-1.0zM227.2 314.9h1.0v1.0h-1.0zM228.0 355.6h1.0v1.0h-1.0zM228.6 369.5h1.0v1.0h-1.0zM227.9 307.7h1.0v1.0h-1.0zM224.6 327.8h1.0v1.0h-1.0zM224.2 356.7h1.0v1.0h-1.0zM224.7 317.1h1.0v1.0h-1.0zM227.6 364.5h1.0v1.0h-1.0zM229.4 344.8h1.0v1.0h-1.0zM230.4 318.2h1.0v1.0h-1.0zM225.2 334.9h1.0v1.0h-1.0zM227.5 333.3h1.0v1.0h-1.0zM226.9 341.4h1.0v1.0h-1.0zM228.0 363.0h1.0v1.0h-1.0zM229.5 338.2h1.0v1.0h-1.0zM227.3 338.1h1.0v1.0h-1.0zM226.0 322.1h1.0v1.0h-1.0zM228.5 348.0h1.0v1.0h-1.0zM227.6 317.5h1.0v1.0h-1.0zM228.5 337.2h1.0v1.0h-1.0zM230.9 307.3h1.0v1.0h-1.0zM229.8 310.2h1.0v1.0h-1.0zM225.2 348.0h1.0v1.0h-1.0zM228.8 328.6h1.0v1.0h-1.0zM228.4 369.2h1.0v1.0h-1.0zM228.7 307.3h1.0v1.0h-1.0zM226.9 307.4h1.0v1.0h-1.0zM226.9 366.1h1.0v1.0h-1.0zM228.6 342.6h1.0v1.0h-1.0zM229.8 350.1h1.0v1.0h-1.0zM229.8 339.2h1.0v1.0h-1.0zM226.5 350.5h1.0v1.0h-1.0zM226.1 328.6h1.0v1.0h-1.0zM226.7 323.2h1.0v1.0h-1.0zM221.8 361.9h1.0v1.0h-1.0zM225.5 362.4h1.0v1.0h-1.0zM226.5 313.2h1.0v1.0h-1.0zM228.1 309.4h1.0v1.0h-1.0zM229.3 324.1h1.0v1.0h-1.0zM228.4 367.2h1.0v1.0h-1.0zM225.2 363.7h1.0v1.0h-1.0zM230.3 331.1h1.0v1.0h-1.0zM230.1 353.9h1.0v1.0h-1.0zM226.1 351.2h1.0v1.0h-1.0zM228.9 317.7h1.0v1.0h-1.0zM225.6 324.0h1.0v1.0h-1.0zM228.6 332.0h1.0v1.0h-1.0zM227.4 359.7h1.0v1.0h-1.0zM229.0 372.1h1.0v1.0h-1.0zM229.0 335.7h1.0v1.0h-1.0zM226.4 329.1h1.0v1.0h-1.0zM231.3 361.6h1.0v1.0h-1.0zM226.9 345.5h1.0v1.0h-1.0zM227.1 327.1h1.0v1.0h-1.0zM225.1 361.7h1.0v1.0h-1.0zM226.9 373.6h1.0v1.0h-1.0zM229.4 340.6h1.0v1.0h-1.0zM230.5 335.2h1.0v1.0h-1.0zM227.8 334.4h1.0v1.0h-1.0zM227.2 345.0h1.0v1.0h-1.0zM225.7 342.0h1.0v1.0h-1.0zM231.1 349.1h1.0v1.0h-1.0zM228.4 331.1h1.0v1.0h-1.0zM224.8 330.7h1.0v1.0h-1.0zM225.4 362.7h1.0v1.0h-1.0zM224.0 322.8h1.0v1.0h-1.0zM226.8 341.5h1.0v1.0h-1.0zM227.9 313.7h1.0v1.0h-1.0zM228.0 374.0h1.0v1.0h-1.0zM226.5 311.6h1.0v1.0h-1.0zM232.8 325.4h1.0v1.0h-1.0zM226.4 337.9h1.0v1.0h-1.0zM227.7 342.0h1.0v1.0h-1.0zM226.6 318.4h1.0v1.0h-1.0zM228.4 313.3h1.0v1.0h-1.0zM225.2 334.3h1.0v1.0h-1.0zM229.3 359.4h1.0v1.0h-1.0zM232.5 344.3h1.0v1.0h-1.0zM228.8 316.8h1.0v1.0h-1.0zM225.8 358.4h1.0v1.0h-1.0zM228.7 374.1h1.0v1.0h-1.0zM229.9 351.0h1.0v1.0h-1.0zM230.2 348.4h1.0v1.0h-1.0zM230.4 327.0h1.0v1.0h-1.0zM229.7 367.3h1.0v1.0h-1.0zM229.4 320.3h1.0v1.0h-1.0zM228.0 317.5h1.0v1.0h-1.0zM228.1 334.2h1.0v1.0h-1.0zM227.4 364.1h1.0v1.0h-1.0zM227.8 335.9h1.0v1.0h-1.0zM227.2 331.1h1.0v1.0h-1.0zM228.5 316.8h1.0v1.0h-1.0zM224.6 353.7h1.0v1.0h-1.0zM227.6 371.4h1.0v1.0h-1.0zM226.9 371.6h1.0v1.0h-1.0zM228.7 322.6h1.0v1.0h-1.0zM230.6 369.6h1.0v1.0h-1.0zM224.0 366.1h1.0v1.0h-1.0zM225.1 347.4h1.0v1.0h-1.0zM225.4 335.4h1.0v1.0h-1.0zM225.6 346.2h1.0v1.0h-1.0zM226.3 311.7h1.0v1.0h-1.0zM227.7 354.0h1.0v1.0h-1.0zM230.0 373.1h1.0v1.0h-1.0zM226.5 341.1h1.0v1.0h-1.0zM226.1 337.2h1.0v1.0h-1.0zM230.1 344.8h1.0v1.0h-1.0zM229.9 340.6h1.0v1.0h-1.0zM227.0 369.1h1.0v1.0h-1.0zM226.8 322.3h1.0v1.0h-1.0zM225.7 319.7h1.0v1.0h-1.0zM225.5 343.7h1.0v1.0h-1.0zM226.7 332.0h1.0v1.0h-1.0zM228.2 319.3h1.0v1.0h-1.0zM226.3 318.7h1.0v1.0h-1.0zM225.0 374.5h1.0v1.0h-1.0z"/>
<path fill="#501018" d="M234.0 365.6h1.0v1.0h-1.0zM224.0 325.4h1.0v1.0h-1.0zM226.5 328.5h1.0v1.0h-1.0zM225.1 358.0h1.0v1.0h-1.0zM228.9 353.0h1.0v1.0h-1.0zM227.8 344.2h1.0v1.0h-1.0zM229.1 328.6h1.0v1.0h-1.0zM226.0 319.6h1.0v1.0h-1.0zM226.5 310.6h1.0v1.0h-1.0zM225.8 324.3h1.0v1.0h-1.0zM227.2 363.9h1.0v1.0h-1.0zM224.3 324.8h1.0v1.0h-1.0zM226.9 374.7h1.0v1.0h-1.0zM229.7 341.2h1.0v1.0h-1.0zM227.4 357.4h1.0v1.0h-1.0zM228.0 319.0h1.0v1.0h-1.0zM227.2 374.4h1.0v1.0h-1.0zM228.8 342.0h1.0v1.0h-1.0zM228.6 366.3h1.0v1.0h-1.0zM225.6 340.6h1.0v1.0h-1.0zM227.1 374.5h1.0v1.0h-1.0zM228.3 371.6h1.0v1.0h-1.0zM224.0 332.7h1.0v1.0h-1.0zM227.9 345.4h1.0v1.0h-1.0zM226.8 371.2h1.0v1.0h-1.0zM228.9 358.9h1.0v1.0h-1.0zM227.5 358.7h1.0v1.0h-1.0zM223.4 357.3h1.0v1.0h-1.0zM227.1 313.9h1.0v1.0h-1.0zM225.4 308.9h1.0v1.0h-1.0zM225.1 332.5h1.0v1.0h-1.0zM225.6 339.7h1.0v1.0h-1.0zM227.1 321.2h1.0v1.0h-1.0zM225.2 359.5h1.0v1.0h-1.0zM229.4 330.2h1.0v1.0h-1.0zM226.2 315.7h1.0v1.0h-1.0zM226.5 319.7h1.0v1.0h-1.0zM226.0 330.5h1.0v1.0h-1.0zM228.9 328.5h1.0v1.0h-1.0zM230.0 307.2h1.0v1.0h-1.0zM223.6 321.8h1.0v1.0h-1.0zM226.5 320.3h1.0v1.0h-1.0zM229.1 336.1h1.0v1.0h-1.0zM226.1 340.4h1.0v1.0h-1.0zM227.9 321.7h1.0v1.0h-1.0zM226.6 319.5h1.0v1.0h-1.0zM222.9 320.5h1.0v1.0h-1.0zM227.3 351.5h1.0v1.0h-1.0zM227.5 352.1h1.0v1.0h-1.0zM223.5 367.8h1.0v1.0h-1.0zM229.8 370.2h1.0v1.0h-1.0zM229.3 328.3h1.0v1.0h-1.0zM230.8 361.2h1.0v1.0h-1.0zM226.7 348.1h1.0v1.0h-1.0zM230.7 350.8h1.0v1.0h-1.0zM226.0 333.4h1.0v1.0h-1.0zM226.6 309.3h1.0v1.0h-1.0zM222.4 363.8h1.0v1.0h-1.0zM225.6 307.4h1.0v1.0h-1.0zM225.7 346.7h1.0v1.0h-1.0zM231.7 311.8h1.0v1.0h-1.0zM229.9 332.7h1.0v1.0h-1.0zM228.5 311.7h1.0v1.0h-1.0zM227.5 312.3h1.0v1.0h-1.0zM227.4 309.4h1.0v1.0h-1.0zM225.5 335.3h1.0v1.0h-1.0zM226.3 358.8h1.0v1.0h-1.0zM227.2 361.8h1.0v1.0h-1.0zM229.1 310.8h1.0v1.0h-1.0zM228.3 361.2h1.0v1.0h-1.0zM228.9 335.5h1.0v1.0h-1.0zM226.6 372.8h1.0v1.0h-1.0zM230.7 339.5h1.0v1.0h-1.0zM228.2 324.9h1.0v1.0h-1.0zM225.9 365.9h1.0v1.0h-1.0zM226.2 354.2h1.0v1.0h-1.0zM228.0 331.7h1.0v1.0h-1.0zM228.8 365.5h1.0v1.0h-1.0zM225.1 312.4h1.0v1.0h-1.0zM229.1 323.7h1.0v1.0h-1.0zM227.2 313.3h1.0v1.0h-1.0zM229.5 308.9h1.0v1.0h-1.0zM230.5 349.9h1.0v1.0h-1.0zM230.4 368.4h1.0v1.0h-1.0zM225.7 371.6h1.0v1.0h-1.0zM226.5 322.9h1.0v1.0h-1.0zM226.5 357.6h1.0v1.0h-1.0zM225.8 330.9h1.0v1.0h-1.0zM228.4 352.0h1.0v1.0h-1.0zM225.3 348.8h1.0v1.0h-1.0zM229.5 320.0h1.0v1.0h-1.0zM227.7 308.4h1.0v1.0h-1.0zM227.8 366.2h1.0v1.0h-1.0zM228.9 331.4h1.0v1.0h-1.0zM227.7 340.8h1.0v1.0h-1.0zM226.4 355.3h1.0v1.0h-1.0zM227.3 357.6h1.0v1.0h-1.0zM224.3 352.9h1.0v1.0h-1.0zM228.0 343.7h1.0v1.0h-1.0zM226.8 322.1h1.0v1.0h-1.0zM226.4 329.1h1.0v1.0h-1.0zM230.2 358.3h1.0v1.0h-1.0zM229.3 328.3h1.0v1.0h-1.0zM229.5 369.4h1.0v1.0h-1.0zM225.8 326.7h1.0v1.0h-1.0zM226.3 374.0h1.0v1.0h-1.0zM229.3 367.0h1.0v1.0h-1.0zM226.4 329.2h1.0v1.0h-1.0zM227.5 350.3h1.0v1.0h-1.0zM226.0 372.8h1.0v1.0h-1.0zM227.2 363.9h1.0v1.0h-1.0zM228.6 350.8h1.0v1.0h-1.0zM226.7 327.1h1.0v1.0h-1.0zM227.9 346.4h1.0v1.0h-1.0zM224.2 354.5h1.0v1.0h-1.0zM225.9 334.3h1.0v1.0h-1.0zM224.7 332.4h1.0v1.0h-1.0zM230.5 319.8h1.0v1.0h-1.0zM230.8 327.2h1.0v1.0h-1.0zM226.7 348.6h1.0v1.0h-1.0zM225.4 362.7h1.0v1.0h-1.0zM227.1 336.3h1.0v1.0h-1.0zM226.6 307.6h1.0v1.0h-1.0zM230.0 308.4h1.0v1.0h-1.0zM227.5 351.2h1.0v1.0h-1.0zM229.9 338.4h1.0v1.0h-1.0zM229.6 364.8h1.0v1.0h-1.0zM228.5 365.2h1.0v1.0h-1.0zM228.3 318.3h1.0v1.0h-1.0zM230.3 352.6h1.0v1.0h-1.0zM229.6 324.8h1.0v1.0h-1.0zM226.6 357.4h1.0v1.0h-1.0zM223.0 320.2h1.0v1.0h-1.0zM226.3 356.4h1.0v1.0h-1.0zM229.2 328.4h1.0v1.0h-1.0zM227.2 368.4h1.0v1.0h-1.0zM229.2 350.3h1.0v1.0h-1.0zM230.0 328.2h1.0v1.0h-1.0zM229.4 307.9h1.0v1.0h-1.0zM228.3 326.2h1.0v1.0h-1.0zM225.7 347.4h1.0v1.0h-1.0zM226.4 352.5h1.0v1.0h-1.0zM228.6 364.8h1.0v1.0h-1.0zM226.2 316.2h1.0v1.0h-1.0zM226.9 313.8h1.0v1.0h-1.0zM229.3 357.6h1.0v1.0h-1.0zM224.9 347.6h1.0v1.0h-1.0zM226.4 338.6h1.0v1.0h-1.0zM230.1 373.9h1.0v1.0h-1.0zM223.5 348.4h1.0v1.0h-1.0zM231.4 324.5h1.0v1.0h-1.0zM227.4 350.0h1.0v1.0h-1.0zM225.7 366.9h1.0v1.0h-1.0zM228.9 346.8h1.0v1.0h-1.0zM225.2 338.4h1.0v1.0h-1.0zM226.6 307.9h1.0v1.0h-1.0zM227.6 373.7h1.0v1.0h-1.0zM231.6 326.1h1.0v1.0h-1.0zM226.4 308.2h1.0v1.0h-1.0zM231.2 347.2h1.0v1.0h-1.0zM228.1 340.5h1.0v1.0h-1.0zM228.9 324.0h1.0v1.0h-1.0zM227.3 323.1h1.0v1.0h-1.0zM231.4 317.9h1.0v1.0h-1.0zM228.5 351.6h1.0v1.0h-1.0zM226.8 312.2h1.0v1.0h-1.0zM225.1 340.3h1.0v1.0h-1.0zM226.4 326.8h1.0v1.0h-1.0zM228.8 374.9h1.0v1.0h-1.0zM229.4 339.3h1.0v1.0h-1.0zM226.6 313.7h1.0v1.0h-1.0zM228.9 370.9h1.0v1.0h-1.0zM227.3 359.5h1.0v1.0h-1.0zM231.6 343.6h1.0v1.0h-1.0zM225.4 322.9h1.0v1.0h-1.0zM229.9 315.2h1.0v1.0h-1.0zM227.3 369.1h1.0v1.0h-1.0zM231.5 371.1h1.0v1.0h-1.0zM227.8 362.5h1.0v1.0h-1.0zM225.6 316.0h1.0v1.0h-1.0zM230.2 340.3h1.0v1.0h-1.0zM227.6 372.7h1.0v1.0h-1.0zM229.4 347.5h1.0v1.0h-1.0zM228.2 359.5h1.0v1.0h-1.0zM225.4 346.7h1.0v1.0h-1.0zM229.5 370.1h1.0v1.0h-1.0zM223.9 339.0h1.0v1.0h-1.0zM229.4 340.4h1.0v1.0h-1.0zM224.8 321.4h1.0v1.0h-1.0z"/>
<path fill="#f490a4" d="M226.8 374.3h1.0v1.0h-1.0zM226.0 363.9h1.0v1.0h-1.0zM227.1 338.2h1.0v1.0h-1.0zM225.4 362.9h1.0v1.0h-1.0zM228.5 360.2h1.0v1.0h-1.0zM230.0 317.4h1.0v1.0h-1.0zM229.5 353.5h1.0v1.0h-1.0zM225.3 317.2h1.0v1.0h-1.0zM228.7 352.7h1.0v1.0h-1.0zM223.3 356.7h1.0v1.0h-1.0zM225.3 341.8h1.0v1.0h-1.0zM225.2 325.6h1.0v1.0h-1.0zM226.7 364.8h1.0v1.0h-1.0zM226.3 343.7h1.0v1.0h-1.0zM223.3 339.5h1.0v1.0h-1.0zM224.2 315.6h1.0v1.0h-1.0zM229.7 335.3h1.0v1.0h-1.0zM229.1 322.9h1.0v1.0h-1.0zM231.3 338.9h1.0v1.0h-1.0zM229.0 309.8h1.0v1.0h-1.0zM225.5 356.7h1.0v1.0h-1.0zM223.9 348.0h1.0v1.0h-1.0zM226.7 351.2h1.0v1.0h-1.0zM229.4 323.4h1.0v1.0h-1.0zM228.8 335.5h1.0v1.0h-1.0zM226.1 325.3h1.0v1.0h-1.0zM228.8 314.4h1.0v1.0h-1.0zM224.3 352.6h1.0v1.0h-1.0zM229.0 309.3h1.0v1.0h-1.0zM224.8 328.5h1.0v1.0h-1.0zM230.0 369.5h1.0v1.0h-1.0zM228.2 341.2h1.0v1.0h-1.0zM226.4 364.3h1.0v1.0h-1.0zM225.4 323.5h1.0v1.0h-1.0zM229.8 340.3h1.0v1.0h-1.0zM227.3 328.8h1.0v1.0h-1.0zM224.3 353.2h1.0v1.0h-1.0zM227.8 327.4h1.0v1.0h-1.0zM225.5 338.2h1.0v1.0h-1.0zM222.0 346.2h1.0v1.0h-1.0zM226.9 370.4h1.0v1.0h-1.0zM230.5 350.5h1.0v1.0h-1.0zM225.1 337.5h1.0v1.0h-1.0zM229.2 314.7h1.0v1.0h-1.0zM228.0 325.4h1.0v1.0h-1.0zM222.6 321.6h1.0v1.0h-1.0zM224.6 330.4h1.0v1.0h-1.0zM226.4 309.3h1.0v1.0h-1.0zM225.1 331.3h1.0v1.0h-1.0zM229.0 362.8h1.0v1.0h-1.0zM226.9 374.4h1.0v1.0h-1.0zM228.7 321.3h1.0v1.0h-1.0zM227.7 365.6h1.0v1.0h-1.0zM227.0 358.1h1.0v1.0h-1.0zM229.2 311.5h1.0v1.0h-1.0zM226.7 348.7h1.0v1.0h-1.0zM225.6 370.9h1.0v1.0h-1.0zM229.2 310.1h1.0v1.0h-1.0zM228.8 318.0h1.0v1.0h-1.0zM228.7 363.5h1.0v1.0h-1.0zM227.5 352.5h1.0v1.0h-1.0zM227.3 373.2h1.0v1.0h-1.0zM228.0 350.4h1.0v1.0h-1.0zM225.9 355.3h1.0v1.0h-1.0zM226.3 329.0h1.0v1.0h-1.0zM230.6 332.1h1.0v1.0h-1.0zM231.5 322.7h1.0v1.0h-1.0zM227.2 318.6h1.0v1.0h-1.0zM226.7 314.7h1.0v1.0h-1.0zM226.3 369.5h1.0v1.0h-1.0zM229.6 362.7h1.0v1.0h-1.0zM225.5 316.3h1.0v1.0h-1.0zM225.2 372.0h1.0v1.0h-1.0zM226.0 348.7h1.0v1.0h-1.0zM229.7 312.5h1.0v1.0h-1.0zM227.2 331.0h1.0v1.0h-1.0zM226.4 325.6h1.0v1.0h-1.0zM230.3 334.1h1.0v1.0h-1.0zM229.2 361.2h1.0v1.0h-1.0zM229.3 344.0h1.0v1.0h-1.0zM227.6 351.3h1.0v1.0h-1.0zM229.3 374.5h1.0v1.0h-1.0zM228.3 354.3h1.0v1.0h-1.0zM227.5 363.1h1.0v1.0h-1.0zM226.2 351.5h1.0v1.0h-1.0zM229.3 311.4h1.0v1.0h-1.0zM227.0 324.5h1.0v1.0h-1.0zM226.0 332.9h1.0v1.0h-1.0zM227.0 355.5h1.0v1.0h-1.0zM227.8 353.3h1.0v1.0h-1.0zM229.6 310.0h1.0v1.0h-1.0zM224.1 333.1h1.0v1.0h-1.0zM227.0 373.8h1.0v1.0h-1.0zM227.5 335.6h1.0v1.0h-1.0zM228.0 359.8h1.0v1.0h-1.0zM228.2 364.6h1.0v1.0h-1.0zM227.2 314.4h1.0v1.0h-1.0zM225.7 347.9h1.0v1.0h-1.0zM228.1 313.6h1.0v1.0h-1.0zM229.2 330.1h1.0v1.0h-1.0zM232.1 344.6h1.0v1.0h-1.0zM231.2 359.1h1.0v1.0h-1.0zM230.4 311.8h1.0v1.0h-1.0zM228.5 321.3h1.0v1.0h-1.0zM225.8 363.1h1.0v1.0h-1.0zM229.5 318.0h1.0v1.0h-1.0zM228.9 310.7h1.0v1.0h-1.0zM227.7 314.1h1.0v1.0h-1.0zM226.2 339.0h1.0v1.0h-1.0zM230.1 362.4h1.0v1.0h-1.0zM227.8 342.5h1.0v1.0h-1.0zM227.5 330.3h1.0v1.0h-1.0zM226.1 313.4h1.0v1.0h-1.0zM225.4 357.1h1.0v1.0h-1.0zM226.2 309.5h1.0v1.0h-1.0zM225.9 360.0h1.0v1.0h-1.0zM225.7 357.3h1.0v1.0h-1.0zM222.4 345.1h1.0v1.0h-1.0zM224.7 351.7h1.0v1.0h-1.0zM227.0 366.2h1.0v1.0h-1.0zM228.6 366.3h1.0v1.0h-1.0zM230.2 355.0h1.0v1.0h-1.0zM225.7 318.6h1.0v1.0h-1.0zM231.5 339.4h1.0v1.0h-1.0zM228.4 333.6h1.0v1.0h-1.0zM229.0 330.8h1.0v1.0h-1.0zM226.5 307.5h1.0v1.0h-1.0zM223.4 330.4h1.0v1.0h-1.0zM224.4 360.9h1.0v1.0h-1.0zM225.2 312.6h1.0v1.0h-1.0zM228.7 337.3h1.0v1.0h-1.0zM229.8 328.8h1.0v1.0h-1.0zM226.6 318.2h1.0v1.0h-1.0zM228.0 362.8h1.0v1.0h-1.0zM227.7 360.0h1.0v1.0h-1.0zM226.5 313.1h1.0v1.0h-1.0zM228.7 314.7h1.0v1.0h-1.0zM227.9 364.4h1.0v1.0h-1.0zM227.3 327.0h1.0v1.0h-1.0zM229.6 335.9h1.0v1.0h-1.0zM231.3 353.0h1.0v1.0h-1.0zM227.2 356.5h1.0v1.0h-1.0zM228.1 368.4h1.0v1.0h-1.0zM224.8 362.9h1.0v1.0h-1.0zM232.0 346.4h1.0v1.0h-1.0zM226.4 331.0h1.0v1.0h-1.0zM229.2 320.0h1.0v1.0h-1.0zM223.8 310.6h1.0v1.0h-1.0zM226.7 325.7h1.0v1.0h-1.0zM230.3 368.3h1.0v1.0h-1.0zM226.2 352.0h1.0v1.0h-1.0zM227.4 347.8h1.0v1.0h-1.0zM225.7 348.4h1.0v1.0h-1.0zM224.2 343.8h1.0v1.0h-1.0zM225.9 317.9h1.0v1.0h-1.0zM227.0 367.1h1.0v1.0h-1.0zM230.5 336.6h1.0v1.0h-1.0zM230.6 325.5h1.0v1.0h-1.0zM223.2 362.5h1.0v1.0h-1.0zM226.7 311.0h1.0v1.0h-1.0zM227.8 366.9h1.0v1.0h-1.0zM228.4 320.7h1.0v1.0h-1.0zM227.9 317.9h1.0v1.0h-1.0zM226.0 322.2h1.0v1.0h-1.0zM226.6 328.3h1.0v1.0h-1.0zM229.1 332.0h1.0v1.0h-1.0zM231.0 307.6h1.0v1.0h-1.0zM226.0 356.2h1.0v1.0h-1.0zM227.6 332.8h1.0v1.0h-1.0zM227.2 308.8h1.0v1.0h-1.0zM230.8 364.6h1.0v1.0h-1.0zM227.2 361.0h1.0v1.0h-1.0zM224.9 316.0h1.0v1.0h-1.0zM228.2 374.7h1.0v1.0h-1.0zM228.9 323.9h1.0v1.0h-1.0zM230.8 314.5h1.0v1.0h-1.0zM228.2 361.9h1.0v1.0h-1.0zM227.8 366.8h1.0v1.0h-1.0zM227.5 374.6h1.0v1.0h-1.0zM228.2 312.7h1.0v1.0h-1.0zM226.2 362.9h1.0v1.0h-1.0zM223.4 367.7h1.0v1.0h-1.0zM229.3 337.7h1.0v1.0h-1.0zM229.4 308.5h1.0v1.0h-1.0zM227.1 320.5h1.0v1.0h-1.0zM228.4 333.7h1.0v1.0h-1.0zM225.2 365.3h1.0v1.0h-1.0zM230.0 325.5h1.0v1.0h-1.0zM229.1 350.9h1.0v1.0h-1.0zM229.1 335.8h1.0v1.0h-1.0zM223.1 336.9h1.0v1.0h-1.0zM223.5 343.5h1.0v1.0h-1.0zM228.9 362.3h1.0v1.0h-1.0zM230.9 343.2h1.0v1.0h-1.0zM227.8 318.5h1.0v1.0h-1.0zM226.7 322.2h1.0v1.0h-1.0zM222.0 358.8h1.0v1.0h-1.0zM226.2 360.1h1.0v1.0h-1.0zM229.6 338.5h1.0v1.0h-1.0zM228.4 308.7h1.0v1.0h-1.0zM223.3 356.2h1.0v1.0h-1.0zM226.9 373.9h1.0v1.0h-1.0zM228.5 321.6h1.0v1.0h-1.0zM231.2 310.3h1.0v1.0h-1.0zM227.1 346.2h1.0v1.0h-1.0zM228.7 366.5h1.0v1.0h-1.0zM226.6 329.2h1.0v1.0h-1.0zM226.5 365.5h1.0v1.0h-1.0zM224.9 368.0h1.0v1.0h-1.0zM227.0 365.7h1.0v1.0h-1.0zM226.9 338.3h1.0v1.0h-1.0zM227.9 366.7h1.0v1.0h-1.0zM233.6 353.1h1.0v1.0h-1.0zM228.1 312.8h1.0v1.0h-1.0zM226.9 368.0h1.0v1.0h-1.0zM227.0 334.3h1.0v1.0h-1.0zM224.5 338.9h1.0v1.0h-1.0zM227.2 359.0h1.0v1.0h-1.0zM227.9 350.1h1.0v1.0h-1.0zM226.6 318.3h1.0v1.0h-1.0zM229.0 352.1h1.0v1.0h-1.0zM226.4 356.0h1.0v1.0h-1.0zM227.4 368.2h1.0v1.0h-1.0zM230.6 362.0h1.0v1.0h-1.0zM225.0 344.4h1.0v1.0h-1.0zM226.0 353.3h1.0v1.0h-1.0zM229.2 328.9h1.0v1.0h-1.0zM222.8 330.2h1.0v1.0h-1.0zM227.9 312.8h1.0v1.0h-1.0zM227.1 318.6h1.0v1.0h-1.0zM228.8 308.9h1.0v1.0h-1.0zM226.4 320.1h1.0v1.0h-1.0zM229.9 354.2h1.0v1.0h-1.0zM228.0 310.8h1.0v1.0h-1.0zM226.8 354.7h1.0v1.0h-1.0zM230.7 354.6h1.0v1.0h-1.0zM229.5 312.2h1.0v1.0h-1.0zM227.6 323.9h1.0v1.0h-1.0zM229.5 309.3h1.0v1.0h-1.0zM227.3 333.2h1.0v1.0h-1.0zM227.0 343.9h1.0v1.0h-1.0zM226.4 357.4h1.0v1.0h-1.0zM230.2 363.8h1.0v1.0h-1.0zM225.4 320.9h1.0v1.0h-1.0zM226.5 318.8h1.0v1.0h-1.0zM227.5 324.2h1.0v1.0h-1.0zM223.7 374.3h1.0v1.0h-1.0zM227.4 334.4h1.0v1.0h-1.0zM225.7 339.0h1.0v1.0h-1.0zM230.1 329.9h1.0v1.0h-1.0zM226.2 340.4h1.0v1.0h-1.0zM226.5 325.7h1.0v1.0h-1.0zM230.2 317.1h1.0v1.0h-1.0zM221.4 327.5h1.0v1.0h-1.0zM232.9 372.0h1.0v1.0h-1.0zM226.2 313.6h1.0v1.0h-1.0zM230.8 363.3h1.0v1.0h-1.0zM221.3 313.4h1.0v1.0h-1.0zM227.9 332.1h1.0v1.0h-1.0z"/>
<rect x="59.4" y="185.9" width="83.9" height="84.99999999999997" fill="none" stroke="#505656" stroke-width="0.8"/>
<line x1="85.5" y1="185.9" x2="85.5" y2="270.9" stroke="#4a5454" stroke-width="0.9"/>
<line x1="59.4" y1="244.0" x2="143.3" y2="244.0" stroke="#4a5454" stroke-width="0.9"/>
<text x="86.5" y="192.4" font-size="6.3" font-weight="bold" textLength="14.2" lengthAdjust="spacingAndGlyphs" fill="#111">4,5%</text>
<text x="59.4" y="276.5" font-size="5.2" text-anchor="middle" fill="#222">10<tspan font-size="3.4" dy="-1.8">0</tspan></text>
<text x="58.0" y="270.9" font-size="5.2" text-anchor="middle" transform="rotate(-90 58.0 270.9)" fill="#222">10<tspan font-size="3.4" dy="-1.8">0</tspan></text>
<text x="80.375" y="276.5" font-size="5.2" text-anchor="middle" fill="#222">10<tspan font-size="3.4" dy="-1.8">1</tspan></text>
<text x="58.0" y="249.64999999999998" font-size="5.2" text-anchor="middle" transform="rotate(-90 58.0 249.64999999999998)" fill="#222">10<tspan font-size="3.4" dy="-1.8">1</tspan></text>
<text x="101.35" y="276.5" font-size="5.2" text-anchor="middle" fill="#222">10<tspan font-size="3.4" dy="-1.8">2</tspan></text>
<text x="58.0" y="228.39999999999998" font-size="5.2" text-anchor="middle" transform="rotate(-90 58.0 228.39999999999998)" fill="#222">10<tspan font-size="3.4" dy="-1.8">2</tspan></text>
<text x="122.325" y="276.5" font-size="5.2" text-anchor="middle" fill="#222">10<tspan font-size="3.4" dy="-1.8">3</tspan></text>
<text x="58.0" y="207.15" font-size="5.2" text-anchor="middle" transform="rotate(-90 58.0 207.15)" fill="#222">10<tspan font-size="3.4" dy="-1.8">3</tspan></text>
<text x="143.3" y="276.5" font-size="5.2" text-anchor="middle" fill="#222">10<tspan font-size="3.4" dy="-1.8">4</tspan></text>
<text x="58.0" y="185.9" font-size="5.2" text-anchor="middle" transform="rotate(-90 58.0 185.9)" fill="#222">10<tspan font-size="3.4" dy="-1.8">4</tspan></text>
<text x="101.35000000000001" y="283.09999999999997" font-size="5.0" text-anchor="middle" fill="#222">GFP</text>
<text x="52.0" y="227.59999999999997" font-size="5.3" text-anchor="middle" textLength="5" lengthAdjust="spacingAndGlyphs" transform="rotate(-90 52.0 227.59999999999997)" fill="#222">PE</text>
<rect x="163.0" y="185.9" width="84.4" height="84.99999999999997" fill="none" stroke="#505656" stroke-width="0.8"/>
<line x1="189.1" y1="185.9" x2="189.1" y2="270.9" stroke="#4a5454" stroke-width="0.9"/>
<line x1="163.0" y1="244.2" x2="247.4" y2="244.2" stroke="#4a5454" stroke-width="0.9"/>
<text x="190.1" y="192.4" font-size="6.3" font-weight="bold" textLength="17.75" lengthAdjust="spacingAndGlyphs" fill="#111">30,4%</text>
<text x="163.0" y="276.5" font-size="5.2" text-anchor="middle" fill="#222">10<tspan font-size="3.4" dy="-1.8">0</tspan></text>
<text x="161.6" y="270.9" font-size="5.2" text-anchor="middle" transform="rotate(-90 161.6 270.9)" fill="#222">10<tspan font-size="3.4" dy="-1.8">0</tspan></text>
<text x="184.1" y="276.5" font-size="5.2" text-anchor="middle" fill="#222">10<tspan font-size="3.4" dy="-1.8">1</tspan></text>
<text x="161.6" y="249.64999999999998" font-size="5.2" text-anchor="middle" transform="rotate(-90 161.6 249.64999999999998)" fill="#222">10<tspan font-size="3.4" dy="-1.8">1</tspan></text>
<text x="205.2" y="276.5" font-size="5.2" text-anchor="middle" fill="#222">10<tspan font-size="3.4" dy="-1.8">2</tspan></text>
<text x="161.6" y="228.39999999999998" font-size="5.2" text-anchor="middle" transform="rotate(-90 161.6 228.39999999999998)" fill="#222">10<tspan font-size="3.4" dy="-1.8">2</tspan></text>
<text x="226.3" y="276.5" font-size="5.2" text-anchor="middle" fill="#222">10<tspan font-size="3.4" dy="-1.8">3</tspan></text>
<text x="161.6" y="207.15" font-size="5.2" text-anchor="middle" transform="rotate(-90 161.6 207.15)" fill="#222">10<tspan font-size="3.4" dy="-1.8">3</tspan></text>
<text x="247.4" y="276.5" font-size="5.2" text-anchor="middle" fill="#222">10<tspan font-size="3.4" dy="-1.8">4</tspan></text>
<text x="161.6" y="185.9" font-size="5.2" text-anchor="middle" transform="rotate(-90 161.6 185.9)" fill="#222">10<tspan font-size="3.4" dy="-1.8">4</tspan></text>
<text x="205.2" y="283.09999999999997" font-size="5.0" text-anchor="middle" fill="#222">GFP</text>
<text x="155.6" y="227.59999999999997" font-size="5.3" text-anchor="middle" textLength="5" lengthAdjust="spacingAndGlyphs" transform="rotate(-90 155.6 227.59999999999997)" fill="#222">PE</text>
<rect x="59.7" y="292.0" width="84.10000000000001" height="84.10000000000002" fill="none" stroke="#505656" stroke-width="0.8"/>
<line x1="86.0" y1="292.0" x2="86.0" y2="376.1" stroke="#4a5454" stroke-width="0.9"/>
<line x1="59.7" y1="349.5" x2="143.8" y2="349.5" stroke="#4a5454" stroke-width="0.9"/>
<text x="87.0" y="298.5" font-size="6.3" font-weight="bold" textLength="14.2" lengthAdjust="spacingAndGlyphs" fill="#111">1,5%</text>
<text x="59.7" y="381.70000000000005" font-size="5.2" text-anchor="middle" fill="#222">10<tspan font-size="3.4" dy="-1.8">0</tspan></text>
<text x="58.300000000000004" y="376.1" font-size="5.2" text-anchor="middle" transform="rotate(-90 58.300000000000004 376.1)" fill="#222">10<tspan font-size="3.4" dy="-1.8">0</tspan></text>
<text x="80.72500000000001" y="381.70000000000005" font-size="5.2" text-anchor="middle" fill="#222">10<tspan font-size="3.4" dy="-1.8">1</tspan></text>
<text x="58.300000000000004" y="355.07500000000005" font-size="5.2" text-anchor="middle" transform="rotate(-90 58.300000000000004 355.07500000000005)" fill="#222">10<tspan font-size="3.4" dy="-1.8">1</tspan></text>
<text x="101.75" y="381.70000000000005" font-size="5.2" text-anchor="middle" fill="#222">10<tspan font-size="3.4" dy="-1.8">2</tspan></text>
<text x="58.300000000000004" y="334.05" font-size="5.2" text-anchor="middle" transform="rotate(-90 58.300000000000004 334.05)" fill="#222">10<tspan font-size="3.4" dy="-1.8">2</tspan></text>
<text x="122.775" y="381.70000000000005" font-size="5.2" text-anchor="middle" fill="#222">10<tspan font-size="3.4" dy="-1.8">3</tspan></text>
<text x="58.300000000000004" y="313.025" font-size="5.2" text-anchor="middle" transform="rotate(-90 58.300000000000004 313.025)" fill="#222">10<tspan font-size="3.4" dy="-1.8">3</tspan></text>
<text x="143.8" y="381.70000000000005" font-size="5.2" text-anchor="middle" fill="#222">10<tspan font-size="3.4" dy="-1.8">4</tspan></text>
<text x="58.300000000000004" y="292.0" font-size="5.2" text-anchor="middle" transform="rotate(-90 58.300000000000004 292.0)" fill="#222">10<tspan font-size="3.4" dy="-1.8">4</tspan></text>
<text x="101.75" y="388.3" font-size="5.0" text-anchor="middle" fill="#222">GFP</text>
<text x="52.300000000000004" y="333.25" font-size="5.3" text-anchor="middle" textLength="5" lengthAdjust="spacingAndGlyphs" transform="rotate(-90 52.300000000000004 333.25)" fill="#222">PE</text>
<rect x="163.5" y="291.0" width="84.1" height="85.0" fill="none" stroke="#505656" stroke-width="0.8"/>
<line x1="191.1" y1="291.0" x2="191.1" y2="376.0" stroke="#4a5454" stroke-width="0.9"/>
<line x1="163.5" y1="348.7" x2="247.6" y2="348.7" stroke="#4a5454" stroke-width="0.9"/>
<text x="192.1" y="297.5" font-size="6.3" font-weight="bold" textLength="17.75" lengthAdjust="spacingAndGlyphs" fill="#111">25,3%</text>
<text x="163.5" y="381.6" font-size="5.2" text-anchor="middle" fill="#222">10<tspan font-size="3.4" dy="-1.8">0</tspan></text>
<text x="162.1" y="376.0" font-size="5.2" text-anchor="middle" transform="rotate(-90 162.1 376.0)" fill="#222">10<tspan font-size="3.4" dy="-1.8">0</tspan></text>
<text x="184.525" y="381.6" font-size="5.2" text-anchor="middle" fill="#222">10<tspan font-size="3.4" dy="-1.8">1</tspan></text>
<text x="162.1" y="354.75" font-size="5.2" text-anchor="middle" transform="rotate(-90 162.1 354.75)" fill="#222">10<tspan font-size="3.4" dy="-1.8">1</tspan></text>
<text x="205.55" y="381.6" font-size="5.2" text-anchor="middle" fill="#222">10<tspan font-size="3.4" dy="-1.8">2</tspan></text>
<text x="162.1" y="333.5" font-size="5.2" text-anchor="middle" transform="rotate(-90 162.1 333.5)" fill="#222">10<tspan font-size="3.4" dy="-1.8">2</tspan></text>
<text x="226.575" y="381.6" font-size="5.2" text-anchor="middle" fill="#222">10<tspan font-size="3.4" dy="-1.8">3</tspan></text>
<text x="162.1" y="312.25" font-size="5.2" text-anchor="middle" transform="rotate(-90 162.1 312.25)" fill="#222">10<tspan font-size="3.4" dy="-1.8">3</tspan></text>
<text x="247.6" y="381.6" font-size="5.2" text-anchor="middle" fill="#222">10<tspan font-size="3.4" dy="-1.8">4</tspan></text>
<text x="162.1" y="291.0" font-size="5.2" text-anchor="middle" transform="rotate(-90 162.1 291.0)" fill="#222">10<tspan font-size="3.4" dy="-1.8">4</tspan></text>
<text x="205.55" y="388.2" font-size="5.0" text-anchor="middle" fill="#222">GFP</text>
<text x="156.1" y="332.7" font-size="5.3" text-anchor="middle" textLength="5" lengthAdjust="spacingAndGlyphs" transform="rotate(-90 156.1 332.7)" fill="#222">PE</text>
<text x="46.8" y="229.4" font-size="9.0" text-anchor="middle" font-weight="bold" textLength="15" lengthAdjust="spacingAndGlyphs" transform="rotate(-90 46.8 229.4)" fill="#111">Gr-1</text>
<line x1="42.8" y1="189.7" x2="42.8" y2="220.9" stroke="#3a3a3a" stroke-width="0.9"/>
<line x1="42.8" y1="237.9" x2="42.8" y2="271" stroke="#3a3a3a" stroke-width="0.9"/>
<path d="M41.3 190.89999999999998 L42.8 187.7 L44.3 190.89999999999998 Z" fill="#333"/>
<text x="46.8" y="339.5" font-size="9.0" text-anchor="middle" font-weight="bold" textLength="15" lengthAdjust="spacingAndGlyphs" transform="rotate(-90 46.8 339.5)" fill="#111">Gr-1</text>
<line x1="42.8" y1="295" x2="42.8" y2="331.0" stroke="#3a3a3a" stroke-width="0.9"/>
<line x1="42.8" y1="348.0" x2="42.8" y2="376.7" stroke="#3a3a3a" stroke-width="0.9"/>
<path d="M41.3 296.2 L42.8 293 L44.3 296.2 Z" fill="#333"/>
<text x="286.0" y="170" font-size="17.8" textLength="11.3" lengthAdjust="spacingAndGlyphs" fill="#000" stroke="#000" stroke-width="0.6">D</text>
<text x="348" y="178.3" font-size="10.6" text-anchor="middle" textLength="30.6" lengthAdjust="spacingAndGlyphs" fill="#000">Vehicle</text>
<text x="442.4" y="178.6" font-size="10.6" text-anchor="middle" textLength="20.8" lengthAdjust="spacingAndGlyphs" fill="#000">4-HT</text>
<text x="280.5" y="230" font-size="10" text-anchor="middle" textLength="22.4" lengthAdjust="spacingAndGlyphs" fill="#000">Bone</text>
<text x="279.6" y="242.3" font-size="10" text-anchor="middle" textLength="32.7" lengthAdjust="spacingAndGlyphs" fill="#000">Marrow</text>
<text x="278.4" y="342.9" font-size="10" text-anchor="middle" textLength="31.1" lengthAdjust="spacingAndGlyphs" fill="#000">Spleen</text>
<line x1="310.3" y1="187.5" x2="310.3" y2="271.4" stroke="#d4d4d4" stroke-width="0.9"/>
<line x1="310.3" y1="271.4" x2="401.3" y2="271.4" stroke="#c8c8c8" stroke-width="0.8"/>
<line x1="401.3" y1="187.5" x2="401.3" y2="271.4" stroke="#8a4050" stroke-width="1.0"/>
<text x="308.5" y="189.0" font-size="7" text-anchor="middle" font-weight="bold" textLength="10.2" lengthAdjust="spacingAndGlyphs" transform="rotate(-90 308.5 189.0)" fill="#1a1a1a">654</text>
<text x="308.5" y="224.8" font-size="6.8" text-anchor="middle" font-weight="bold" textLength="19.6" lengthAdjust="spacingAndGlyphs" transform="rotate(-90 308.5 224.8)" fill="#1a1a1a">Events</text>
<text x="308.40000000000003" y="272.2" font-size="7.2" text-anchor="middle" transform="rotate(-90 308.40000000000003 272.2)" fill="#1a1a1a">0</text>
<text x="311.1" y="278.59999999999997" font-size="7.2" text-anchor="middle" textLength="3.6" lengthAdjust="spacingAndGlyphs" fill="#1a1a1a">0</text>
<text x="357.0" y="278.59999999999997" font-size="7.2" text-anchor="middle" textLength="5.6" lengthAdjust="spacingAndGlyphs" fill="#1a1a1a">PI</text>
<text x="401.3" y="278.59999999999997" font-size="7.2" text-anchor="middle" textLength="14" lengthAdjust="spacingAndGlyphs" fill="#1a1a1a">1000</text>
<path d="M313.0 271.4L313.0 271.0L313.2 270.8L313.5 270.8L313.8 270.9L314.0 271.0L314.2 270.9L314.5 270.9L314.8 271.0L315.0 270.9L315.2 270.7L315.5 270.8L315.8 271.0L316.0 270.9L316.2 271.0L316.5 270.9L316.8 270.9L317.0 270.9L317.2 271.0L317.5 271.0L317.8 270.9L318.0 270.9L318.2 270.8L318.5 270.9L318.8 270.9L319.0 270.7L319.2 270.9L319.5 270.9L319.8 270.8L320.0 270.8L320.2 271.0L320.5 270.9L320.8 271.0L321.0 270.9L321.2 270.9L321.5 270.9L321.8 271.0L322.0 270.9L322.2 270.8L322.5 271.0L322.8 270.9L323.0 270.9L323.2 271.0L323.5 270.8L323.8 270.8L324.0 270.9L324.2 270.9L324.5 270.7L324.8 271.0L325.0 270.9L325.2 270.9L325.5 270.8L325.8 270.9L326.0 270.9L326.2 270.9L326.5 270.9L326.8 270.8L327.0 270.9L327.2 270.9L327.5 270.7L327.8 270.9L328.0 271.0L328.2 270.9L328.5 270.9L328.8 271.0L329.0 270.9L329.2 270.9L329.5 270.9L329.8 271.0L330.0 270.9L330.2 270.9L330.5 270.8L330.8 270.9L331.0 271.0L331.2 270.9L331.5 270.8L331.8 270.7L332.0 270.8L332.2 270.9L332.5 270.9L332.8 271.0L333.0 270.8L333.2 270.8L333.5 270.8L333.8 270.9L334.0 270.8L334.2 270.8L334.5 271.0L334.8 270.8L335.0 271.0L335.2 270.8L335.5 270.7L335.8 270.7L336.0 270.9L336.2 270.9L336.5 270.8L336.8 270.9L337.0 270.9L337.2 271.0L337.5 271.0L337.8 271.0L338.0 270.9L338.2 270.9L338.5 270.9L338.8 270.8L339.0 269.2L339.2 261.9L339.5 252.2L339.8 247.6L340.0 244.8L340.2 240.8L340.5 235.3L340.8 228.2L341.0 219.5L341.2 211.0L341.5 203.0L341.8 197.4L342.0 195.4L342.2 196.3L342.5 199.5L342.8 204.3L343.0 210.3L343.2 216.7L343.5 224.0L343.8 230.9L344.0 237.4L344.2 242.7L344.5 248.2L344.8 251.9L345.0 255.7L345.2 258.6L345.5 259.7L345.8 260.9L346.0 261.8L346.2 262.4L346.5 262.8L346.8 263.1L347.0 263.0L347.2 263.4L347.5 263.5L347.8 264.1L348.0 263.9L348.2 264.0L348.5 264.2L348.8 263.9L349.0 264.2L349.2 264.5L349.5 264.5L349.8 264.5L350.0 263.7L350.2 264.6L350.5 264.6L350.8 264.2L351.0 264.4L351.2 264.4L351.5 264.4L351.8 263.8L352.0 264.4L352.2 263.9L352.5 263.8L352.8 264.4L353.0 264.7L353.2 264.6L353.5 264.6L353.8 264.6L354.0 264.8L354.2 264.8L354.5 264.2L354.8 264.8L355.0 264.6L355.2 264.9L355.5 264.7L355.8 264.7L356.0 264.6L356.2 264.9L356.5 264.9L356.8 265.0L357.0 264.8L357.2 265.0L357.5 264.8L357.8 264.9L358.0 265.1L358.2 264.8L358.5 264.5L358.8 264.7L359.0 264.8L359.2 264.8L359.5 265.1L359.8 264.9L360.0 265.0L360.2 264.9L360.5 264.7L360.8 264.8L361.0 264.6L361.2 265.2L361.5 264.7L361.8 265.3L362.0 264.5L362.2 264.4L362.5 264.6L362.8 265.1L363.0 265.1L363.2 264.6L363.5 265.2L363.8 264.9L364.0 265.2L364.2 265.3L364.5 264.9L364.8 265.3L365.0 265.3L365.2 265.4L365.5 265.1L365.8 265.0L366.0 265.1L366.2 265.2L366.5 264.9L366.8 265.2L367.0 264.5L367.2 264.8L367.5 264.9L367.8 264.6L368.0 264.5L368.2 264.3L368.5 264.0L368.8 262.3L369.0 262.8L369.2 261.6L369.5 260.8L369.8 259.4L370.0 258.3L370.2 257.4L370.5 256.2L370.8 254.6L371.0 254.2L371.2 252.7L371.5 252.2L371.8 250.7L372.0 251.2L372.2 251.0L372.5 251.3L372.8 252.0L373.0 252.8L373.2 253.8L373.5 255.0L373.8 257.3L374.0 259.0L374.2 260.6L374.5 261.9L374.8 263.0L375.0 265.0L375.2 266.0L375.5 266.9L375.8 267.8L376.0 268.3L376.2 269.1L376.5 269.6L376.8 269.7L377.0 270.1L377.2 270.3L377.5 270.5L377.8 270.4L378.0 270.6L378.2 270.6L378.5 270.5L378.8 270.6L379.0 270.7L379.2 270.8L379.5 270.6L379.8 270.6L380.0 270.7L380.2 270.6L380.5 270.7L380.8 270.7L381.0 270.5L381.2 270.7L381.5 270.8L381.8 270.7L382.0 270.8L382.2 270.8L382.5 270.7L382.8 270.8L383.0 270.6L383.2 270.8L383.5 270.8L383.8 270.7L384.0 270.6L384.2 270.7L384.5 270.6L384.8 270.7L385.0 270.8L385.2 270.7L385.5 270.7L385.8 270.8L386.0 270.7L386.2 270.8L386.5 270.6L386.8 270.6L387.0 270.7L387.2 270.6L387.5 270.8L387.8 270.7L388.0 270.8L388.2 270.6L388.5 270.7L388.8 270.3L389.0 270.6L389.2 270.7L389.5 270.8L389.8 270.8L390.0 270.5L390.2 270.6L390.5 270.7L390.8 270.8L391.0 270.6L391.2 270.7L391.5 270.8L391.8 270.4L392.0 270.7L392.2 270.7L392.5 270.8L392.8 270.8L393.0 270.7L393.2 270.8L393.5 270.7L393.8 270.8L394.0 270.4L394.2 270.6L394.5 270.4L394.8 270.8L395.0 270.7L395.2 270.7L395.5 270.8L395.8 270.5L396.0 270.7L396.2 270.7L396.5 270.8L396.8 270.8L397.0 270.7L397.2 270.6L397.5 270.7L397.8 270.7L398.0 270.6L398.2 270.8L398.5 270.8L398.8 270.7L399.0 270.7L399.2 270.7L399.5 270.4L399.8 270.6L400.0 270.7L400.2 270.8L400.2 271.4Z" fill="#ee1010"/>
<line x1="317.2" y1="261.5" x2="338" y2="261.5" stroke="#bcbcbc" stroke-width="0.75"/>
<line x1="313.4" y1="264.8" x2="338" y2="264.8" stroke="#bcbcbc" stroke-width="0.75"/>
<line x1="345" y1="250.4" x2="366" y2="250.4" stroke="#bcbcbc" stroke-width="0.75"/>
<line x1="313" y1="271.0" x2="339" y2="271.0" stroke="#7a3434" stroke-width="0.8"/>
<text x="344.6" y="221.10000000000002" font-size="7.6" font-weight="bold" textLength="39.6" lengthAdjust="spacingAndGlyphs" fill="#111">GO/G1:45,5%</text>
<text x="349" y="256.2" font-size="7.6" font-weight="bold" textLength="17.9" lengthAdjust="spacingAndGlyphs" fill="#111">S:35%</text>
<text x="366.2" y="249.20000000000002" font-size="7.6" font-weight="bold" textLength="29.4" lengthAdjust="spacingAndGlyphs" fill="#111">G2/M:19%</text>
<line x1="420.8" y1="187.5" x2="420.8" y2="271.4" stroke="#d4d4d4" stroke-width="0.9"/>
<line x1="420.8" y1="271.4" x2="515.0" y2="271.4" stroke="#c8c8c8" stroke-width="0.8"/>
<line x1="515.0" y1="265.5" x2="515.0" y2="271.4" stroke="#b8b8b8" stroke-width="1.0"/>
<text x="419.0" y="189.0" font-size="7" text-anchor="middle" font-weight="bold" textLength="10.2" lengthAdjust="spacingAndGlyphs" transform="rotate(-90 419.0 189.0)" fill="#1a1a1a">654</text>
<text x="419.0" y="224.8" font-size="6.8" text-anchor="middle" font-weight="bold" textLength="19.6" lengthAdjust="spacingAndGlyphs" transform="rotate(-90 419.0 224.8)" fill="#1a1a1a">Events</text>
<text x="418.90000000000003" y="272.2" font-size="7.2" text-anchor="middle" transform="rotate(-90 418.90000000000003 272.2)" fill="#1a1a1a">0</text>
<text x="421.6" y="278.59999999999997" font-size="7.2" text-anchor="middle" textLength="3.6" lengthAdjust="spacingAndGlyphs" fill="#1a1a1a">0</text>
<text x="469.09999999999997" y="278.59999999999997" font-size="7.2" text-anchor="middle" textLength="5.6" lengthAdjust="spacingAndGlyphs" fill="#1a1a1a">PI</text>
<text x="515.0" y="278.59999999999997" font-size="7.2" text-anchor="middle" textLength="14" lengthAdjust="spacingAndGlyphs" fill="#1a1a1a">1000</text>
<path d="M424.0 271.4L424.0 270.9L424.2 271.0L424.5 271.0L424.8 270.7L425.0 271.1L425.2 271.0L425.5 270.9L425.8 270.8L426.0 270.9L426.2 270.9L426.5 270.8L426.8 271.0L427.0 271.1L427.2 271.0L427.5 271.1L427.8 271.1L428.0 270.9L428.2 271.0L428.5 271.0L428.8 271.0L429.0 271.0L429.2 271.1L429.5 271.1L429.8 271.1L430.0 271.0L430.2 271.0L430.5 271.0L430.8 271.0L431.0 270.8L431.2 271.1L431.5 271.0L431.8 271.0L432.0 271.0L432.2 271.0L432.5 271.1L432.8 271.1L433.0 271.0L433.2 270.9L433.5 271.0L433.8 271.1L434.0 270.9L434.2 270.7L434.5 271.0L434.8 271.0L435.0 271.0L435.2 271.0L435.5 271.0L435.8 270.9L436.0 271.0L436.2 271.0L436.5 271.0L436.8 271.0L437.0 271.0L437.2 271.1L437.5 271.0L437.8 271.1L438.0 271.1L438.2 271.0L438.5 271.1L438.8 271.0L439.0 270.9L439.2 271.0L439.5 270.9L439.8 271.0L440.0 271.1L440.2 271.0L440.5 271.1L440.8 271.0L441.0 271.1L441.2 270.9L441.5 271.1L441.8 270.9L442.0 271.1L442.2 270.9L442.5 270.9L442.8 271.1L443.0 271.1L443.2 270.9L443.5 271.0L443.8 270.8L444.0 270.9L444.2 270.8L444.5 271.0L444.8 271.0L445.0 269.9L445.2 266.0L445.5 263.0L445.8 261.3L446.0 258.8L446.2 254.3L446.5 247.0L446.8 237.6L447.0 226.6L447.2 217.0L447.5 211.8L447.8 212.0L448.0 216.0L448.2 222.9L448.5 231.5L448.8 240.0L449.0 248.0L449.2 254.4L449.5 259.3L449.8 262.4L450.0 264.5L450.2 266.3L450.5 267.1L450.8 267.4L451.0 267.1L451.2 268.3L451.5 268.0L451.8 267.5L452.0 268.5L452.2 268.9L452.5 269.0L452.8 267.9L453.0 268.8L453.2 268.4L453.5 268.9L453.8 268.9L454.0 268.9L454.2 268.6L454.5 268.9L454.8 268.7L455.0 269.2L455.2 269.3L455.5 269.0L455.8 268.6L456.0 269.3L456.2 268.9L456.5 268.8L456.8 268.9L457.0 269.2L457.2 268.4L457.5 269.4L457.8 268.9L458.0 269.3L458.2 268.8L458.5 268.9L458.8 269.1L459.0 269.3L459.2 269.2L459.5 269.3L459.8 268.9L460.0 269.4L460.2 269.3L460.5 268.9L460.8 268.9L461.0 269.1L461.2 269.3L461.5 269.4L461.8 269.0L462.0 269.0L462.2 269.1L462.5 269.4L462.8 269.4L463.0 269.2L463.2 269.2L463.5 269.2L463.8 269.5L464.0 269.0L464.2 269.4L464.5 269.5L464.8 269.3L465.0 269.6L465.2 269.2L465.5 269.0L465.8 268.9L466.0 269.2L466.2 269.5L466.5 268.9L466.8 269.3L467.0 269.0L467.2 269.1L467.5 269.2L467.8 268.9L468.0 269.3L468.2 269.4L468.5 269.2L468.8 269.1L469.0 269.6L469.2 269.7L469.5 269.4L469.8 269.2L470.0 269.2L470.2 269.2L470.5 269.4L470.8 269.4L471.0 269.3L471.2 269.0L471.5 268.8L471.8 269.1L472.0 269.1L472.2 268.4L472.5 268.6L472.8 268.2L473.0 267.9L473.2 267.7L473.5 268.0L473.8 267.8L474.0 267.2L474.2 267.4L474.5 267.3L474.8 266.8L475.0 267.4L475.2 267.4L475.5 267.8L475.8 267.8L476.0 268.1L476.2 268.6L476.5 268.7L476.8 268.5L477.0 269.2L477.2 269.8L477.5 269.6L477.8 269.6L478.0 269.8L478.2 270.1L478.5 270.5L478.8 270.2L479.0 270.7L479.2 270.5L479.5 270.7L479.8 270.6L480.0 270.7L480.2 270.6L480.5 270.8L480.8 270.6L481.0 270.7L481.2 270.6L481.5 270.6L481.8 270.7L482.0 270.5L482.2 270.7L482.5 270.6L482.8 270.7L483.0 270.7L483.2 270.5L483.5 270.8L483.8 270.6L484.0 270.7L484.2 270.5L484.5 270.4L484.8 270.7L485.0 270.5L485.2 270.7L485.5 270.7L485.8 270.8L486.0 270.8L486.2 270.7L486.5 270.6L486.8 270.6L487.0 270.7L487.2 270.7L487.5 270.6L487.8 270.6L488.0 270.5L488.2 270.7L488.5 270.5L488.8 270.8L489.0 270.8L489.2 270.6L489.5 270.8L489.8 270.8L490.0 270.6L490.2 270.6L490.5 270.7L490.8 270.6L491.0 270.6L491.2 270.6L491.5 270.7L491.8 270.8L492.0 270.6L492.2 270.8L492.5 270.6L492.8 270.6L493.0 270.6L493.2 270.8L493.5 270.8L493.8 270.6L494.0 270.6L494.2 270.8L494.5 270.8L494.8 270.7L495.0 270.7L495.2 270.7L495.5 270.8L495.8 270.7L496.0 270.7L496.2 270.8L496.5 270.7L496.8 270.8L497.0 270.7L497.2 270.5L497.5 270.7L497.8 270.8L498.0 270.6L498.2 270.5L498.5 270.5L498.8 270.6L499.0 270.8L499.2 270.4L499.5 270.7L499.8 270.6L500.0 270.8L500.2 270.4L500.5 270.5L500.8 270.6L501.0 270.8L501.2 270.6L501.5 270.6L501.8 270.6L502.0 270.6L502.2 270.6L502.5 270.7L502.8 270.6L503.0 270.7L503.2 270.6L503.5 270.7L503.8 270.6L504.0 270.7L504.2 270.8L504.5 270.7L504.8 270.7L505.0 270.8L505.2 270.5L505.5 270.8L505.8 270.7L506.0 270.7L506.2 270.6L506.5 270.5L506.8 270.8L507.0 270.6L507.2 270.6L507.5 270.6L507.8 270.8L508.0 270.7L508.2 270.8L508.5 270.7L508.8 270.8L509.0 270.6L509.2 270.7L509.5 270.8L509.8 270.7L510.0 270.8L510.2 270.7L510.5 270.7L510.8 270.7L511.0 270.8L511.2 270.4L511.5 270.7L511.8 270.8L512.0 270.5L512.2 270.8L512.5 270.6L512.8 270.7L513.0 270.7L513.2 270.7L513.5 270.8L513.8 270.8L514.0 270.7L514.0 271.4Z" fill="#3a70dc"/>
<line x1="428.2" y1="261" x2="445.6" y2="261" stroke="#bcbcbc" stroke-width="0.75"/>
<line x1="424" y1="264" x2="445" y2="264" stroke="#bcbcbc" stroke-width="0.75"/>
<line x1="450.7" y1="255.2" x2="467" y2="255.2" stroke="#bcbcbc" stroke-width="0.75"/>
<line x1="468.7" y1="252.8" x2="479.3" y2="252.8" stroke="#bcbcbc" stroke-width="0.75"/>
<text x="449.7" y="221.5" font-size="7.6" font-weight="bold" textLength="40.0" lengthAdjust="spacingAndGlyphs" fill="#111">GO/G1:75,3%</text>
<text x="449.7" y="250.20000000000002" font-size="7.6" font-weight="bold" textLength="24.5" lengthAdjust="spacingAndGlyphs" fill="#111">S:12.5%</text>
<text x="475.2" y="263.5" font-size="7.6" font-weight="bold" textLength="31.6" lengthAdjust="spacingAndGlyphs" fill="#111">G2/M:9.2%</text>
<line x1="310.5" y1="289.5" x2="310.5" y2="374.5" stroke="#d4d4d4" stroke-width="0.9"/>
<line x1="310.5" y1="374.5" x2="403.6" y2="374.5" stroke="#c8c8c8" stroke-width="0.8"/>
<line x1="403.6" y1="289.5" x2="403.6" y2="374.5" stroke="#d4d4d4" stroke-width="1.0"/>
<text x="308.7" y="291.0" font-size="7" text-anchor="middle" font-weight="bold" textLength="10.2" lengthAdjust="spacingAndGlyphs" transform="rotate(-90 308.7 291.0)" fill="#1a1a1a">654</text>
<text x="308.7" y="326.8" font-size="6.8" text-anchor="middle" font-weight="bold" textLength="19.6" lengthAdjust="spacingAndGlyphs" transform="rotate(-90 308.7 326.8)" fill="#1a1a1a">Events</text>
<text x="308.6" y="375.3" font-size="7.2" text-anchor="middle" transform="rotate(-90 308.6 375.3)" fill="#1a1a1a">0</text>
<text x="311.3" y="381.7" font-size="7.2" text-anchor="middle" textLength="3.6" lengthAdjust="spacingAndGlyphs" fill="#1a1a1a">0</text>
<text x="358.25" y="381.7" font-size="7.2" text-anchor="middle" textLength="5.6" lengthAdjust="spacingAndGlyphs" fill="#1a1a1a">PI</text>
<text x="403.6" y="381.7" font-size="7.2" text-anchor="middle" textLength="14" lengthAdjust="spacingAndGlyphs" fill="#1a1a1a">1000</text>
<path d="M314.0 374.5L314.0 373.8L314.2 373.8L314.5 373.7L314.8 373.8L315.0 373.8L315.2 373.6L315.5 373.8L315.8 373.7L316.0 373.7L316.2 373.9L316.5 373.7L316.8 373.8L317.0 373.8L317.2 373.8L317.5 373.9L317.8 373.7L318.0 373.7L318.2 373.7L318.5 373.7L318.8 373.9L319.0 373.8L319.2 373.9L319.5 373.6L319.8 373.8L320.0 373.6L320.2 373.9L320.5 373.9L320.8 373.9L321.0 373.8L321.2 373.7L321.5 373.8L321.8 373.8L322.0 373.8L322.2 373.8L322.5 373.8L322.8 373.8L323.0 373.8L323.2 373.8L323.5 373.8L323.8 373.8L324.0 373.8L324.2 373.9L324.5 373.9L324.8 373.9L325.0 373.9L325.2 373.9L325.5 373.6L325.8 373.7L326.0 373.8L326.2 373.8L326.5 373.7L326.8 373.9L327.0 373.9L327.2 373.8L327.5 373.7L327.8 373.9L328.0 373.7L328.2 373.8L328.5 373.7L328.8 373.7L329.0 373.8L329.2 373.8L329.5 373.9L329.8 373.8L330.0 373.8L330.2 373.7L330.5 373.6L330.8 373.7L331.0 373.7L331.2 373.7L331.5 373.9L331.8 373.8L332.0 373.6L332.2 373.5L332.5 373.8L332.8 373.7L333.0 373.7L333.2 373.7L333.5 373.7L333.8 373.7L334.0 373.7L334.2 373.7L334.5 373.9L334.8 373.8L335.0 373.9L335.2 373.7L335.5 373.7L335.8 373.8L336.0 373.7L336.2 373.6L336.5 373.6L336.8 373.8L337.0 373.9L337.2 373.8L337.5 373.6L337.8 373.9L338.0 373.7L338.2 373.7L338.5 373.8L338.8 373.8L339.0 373.8L339.2 373.7L339.5 373.8L339.8 372.9L340.0 368.5L340.2 364.1L340.5 362.2L340.8 361.1L341.0 359.2L341.2 357.3L341.5 353.7L341.8 349.8L342.0 344.8L342.2 339.3L342.5 334.1L342.8 329.8L343.0 327.1L343.2 326.5L343.5 327.4L343.8 329.5L344.0 332.6L344.2 336.6L344.5 340.7L344.8 345.5L345.0 350.2L345.2 354.5L345.5 357.4L345.8 361.8L346.0 363.5L346.2 364.7L346.5 366.9L346.8 367.7L347.0 368.0L347.2 368.2L347.5 369.2L347.8 369.5L348.0 369.8L348.2 369.4L348.5 369.6L348.8 370.1L349.0 369.4L349.2 370.3L349.5 369.5L349.8 369.9L350.0 370.4L350.2 370.0L350.5 370.0L350.8 369.8L351.0 370.4L351.2 370.3L351.5 369.8L351.8 370.1L352.0 370.5L352.2 370.5L352.5 370.6L352.8 370.0L353.0 370.3L353.2 370.4L353.5 370.6L353.8 370.5L354.0 370.5L354.2 369.6L354.5 370.3L354.8 370.5L355.0 370.5L355.2 370.4L355.5 370.5L355.8 370.5L356.0 370.2L356.2 370.0L356.5 370.7L356.8 370.1L357.0 370.6L357.2 370.2L357.5 370.3L357.8 370.7L358.0 370.1L358.2 370.5L358.5 370.6L358.8 370.1L359.0 370.3L359.2 369.8L359.5 370.6L359.8 370.7L360.0 370.2L360.2 369.8L360.5 370.2L360.8 369.6L361.0 370.1L361.2 370.4L361.5 370.7L361.8 369.7L362.0 370.8L362.2 370.7L362.5 370.8L362.8 370.2L363.0 370.7L363.2 370.9L363.5 370.8L363.8 370.8L364.0 370.4L364.2 370.3L364.5 370.5L364.8 370.5L365.0 370.2L365.2 370.8L365.5 370.6L365.8 371.0L366.0 370.7L366.2 369.9L366.5 370.5L366.8 371.0L367.0 370.7L367.2 370.3L367.5 370.0L367.8 370.6L368.0 370.9L368.2 370.7L368.5 370.6L368.8 370.5L369.0 370.4L369.2 370.5L369.5 370.3L369.8 370.7L370.0 370.6L370.2 369.8L370.5 370.0L370.8 370.3L371.0 370.0L371.2 369.3L371.5 369.5L371.8 369.3L372.0 369.0L372.2 369.0L372.5 368.6L372.8 368.9L373.0 368.4L373.2 368.3L373.5 368.5L373.8 368.2L374.0 367.6L374.2 367.6L374.5 367.8L374.8 368.2L375.0 367.9L375.2 368.2L375.5 368.6L375.8 368.2L376.0 368.9L376.2 369.1L376.5 369.3L376.8 370.2L377.0 370.4L377.2 370.3L377.5 371.4L377.8 371.3L378.0 371.5L378.2 371.3L378.5 371.4L378.8 372.6L379.0 372.8L379.2 372.8L379.5 373.1L379.8 373.2L380.0 373.2L380.2 373.4L380.5 373.5L380.8 373.5L381.0 373.6L381.2 373.5L381.5 373.5L381.8 373.6L382.0 373.7L382.2 373.8L382.5 373.8L382.8 373.6L383.0 373.5L383.2 373.8L383.5 373.8L383.8 373.8L384.0 373.8L384.2 373.9L384.5 373.7L384.8 373.8L385.0 373.9L385.2 373.9L385.5 373.9L385.8 373.6L386.0 373.9L386.2 373.9L386.5 373.8L386.8 373.8L387.0 373.8L387.2 373.8L387.5 373.9L387.8 373.8L388.0 373.9L388.2 373.6L388.5 373.4L388.8 373.6L389.0 373.8L389.2 373.9L389.5 373.6L389.8 373.7L390.0 373.7L390.2 373.5L390.5 373.9L390.8 373.8L391.0 373.9L391.2 373.8L391.5 373.9L391.8 373.5L392.0 373.7L392.2 373.7L392.5 373.9L392.8 373.7L393.0 373.9L393.2 373.7L393.5 373.8L393.8 373.7L394.0 373.7L394.2 373.7L394.5 373.7L394.8 373.8L395.0 373.7L395.2 373.7L395.5 373.9L395.8 373.8L396.0 373.8L396.2 373.7L396.5 373.9L396.8 373.9L397.0 373.9L397.2 373.9L397.5 373.9L397.8 373.8L398.0 373.9L398.2 373.9L398.5 373.8L398.8 373.8L399.0 373.9L399.2 373.6L399.5 373.8L399.8 373.9L400.0 373.8L400.2 373.9L400.5 373.9L400.8 373.9L401.0 373.9L401.2 373.8L401.5 373.6L401.8 373.6L402.0 373.7L402.2 373.8L402.5 373.8L402.5 374.5Z" fill="#f07a1e"/>
<line x1="317" y1="364.4" x2="338.5" y2="364.4" stroke="#bcbcbc" stroke-width="0.75"/>
<line x1="312.4" y1="367.6" x2="338.5" y2="367.6" stroke="#bcbcbc" stroke-width="0.75"/>
<line x1="370" y1="355.3" x2="390" y2="355.3" stroke="#bcbcbc" stroke-width="0.75"/>
<line x1="338" y1="353.4" x2="347" y2="353.4" stroke="#c07850" stroke-width="0.8"/>
<text x="345.2" y="333.2" font-size="7.6" font-weight="bold" textLength="39.5" lengthAdjust="spacingAndGlyphs" fill="#111">GO/G1:58,5%</text>
<text x="365.0" y="353.8" font-size="7.6" font-weight="bold" textLength="30.6" lengthAdjust="spacingAndGlyphs" fill="#111">G2/M:13%</text>
<text x="348.8" y="364.90000000000003" font-size="7.6" font-weight="bold" textLength="23.3" lengthAdjust="spacingAndGlyphs" fill="#111">S:25.3%</text>
<line x1="421.3" y1="289.5" x2="421.3" y2="373.7" stroke="#d4d4d4" stroke-width="0.9"/>
<line x1="421.3" y1="373.7" x2="514.9" y2="373.7" stroke="#c8c8c8" stroke-width="0.8"/>
<line x1="514.9" y1="358" x2="514.9" y2="373.7" stroke="#b8b8b8" stroke-width="1.0"/>
<text x="419.5" y="291.0" font-size="7" text-anchor="middle" font-weight="bold" textLength="10.2" lengthAdjust="spacingAndGlyphs" transform="rotate(-90 419.5 291.0)" fill="#1a1a1a">654</text>
<text x="419.5" y="326.8" font-size="6.8" text-anchor="middle" font-weight="bold" textLength="19.6" lengthAdjust="spacingAndGlyphs" transform="rotate(-90 419.5 326.8)" fill="#1a1a1a">Events</text>
<text x="419.40000000000003" y="374.5" font-size="7.2" text-anchor="middle" transform="rotate(-90 419.40000000000003 374.5)" fill="#1a1a1a">0</text>
<text x="422.1" y="380.9" font-size="7.2" text-anchor="middle" textLength="3.6" lengthAdjust="spacingAndGlyphs" fill="#1a1a1a">0</text>
<text x="469.3" y="380.9" font-size="7.2" text-anchor="middle" textLength="5.6" lengthAdjust="spacingAndGlyphs" fill="#1a1a1a">PI</text>
<text x="514.9" y="380.9" font-size="7.2" text-anchor="middle" textLength="14" lengthAdjust="spacingAndGlyphs" fill="#1a1a1a">1000</text>
<path d="M424.0 373.7L424.0 373.2L424.2 373.2L424.5 373.2L424.8 373.1L425.0 373.3L425.2 372.9L425.5 373.1L425.8 373.3L426.0 373.2L426.2 373.2L426.5 373.3L426.8 373.1L427.0 373.2L427.2 373.2L427.5 373.2L427.8 373.2L428.0 373.0L428.2 373.1L428.5 373.3L428.8 373.3L429.0 373.3L429.2 373.3L429.5 373.1L429.8 373.3L430.0 373.3L430.2 373.3L430.5 373.2L430.8 373.0L431.0 373.2L431.2 373.2L431.5 373.2L431.8 373.1L432.0 373.3L432.2 373.3L432.5 373.2L432.8 373.3L433.0 373.2L433.2 373.3L433.5 373.2L433.8 373.2L434.0 373.2L434.2 373.3L434.5 373.1L434.8 373.3L435.0 373.2L435.2 373.3L435.5 373.2L435.8 373.2L436.0 373.3L436.2 373.2L436.5 373.2L436.8 373.3L437.0 373.1L437.2 373.1L437.5 373.3L437.8 373.2L438.0 373.3L438.2 373.1L438.5 373.3L438.8 373.3L439.0 373.1L439.2 373.3L439.5 372.8L439.8 373.3L440.0 373.2L440.2 373.1L440.5 373.2L440.8 372.9L441.0 373.1L441.2 373.1L441.5 373.2L441.8 373.1L442.0 373.2L442.2 373.2L442.5 373.2L442.8 373.2L443.0 373.2L443.2 373.2L443.5 373.2L443.8 373.1L444.0 372.8L444.2 370.8L444.5 363.6L444.8 355.3L445.0 350.2L445.2 343.9L445.5 335.6L445.8 324.9L446.0 313.3L446.2 302.7L446.5 295.5L446.8 293.5L447.0 295.9L447.2 301.2L447.5 308.7L447.8 317.6L448.0 327.1L448.2 335.7L448.5 344.0L448.8 350.4L449.0 355.5L449.2 360.2L449.5 363.2L449.8 364.5L450.0 366.3L450.2 366.7L450.5 366.9L450.8 367.5L451.0 367.4L451.2 368.2L451.5 367.7L451.8 368.6L452.0 368.8L452.2 368.7L452.5 368.8L452.8 368.6L453.0 368.5L453.2 369.3L453.5 368.9L453.8 368.2L454.0 369.4L454.2 369.2L454.5 369.4L454.8 369.5L455.0 369.4L455.2 369.3L455.5 369.5L455.8 369.4L456.0 368.8L456.2 369.3L456.5 368.9L456.8 369.6L457.0 369.3L457.2 369.5L457.5 369.2L457.8 369.1L458.0 369.6L458.2 369.1L458.5 368.5L458.8 369.5L459.0 369.4L459.2 369.4L459.5 369.2L459.8 368.5L460.0 369.6L460.2 369.6L460.5 369.0L460.8 369.7L461.0 369.1L461.2 369.7L461.5 369.6L461.8 369.5L462.0 369.5L462.2 369.4L462.5 369.3L462.8 369.5L463.0 369.6L463.2 369.4L463.5 369.6L463.8 369.1L464.0 369.5L464.2 369.2L464.5 369.3L464.8 369.2L465.0 369.4L465.2 369.7L465.5 368.7L465.8 369.4L466.0 368.7L466.2 368.9L466.5 369.4L466.8 369.7L467.0 369.4L467.2 369.1L467.5 369.4L467.8 368.7L468.0 368.7L468.2 368.6L468.5 367.9L468.8 368.0L469.0 367.7L469.2 367.4L469.5 366.7L469.8 366.1L470.0 365.7L470.2 365.5L470.5 364.5L470.8 364.6L471.0 364.0L471.2 363.7L471.5 364.7L471.8 365.0L472.0 364.7L472.2 365.2L472.5 366.4L472.8 367.0L473.0 367.7L473.2 368.6L473.5 369.2L473.8 370.2L474.0 370.8L474.2 371.1L474.5 370.7L474.8 371.7L475.0 372.2L475.2 372.5L475.5 372.7L475.8 372.8L476.0 372.8L476.2 372.9L476.5 372.9L476.8 373.1L477.0 373.0L477.2 372.9L477.5 372.9L477.8 373.1L478.0 373.0L478.2 372.8L478.5 373.1L478.8 373.1L479.0 373.0L479.2 372.8L479.5 373.0L479.8 373.1L480.0 373.0L480.2 373.1L480.5 373.1L480.8 372.9L481.0 372.9L481.2 373.1L481.5 372.9L481.8 373.0L482.0 373.1L482.2 373.0L482.5 372.7L482.8 373.1L483.0 372.9L483.2 373.0L483.5 372.8L483.8 373.1L484.0 373.1L484.2 373.0L484.5 373.0L484.8 373.1L485.0 373.0L485.2 372.8L485.5 372.9L485.8 373.1L486.0 372.9L486.2 372.9L486.5 373.1L486.8 373.1L487.0 373.0L487.2 372.8L487.5 373.1L487.8 373.1L488.0 372.9L488.2 373.0L488.5 373.1L488.8 373.0L489.0 373.0L489.2 372.8L489.5 373.0L489.8 373.0L490.0 373.1L490.2 373.0L490.5 373.1L490.8 373.1L491.0 373.0L491.2 372.8L491.5 373.0L491.8 372.9L492.0 373.0L492.2 373.1L492.5 373.1L492.8 372.9L493.0 372.9L493.2 373.0L493.5 373.0L493.8 372.9L494.0 373.0L494.2 372.6L494.5 373.1L494.8 372.9L495.0 372.9L495.2 373.0L495.5 373.1L495.8 373.1L496.0 372.8L496.2 373.0L496.5 373.0L496.8 372.9L497.0 373.0L497.2 372.9L497.5 373.1L497.8 372.8L498.0 372.8L498.2 373.0L498.5 373.0L498.8 372.8L499.0 373.0L499.2 372.9L499.5 372.9L499.8 373.1L500.0 372.9L500.2 372.9L500.5 373.0L500.8 373.0L501.0 373.1L501.2 373.0L501.5 372.9L501.8 372.9L502.0 372.9L502.2 372.9L502.5 372.9L502.8 372.9L503.0 373.1L503.2 373.1L503.5 372.9L503.8 372.9L504.0 372.9L504.2 373.1L504.5 372.9L504.8 373.0L505.0 373.0L505.2 373.0L505.5 373.1L505.8 373.1L506.0 372.9L506.2 373.1L506.5 373.0L506.8 372.9L507.0 373.1L507.2 373.1L507.5 373.1L507.8 373.0L508.0 372.9L508.2 373.1L508.5 373.0L508.8 372.9L509.0 373.0L509.2 372.9L509.5 373.0L509.8 373.0L510.0 373.0L510.2 373.0L510.5 372.9L510.8 372.9L511.0 373.0L511.2 372.9L511.5 372.8L511.8 373.0L512.0 372.9L512.2 373.0L512.5 373.0L512.8 372.9L513.0 373.0L513.2 372.9L513.5 372.9L513.8 373.0L513.8 373.7Z" fill="#0c0c88"/>
<line x1="427" y1="363.7" x2="445.4" y2="363.7" stroke="#bcbcbc" stroke-width="0.75"/>
<line x1="424" y1="367.2" x2="445" y2="367.2" stroke="#bcbcbc" stroke-width="0.75"/>
<text x="450.0" y="313.0" font-size="7.6" font-weight="bold" textLength="40.4" lengthAdjust="spacingAndGlyphs" fill="#111">GO/G1:76,5%</text>
<text x="466.6" y="353.3" font-size="7.6" font-weight="bold" textLength="32.8" lengthAdjust="spacingAndGlyphs" fill="#111">G2/M:9.2%</text>
<text x="448.4" y="364.8" font-size="7.6" font-weight="bold" textLength="24.3" lengthAdjust="spacingAndGlyphs" fill="#111">S:12.5%</text>
</svg></body></html>
